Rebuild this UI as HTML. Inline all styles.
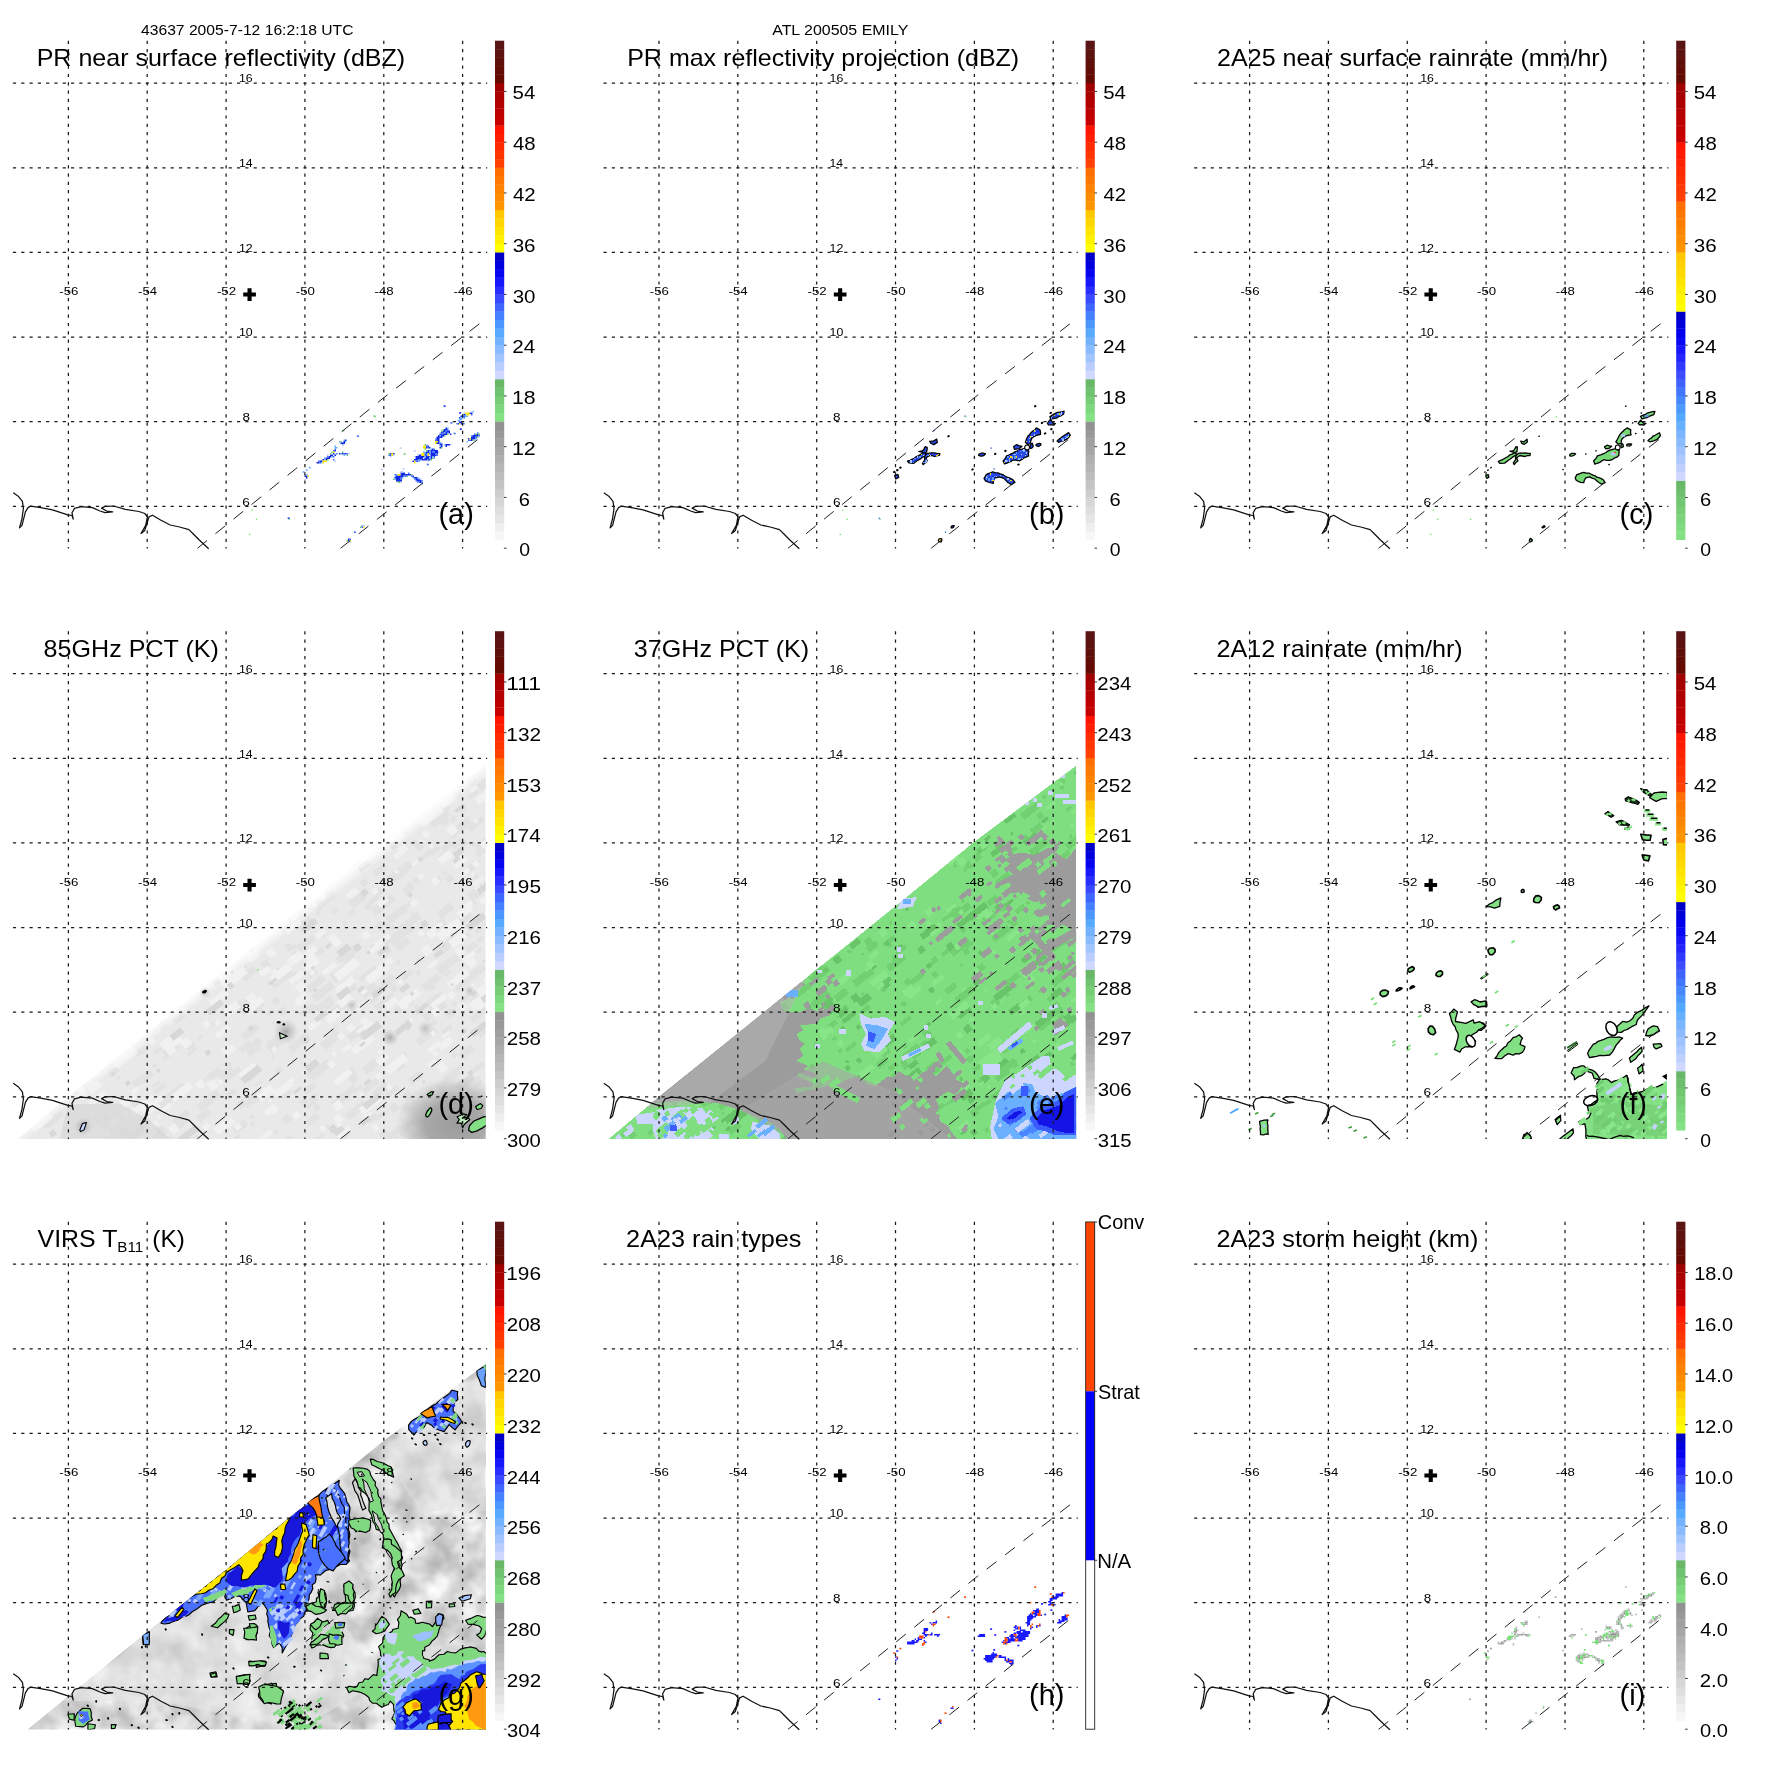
<!DOCTYPE html>
<html><head><meta charset="utf-8"><title>TRMM 43637 ATL 200505 EMILY</title>
<style>html,body{margin:0;padding:0;background:#fff}svg{display:block;will-change:transform}text{font-family:"Liberation Sans",sans-serif;fill:#000}</style></head><body>
<svg width="1771" height="1771" viewBox="0 0 1771 1771">
<rect width="1771" height="1771" fill="#fff"/>
<defs><g id="grid" stroke="#1a1a1a" stroke-width="1.25" stroke-dasharray="3.2 5.1" fill="none">
<path d="M68.4 40.7V548.6"/>
<path d="M147.2 40.7V548.6"/>
<path d="M226.1 40.7V548.6"/>
<path d="M304.9 40.7V548.6"/>
<path d="M383.8 40.7V548.6"/>
<path d="M462.6 40.7V548.6"/>
<path d="M12.9 83.1H487.2"/>
<path d="M12.9 167.8H487.2"/>
<path d="M12.9 252.4H487.2"/>
<path d="M12.9 337.1H487.2"/>
<path d="M12.9 421.7H487.2"/>
<path d="M12.9 506.4H487.2"/>
</g>
<g id="lab" font-size="11.6" fill="#111">
<text x="59.24" y="295.0" font-size="11.5" textLength="19.1" lengthAdjust="spacingAndGlyphs" >-56</text>
<text x="138.09" y="295.0" font-size="11.5" textLength="19.0" lengthAdjust="spacingAndGlyphs" >-54</text>
<text x="216.94" y="295.0" font-size="11.5" textLength="19.2" lengthAdjust="spacingAndGlyphs" >-52</text>
<text x="295.79" y="295.0" font-size="11.5" textLength="19.1" lengthAdjust="spacingAndGlyphs" >-50</text>
<text x="374.64" y="295.0" font-size="11.5" textLength="19.1" lengthAdjust="spacingAndGlyphs" >-48</text>
<text x="453.49" y="295.0" font-size="11.5" textLength="19.1" lengthAdjust="spacingAndGlyphs" >-46</text>
<text x="238.94" y="82.4" font-size="11.5" textLength="13.7" lengthAdjust="spacingAndGlyphs" >16</text>
<text x="238.94" y="167.1" font-size="11.5" textLength="13.6" lengthAdjust="spacingAndGlyphs" >14</text>
<text x="238.94" y="251.7" font-size="11.5" textLength="13.8" lengthAdjust="spacingAndGlyphs" >12</text>
<text x="238.94" y="336.4" font-size="11.5" textLength="13.7" lengthAdjust="spacingAndGlyphs" >10</text>
<text x="242.44" y="421.0" font-size="11.5" textLength="7.5" lengthAdjust="spacingAndGlyphs" >8</text>
<text x="242.33" y="505.7" font-size="11.5" textLength="7.6" lengthAdjust="spacingAndGlyphs" >6</text>
</g>
<path id="plus" d="M247.5 288.2h4.1v4.3h4.3v4.1h-4.3v4.4h-4.1v-4.4h-4.3v-4.1h4.3z" fill="#000"/>
<path id="coast" d="M13.2 492.8L18.6 496.6L22.4 501.3L23.4 508.4L22 518.6L19.5 527.9L22 525.4L23.7 518.6L25.4 511.8L28 507.6L30.5 506.2L40.7 507.6L52.5 509.8L67.8 514.9L72 515.5L73.2 519.1L72 512.7L74.5 508.4L81.3 506.7L92.3 507.6L100 511L105 512.7L112.7 511.8L106.7 511L101.6 508.1L105 506.4L113.5 506L125.4 509.3L138.9 511.5L144.8 513.5L147.4 516.9L145.7 525.4L141 533.5L144.8 530.4L147.4 522L149 516.9L152.5 515.2L161 520.3L170.2 525L179.6 527L188.9 529.6L193.1 533.8L199 539.8L208.7 548.7" fill="none" stroke="#111" stroke-width="1.25" stroke-linejoin="round"/>
<g id="swath" stroke="#222" stroke-width="1.0" stroke-dasharray="12.4 10.8" fill="none"><path d="M197.4 548.3L383.5 397.9L483 321"/><path d="M340.5 548.3L481.5 436.5"/></g>
<g id="over"><use href="#grid"/><use href="#swath"/><use href="#coast"/><use href="#lab"/><use href="#plus"/></g></defs>
<defs><clipPath id="cde"><path d="M17.9 548.4L68.7 506.0L146.6 443.3L225.9 379.0L304.9 315.5L383.9 251.1L462.5 192.2L485.7 175.0L485.7 548.4Z"/></clipPath>
<linearGradient id="gd" gradientUnits="userSpaceOnUse" x1="250" y1="358" x2="257.4" y2="367.4"><stop offset="0" stop-color="#fff"/><stop offset="1" stop-color="#fff" stop-opacity="0"/></linearGradient>
<radialGradient id="rd" gradientUnits="userSpaceOnUse" cx="455" cy="534" r="60" gradientTransform="translate(455 534) scale(1 0.8) translate(-455 -534)"><stop offset="0" stop-color="#9c9c9c"/><stop offset="0.5" stop-color="#a6a6a6" stop-opacity="0.96"/><stop offset="0.8" stop-color="#bcbcbc" stop-opacity="0.6"/><stop offset="1" stop-color="#d0d0d0" stop-opacity="0"/></radialGradient>
<radialGradient id="rs" cx="0.5" cy="0.5" r="0.5"><stop offset="0" stop-color="#9a9a9a" stop-opacity="0.9"/><stop offset="1" stop-color="#bbb" stop-opacity="0"/></radialGradient>
<clipPath id="cg"><path d="M27.6 548.6L147.9 450.2L226.6 388.5L304.5 324.2L384.0 259.4L485.8 182.7L485.8 548.6Z"/></clipPath>
<filter id="ng" x="0" y="0" width="100%" height="100%" color-interpolation-filters="sRGB"><feTurbulence type="fractalNoise" baseFrequency="0.035" numOctaves="3" seed="7"/><feColorMatrix type="matrix" values="0.5 0 0 0 0.6  0.5 0 0 0 0.6  0.5 0 0 0 0.6  0 0 0 0 1"/></filter>
<filter id="nd" x="0" y="0" width="100%" height="100%" color-interpolation-filters="sRGB"><feTurbulence type="fractalNoise" baseFrequency="0.06" numOctaves="2" seed="3"/><feColorMatrix type="matrix" values="0.22 0 0 0 0.80  0.22 0 0 0 0.80  0.22 0 0 0 0.80  0 0 0 0 1"/></filter>
<clipPath id="cf"><rect x="0" y="0" width="485.8" height="548.4"/></clipPath></defs>
<text x="141.00" y="34.5" font-size="14.8" textLength="212.5" lengthAdjust="spacingAndGlyphs" >43637 2005-7-12 16:2:18 UTC</text>
<text x="772.20" y="34.7" font-size="14.8" textLength="136.1" lengthAdjust="spacingAndGlyphs" >ATL 200505 EMILY</text>
<g transform="translate(0.0 0.0)">
<g>
<path d="M316.5 462.0h1.50v1.50h-1.50zM318.0 462.0h1.50v1.50h-1.50zM319.5 460.5h1.50v1.50h-1.50zM321.0 460.5h1.50v1.50h-1.50zM322.5 459.0h1.50v1.50h-1.50zM325.5 457.5h1.50v1.50h-1.50zM325.5 459.0h1.50v1.50h-1.50zM327.0 457.5h1.50v1.50h-1.50zM328.5 456.0h1.50v1.50h-1.50zM328.5 457.5h1.50v1.50h-1.50zM330.0 454.5h1.50v1.50h-1.50zM330.0 456.0h1.50v1.50h-1.50zM331.5 454.5h1.50v1.50h-1.50zM333.0 453.0h1.50v1.50h-1.50z" fill="#1428e8"/><path d="M318.0 460.5h1.50v1.50h-1.50zM319.5 462.0h1.50v1.50h-1.50zM327.0 456.0h1.50v1.50h-1.50z" fill="#3c6cff"/><path d="M321.0 462.0h1.50v1.50h-1.50zM324.0 457.5h1.50v1.50h-1.50zM324.0 459.0h1.50v1.50h-1.50zM331.5 456.0h1.50v1.50h-1.50zM334.5 454.5h1.50v1.50h-1.50z" fill="#6ab0ff"/><path d="M322.5 460.5h1.50v1.50h-1.50zM322.5 462.0h1.50v1.50h-1.50zM324.0 460.5h1.50v1.50h-1.50zM325.5 460.5h1.50v1.50h-1.50z" fill="#ffe800"/><path d="M327.0 454.5h1.50v1.50h-1.50z" fill="#b8ccff"/><path d="M327.0 459.0h1.50v1.50h-1.50zM330.0 453.0h1.50v1.50h-1.50z" fill="#70c870"/>
<path d="M331.5 451.5h1.50v1.50h-1.50z" fill="#70c870"/><path d="M333.0 450.0h1.50v1.50h-1.50zM334.5 448.5h1.50v1.50h-1.50z" fill="#3c6cff"/><path d="M333.0 451.5h1.50v1.50h-1.50z" fill="#ffe800"/><path d="M334.5 445.5h1.50v1.50h-1.50zM334.5 447.0h1.50v1.50h-1.50zM336.0 447.0h1.50v1.50h-1.50z" fill="#6ab0ff"/><path d="M334.5 450.0h1.50v1.50h-1.50z" fill="#1428e8"/>
<path d="M333.0 456.0h1.50v1.50h-1.50zM333.0 459.0h1.50v1.50h-1.50zM336.0 453.0h1.50v1.50h-1.50zM343.5 453.0h1.50v1.50h-1.50zM346.5 453.0h1.50v1.50h-1.50z" fill="#3c6cff"/><path d="M334.5 454.5h1.50v1.50h-1.50zM339.0 453.0h1.50v1.50h-1.50zM342.0 453.0h1.50v1.50h-1.50zM345.0 453.0h1.50v1.50h-1.50z" fill="#1428e8"/><path d="M334.5 460.5h1.50v1.50h-1.50zM348.0 453.0h1.50v1.50h-1.50z" fill="#b8ccff"/><path d="M340.5 453.0h1.50v1.50h-1.50zM343.5 454.5h1.50v1.50h-1.50z" fill="#6ab0ff"/><path d="M342.0 451.5h1.50v1.50h-1.50zM346.5 454.5h1.50v1.50h-1.50z" fill="#70c870"/>
<path d="M339.0 441.0h1.50v1.50h-1.50zM342.0 444.0h1.50v1.50h-1.50zM343.5 439.5h1.50v1.50h-1.50zM345.0 441.0h1.50v1.50h-1.50z" fill="#6ab0ff"/><path d="M340.5 441.0h1.50v1.50h-1.50z" fill="#70c870"/><path d="M340.5 442.5h1.50v1.50h-1.50zM342.0 442.5h1.50v1.50h-1.50zM343.5 441.0h1.50v1.50h-1.50zM343.5 442.5h1.50v1.50h-1.50zM345.0 439.5h1.50v1.50h-1.50z" fill="#1428e8"/>
<path d="M304.5 475.5h1.50v1.50h-1.50zM306.0 475.5h1.50v1.50h-1.50zM306.0 477.0h1.50v1.50h-1.50z" fill="#1428e8"/><path d="M304.5 478.5h1.50v1.50h-1.50z" fill="#b8ccff"/><path d="M306.0 474.0h1.50v1.50h-1.50z" fill="#6ab0ff"/><path d="M307.5 475.5h1.50v1.50h-1.50z" fill="#ffe800"/>
<path d="M412.5 460.5h1.50v1.50h-1.50zM414.0 459.0h1.50v1.50h-1.50zM415.5 456.0h1.50v1.50h-1.50zM415.5 457.5h1.50v1.50h-1.50zM415.5 459.0h1.50v1.50h-1.50zM417.0 456.0h1.50v1.50h-1.50zM417.0 457.5h1.50v1.50h-1.50zM417.0 459.0h1.50v1.50h-1.50zM418.5 454.5h1.50v1.50h-1.50zM418.5 456.0h1.50v1.50h-1.50zM418.5 457.5h1.50v1.50h-1.50zM420.0 454.5h1.50v1.50h-1.50zM420.0 456.0h1.50v1.50h-1.50zM420.0 457.5h1.50v1.50h-1.50zM421.5 456.0h1.50v1.50h-1.50zM421.5 457.5h1.50v1.50h-1.50zM421.5 459.0h1.50v1.50h-1.50zM423.0 456.0h1.50v1.50h-1.50zM423.0 459.0h1.50v1.50h-1.50zM424.5 457.5h1.50v1.50h-1.50zM424.5 459.0h1.50v1.50h-1.50zM426.0 451.5h1.50v1.50h-1.50zM426.0 456.0h1.50v1.50h-1.50zM426.0 457.5h1.50v1.50h-1.50zM426.0 459.0h1.50v1.50h-1.50zM427.5 450.0h1.50v1.50h-1.50zM427.5 451.5h1.50v1.50h-1.50zM427.5 456.0h1.50v1.50h-1.50zM427.5 457.5h1.50v1.50h-1.50zM429.0 459.0h1.50v1.50h-1.50zM430.5 450.0h1.50v1.50h-1.50zM430.5 451.5h1.50v1.50h-1.50zM430.5 453.0h1.50v1.50h-1.50zM430.5 454.5h1.50v1.50h-1.50zM430.5 456.0h1.50v1.50h-1.50zM430.5 457.5h1.50v1.50h-1.50zM432.0 448.5h1.50v1.50h-1.50zM432.0 450.0h1.50v1.50h-1.50zM432.0 453.0h1.50v1.50h-1.50zM432.0 454.5h1.50v1.50h-1.50zM433.5 450.0h1.50v1.50h-1.50zM433.5 453.0h1.50v1.50h-1.50zM433.5 454.5h1.50v1.50h-1.50zM433.5 456.0h1.50v1.50h-1.50zM435.0 450.0h1.50v1.50h-1.50zM435.0 451.5h1.50v1.50h-1.50zM435.0 454.5h1.50v1.50h-1.50zM436.5 450.0h1.50v1.50h-1.50zM436.5 451.5h1.50v1.50h-1.50zM436.5 453.0h1.50v1.50h-1.50z" fill="#1428e8"/><path d="M414.0 456.0h1.50v1.50h-1.50zM417.0 454.5h1.50v1.50h-1.50zM427.5 460.5h1.50v1.50h-1.50zM438.0 451.5h1.50v1.50h-1.50z" fill="#b8ccff"/><path d="M414.0 460.5h1.50v1.50h-1.50zM414.0 462.0h1.50v1.50h-1.50zM421.5 453.0h1.50v1.50h-1.50zM421.5 454.5h1.50v1.50h-1.50zM423.0 453.0h1.50v1.50h-1.50zM423.0 454.5h1.50v1.50h-1.50zM427.5 453.0h1.50v1.50h-1.50zM427.5 454.5h1.50v1.50h-1.50z" fill="#ffe800"/><path d="M415.5 460.5h1.50v1.50h-1.50zM417.0 460.5h1.50v1.50h-1.50zM418.5 459.0h1.50v1.50h-1.50zM420.0 459.0h1.50v1.50h-1.50zM424.5 453.0h1.50v1.50h-1.50zM424.5 454.5h1.50v1.50h-1.50zM426.0 453.0h1.50v1.50h-1.50zM426.0 454.5h1.50v1.50h-1.50zM427.5 459.0h1.50v1.50h-1.50zM429.0 450.0h1.50v1.50h-1.50zM429.0 453.0h1.50v1.50h-1.50zM429.0 456.0h1.50v1.50h-1.50zM432.0 451.5h1.50v1.50h-1.50zM433.5 448.5h1.50v1.50h-1.50zM433.5 451.5h1.50v1.50h-1.50zM435.0 453.0h1.50v1.50h-1.50zM436.5 454.5h1.50v1.50h-1.50z" fill="#3c6cff"/><path d="M418.5 460.5h1.50v1.50h-1.50zM423.0 451.5h1.50v1.50h-1.50zM424.5 451.5h1.50v1.50h-1.50zM424.5 456.0h1.50v1.50h-1.50zM429.0 451.5h1.50v1.50h-1.50zM429.0 457.5h1.50v1.50h-1.50zM430.5 448.5h1.50v1.50h-1.50zM432.0 456.0h1.50v1.50h-1.50zM433.5 457.5h1.50v1.50h-1.50z" fill="#6ab0ff"/><path d="M426.0 450.0h1.50v1.50h-1.50zM430.5 459.0h1.50v1.50h-1.50zM432.0 457.5h1.50v1.50h-1.50z" fill="#70c870"/>
<path d="M435.0 438.0h1.50v1.50h-1.50zM439.5 435.0h1.50v1.50h-1.50zM444.0 432.0h1.50v1.50h-1.50zM447.0 427.5h1.50v1.50h-1.50z" fill="#6ab0ff"/><path d="M435.0 439.5h1.50v1.50h-1.50zM441.0 433.5h1.50v1.50h-1.50zM442.5 432.0h1.50v1.50h-1.50zM445.5 430.5h1.50v1.50h-1.50zM447.0 429.0h1.50v1.50h-1.50zM447.0 432.0h1.50v1.50h-1.50z" fill="#3c6cff"/><path d="M435.0 441.0h1.50v1.50h-1.50zM435.0 442.5h1.50v1.50h-1.50zM436.5 441.0h1.50v1.50h-1.50z" fill="#ffe800"/><path d="M436.5 436.5h1.50v1.50h-1.50zM436.5 438.0h1.50v1.50h-1.50zM436.5 439.5h1.50v1.50h-1.50zM436.5 442.5h1.50v1.50h-1.50zM438.0 435.0h1.50v1.50h-1.50zM438.0 436.5h1.50v1.50h-1.50zM438.0 438.0h1.50v1.50h-1.50zM438.0 439.5h1.50v1.50h-1.50zM438.0 441.0h1.50v1.50h-1.50zM438.0 442.5h1.50v1.50h-1.50zM439.5 433.5h1.50v1.50h-1.50zM439.5 436.5h1.50v1.50h-1.50zM441.0 432.0h1.50v1.50h-1.50zM441.0 435.0h1.50v1.50h-1.50zM441.0 436.5h1.50v1.50h-1.50zM442.5 430.5h1.50v1.50h-1.50zM442.5 433.5h1.50v1.50h-1.50zM442.5 435.0h1.50v1.50h-1.50zM444.0 429.0h1.50v1.50h-1.50zM444.0 430.5h1.50v1.50h-1.50zM444.0 433.5h1.50v1.50h-1.50zM445.5 427.5h1.50v1.50h-1.50zM445.5 429.0h1.50v1.50h-1.50zM445.5 432.0h1.50v1.50h-1.50zM445.5 433.5h1.50v1.50h-1.50zM447.0 430.5h1.50v1.50h-1.50zM448.5 430.5h1.50v1.50h-1.50zM448.5 432.0h1.50v1.50h-1.50zM450.0 433.5h1.50v1.50h-1.50z" fill="#1428e8"/><path d="M439.5 432.0h1.50v1.50h-1.50z" fill="#b8ccff"/><path d="M441.0 430.5h1.50v1.50h-1.50zM442.5 429.0h1.50v1.50h-1.50zM444.0 435.0h1.50v1.50h-1.50zM447.0 433.5h1.50v1.50h-1.50z" fill="#70c870"/>
<path d="M423.0 445.5h1.50v1.50h-1.50zM423.0 447.0h1.50v1.50h-1.50zM424.5 445.5h1.50v1.50h-1.50zM424.5 447.0h1.50v1.50h-1.50z" fill="#ffe800"/><path d="M424.5 444.0h1.50v1.50h-1.50zM424.5 448.5h1.50v1.50h-1.50z" fill="#70c870"/><path d="M426.0 444.0h1.50v1.50h-1.50z" fill="#b8ccff"/><path d="M426.0 445.5h1.50v1.50h-1.50zM427.5 447.0h1.50v1.50h-1.50z" fill="#3c6cff"/><path d="M426.0 447.0h1.50v1.50h-1.50zM427.5 445.5h1.50v1.50h-1.50zM429.0 447.0h1.50v1.50h-1.50z" fill="#1428e8"/>
<path d="M459.0 417.0h1.50v1.50h-1.50zM460.5 415.5h1.50v1.50h-1.50zM463.5 414.0h1.50v1.50h-1.50zM469.5 412.5h1.50v1.50h-1.50zM471.0 412.5h1.50v1.50h-1.50z" fill="#1428e8"/><path d="M459.0 418.5h1.50v1.50h-1.50zM460.5 417.0h1.50v1.50h-1.50zM460.5 418.5h1.50v1.50h-1.50zM462.0 417.0h1.50v1.50h-1.50zM465.0 414.0h1.50v1.50h-1.50zM465.0 415.5h1.50v1.50h-1.50zM466.5 415.5h1.50v1.50h-1.50zM472.5 411.0h1.50v1.50h-1.50z" fill="#6ab0ff"/><path d="M462.0 414.0h1.50v1.50h-1.50z" fill="#70c870"/><path d="M462.0 415.5h1.50v1.50h-1.50zM463.5 415.5h1.50v1.50h-1.50zM463.5 417.0h1.50v1.50h-1.50zM471.0 414.0h1.50v1.50h-1.50z" fill="#3c6cff"/><path d="M463.5 412.5h1.50v1.50h-1.50zM471.0 411.0h1.50v1.50h-1.50z" fill="#b8ccff"/><path d="M465.0 412.5h1.50v1.50h-1.50zM466.5 412.5h1.50v1.50h-1.50zM466.5 414.0h1.50v1.50h-1.50zM468.0 412.5h1.50v1.50h-1.50zM468.0 414.0h1.50v1.50h-1.50z" fill="#ffe800"/>
<path d="M456.0 423.0h1.50v1.50h-1.50zM457.5 420.0h1.50v1.50h-1.50zM459.0 420.0h1.50v1.50h-1.50zM463.5 423.0h1.50v1.50h-1.50z" fill="#6ab0ff"/><path d="M457.5 423.0h1.50v1.50h-1.50zM459.0 421.5h1.50v1.50h-1.50zM460.5 421.5h1.50v1.50h-1.50zM460.5 423.0h1.50v1.50h-1.50zM462.0 423.0h1.50v1.50h-1.50z" fill="#1428e8"/><path d="M459.0 423.0h1.50v1.50h-1.50z" fill="#ffe800"/>
<path d="M466.5 441.0h1.50v1.50h-1.50zM471.0 435.0h1.50v1.50h-1.50zM475.5 438.0h1.50v1.50h-1.50zM477.0 432.0h1.50v1.50h-1.50z" fill="#6ab0ff"/><path d="M468.0 438.0h1.50v1.50h-1.50zM471.0 436.5h1.50v1.50h-1.50zM471.0 438.0h1.50v1.50h-1.50zM471.0 439.5h1.50v1.50h-1.50zM472.5 435.0h1.50v1.50h-1.50zM472.5 436.5h1.50v1.50h-1.50zM472.5 438.0h1.50v1.50h-1.50zM474.0 435.0h1.50v1.50h-1.50zM474.0 436.5h1.50v1.50h-1.50zM474.0 438.0h1.50v1.50h-1.50zM475.5 435.0h1.50v1.50h-1.50zM477.0 433.5h1.50v1.50h-1.50zM477.0 435.0h1.50v1.50h-1.50z" fill="#1428e8"/><path d="M468.0 439.5h1.50v1.50h-1.50zM469.5 439.5h1.50v1.50h-1.50zM474.0 433.5h1.50v1.50h-1.50zM475.5 436.5h1.50v1.50h-1.50zM478.5 435.0h1.50v1.50h-1.50z" fill="#3c6cff"/><path d="M469.5 438.0h1.50v1.50h-1.50z" fill="#ffe800"/><path d="M472.5 439.5h1.50v1.50h-1.50zM475.5 433.5h1.50v1.50h-1.50zM477.0 436.5h1.50v1.50h-1.50zM478.5 433.5h1.50v1.50h-1.50z" fill="#70c870"/><path d="M474.0 439.5h1.50v1.50h-1.50z" fill="#b8ccff"/>
<path d="M393.0 478.5h1.50v1.50h-1.50zM397.5 481.5h1.50v1.50h-1.50zM399.0 481.5h1.50v1.50h-1.50zM406.5 475.5h1.50v1.50h-1.50zM411.0 474.0h1.50v1.50h-1.50z" fill="#70c870"/><path d="M394.5 474.0h1.50v1.50h-1.50zM400.5 477.0h1.50v1.50h-1.50zM400.5 478.5h1.50v1.50h-1.50zM405.0 475.5h1.50v1.50h-1.50zM408.0 472.5h1.50v1.50h-1.50zM411.0 475.5h1.50v1.50h-1.50zM415.5 480.0h1.50v1.50h-1.50zM418.5 478.5h1.50v1.50h-1.50zM418.5 481.5h1.50v1.50h-1.50zM421.5 481.5h1.50v1.50h-1.50z" fill="#3c6cff"/><path d="M394.5 475.5h1.50v1.50h-1.50zM394.5 478.5h1.50v1.50h-1.50zM396.0 474.0h1.50v1.50h-1.50zM402.0 477.0h1.50v1.50h-1.50zM403.5 475.5h1.50v1.50h-1.50zM412.5 477.0h1.50v1.50h-1.50zM414.0 478.5h1.50v1.50h-1.50zM417.0 477.0h1.50v1.50h-1.50zM417.0 481.5h1.50v1.50h-1.50zM421.5 480.0h1.50v1.50h-1.50zM421.5 483.0h1.50v1.50h-1.50z" fill="#6ab0ff"/><path d="M394.5 477.0h1.50v1.50h-1.50zM396.0 475.5h1.50v1.50h-1.50zM396.0 477.0h1.50v1.50h-1.50zM396.0 478.5h1.50v1.50h-1.50zM396.0 480.0h1.50v1.50h-1.50zM397.5 475.5h1.50v1.50h-1.50zM397.5 477.0h1.50v1.50h-1.50zM397.5 478.5h1.50v1.50h-1.50zM397.5 480.0h1.50v1.50h-1.50zM399.0 475.5h1.50v1.50h-1.50zM399.0 477.0h1.50v1.50h-1.50zM399.0 478.5h1.50v1.50h-1.50zM399.0 480.0h1.50v1.50h-1.50zM400.5 472.5h1.50v1.50h-1.50zM400.5 474.0h1.50v1.50h-1.50zM400.5 475.5h1.50v1.50h-1.50zM400.5 480.0h1.50v1.50h-1.50zM402.0 472.5h1.50v1.50h-1.50zM402.0 474.0h1.50v1.50h-1.50zM402.0 475.5h1.50v1.50h-1.50zM403.5 472.5h1.50v1.50h-1.50zM403.5 474.0h1.50v1.50h-1.50zM405.0 474.0h1.50v1.50h-1.50zM406.5 474.0h1.50v1.50h-1.50zM408.0 474.0h1.50v1.50h-1.50zM409.5 474.0h1.50v1.50h-1.50zM412.5 475.5h1.50v1.50h-1.50zM414.0 477.0h1.50v1.50h-1.50zM415.5 477.0h1.50v1.50h-1.50zM415.5 478.5h1.50v1.50h-1.50zM417.0 478.5h1.50v1.50h-1.50zM417.0 480.0h1.50v1.50h-1.50zM418.5 480.0h1.50v1.50h-1.50zM420.0 480.0h1.50v1.50h-1.50zM420.0 481.5h1.50v1.50h-1.50z" fill="#1428e8"/><path d="M397.5 474.0h1.50v1.50h-1.50zM399.0 474.0h1.50v1.50h-1.50z" fill="#ffe800"/><path d="M400.5 471.0h1.50v1.50h-1.50zM400.5 481.5h1.50v1.50h-1.50zM402.0 471.0h1.50v1.50h-1.50zM420.0 478.5h1.50v1.50h-1.50z" fill="#b8ccff"/>
<path d="M388.5 453.0h1.50v1.50h-1.50z" fill="#70c870"/><path d="M388.5 454.5h1.50v1.50h-1.50zM390.0 454.5h1.50v1.50h-1.50z" fill="#3c6cff"/><path d="M390.0 453.0h1.50v1.50h-1.50zM393.0 453.0h1.50v1.50h-1.50z" fill="#1428e8"/><path d="M390.0 456.0h1.50v1.50h-1.50zM393.0 454.5h1.50v1.50h-1.50z" fill="#b8ccff"/><path d="M391.5 453.0h1.50v1.50h-1.50zM391.5 454.5h1.50v1.50h-1.50z" fill="#ffe800"/>
<path d="M444.0 444.0h1.50v1.50h-1.50z" fill="#6ab0ff"/><path d="M445.5 444.0h1.50v1.50h-1.50zM445.5 445.5h1.50v1.50h-1.50zM447.0 444.0h1.50v1.50h-1.50zM448.5 444.0h1.50v1.50h-1.50z" fill="#1428e8"/><path d="M450.0 444.0h1.50v1.50h-1.50z" fill="#b8ccff"/>
<path d="M439.5 442.5h1.50v1.50h-1.50z" fill="#3c6cff"/><path d="M439.5 444.0h1.50v1.50h-1.50zM439.5 447.0h1.50v1.50h-1.50zM441.0 444.0h1.50v1.50h-1.50zM441.0 445.5h1.50v1.50h-1.50z" fill="#1428e8"/><path d="M439.5 445.5h1.50v1.50h-1.50zM441.0 442.5h1.50v1.50h-1.50z" fill="#6ab0ff"/><path d="M441.0 447.0h1.50v1.50h-1.50z" fill="#70c870"/>
<path d="M346.5 540.0h1.50v1.50h-1.50z" fill="#70c870"/><path d="M348.0 538.5h1.50v1.50h-1.50zM348.0 540.0h1.50v1.50h-1.50z" fill="#1428e8"/><path d="M349.5 538.5h1.50v1.50h-1.50z" fill="#3c6cff"/><path d="M349.5 540.0h1.50v1.50h-1.50z" fill="#ffe800"/><path d="M349.5 541.5h1.50v1.50h-1.50z" fill="#b8ccff"/>
<path d="M360.0 526.5h1.50v1.50h-1.50z" fill="#70c870"/><path d="M361.5 525.0h1.50v1.50h-1.50z" fill="#6ab0ff"/><path d="M361.5 526.5h1.50v1.50h-1.50z" fill="#3c6cff"/><path d="M363.0 525.0h1.50v1.50h-1.50z" fill="#b8ccff"/><path d="M363.0 526.5h1.50v1.50h-1.50z" fill="#ffe800"/>
<rect x="356.9" y="435.4" width="2.0" height="1.6" fill="#3c6cff"/>
<rect x="403.6" y="453.2" width="2.0" height="1.6" fill="#70c870"/>
<rect x="443.6" y="405.3" width="2.0" height="1.6" fill="#1428e8"/>
<rect x="380.9" y="468.7" width="2.0" height="1.6" fill="#b8ccff"/>
<rect x="426.8" y="463.7" width="2.0" height="1.6" fill="#3c6cff"/>
<rect x="413.8" y="450.1" width="2.0" height="1.6" fill="#b8ccff"/>
<rect x="450.4" y="422.1" width="2.0" height="1.6" fill="#3c6cff"/>
<rect x="453.6" y="432.7" width="2.0" height="1.6" fill="#3c6cff"/>
<rect x="459.8" y="428.3" width="2.0" height="1.6" fill="#1428e8"/>
<rect x="438.6" y="420.9" width="2.0" height="1.6" fill="#3c6cff"/>
<rect x="459.1" y="412.2" width="2.0" height="1.6" fill="#1428e8"/>
<rect x="302.6" y="471.2" width="2.0" height="1.6" fill="#6ab0ff"/>
<rect x="305.7" y="469.3" width="2.0" height="1.6" fill="#6ab0ff"/>
<rect x="308.8" y="466.8" width="2.0" height="1.6" fill="#6ab0ff"/>
<rect x="342.4" y="429.9" width="2.0" height="1.6" fill="#70c870"/>
<rect x="402.6" y="468.1" width="2.0" height="1.6" fill="#b8ccff"/>
<rect x="399.5" y="447.3" width="2.0" height="1.6" fill="#b8ccff"/>
<rect x="353.9" y="531.4" width="2.0" height="1.6" fill="#3c6cff"/>
<rect x="373.4" y="415.3" width="2.0" height="1.6" fill="#70c870"/>
<rect x="287.7" y="517.5" width="2.0" height="1.6" fill="#1428e8"/>
</g><rect x="251.6" y="509.3" width="1.3" height="1.3" fill="#70d870"/><rect x="255.8" y="518.6" width="1.3" height="1.3" fill="#70d870"/><rect x="288.8" y="518.6" width="1.3" height="1.3" fill="#70d870"/><rect x="249.0" y="533.8" width="1.3" height="1.3" fill="#70d870"/><rect x="374.4" y="416.1" width="1.3" height="1.3" fill="#70d870"/>
<use href="#over"/>
<text x="36.68" y="66.0" font-size="24.0" textLength="368.5" lengthAdjust="spacingAndGlyphs" >PR near surface reflectivity (dBZ)</text>
<text x="438.4" y="523.6" font-size="29">(a)</text>
<rect x="495.0" y="531.28" width="9.2" height="8.76" fill="#f7f7f7"/>
<rect x="495.0" y="522.83" width="9.2" height="8.76" fill="#efefef"/>
<rect x="495.0" y="514.37" width="9.2" height="8.76" fill="#e6e6e6"/>
<rect x="495.0" y="505.91" width="9.2" height="8.76" fill="#dedede"/>
<rect x="495.0" y="497.45" width="9.2" height="8.76" fill="#d6d6d6"/>
<rect x="495.0" y="488.99" width="9.2" height="8.76" fill="#cdcdcd"/>
<rect x="495.0" y="480.53" width="9.2" height="8.76" fill="#c4c4c4"/>
<rect x="495.0" y="472.08" width="9.2" height="8.76" fill="#bcbcbc"/>
<rect x="495.0" y="463.62" width="9.2" height="8.76" fill="#b5b5b5"/>
<rect x="495.0" y="455.16" width="9.2" height="8.76" fill="#aeaeae"/>
<rect x="495.0" y="446.70" width="9.2" height="8.76" fill="#a6a6a6"/>
<rect x="495.0" y="438.24" width="9.2" height="8.76" fill="#a0a0a0"/>
<rect x="495.0" y="429.78" width="9.2" height="8.76" fill="#999999"/>
<rect x="495.0" y="421.33" width="9.2" height="8.76" fill="#929292"/>
<rect x="495.0" y="412.87" width="9.2" height="8.76" fill="#84e284"/>
<rect x="495.0" y="404.41" width="9.2" height="8.76" fill="#7dd87d"/>
<rect x="495.0" y="395.95" width="9.2" height="8.76" fill="#76cd76"/>
<rect x="495.0" y="387.49" width="9.2" height="8.76" fill="#6fc26f"/>
<rect x="495.0" y="379.03" width="9.2" height="8.76" fill="#68b868"/>
<rect x="495.0" y="370.58" width="9.2" height="8.76" fill="#d0d8ff"/>
<rect x="495.0" y="362.12" width="9.2" height="8.76" fill="#b9ceff"/>
<rect x="495.0" y="353.66" width="9.2" height="8.76" fill="#a2c4ff"/>
<rect x="495.0" y="345.20" width="9.2" height="8.76" fill="#8bbbff"/>
<rect x="495.0" y="336.74" width="9.2" height="8.76" fill="#72b2ff"/>
<rect x="495.0" y="328.28" width="9.2" height="8.76" fill="#57aaff"/>
<rect x="495.0" y="319.83" width="9.2" height="8.76" fill="#4b97ff"/>
<rect x="495.0" y="311.37" width="9.2" height="8.76" fill="#4480ff"/>
<rect x="495.0" y="302.91" width="9.2" height="8.76" fill="#3f65ff"/>
<rect x="495.0" y="294.45" width="9.2" height="8.76" fill="#3849ff"/>
<rect x="495.0" y="285.99" width="9.2" height="8.76" fill="#282eff"/>
<rect x="495.0" y="277.53" width="9.2" height="8.76" fill="#1717fb"/>
<rect x="495.0" y="269.08" width="9.2" height="8.76" fill="#0505f2"/>
<rect x="495.0" y="260.62" width="9.2" height="8.76" fill="#0000df"/>
<rect x="495.0" y="252.16" width="9.2" height="8.76" fill="#0000c8"/>
<rect x="495.0" y="243.70" width="9.2" height="8.76" fill="#ffff00"/>
<rect x="495.0" y="235.24" width="9.2" height="8.76" fill="#fff100"/>
<rect x="495.0" y="226.78" width="9.2" height="8.76" fill="#ffe400"/>
<rect x="495.0" y="218.33" width="9.2" height="8.76" fill="#ffd600"/>
<rect x="495.0" y="209.87" width="9.2" height="8.76" fill="#ffc800"/>
<rect x="495.0" y="201.41" width="9.2" height="8.76" fill="#ff9600"/>
<rect x="495.0" y="192.95" width="9.2" height="8.76" fill="#ff8c00"/>
<rect x="495.0" y="184.49" width="9.2" height="8.76" fill="#ff8200"/>
<rect x="495.0" y="176.03" width="9.2" height="8.76" fill="#ff7800"/>
<rect x="495.0" y="167.58" width="9.2" height="8.76" fill="#ff6e00"/>
<rect x="495.0" y="159.12" width="9.2" height="8.76" fill="#ff4000"/>
<rect x="495.0" y="150.66" width="9.2" height="8.76" fill="#ff3500"/>
<rect x="495.0" y="142.20" width="9.2" height="8.76" fill="#ff2a00"/>
<rect x="495.0" y="133.74" width="9.2" height="8.76" fill="#ff1f00"/>
<rect x="495.0" y="125.28" width="9.2" height="8.76" fill="#ff1400"/>
<rect x="495.0" y="116.82" width="9.2" height="8.76" fill="#c80000"/>
<rect x="495.0" y="108.37" width="9.2" height="8.76" fill="#be0000"/>
<rect x="495.0" y="99.91" width="9.2" height="8.76" fill="#b40000"/>
<rect x="495.0" y="91.45" width="9.2" height="8.76" fill="#aa0000"/>
<rect x="495.0" y="82.99" width="9.2" height="8.76" fill="#a00000"/>
<rect x="495.0" y="74.53" width="9.2" height="8.76" fill="#640a00"/>
<rect x="495.0" y="66.07" width="9.2" height="8.76" fill="#620c05"/>
<rect x="495.0" y="57.62" width="9.2" height="8.76" fill="#5f0f0a"/>
<rect x="495.0" y="49.16" width="9.2" height="8.76" fill="#5c120f"/>
<rect x="495.0" y="40.70" width="9.2" height="8.76" fill="#5a1414"/>
<path d="M503.9 548.20h2.6" stroke="#222" stroke-width="0.9"/>
<text x="519.15" y="556.2" font-size="18.6" textLength="10.8" lengthAdjust="spacingAndGlyphs" >0</text>
<path d="M503.9 497.45h2.6" stroke="#222" stroke-width="0.9"/>
<text x="518.87" y="505.5" font-size="18.6" textLength="11.2" lengthAdjust="spacingAndGlyphs" >6</text>
<path d="M503.9 446.70h2.6" stroke="#222" stroke-width="0.9"/>
<text x="511.90" y="454.7" font-size="18.6" textLength="23.8" lengthAdjust="spacingAndGlyphs" >12</text>
<path d="M503.9 395.95h2.6" stroke="#222" stroke-width="0.9"/>
<text x="511.90" y="404.0" font-size="18.6" textLength="23.7" lengthAdjust="spacingAndGlyphs" >18</text>
<path d="M503.9 345.20h2.6" stroke="#222" stroke-width="0.9"/>
<text x="512.37" y="353.2" font-size="18.6" textLength="22.9" lengthAdjust="spacingAndGlyphs" >24</text>
<path d="M503.9 294.45h2.6" stroke="#222" stroke-width="0.9"/>
<text x="512.65" y="302.5" font-size="18.6" textLength="22.8" lengthAdjust="spacingAndGlyphs" >30</text>
<path d="M503.9 243.70h2.6" stroke="#222" stroke-width="0.9"/>
<text x="512.65" y="251.7" font-size="18.6" textLength="22.9" lengthAdjust="spacingAndGlyphs" >36</text>
<path d="M503.9 192.95h2.6" stroke="#222" stroke-width="0.9"/>
<text x="512.93" y="201.0" font-size="18.6" textLength="22.7" lengthAdjust="spacingAndGlyphs" >42</text>
<path d="M503.9 142.20h2.6" stroke="#222" stroke-width="0.9"/>
<text x="512.93" y="150.2" font-size="18.6" textLength="22.6" lengthAdjust="spacingAndGlyphs" >48</text>
<path d="M503.9 91.45h2.6" stroke="#222" stroke-width="0.9"/>
<text x="512.56" y="99.4" font-size="18.6" textLength="22.7" lengthAdjust="spacingAndGlyphs" >54</text>
</g>
<g transform="translate(590.6 0.0)">
<g>
<path d="M316.8 461.1L319.5 460.4L321.4 459.4L323.6 458.2L325.2 456.9L327.0 456.2L329.4 454.9L331.7 453.1L334.2 451.9L336.1 454.9L333.7 456.3L331.4 457.7L329.4 459.2L326.9 460.4L325.3 461.6L323.0 463.4L318.5 463.0Z" fill="#2a4ce6" stroke="#000" stroke-width="1.25" stroke-linejoin="round"/>
<g shape-rendering="crispEdges"><path d="M319.8 460.2h1.30v1.30h-1.30zM319.8 461.5h1.30v1.30h-1.30zM326.3 456.3h1.30v1.30h-1.30zM332.8 455.0h1.30v1.30h-1.30z" fill="#a8c8ff"/><path d="M322.4 458.9h1.30v1.30h-1.30zM322.4 461.5h1.30v1.30h-1.30zM323.7 457.6h1.30v1.30h-1.30zM328.9 456.3h1.30v1.30h-1.30z" fill="#5a98ff"/><path d="M325.0 458.9h1.30v1.30h-1.30z" fill="#1a2ae0"/><path d="M330.2 453.7h1.30v1.30h-1.30z" fill="#ffd800"/></g>
<path d="M328.1 451.5L330.6 451.2L332.9 450.1L334.4 446.7L336.6 447.3L336.5 449.7L336.1 451.9L333.8 453.0L331.4 452.1Z" fill="#2a4ce6" stroke="#000" stroke-width="1.25" stroke-linejoin="round"/>
<path d="M335.7 453.7L338.8 453.0L341.6 452.8L344.0 452.9L346.7 453.5L349.3 453.7L348.8 455.4L346.7 455.7L344.0 456.5L341.6 455.7L339.3 455.4L337.1 456.6L335.5 457.9L336.5 461.0L334.8 462.7L332.6 464.6L331.8 463.6L333.9 460.2L334.2 456.1Z" fill="#2a4ce6" stroke="#000" stroke-width="1.25" stroke-linejoin="round"/>
<g shape-rendering="crispEdges"><path d="M332.8 461.5h1.30v1.30h-1.30zM334.1 460.2h1.30v1.30h-1.30zM336.7 455.0h1.30v1.30h-1.30z" fill="#5a98ff"/><path d="M334.1 461.5h1.30v1.30h-1.30zM335.4 460.2h1.30v1.30h-1.30zM339.3 455.0h1.30v1.30h-1.30z" fill="#a8c8ff"/><path d="M335.4 458.9h1.30v1.30h-1.30zM340.6 453.7h1.30v1.30h-1.30zM344.5 455.0h1.30v1.30h-1.30z" fill="#1a2ae0"/><path d="M338.0 453.7h1.30v1.30h-1.30zM345.8 455.0h1.30v1.30h-1.30zM347.1 453.7h1.30v1.30h-1.30z" fill="#ffd800"/></g>
<path d="M339.0 441.3L342.5 441.2L346.1 439.1L346.7 442.4L343.2 444.6L340.1 443.2Z" fill="#2a4ce6" stroke="#000" stroke-width="1.25" stroke-linejoin="round"/>
<path d="M304.1 475.7L307.3 474.4L308.1 477.4L305.1 478.9Z" fill="#2a4ce6" stroke="#000" stroke-width="1.25" stroke-linejoin="round"/>
<path d="M412.5 461.0L414.5 458.6L416.0 455.9L418.3 455.2L419.9 454.1L422.4 453.0L424.3 451.9L426.5 451.0L428.8 449.7L431.5 449.1L434.7 448.3L436.3 449.8L438.3 451.2L437.8 453.2L438.0 456.1L435.9 456.9L433.3 458.0L431.3 459.4L428.8 461.0L425.5 460.2L422.2 460.1L420.4 461.5L417.8 462.5L416.4 463.1L413.9 463.9Z" fill="#2a4ce6" stroke="#000" stroke-width="1.25" stroke-linejoin="round"/>
<g shape-rendering="crispEdges"><path d="M413.4 461.5h1.30v1.30h-1.30zM418.6 457.6h1.30v1.30h-1.30zM419.9 456.3h1.30v1.30h-1.30zM421.2 457.6h1.30v1.30h-1.30zM425.1 456.3h1.30v1.30h-1.30z" fill="#ffd800"/><path d="M414.7 460.2h1.30v1.30h-1.30zM418.6 460.2h1.30v1.30h-1.30zM423.8 453.7h1.30v1.30h-1.30zM427.7 458.9h1.30v1.30h-1.30zM429.0 457.6h1.30v1.30h-1.30zM430.3 453.7h1.30v1.30h-1.30zM431.6 449.8h1.30v1.30h-1.30zM432.9 448.5h1.30v1.30h-1.30zM432.9 449.8h1.30v1.30h-1.30zM434.2 455.0h1.30v1.30h-1.30zM435.5 452.4h1.30v1.30h-1.30z" fill="#a8c8ff"/><path d="M416.0 456.3h1.30v1.30h-1.30zM416.0 460.2h1.30v1.30h-1.30zM417.3 456.3h1.30v1.30h-1.30zM418.6 455.0h1.30v1.30h-1.30zM418.6 458.9h1.30v1.30h-1.30zM421.2 456.3h1.30v1.30h-1.30zM422.5 453.7h1.30v1.30h-1.30zM423.8 456.3h1.30v1.30h-1.30zM423.8 457.6h1.30v1.30h-1.30zM425.1 452.4h1.30v1.30h-1.30zM427.7 457.6h1.30v1.30h-1.30zM429.0 451.1h1.30v1.30h-1.30zM431.6 457.6h1.30v1.30h-1.30zM432.9 451.1h1.30v1.30h-1.30z" fill="#5a98ff"/><path d="M416.0 458.9h1.30v1.30h-1.30zM418.6 456.3h1.30v1.30h-1.30zM419.9 455.0h1.30v1.30h-1.30zM421.2 458.9h1.30v1.30h-1.30zM422.5 457.6h1.30v1.30h-1.30zM427.7 449.8h1.30v1.30h-1.30zM429.0 455.0h1.30v1.30h-1.30zM434.2 449.8h1.30v1.30h-1.30zM434.2 453.7h1.30v1.30h-1.30z" fill="#1a2ae0"/></g>
<path d="M434.8 442.3L435.5 440.1L436.2 438.3L437.3 436.3L439.3 434.2L440.6 432.4L442.6 430.7L444.5 429.7L445.8 427.9L449.3 429.7L449.9 432.0L449.9 434.4L445.9 435.4L443.1 436.7L441.2 438.3L440.1 441.2L439.5 443.6L437.1 444.5Z" fill="#2a4ce6" stroke="#000" stroke-width="1.25" stroke-linejoin="round"/>
<g shape-rendering="crispEdges"><path d="M435.5 440.7h1.30v1.30h-1.30zM439.4 435.5h1.30v1.30h-1.30zM439.4 436.8h1.30v1.30h-1.30zM443.3 430.3h1.30v1.30h-1.30z" fill="#ffd800"/><path d="M436.8 440.7h1.30v1.30h-1.30zM444.6 431.6h1.30v1.30h-1.30zM445.9 430.3h1.30v1.30h-1.30zM447.2 430.3h1.30v1.30h-1.30zM447.2 432.9h1.30v1.30h-1.30z" fill="#1a2ae0"/><path d="M438.1 438.1h1.30v1.30h-1.30zM438.1 440.7h1.30v1.30h-1.30zM440.7 435.5h1.30v1.30h-1.30zM443.3 434.2h1.30v1.30h-1.30z" fill="#a8c8ff"/><path d="M444.6 430.3h1.30v1.30h-1.30z" fill="#5a98ff"/></g>
<path d="M423.1 446.5L425.9 444.7L428.3 445.7L431.3 446.4L428.6 448.6L423.8 449.3Z" fill="#2a4ce6" stroke="#000" stroke-width="1.25" stroke-linejoin="round"/>
<path d="M459.2 416.7L461.3 415.4L463.2 414.1L465.8 412.7L468.8 412.1L471.3 411.8L473.5 411.2L473.1 414.0L470.4 415.8L468.3 416.5L465.8 418.1L462.9 418.7L460.2 419.1Z" fill="#2a4ce6" stroke="#000" stroke-width="1.25" stroke-linejoin="round"/>
<g shape-rendering="crispEdges"><path d="M460.2 417.3h1.30v1.30h-1.30zM466.7 413.4h1.30v1.30h-1.30zM469.3 413.4h1.30v1.30h-1.30zM469.3 414.7h1.30v1.30h-1.30z" fill="#5a98ff"/><path d="M461.5 416.0h1.30v1.30h-1.30zM470.6 412.1h1.30v1.30h-1.30zM470.6 413.4h1.30v1.30h-1.30z" fill="#a8c8ff"/><path d="M462.8 414.7h1.30v1.30h-1.30zM468.0 413.4h1.30v1.30h-1.30z" fill="#ffd800"/><path d="M464.1 416.0h1.30v1.30h-1.30zM465.4 414.7h1.30v1.30h-1.30zM471.9 412.1h1.30v1.30h-1.30z" fill="#1a2ae0"/></g>
<path d="M456.8 423.5L458.2 421.4L459.6 419.5L462.7 423.0L464.8 423.6L463.3 425.0L461.0 424.8L457.9 425.0Z" fill="#2a4ce6" stroke="#000" stroke-width="1.25" stroke-linejoin="round"/>
<path d="M466.5 441.0L468.1 439.5L470.3 437.8L472.2 436.2L473.9 435.2L476.2 433.7L477.9 432.6L479.7 435.1L477.8 437.8L475.7 439.4L473.1 440.8L470.4 441.2L468.1 442.4Z" fill="#2a4ce6" stroke="#000" stroke-width="1.25" stroke-linejoin="round"/>
<g shape-rendering="crispEdges"><path d="M469.3 439.4h1.30v1.30h-1.30z" fill="#1a2ae0"/><path d="M470.6 438.1h1.30v1.30h-1.30zM471.9 438.1h1.30v1.30h-1.30zM474.5 435.5h1.30v1.30h-1.30zM475.8 435.5h1.30v1.30h-1.30zM477.1 434.2h1.30v1.30h-1.30z" fill="#5a98ff"/><path d="M471.9 439.4h1.30v1.30h-1.30zM474.5 438.1h1.30v1.30h-1.30zM475.8 436.8h1.30v1.30h-1.30z" fill="#a8c8ff"/><path d="M477.1 435.5h1.30v1.30h-1.30z" fill="#ffd800"/></g>
<path d="M393.4 478.5L395.7 474.6L398.2 473.4L400.0 472.8L402.1 471.8L405.0 472.9L407.3 472.9L409.5 473.8L412.2 474.6L413.8 475.7L416.3 477.2L417.9 477.7L420.4 478.6L422.3 479.7L424.4 482.3L420.8 484.6L418.6 483.3L416.8 482.2L413.8 478.8L411.3 477.6L408.4 477.0L406.2 477.7L403.9 478.2L402.9 480.8L402.7 483.4L398.7 482.5L394.7 480.8Z" fill="#2a4ce6" stroke="#000" stroke-width="1.25" stroke-linejoin="round"/>
<g shape-rendering="crispEdges"><path d="M395.2 475.8h1.30v1.30h-1.30zM395.2 477.1h1.30v1.30h-1.30zM405.6 475.8h1.30v1.30h-1.30zM409.5 474.5h1.30v1.30h-1.30zM416.0 478.4h1.30v1.30h-1.30zM417.3 478.4h1.30v1.30h-1.30z" fill="#a8c8ff"/><path d="M395.2 478.4h1.30v1.30h-1.30zM396.5 474.5h1.30v1.30h-1.30zM396.5 477.1h1.30v1.30h-1.30zM397.8 478.4h1.30v1.30h-1.30zM397.8 479.7h1.30v1.30h-1.30zM399.1 474.5h1.30v1.30h-1.30zM400.4 479.7h1.30v1.30h-1.30zM401.7 477.1h1.30v1.30h-1.30zM401.7 478.4h1.30v1.30h-1.30zM403.0 475.8h1.30v1.30h-1.30zM412.1 475.8h1.30v1.30h-1.30zM418.6 481.0h1.30v1.30h-1.30z" fill="#5a98ff"/><path d="M396.5 479.7h1.30v1.30h-1.30zM399.1 481.0h1.30v1.30h-1.30zM401.7 475.8h1.30v1.30h-1.30zM403.0 478.4h1.30v1.30h-1.30zM405.6 473.2h1.30v1.30h-1.30z" fill="#1a2ae0"/><path d="M399.1 473.2h1.30v1.30h-1.30zM401.7 479.7h1.30v1.30h-1.30zM419.9 479.7h1.30v1.30h-1.30z" fill="#ffd800"/></g>
<path d="M394.9 453.9L393.5 455.4L391.3 456.2L389.1 455.9L388.0 455.2L388.4 454.0L391.2 453.0L393.3 453.2Z" fill="#2a4ce6" stroke="#000" stroke-width="1.25" stroke-linejoin="round"/>
<path d="M450.4 444.1L450.0 445.3L448.1 446.5L446.4 446.1L445.3 445.3L445.5 444.6L447.1 443.7L449.2 443.3Z" fill="#2a4ce6" stroke="#000" stroke-width="1.25" stroke-linejoin="round"/>
<path d="M442.7 446.1L441.7 447.8L440.4 448.5L439.4 447.5L439.7 446.0L440.4 443.8L441.5 443.1L442.0 444.1Z" fill="#2a4ce6" stroke="#000" stroke-width="1.25" stroke-linejoin="round"/>
<path d="M351.2 540.4L350.7 541.8L349.6 541.9L348.5 541.6L347.7 540.3L348.4 539.2L349.8 538.7L351.2 538.9Z" fill="#2a4ce6" stroke="#000" stroke-width="1.25" stroke-linejoin="round"/>
<path d="M363.5 525.7L363.4 526.4L362.9 527.3L361.7 528.0L360.4 527.8L360.8 526.3L361.7 525.7L363.0 525.5Z" fill="#2a4ce6" stroke="#000" stroke-width="1.25" stroke-linejoin="round"/>
<path d="M359.1 435.5L359.1 436.5L358.2 437.3L357.1 437.2L356.6 436.4L357.1 435.4L358.2 435.0Z" fill="#000" />
<path d="M405.8 453.3L405.8 454.3L404.9 455.1L403.8 455.0L403.3 454.2L403.8 453.2L404.9 452.8Z" fill="#000" />
<path d="M445.8 405.5L445.8 406.5L444.9 407.2L443.8 407.2L443.3 406.3L443.8 405.4L444.9 405.0Z" fill="#000" />
<path d="M383.1 468.8L383.1 469.8L382.2 470.6L381.1 470.5L380.6 469.7L381.1 468.7L382.2 468.3Z" fill="#000" />
<path d="M429.0 463.9L429.0 464.9L428.1 465.6L427.0 465.6L426.5 464.7L427.0 463.7L428.1 463.4Z" fill="#000" />
<path d="M416.0 450.2L416.0 451.2L415.1 452.0L414.0 451.9L413.5 451.1L414.0 450.1L415.1 449.7Z" fill="#000" />
<path d="M452.6 422.2L452.6 423.3L451.7 424.0L450.6 424.0L450.1 423.1L450.6 422.1L451.8 421.7Z" fill="#000" />
<path d="M455.7 432.8L455.7 433.8L454.8 434.6L453.7 434.5L453.2 433.7L453.7 432.7L454.9 432.3Z" fill="#000" />
<path d="M461.9 428.4L461.9 429.5L461.0 430.2L459.9 430.2L459.5 429.3L460.0 428.3L461.1 427.9Z" fill="#000" />
<path d="M440.8 421.0L440.8 422.0L439.9 422.8L438.8 422.7L438.3 421.9L438.8 420.9L439.9 420.5Z" fill="#000" />
<path d="M461.3 412.3L461.3 413.3L460.4 414.1L459.3 414.0L458.8 413.2L459.3 412.2L460.4 411.8Z" fill="#000" />
<path d="M304.8 471.3L304.8 472.3L303.9 473.1L302.8 473.0L302.3 472.2L302.8 471.2L303.9 470.8Z" fill="#000" />
<path d="M307.9 469.4L307.9 470.5L307.0 471.2L305.9 471.2L305.4 470.3L305.9 469.3L307.0 468.9Z" fill="#000" />
<path d="M311.0 467.0L311.0 468.0L310.1 468.7L309.0 468.7L308.5 467.8L309.0 466.8L310.1 466.5Z" fill="#000" />
<rect x="342.7" y="430.1" width="1.4" height="1.2" fill="#2060d0"/>
<rect x="402.9" y="468.3" width="1.4" height="1.2" fill="#2060d0"/>
<rect x="399.8" y="447.5" width="1.4" height="1.2" fill="#2060d0"/>
<rect x="354.2" y="531.6" width="1.4" height="1.2" fill="#2060d0"/>
<rect x="373.7" y="415.5" width="1.4" height="1.2" fill="#2060d0"/>
<rect x="288.0" y="517.7" width="1.4" height="1.2" fill="#2060d0"/>
<circle cx="436.5" cy="447.4" r="2.4" fill="#fff" stroke="#000" stroke-width="1.1"/>
<circle cx="349.6" cy="540.3" r="1.0" fill="#ffe000"/>
</g><rect x="251.6" y="509.3" width="1.3" height="1.3" fill="#70d870"/><rect x="255.8" y="518.6" width="1.3" height="1.3" fill="#70d870"/><rect x="288.8" y="518.6" width="1.3" height="1.3" fill="#70d870"/><rect x="249.0" y="533.8" width="1.3" height="1.3" fill="#70d870"/><rect x="374.4" y="416.1" width="1.3" height="1.3" fill="#70d870"/>
<use href="#over"/>
<text x="36.58" y="66.0" font-size="24.0" textLength="392.0" lengthAdjust="spacingAndGlyphs" >PR max reflectivity projection (dBZ)</text>
<text x="438.4" y="523.6" font-size="29">(b)</text>
<rect x="495.0" y="531.28" width="9.2" height="8.76" fill="#f7f7f7"/>
<rect x="495.0" y="522.83" width="9.2" height="8.76" fill="#efefef"/>
<rect x="495.0" y="514.37" width="9.2" height="8.76" fill="#e6e6e6"/>
<rect x="495.0" y="505.91" width="9.2" height="8.76" fill="#dedede"/>
<rect x="495.0" y="497.45" width="9.2" height="8.76" fill="#d6d6d6"/>
<rect x="495.0" y="488.99" width="9.2" height="8.76" fill="#cdcdcd"/>
<rect x="495.0" y="480.53" width="9.2" height="8.76" fill="#c4c4c4"/>
<rect x="495.0" y="472.08" width="9.2" height="8.76" fill="#bcbcbc"/>
<rect x="495.0" y="463.62" width="9.2" height="8.76" fill="#b5b5b5"/>
<rect x="495.0" y="455.16" width="9.2" height="8.76" fill="#aeaeae"/>
<rect x="495.0" y="446.70" width="9.2" height="8.76" fill="#a6a6a6"/>
<rect x="495.0" y="438.24" width="9.2" height="8.76" fill="#a0a0a0"/>
<rect x="495.0" y="429.78" width="9.2" height="8.76" fill="#999999"/>
<rect x="495.0" y="421.33" width="9.2" height="8.76" fill="#929292"/>
<rect x="495.0" y="412.87" width="9.2" height="8.76" fill="#84e284"/>
<rect x="495.0" y="404.41" width="9.2" height="8.76" fill="#7dd87d"/>
<rect x="495.0" y="395.95" width="9.2" height="8.76" fill="#76cd76"/>
<rect x="495.0" y="387.49" width="9.2" height="8.76" fill="#6fc26f"/>
<rect x="495.0" y="379.03" width="9.2" height="8.76" fill="#68b868"/>
<rect x="495.0" y="370.58" width="9.2" height="8.76" fill="#d0d8ff"/>
<rect x="495.0" y="362.12" width="9.2" height="8.76" fill="#b9ceff"/>
<rect x="495.0" y="353.66" width="9.2" height="8.76" fill="#a2c4ff"/>
<rect x="495.0" y="345.20" width="9.2" height="8.76" fill="#8bbbff"/>
<rect x="495.0" y="336.74" width="9.2" height="8.76" fill="#72b2ff"/>
<rect x="495.0" y="328.28" width="9.2" height="8.76" fill="#57aaff"/>
<rect x="495.0" y="319.83" width="9.2" height="8.76" fill="#4b97ff"/>
<rect x="495.0" y="311.37" width="9.2" height="8.76" fill="#4480ff"/>
<rect x="495.0" y="302.91" width="9.2" height="8.76" fill="#3f65ff"/>
<rect x="495.0" y="294.45" width="9.2" height="8.76" fill="#3849ff"/>
<rect x="495.0" y="285.99" width="9.2" height="8.76" fill="#282eff"/>
<rect x="495.0" y="277.53" width="9.2" height="8.76" fill="#1717fb"/>
<rect x="495.0" y="269.08" width="9.2" height="8.76" fill="#0505f2"/>
<rect x="495.0" y="260.62" width="9.2" height="8.76" fill="#0000df"/>
<rect x="495.0" y="252.16" width="9.2" height="8.76" fill="#0000c8"/>
<rect x="495.0" y="243.70" width="9.2" height="8.76" fill="#ffff00"/>
<rect x="495.0" y="235.24" width="9.2" height="8.76" fill="#fff100"/>
<rect x="495.0" y="226.78" width="9.2" height="8.76" fill="#ffe400"/>
<rect x="495.0" y="218.33" width="9.2" height="8.76" fill="#ffd600"/>
<rect x="495.0" y="209.87" width="9.2" height="8.76" fill="#ffc800"/>
<rect x="495.0" y="201.41" width="9.2" height="8.76" fill="#ff9600"/>
<rect x="495.0" y="192.95" width="9.2" height="8.76" fill="#ff8c00"/>
<rect x="495.0" y="184.49" width="9.2" height="8.76" fill="#ff8200"/>
<rect x="495.0" y="176.03" width="9.2" height="8.76" fill="#ff7800"/>
<rect x="495.0" y="167.58" width="9.2" height="8.76" fill="#ff6e00"/>
<rect x="495.0" y="159.12" width="9.2" height="8.76" fill="#ff4000"/>
<rect x="495.0" y="150.66" width="9.2" height="8.76" fill="#ff3500"/>
<rect x="495.0" y="142.20" width="9.2" height="8.76" fill="#ff2a00"/>
<rect x="495.0" y="133.74" width="9.2" height="8.76" fill="#ff1f00"/>
<rect x="495.0" y="125.28" width="9.2" height="8.76" fill="#ff1400"/>
<rect x="495.0" y="116.82" width="9.2" height="8.76" fill="#c80000"/>
<rect x="495.0" y="108.37" width="9.2" height="8.76" fill="#be0000"/>
<rect x="495.0" y="99.91" width="9.2" height="8.76" fill="#b40000"/>
<rect x="495.0" y="91.45" width="9.2" height="8.76" fill="#aa0000"/>
<rect x="495.0" y="82.99" width="9.2" height="8.76" fill="#a00000"/>
<rect x="495.0" y="74.53" width="9.2" height="8.76" fill="#640a00"/>
<rect x="495.0" y="66.07" width="9.2" height="8.76" fill="#620c05"/>
<rect x="495.0" y="57.62" width="9.2" height="8.76" fill="#5f0f0a"/>
<rect x="495.0" y="49.16" width="9.2" height="8.76" fill="#5c120f"/>
<rect x="495.0" y="40.70" width="9.2" height="8.76" fill="#5a1414"/>
<path d="M503.9 548.20h2.6" stroke="#222" stroke-width="0.9"/>
<text x="519.15" y="556.2" font-size="18.6" textLength="10.8" lengthAdjust="spacingAndGlyphs" >0</text>
<path d="M503.9 497.45h2.6" stroke="#222" stroke-width="0.9"/>
<text x="518.87" y="505.5" font-size="18.6" textLength="11.2" lengthAdjust="spacingAndGlyphs" >6</text>
<path d="M503.9 446.70h2.6" stroke="#222" stroke-width="0.9"/>
<text x="511.90" y="454.7" font-size="18.6" textLength="23.8" lengthAdjust="spacingAndGlyphs" >12</text>
<path d="M503.9 395.95h2.6" stroke="#222" stroke-width="0.9"/>
<text x="511.90" y="404.0" font-size="18.6" textLength="23.7" lengthAdjust="spacingAndGlyphs" >18</text>
<path d="M503.9 345.20h2.6" stroke="#222" stroke-width="0.9"/>
<text x="512.37" y="353.2" font-size="18.6" textLength="22.9" lengthAdjust="spacingAndGlyphs" >24</text>
<path d="M503.9 294.45h2.6" stroke="#222" stroke-width="0.9"/>
<text x="512.65" y="302.5" font-size="18.6" textLength="22.8" lengthAdjust="spacingAndGlyphs" >30</text>
<path d="M503.9 243.70h2.6" stroke="#222" stroke-width="0.9"/>
<text x="512.65" y="251.7" font-size="18.6" textLength="22.9" lengthAdjust="spacingAndGlyphs" >36</text>
<path d="M503.9 192.95h2.6" stroke="#222" stroke-width="0.9"/>
<text x="512.93" y="201.0" font-size="18.6" textLength="22.7" lengthAdjust="spacingAndGlyphs" >42</text>
<path d="M503.9 142.20h2.6" stroke="#222" stroke-width="0.9"/>
<text x="512.93" y="150.2" font-size="18.6" textLength="22.6" lengthAdjust="spacingAndGlyphs" >48</text>
<path d="M503.9 91.45h2.6" stroke="#222" stroke-width="0.9"/>
<text x="512.56" y="99.4" font-size="18.6" textLength="22.7" lengthAdjust="spacingAndGlyphs" >54</text>
</g>
<g transform="translate(1181.2 0.0)">
<g>
<path d="M317.1 461.6L319.5 460.3L321.8 459.3L324.1 458.0L326.8 456.5L328.8 454.8L331.4 453.8L334.1 452.4L335.5 454.8L333.5 455.8L331.0 457.4L329.0 459.0L326.8 460.5L325.1 461.9L323.3 463.2L318.6 463.4Z" fill="#78d878" stroke="#000" stroke-width="1.30" stroke-linejoin="round"/>
<path d="M328.7 451.2L331.1 451.1L333.0 450.0L334.8 446.6L336.3 447.1L335.9 449.3L335.9 451.7L334.0 452.7L331.1 451.8Z" fill="#78d878" stroke="#000" stroke-width="1.30" stroke-linejoin="round"/>
<path d="M336.4 453.9L338.5 453.0L341.3 453.1L344.1 453.0L346.7 453.4L349.1 453.3L348.8 455.5L346.1 455.6L343.9 456.5L341.1 456.0L338.7 455.5L335.4 457.8L336.7 460.7L334.7 462.6L333.0 464.6L332.1 462.8L334.3 459.8L334.3 456.7Z" fill="#78d878" stroke="#000" stroke-width="1.30" stroke-linejoin="round"/>
<path d="M339.6 441.0L342.6 441.9L345.8 439.2L346.2 442.0L343.2 444.3L340.5 443.3Z" fill="#78d878" stroke="#000" stroke-width="1.30" stroke-linejoin="round"/>
<path d="M304.5 476.0L306.9 474.5L307.7 477.2L305.6 478.3Z" fill="#78d878" stroke="#000" stroke-width="1.30" stroke-linejoin="round"/>
<path d="M412.5 460.8L414.8 458.4L416.2 455.9L419.4 454.9L422.5 453.7L424.7 452.5L426.6 451.1L428.5 450.2L431.7 449.3L434.4 448.5L438.0 450.9L437.8 453.1L437.6 455.6L435.6 457.2L432.9 458.2L430.9 459.7L428.5 460.4L425.4 460.4L422.5 459.7L420.3 461.1L418.6 462.4L416.5 463.2L413.5 464.1Z" fill="#78d878" stroke="#000" stroke-width="1.30" stroke-linejoin="round"/>
<path d="M434.6 441.8L436.2 439.3L437.7 436.2L438.9 434.3L440.8 432.3L443.1 430.0L445.9 427.9L449.6 429.9L449.3 432.3L449.9 434.8L445.8 435.5L443.1 436.9L441.1 438.4L440.1 440.7L440.0 443.3L437.2 444.2Z" fill="#78d878" stroke="#000" stroke-width="1.30" stroke-linejoin="round"/>
<path d="M423.3 446.9L426.0 445.2L428.5 446.1L430.4 446.2L428.1 448.2L424.6 448.9Z" fill="#78d878" stroke="#000" stroke-width="1.30" stroke-linejoin="round"/>
<path d="M459.4 416.4L461.4 415.4L463.8 414.7L465.9 413.2L468.5 412.4L471.3 411.7L473.7 411.3L472.7 414.6L470.5 415.4L468.0 416.4L465.6 417.6L463.4 418.1L460.7 419.0Z" fill="#78d878" stroke="#000" stroke-width="1.30" stroke-linejoin="round"/>
<path d="M457.0 423.4L459.4 420.1L462.6 423.2L464.8 423.3L462.9 424.8L460.5 424.7L458.3 424.8Z" fill="#78d878" stroke="#000" stroke-width="1.30" stroke-linejoin="round"/>
<path d="M466.7 440.7L468.5 439.0L470.2 438.0L471.8 436.2L473.8 435.3L476.1 434.0L478.2 432.8L479.3 435.5L477.5 437.8L475.6 439.7L473.0 440.7L470.7 441.3L468.7 441.8Z" fill="#78d878" stroke="#000" stroke-width="1.30" stroke-linejoin="round"/>
<path d="M394.0 478.1L395.5 474.7L398.0 474.0L400.3 472.9L402.7 472.3L404.7 473.2L407.7 473.2L409.5 474.0L411.8 475.2L414.0 475.8L415.4 477.1L417.5 477.5L420.1 478.6L422.0 479.7L423.9 482.6L420.7 484.2L418.4 483.0L416.7 481.7L413.5 479.0L410.9 478.2L408.4 476.9L406.4 477.4L404.2 478.2L403.0 480.7L402.6 482.7L399.2 482.3L395.2 480.5Z" fill="#78d878" stroke="#000" stroke-width="1.30" stroke-linejoin="round"/>
<path d="M394.4 453.9L393.3 455.0L391.5 455.9L388.9 456.2L388.4 455.0L389.2 454.1L390.6 453.3L393.1 453.4Z" fill="#78d878" stroke="#000" stroke-width="1.30" stroke-linejoin="round"/>
<path d="M450.4 444.1L449.6 445.5L448.0 446.1L446.4 445.9L445.5 445.7L445.7 444.4L447.4 444.0L449.4 443.8Z" fill="#78d878" stroke="#000" stroke-width="1.30" stroke-linejoin="round"/>
<path d="M442.3 445.9L441.6 447.2L440.2 447.7L439.8 447.5L439.7 445.9L440.3 444.3L441.4 443.7L441.8 444.7Z" fill="#78d878" stroke="#000" stroke-width="1.30" stroke-linejoin="round"/>
<path d="M351.2 540.2L350.7 541.1L349.4 541.9L348.2 541.2L348.2 540.4L348.5 539.1L349.6 538.4L350.4 539.2Z" fill="#78d878" stroke="#000" stroke-width="1.30" stroke-linejoin="round"/>
<path d="M363.6 526.1L363.7 526.9L362.5 527.4L361.7 527.8L360.8 527.6L361.0 527.0L362.2 526.2L362.7 525.6Z" fill="#78d878" stroke="#000" stroke-width="1.30" stroke-linejoin="round"/>
<path d="M358.8 435.7L358.7 436.4L358.1 437.0L357.3 436.9L357.0 436.4L357.4 435.7L358.2 435.4Z" fill="#000" />
<path d="M405.5 453.5L405.4 454.2L404.8 454.7L404.0 454.7L403.7 454.1L404.1 453.5L404.9 453.2Z" fill="#000" />
<path d="M445.5 405.7L445.4 406.3L444.8 406.9L444.0 406.9L443.7 406.3L444.1 405.6L444.9 405.3Z" fill="#000" />
<path d="M382.7 469.0L382.7 469.7L382.1 470.2L381.3 470.2L380.9 469.7L381.3 469.0L382.1 468.7Z" fill="#000" />
<path d="M428.7 464.0L428.7 464.7L428.0 465.3L427.2 465.3L426.9 464.7L427.3 464.0L428.1 463.7Z" fill="#000" />
<path d="M415.7 450.4L415.6 451.1L415.0 451.6L414.2 451.6L413.9 451.0L414.2 450.4L415.0 450.1Z" fill="#000" />
<path d="M452.3 422.4L452.3 423.1L451.6 423.7L450.8 423.6L450.5 423.1L450.9 422.4L451.7 422.1Z" fill="#000" />
<path d="M455.4 433.0L455.4 433.7L454.7 434.2L453.9 434.2L453.6 433.6L454.0 433.0L454.8 432.7Z" fill="#000" />
<path d="M461.6 428.6L461.6 429.3L460.9 429.9L460.2 429.9L459.8 429.3L460.2 428.6L461.0 428.3Z" fill="#000" />
<path d="M440.5 421.2L440.5 421.9L439.8 422.4L439.0 422.4L438.7 421.8L439.1 421.2L439.9 420.9Z" fill="#000" />
<path d="M461.0 412.5L461.0 413.2L460.3 413.7L459.5 413.7L459.2 413.1L459.6 412.5L460.4 412.2Z" fill="#000" />
<path d="M304.5 471.5L304.5 472.2L303.8 472.7L303.0 472.7L302.7 472.2L303.1 471.5L303.9 471.2Z" fill="#000" />
<path d="M307.6 469.6L307.6 470.3L306.9 470.9L306.1 470.9L305.8 470.3L306.2 469.6L307.0 469.3Z" fill="#000" />
<path d="M310.7 467.1L310.7 467.8L310.0 468.4L309.2 468.4L308.9 467.8L309.3 467.1L310.1 466.8Z" fill="#000" />
<circle cx="436.5" cy="447.4" r="2.4" fill="#fff" stroke="#000" stroke-width="1.1"/>
<rect x="429.6" y="452.4" width="5" height="3" fill="#b0c8ff"/><rect x="433.1" y="451.9" width="1.6" height="1.4" fill="#ff3c00"/>
<rect x="439.9" y="434.3" width="4" height="2.4" fill="#b0c8ff"/>
<rect x="463.5" y="415.1" width="4" height="1.8" fill="#5a98ff"/>
</g><rect x="251.6" y="509.3" width="1.3" height="1.3" fill="#70d870"/><rect x="255.8" y="518.6" width="1.3" height="1.3" fill="#70d870"/><rect x="288.8" y="518.6" width="1.3" height="1.3" fill="#70d870"/><rect x="249.0" y="533.8" width="1.3" height="1.3" fill="#70d870"/><rect x="374.4" y="416.1" width="1.3" height="1.3" fill="#70d870"/>
<use href="#over"/>
<text x="35.90" y="66.0" font-size="24.0" textLength="390.9" lengthAdjust="spacingAndGlyphs" >2A25 near surface rainrate (mm/hr)</text>
<text x="438.4" y="523.6" font-size="29">(c)</text>
<rect x="495.0" y="531.28" width="9.2" height="8.76" fill="#84e284"/>
<rect x="495.0" y="522.83" width="9.2" height="8.76" fill="#7fdb7f"/>
<rect x="495.0" y="514.37" width="9.2" height="8.76" fill="#7bd47b"/>
<rect x="495.0" y="505.91" width="9.2" height="8.76" fill="#76cd76"/>
<rect x="495.0" y="497.45" width="9.2" height="8.76" fill="#71c671"/>
<rect x="495.0" y="488.99" width="9.2" height="8.76" fill="#6dbf6d"/>
<rect x="495.0" y="480.53" width="9.2" height="8.76" fill="#68b868"/>
<rect x="495.0" y="472.08" width="9.2" height="8.76" fill="#d0d8ff"/>
<rect x="495.0" y="463.62" width="9.2" height="8.76" fill="#bfd0ff"/>
<rect x="495.0" y="455.16" width="9.2" height="8.76" fill="#aec9ff"/>
<rect x="495.0" y="446.70" width="9.2" height="8.76" fill="#9dc2ff"/>
<rect x="495.0" y="438.24" width="9.2" height="8.76" fill="#8dbbff"/>
<rect x="495.0" y="429.78" width="9.2" height="8.76" fill="#7bb5ff"/>
<rect x="495.0" y="421.33" width="9.2" height="8.76" fill="#67afff"/>
<rect x="495.0" y="412.87" width="9.2" height="8.76" fill="#53a9ff"/>
<rect x="495.0" y="404.41" width="9.2" height="8.76" fill="#4c99ff"/>
<rect x="495.0" y="395.95" width="9.2" height="8.76" fill="#4788ff"/>
<rect x="495.0" y="387.49" width="9.2" height="8.76" fill="#4276ff"/>
<rect x="495.0" y="379.03" width="9.2" height="8.76" fill="#3f62ff"/>
<rect x="495.0" y="370.58" width="9.2" height="8.76" fill="#3b4dff"/>
<rect x="495.0" y="362.12" width="9.2" height="8.76" fill="#2f39ff"/>
<rect x="495.0" y="353.66" width="9.2" height="8.76" fill="#2325ff"/>
<rect x="495.0" y="345.20" width="9.2" height="8.76" fill="#1616fa"/>
<rect x="495.0" y="336.74" width="9.2" height="8.76" fill="#0808f4"/>
<rect x="495.0" y="328.28" width="9.2" height="8.76" fill="#0000ea"/>
<rect x="495.0" y="319.83" width="9.2" height="8.76" fill="#0000d9"/>
<rect x="495.0" y="311.37" width="9.2" height="8.76" fill="#0000c8"/>
<rect x="495.0" y="302.91" width="9.2" height="8.76" fill="#ffff00"/>
<rect x="495.0" y="294.45" width="9.2" height="8.76" fill="#fff600"/>
<rect x="495.0" y="285.99" width="9.2" height="8.76" fill="#ffed00"/>
<rect x="495.0" y="277.53" width="9.2" height="8.76" fill="#ffe400"/>
<rect x="495.0" y="269.08" width="9.2" height="8.76" fill="#ffda00"/>
<rect x="495.0" y="260.62" width="9.2" height="8.76" fill="#ffd100"/>
<rect x="495.0" y="252.16" width="9.2" height="8.76" fill="#ffc800"/>
<rect x="495.0" y="243.70" width="9.2" height="8.76" fill="#ff9600"/>
<rect x="495.0" y="235.24" width="9.2" height="8.76" fill="#ff8e00"/>
<rect x="495.0" y="226.78" width="9.2" height="8.76" fill="#ff8600"/>
<rect x="495.0" y="218.33" width="9.2" height="8.76" fill="#ff7e00"/>
<rect x="495.0" y="209.87" width="9.2" height="8.76" fill="#ff7600"/>
<rect x="495.0" y="201.41" width="9.2" height="8.76" fill="#ff6e00"/>
<rect x="495.0" y="192.95" width="9.2" height="8.76" fill="#ff4000"/>
<rect x="495.0" y="184.49" width="9.2" height="8.76" fill="#ff3900"/>
<rect x="495.0" y="176.03" width="9.2" height="8.76" fill="#ff3100"/>
<rect x="495.0" y="167.58" width="9.2" height="8.76" fill="#ff2a00"/>
<rect x="495.0" y="159.12" width="9.2" height="8.76" fill="#ff2300"/>
<rect x="495.0" y="150.66" width="9.2" height="8.76" fill="#ff1b00"/>
<rect x="495.0" y="142.20" width="9.2" height="8.76" fill="#ff1400"/>
<rect x="495.0" y="133.74" width="9.2" height="8.76" fill="#c80000"/>
<rect x="495.0" y="125.28" width="9.2" height="8.76" fill="#c10000"/>
<rect x="495.0" y="116.82" width="9.2" height="8.76" fill="#bb0000"/>
<rect x="495.0" y="108.37" width="9.2" height="8.76" fill="#b40000"/>
<rect x="495.0" y="99.91" width="9.2" height="8.76" fill="#ad0000"/>
<rect x="495.0" y="91.45" width="9.2" height="8.76" fill="#a70000"/>
<rect x="495.0" y="82.99" width="9.2" height="8.76" fill="#a00000"/>
<rect x="495.0" y="74.53" width="9.2" height="8.76" fill="#640a00"/>
<rect x="495.0" y="66.07" width="9.2" height="8.76" fill="#620c05"/>
<rect x="495.0" y="57.62" width="9.2" height="8.76" fill="#5f0f0a"/>
<rect x="495.0" y="49.16" width="9.2" height="8.76" fill="#5c120f"/>
<rect x="495.0" y="40.70" width="9.2" height="8.76" fill="#5a1414"/>
<path d="M503.9 548.20h2.6" stroke="#222" stroke-width="0.9"/>
<text x="519.15" y="556.2" font-size="18.6" textLength="10.8" lengthAdjust="spacingAndGlyphs" >0</text>
<path d="M503.9 497.45h2.6" stroke="#222" stroke-width="0.9"/>
<text x="518.87" y="505.5" font-size="18.6" textLength="11.2" lengthAdjust="spacingAndGlyphs" >6</text>
<path d="M503.9 446.70h2.6" stroke="#222" stroke-width="0.9"/>
<text x="511.90" y="454.7" font-size="18.6" textLength="23.8" lengthAdjust="spacingAndGlyphs" >12</text>
<path d="M503.9 395.95h2.6" stroke="#222" stroke-width="0.9"/>
<text x="511.90" y="404.0" font-size="18.6" textLength="23.7" lengthAdjust="spacingAndGlyphs" >18</text>
<path d="M503.9 345.20h2.6" stroke="#222" stroke-width="0.9"/>
<text x="512.37" y="353.2" font-size="18.6" textLength="22.9" lengthAdjust="spacingAndGlyphs" >24</text>
<path d="M503.9 294.45h2.6" stroke="#222" stroke-width="0.9"/>
<text x="512.65" y="302.5" font-size="18.6" textLength="22.8" lengthAdjust="spacingAndGlyphs" >30</text>
<path d="M503.9 243.70h2.6" stroke="#222" stroke-width="0.9"/>
<text x="512.65" y="251.7" font-size="18.6" textLength="22.9" lengthAdjust="spacingAndGlyphs" >36</text>
<path d="M503.9 192.95h2.6" stroke="#222" stroke-width="0.9"/>
<text x="512.93" y="201.0" font-size="18.6" textLength="22.7" lengthAdjust="spacingAndGlyphs" >42</text>
<path d="M503.9 142.20h2.6" stroke="#222" stroke-width="0.9"/>
<text x="512.93" y="150.2" font-size="18.6" textLength="22.6" lengthAdjust="spacingAndGlyphs" >48</text>
<path d="M503.9 91.45h2.6" stroke="#222" stroke-width="0.9"/>
<text x="512.56" y="99.4" font-size="18.6" textLength="22.7" lengthAdjust="spacingAndGlyphs" >54</text>
</g>
<g transform="translate(0.0 590.5)">
<g clip-path="url(#cde)">
<path d="M17.9 548.4L68.7 506.0L146.6 443.3L225.9 379.0L304.9 315.5L383.9 251.1L462.5 192.2L485.7 175.0L485.7 548.4Z" fill="#e9e9e9" />
<path d="M240.6 384.6L253.0 374.9L257.8 381.1L245.4 390.8ZM151.6 475.9L156.6 472.0L158.6 474.5L153.6 478.4ZM308.4 508.1L314.1 503.7L318.5 509.4L312.8 513.7ZM467.0 304.0L481.0 293.1L486.4 300.1L472.4 311.0ZM369.5 410.4L375.9 405.4L378.4 408.6L372.0 413.6ZM240.3 377.2L245.8 372.9L248.0 375.6L242.5 380.0ZM481.0 333.7L486.7 329.2L489.0 332.1L483.2 336.6ZM347.7 322.8L353.5 318.3L355.8 321.2L350.0 325.7ZM328.8 421.1L344.8 408.6L349.0 413.9L333.0 426.4ZM357.0 443.8L363.3 438.9L368.2 445.2L361.9 450.1ZM395.7 538.9L416.5 522.6L422.0 529.5L401.1 545.8ZM457.1 203.3L460.0 201.0L462.3 203.9L459.4 206.2ZM299.3 450.3L302.8 447.5L305.5 451.0L302.0 453.8ZM134.6 462.7L143.6 455.6L147.2 460.1L138.1 467.2ZM432.8 531.4L438.0 527.3L442.0 532.5L436.9 536.5ZM413.2 416.0L416.2 413.7L418.6 416.7L415.6 419.1ZM447.8 390.4L453.8 385.7L458.6 391.8L452.5 396.5ZM361.7 477.8L374.6 467.7L379.7 474.2L366.8 484.3ZM368.9 356.5L373.7 352.8L377.4 357.5L372.6 361.2ZM217.4 483.9L229.5 474.5L234.2 480.5L222.1 490.0ZM453.4 350.2L457.1 347.3L460.0 351.0L456.3 353.9ZM265.7 423.3L271.7 418.6L274.1 421.6L268.1 426.3ZM157.0 433.7L163.7 428.5L169.0 435.2L162.3 440.5ZM429.5 232.1L446.4 218.9L450.8 224.5L433.9 237.7ZM107.7 482.6L116.8 475.6L120.3 480.1L111.2 487.2ZM308.0 483.9L327.1 468.9L332.1 475.3L313.0 490.2ZM400.7 385.4L410.3 377.9L414.1 382.7L404.4 390.2ZM374.3 527.2L384.4 519.3L387.0 522.7L376.9 530.6ZM381.7 465.3L386.5 461.6L388.3 464.0L383.6 467.7ZM285.8 339.3L291.0 335.2L295.1 340.4L289.9 344.5ZM453.4 395.2L465.1 386.0L469.7 391.9L458.0 401.1ZM442.0 281.8L444.7 279.7L446.9 282.4L444.1 284.5ZM465.9 311.8L472.0 307.0L476.8 313.1L470.6 317.9ZM320.6 344.6L323.4 342.4L325.7 345.2L322.8 347.5ZM457.6 385.3L461.1 382.6L463.8 386.1L460.3 388.8ZM464.8 358.1L474.5 350.5L478.3 355.4L468.6 363.0ZM395.2 371.5L398.5 368.9L401.1 372.2L397.8 374.8ZM324.5 297.0L333.6 289.8L337.2 294.4L328.0 301.5ZM451.1 412.8L454.6 410.0L457.4 413.6L453.9 416.3ZM338.7 510.3L348.6 502.5L351.2 505.8L341.3 513.6ZM430.1 229.8L440.8 221.5L445.0 226.8L434.3 235.2ZM429.4 434.2L435.2 429.6L437.5 432.6L431.7 437.2ZM302.1 499.6L312.8 491.2L317.0 496.6L306.2 505.0ZM260.3 372.8L266.3 368.1L271.0 374.1L265.0 378.8ZM346.7 445.6L363.8 432.2L368.3 437.9L351.2 451.3ZM476.3 194.3L489.4 184.1L494.5 190.7L481.4 200.9ZM383.8 333.4L388.1 330.1L391.4 334.3L387.1 337.6ZM467.1 236.7L481.3 225.7L485.0 230.4L470.8 241.4ZM192.2 547.4L196.8 543.7L200.4 548.4L195.8 552.0ZM436.9 331.8L442.7 327.3L447.2 333.1L441.4 337.6ZM387.4 348.3L408.7 331.7L414.2 338.8L392.9 355.4ZM283.1 381.8L285.6 379.9L287.5 382.3L285.0 384.2ZM249.5 532.7L252.8 530.1L255.5 533.5L252.1 536.1ZM388.5 336.6L392.8 333.3L396.2 337.6L391.9 340.9ZM412.5 289.3L416.9 285.9L420.3 290.3L415.9 293.7ZM402.4 299.0L407.9 294.6L412.2 300.2L406.7 304.5ZM186.2 462.7L195.0 455.8L197.4 458.8L188.5 465.7ZM167.3 538.3L179.8 528.6L184.7 534.8L172.2 544.6ZM172.8 455.5L177.1 452.1L180.5 456.4L176.2 459.8ZM201.0 512.9L204.4 510.3L207.0 513.7L203.6 516.3ZM469.5 409.7L478.4 402.7L481.9 407.2L473.0 414.2ZM467.5 206.3L476.9 199.0L479.3 202.1L469.9 209.5ZM389.0 397.2L394.3 393.1L398.4 398.4L393.1 402.5ZM358.0 388.2L368.8 379.7L371.6 383.3L360.8 391.8ZM43.2 532.3L54.9 523.2L59.4 529.0L47.8 538.1ZM101.4 526.0L106.3 522.2L110.1 527.0L105.2 530.8ZM372.3 281.4L382.1 273.7L385.9 278.6L376.1 286.2ZM280.6 506.4L290.2 498.9L292.7 502.1L283.1 509.6ZM284.7 355.7L289.3 352.1L292.9 356.7L288.3 360.3ZM153.5 500.3L164.0 492.1L166.7 495.6L156.3 503.7ZM151.5 495.3L158.6 489.8L160.5 492.2L153.4 497.7ZM402.3 274.7L408.7 269.7L413.8 276.1L407.3 281.2ZM401.9 316.5L411.6 308.9L414.2 312.2L404.4 319.8ZM348.1 487.6L353.9 483.0L358.5 488.8L352.6 493.4ZM383.2 350.9L395.2 341.5L398.3 345.5L386.3 354.9ZM401.5 504.3L408.2 499.1L413.5 505.8L406.8 511.0ZM469.6 253.6L473.7 250.4L476.9 254.5L472.8 257.6ZM234.0 547.1L239.0 543.1L241.0 545.6L236.0 549.6ZM429.5 260.9L438.0 254.3L441.3 258.5L432.8 265.2ZM156.0 539.7L162.7 534.5L167.9 541.2L161.2 546.4ZM196.5 514.6L216.4 499.0L221.6 505.7L201.7 521.2ZM385.6 328.1L403.6 314.1L408.3 320.1L390.2 334.2ZM475.0 262.6L483.3 256.1L486.6 260.3L478.2 266.8ZM438.1 265.8L442.3 262.5L445.6 266.7L441.4 270.0ZM444.9 523.8L457.9 513.6L462.9 520.1L450.0 530.2ZM232.6 415.2L239.6 409.7L245.1 416.7L238.1 422.2ZM392.9 287.2L405.0 277.8L408.1 281.8L396.1 291.2ZM344.6 481.9L351.7 476.3L354.5 479.9L347.4 485.5ZM430.5 499.9L444.2 489.2L447.8 493.8L434.1 504.5ZM451.2 255.4L459.6 248.8L462.9 253.0L454.5 259.6ZM338.8 403.7L354.0 391.9L357.9 396.9L342.8 408.8ZM361.6 498.4L375.9 487.2L379.7 492.0L365.4 503.2ZM337.3 506.2L353.3 493.7L357.4 499.0L341.5 511.5ZM162.4 467.0L168.8 462.0L171.3 465.2L164.9 470.2ZM417.9 268.0L429.5 259.0L432.5 262.8L420.9 271.8ZM312.3 550.2L322.1 542.5L324.7 545.8L314.9 553.4ZM437.2 453.9L441.9 450.3L445.5 454.9L440.9 458.6ZM352.4 500.6L360.6 494.2L362.8 497.0L354.6 503.4ZM439.9 217.4L446.0 212.6L450.8 218.7L444.6 223.5ZM254.4 418.3L262.6 411.9L264.7 414.6L256.5 421.0ZM313.8 362.3L322.3 355.6L325.6 359.9L317.1 366.5ZM373.7 415.7L391.8 401.6L396.5 407.6L378.4 421.8ZM115.4 487.6L118.8 484.8L121.6 488.3L118.1 491.0ZM468.4 543.7L487.9 528.4L493.0 534.9L473.5 550.2ZM131.4 491.5L136.9 487.3L141.1 492.7L135.7 497.0ZM415.1 381.7L418.7 379.0L421.5 382.5L417.9 385.3ZM287.6 456.3L305.8 442.1L310.6 448.2L292.4 462.4ZM170.3 501.7L174.2 498.7L177.3 502.6L173.4 505.6ZM266.6 451.8L282.6 439.3L286.7 444.6L270.8 457.1ZM346.3 360.1L352.8 355.0L357.8 361.5L351.3 366.5ZM458.5 217.7L463.5 213.8L467.4 218.8L462.4 222.7ZM468.2 507.2L477.5 499.9L479.9 503.0L470.6 510.3ZM153.4 461.2L161.8 454.7L164.0 457.5L155.6 464.0ZM44.6 532.5L60.6 520.0L64.7 525.3L48.8 537.8ZM458.4 491.9L464.0 487.6L466.2 490.4L460.6 494.7ZM471.5 490.4L478.0 485.3L483.2 491.8L476.6 497.0ZM440.7 257.4L450.5 249.7L454.4 254.6L444.5 262.3ZM272.9 541.0L276.0 538.6L278.4 541.7L275.3 544.1ZM125.7 546.0L143.4 532.2L148.0 538.1L130.3 551.9ZM242.8 511.9L254.6 502.7L259.2 508.6L247.4 517.7ZM240.7 384.1L244.3 381.3L247.0 384.9L243.5 387.7ZM312.9 314.4L332.2 299.3L337.2 305.8L318.0 320.8ZM444.1 287.3L449.9 282.7L454.5 288.5L448.6 293.1ZM426.7 412.4L440.6 401.5L446.1 408.5L432.2 419.3ZM365.6 399.3L374.0 392.8L377.2 397.0L368.9 403.5ZM421.8 424.8L442.4 408.7L447.8 415.6L427.1 431.7ZM285.6 547.6L289.9 544.2L293.4 548.5L289.0 551.9ZM470.9 479.3L482.3 470.4L485.2 474.2L473.9 483.1ZM239.7 420.3L254.7 408.6L258.6 413.6L243.6 425.3ZM232.3 537.6L243.7 528.7L248.2 534.4L236.7 543.4ZM185.7 456.4L192.9 450.8L195.7 454.4L188.5 460.0ZM277.6 420.3L283.7 415.5L288.4 421.6L282.4 426.3ZM253.4 502.2L258.5 498.2L262.5 503.3L257.4 507.3ZM440.3 319.8L450.4 311.9L454.3 317.0L444.2 324.9ZM249.6 525.9L252.8 523.4L255.3 526.6L252.1 529.1ZM404.8 430.4L407.5 428.2L409.7 431.0L406.9 433.1ZM255.0 419.3L259.8 415.5L263.6 420.3L258.8 424.1ZM385.8 503.3L396.8 494.7L399.7 498.4L388.7 507.0ZM159.4 513.1L164.3 509.3L166.2 511.7L161.3 515.6ZM442.8 486.9L456.1 476.5L461.3 483.1L448.0 493.5ZM271.3 409.6L276.2 405.8L280.1 410.7L275.2 414.5ZM305.9 396.5L321.9 384.1L326.0 389.4L310.1 401.9ZM369.8 478.2L373.1 475.6L375.7 478.9L372.4 481.5ZM363.2 528.0L370.5 522.3L373.3 526.0L366.1 531.6ZM298.9 407.2L302.0 404.8L304.4 407.9L301.3 410.4ZM289.9 385.3L295.9 380.6L298.2 383.6L292.2 388.3ZM393.9 355.3L405.9 345.9L410.6 351.9L398.6 361.3ZM323.3 535.9L326.6 533.3L329.2 536.6L325.9 539.2ZM196.3 448.0L201.2 444.2L203.1 446.6L198.2 450.5ZM225.7 473.6L229.9 470.4L233.2 474.6L229.0 477.8ZM448.8 241.1L467.3 226.7L472.1 232.8L453.6 247.2ZM398.2 241.0L403.3 237.0L407.3 242.2L402.2 246.2ZM271.1 432.0L273.6 430.0L275.6 432.5L273.1 434.5ZM458.9 500.3L465.6 495.1L468.2 498.4L461.5 503.6ZM448.5 482.4L459.5 473.8L462.4 477.5L451.4 486.0ZM329.9 512.6L341.1 503.9L345.4 509.5L334.3 518.2ZM434.7 359.6L454.0 344.6L459.0 351.0L439.8 366.0ZM414.4 255.8L420.0 251.4L424.5 257.1L418.8 261.5ZM288.0 327.3L299.1 318.6L303.5 324.2L292.3 332.8ZM443.6 422.6L450.0 417.5L455.1 424.0L448.6 429.1ZM373.2 399.9L379.1 395.3L383.7 401.2L377.8 405.8ZM407.4 489.1L419.4 479.8L424.0 485.8L412.1 495.1ZM388.8 516.5L395.1 511.5L400.1 517.9L393.8 522.8ZM419.9 539.8L438.7 525.1L443.6 531.3L424.8 546.0ZM341.1 368.1L350.9 360.5L354.8 365.4L344.9 373.1ZM295.9 356.3L311.9 343.8L316.0 349.2L300.1 361.6ZM42.6 535.7L45.0 533.8L46.8 536.2L44.4 538.1ZM371.1 318.4L390.9 303.0L396.0 309.6L376.3 325.0ZM357.8 516.5L366.9 509.4L369.3 512.4L360.2 519.6ZM408.4 547.3L420.2 538.1L424.8 544.0L413.0 553.2ZM415.4 449.6L433.1 435.7L437.8 441.7L420.0 455.5ZM456.5 329.0L468.8 319.5L473.5 325.6L461.3 335.1ZM364.4 315.9L368.6 312.6L372.0 316.8L367.7 320.2ZM435.8 377.7L455.2 362.5L460.2 369.0L440.8 384.2ZM397.8 336.3L416.9 321.4L421.8 327.7L402.8 342.6ZM378.5 544.1L385.6 538.6L388.3 542.2L381.3 547.7ZM235.9 513.1L242.1 508.3L246.9 514.4L240.7 519.2ZM265.8 456.2L279.0 445.9L284.1 452.5L271.0 462.8ZM345.2 523.4L363.2 509.3L367.9 515.3L349.9 529.4ZM393.6 347.3L401.7 341.0L404.8 345.0L396.7 351.4ZM473.8 255.7L489.7 243.3L493.8 248.6L477.9 261.0ZM465.7 344.9L468.9 342.3L471.5 345.6L468.2 348.1ZM245.7 461.2L257.1 452.3L261.5 458.0L250.1 466.8ZM277.6 334.3L298.8 317.7L304.3 324.8L283.1 341.3ZM171.6 530.3L186.3 518.8L190.1 523.7L175.4 535.2ZM312.6 516.2L317.5 512.4L321.3 517.3L316.4 521.1ZM96.6 547.0L100.7 543.8L103.9 547.9L99.8 551.1ZM203.1 489.1L205.6 487.2L207.6 489.7L205.1 491.6ZM438.6 229.5L445.0 224.5L450.0 230.9L443.6 235.8ZM315.8 322.4L318.5 320.3L320.6 323.0L317.9 325.0ZM310.3 481.8L326.1 469.5L330.2 474.8L314.4 487.1ZM319.9 452.6L334.1 441.5L339.6 448.6L325.5 459.7ZM159.9 516.6L165.6 512.2L170.0 517.9L164.3 522.3ZM275.0 479.4L279.8 475.6L283.6 480.4L278.7 484.2ZM296.7 334.9L309.0 325.2L313.8 331.4L301.5 341.1ZM270.6 466.3L273.3 464.1L275.5 466.9L272.8 469.0ZM376.1 397.8L388.0 388.5L392.6 394.5L380.7 403.8ZM206.6 485.3L218.0 476.4L222.5 482.1L211.0 491.1ZM348.9 278.0L361.8 267.9L365.1 272.2L352.2 282.3ZM449.4 228.0L453.8 224.6L457.2 229.0L452.8 232.4ZM476.0 440.7L482.2 435.9L487.0 442.1L480.8 446.9ZM415.7 368.8L418.4 366.7L420.5 369.4L417.8 371.4ZM404.2 296.2L410.5 291.3L415.4 297.6L409.1 302.5ZM179.0 532.2L186.9 526.0L190.0 530.0L182.1 536.1ZM337.6 367.7L348.0 359.6L352.0 364.8L341.7 372.8ZM172.4 429.3L182.1 421.6L186.0 426.5L176.2 434.2ZM474.3 340.8L480.9 335.7L483.4 339.0L476.9 344.1ZM398.5 466.1L404.3 461.6L408.8 467.3L403.0 471.8ZM476.3 349.7L482.0 345.3L484.3 348.1L478.6 352.6ZM394.0 418.8L410.5 405.9L414.8 411.4L398.3 424.3ZM314.1 417.1L330.1 404.6L334.3 410.0L318.3 422.5ZM410.9 252.4L415.7 248.7L419.4 253.5L414.6 257.2ZM309.3 314.4L318.5 307.2L322.1 311.8L312.9 319.0ZM441.2 514.5L446.3 510.5L450.3 515.6L445.2 519.6ZM468.0 516.1L471.9 513.1L475.0 517.0L471.0 520.0ZM352.3 485.9L354.7 484.0L356.5 486.4L354.1 488.3ZM429.9 389.9L432.3 388.0L434.2 390.4L431.8 392.3ZM433.0 511.0L437.6 507.4L441.3 512.0L436.6 515.6ZM134.8 461.8L138.4 458.9L141.3 462.6L137.6 465.5ZM331.3 442.5L335.9 438.8L339.6 443.5L334.9 447.2ZM384.3 545.7L398.6 534.6L402.4 539.3L388.0 550.5ZM379.5 392.5L391.7 383.0L396.4 389.1L384.3 398.6ZM118.7 542.1L125.7 536.6L131.2 543.6L124.2 549.1ZM225.6 485.5L238.5 475.5L241.8 479.8L228.9 489.8ZM305.9 483.8L315.8 476.1L319.7 481.0L309.8 488.8ZM305.9 516.0L313.4 510.2L315.3 512.7L307.8 518.5ZM238.5 457.7L248.6 449.8L252.6 454.8L242.4 462.8ZM332.4 387.5L337.4 383.6L341.3 388.6L336.3 392.5ZM366.6 311.5L378.5 302.2L381.6 306.2L369.7 315.5ZM466.1 189.4L472.6 184.4L477.6 190.8L471.2 195.9ZM311.5 405.0L330.4 390.2L335.3 396.5L316.5 411.3ZM406.8 340.8L411.9 336.8L413.9 339.4L408.8 343.4ZM240.7 444.7L256.5 432.3L260.7 437.6L244.8 450.0ZM243.4 485.1L250.4 479.7L255.8 486.6L248.8 492.0ZM421.4 395.3L437.3 382.9L441.4 388.2L425.5 400.6ZM359.6 291.3L364.9 287.2L369.0 292.4L363.7 296.5ZM330.6 321.3L336.5 316.7L338.9 319.7L332.9 324.3ZM481.5 370.4L484.6 367.9L487.0 371.1L483.9 373.5ZM161.7 508.0L182.1 492.0L187.4 498.8L167.0 514.8ZM225.3 503.8L234.0 497.1L237.4 501.4L228.7 508.1ZM348.1 311.7L361.6 301.1L366.8 307.9L353.3 318.4ZM441.1 440.6L449.9 433.8L453.3 438.2L444.6 445.0ZM470.5 386.8L473.4 384.6L475.6 387.4L472.8 389.6ZM383.7 288.7L404.3 272.7L409.6 279.5L389.0 295.6ZM400.1 516.5L406.8 511.2L412.0 517.9L405.3 523.1ZM475.9 360.4L481.2 356.2L483.2 358.9L477.9 363.0ZM425.6 435.5L433.7 429.1L435.9 431.9L427.7 438.2ZM450.5 464.2L454.5 461.1L457.7 465.1L453.6 468.3ZM473.4 286.0L476.4 283.7L478.7 286.6L475.7 288.9ZM340.6 400.9L349.1 394.4L351.3 397.2L342.8 403.8ZM242.3 411.5L248.3 406.8L253.1 412.9L247.0 417.6ZM390.5 250.2L401.5 241.6L404.3 245.3L393.3 253.9ZM459.4 409.2L470.1 400.8L472.9 404.4L462.2 412.7ZM371.2 502.1L384.5 491.7L389.7 498.4L376.4 508.8ZM374.8 300.7L380.2 296.5L384.4 301.9L379.0 306.1ZM439.9 501.5L443.0 499.1L445.3 502.1L442.3 504.5ZM130.8 512.4L137.3 507.4L142.3 513.8L135.9 518.9ZM409.9 323.3L413.1 320.8L415.6 324.0L412.4 326.6ZM464.2 386.6L482.0 372.7L486.6 378.6L468.9 392.5ZM195.3 539.1L198.9 536.3L201.7 539.9L198.1 542.7ZM440.6 229.5L445.3 225.8L447.2 228.1L442.5 231.8ZM243.6 458.1L258.7 446.4L262.6 451.4L247.5 463.1ZM81.2 529.2L87.3 524.4L92.1 530.6L86.0 535.4ZM333.4 550.6L347.3 539.7L350.9 544.3L337.0 555.2ZM350.9 443.7L354.8 440.7L357.9 444.6L354.0 447.7ZM390.9 545.1L395.6 541.4L399.3 546.1L394.6 549.8ZM426.9 395.9L432.0 391.8L436.0 397.0L430.9 401.0ZM161.5 460.2L166.4 456.4L170.2 461.3L165.3 465.1ZM334.6 368.0L343.6 360.9L347.2 365.4L338.1 372.5ZM366.3 529.3L374.9 522.6L378.2 526.9L369.7 533.5ZM424.8 412.6L437.3 402.8L440.5 407.0L428.1 416.7ZM337.5 546.5L345.8 540.0L347.9 542.8L339.7 549.2ZM469.4 427.5L484.1 416.1L487.9 421.0L473.2 432.4ZM378.0 415.1L383.0 411.2L385.0 413.7L379.9 417.7ZM286.9 359.4L295.1 353.0L297.3 355.7L289.1 362.1ZM271.9 382.0L279.3 376.2L282.1 379.9L274.8 385.7ZM394.8 477.9L402.6 471.9L405.6 475.7L397.9 481.8ZM383.7 359.6L388.4 356.0L392.0 360.6L387.3 364.2ZM152.3 544.3L155.9 541.5L158.8 545.1L155.1 548.0ZM436.8 321.7L449.3 312.0L454.1 318.2L441.7 327.9ZM476.4 537.7L483.2 532.4L488.6 539.2L481.7 544.5ZM458.7 316.8L465.6 311.4L471.0 318.3L464.1 323.7ZM304.3 530.8L315.4 522.2L319.7 527.7L308.6 536.3ZM397.9 355.0L402.9 351.1L406.8 356.1L401.8 360.0ZM359.2 401.5L373.0 390.8L378.4 397.7L364.6 408.4ZM281.2 527.6L287.4 522.8L292.2 529.0L286.0 533.8ZM449.8 245.6L453.0 243.1L455.5 246.4L452.3 248.9ZM308.1 385.1L316.1 378.9L318.1 381.5L310.2 387.8ZM443.3 383.5L449.0 379.0L451.3 381.9L445.6 386.3ZM329.2 444.6L335.7 439.6L338.2 442.8L331.8 447.8ZM211.6 433.0L214.0 431.1L215.8 433.5L213.5 435.4ZM457.9 463.4L470.7 453.4L475.6 459.8L462.9 469.8ZM456.7 218.1L461.6 214.3L465.4 219.2L460.5 223.0ZM460.7 490.3L467.4 485.1L472.7 491.8L466.0 497.0ZM322.1 412.9L328.9 407.6L334.2 414.4L327.4 419.7ZM329.5 385.2L350.2 369.1L355.6 376.0L334.9 392.1ZM456.7 251.6L463.1 246.6L468.1 253.0L461.7 258.0ZM304.9 419.4L313.6 412.6L317.0 417.0L308.3 423.8ZM395.3 247.9L398.0 245.8L400.2 248.5L397.4 250.7ZM298.7 511.1L304.1 506.8L308.4 512.3L302.9 516.5ZM304.3 530.8L309.6 526.7L313.7 531.9L308.4 536.0ZM345.6 481.2L352.0 476.2L357.0 482.6L350.6 487.6ZM195.8 526.5L207.2 517.7L211.6 523.4L200.3 532.2ZM269.8 392.4L288.3 378.0L293.2 384.1L274.6 398.6ZM291.2 363.1L296.1 359.3L299.9 364.2L295.0 368.0ZM254.2 493.9L259.9 489.4L262.2 492.3L256.4 496.8ZM280.4 385.7L290.1 378.1L292.6 381.3L282.9 388.9ZM374.7 335.0L381.1 329.9L386.2 336.4L379.7 341.4ZM298.9 422.4L311.3 412.7L314.5 416.8L302.1 426.5ZM330.0 438.7L335.6 434.3L337.8 437.1L332.2 441.5ZM138.2 487.8L149.8 478.8L154.3 484.6L142.8 493.6ZM71.2 499.4L82.4 490.7L86.8 496.2L75.6 505.0ZM360.9 385.5L374.5 374.8L378.1 379.4L364.4 390.0ZM167.7 546.1L170.7 543.7L173.2 546.7L170.1 549.2ZM372.8 317.5L375.8 315.1L378.2 318.1L375.2 320.5ZM435.0 288.5L438.9 285.4L441.9 289.3L438.0 292.3ZM313.2 504.6L315.8 502.5L317.8 505.2L315.2 507.2ZM452.9 531.0L456.4 528.2L459.2 531.8L455.7 534.5ZM342.3 332.3L345.6 329.8L348.1 333.0L344.9 335.6ZM467.0 276.0L477.6 267.7L481.7 273.0L471.2 281.3Z" fill="#e2e2e2"/>
<path d="M445.8 238.8L452.8 233.4L458.2 240.4L451.3 245.8ZM430.5 290.1L436.0 285.8L440.3 291.3L434.8 295.6ZM464.7 542.6L467.9 540.1L470.4 543.3L467.2 545.7ZM458.1 415.6L463.7 411.2L468.1 416.8L462.5 421.2ZM453.7 509.6L457.8 506.5L461.0 510.5L456.9 513.7ZM214.2 432.2L217.9 429.3L220.8 433.0L217.1 435.8ZM314.0 344.2L323.3 336.9L327.0 341.6L317.6 348.9ZM409.4 312.4L414.5 308.5L418.4 313.6L413.4 317.5ZM345.5 304.3L354.7 297.1L358.3 301.7L349.1 308.9ZM267.7 509.5L270.4 507.4L272.5 510.1L269.8 512.2ZM360.8 344.2L366.6 339.7L371.1 345.4L365.3 350.0ZM331.8 514.3L338.7 508.9L344.0 515.8L337.2 521.2ZM468.5 549.8L489.3 533.6L494.8 540.5L473.9 556.8ZM446.3 392.4L465.3 377.6L470.2 383.9L451.3 398.7ZM448.2 351.0L462.4 339.9L467.9 347.0L453.7 358.0ZM201.8 432.9L206.8 429.0L210.7 434.0L205.7 437.9ZM381.1 356.2L384.1 353.8L386.5 356.8L383.5 359.2ZM377.1 461.1L380.6 458.4L383.3 461.9L379.8 464.6ZM90.7 546.7L101.7 538.0L106.1 543.6L95.0 552.2ZM462.2 368.4L472.9 360.1L475.7 363.7L465.0 372.0ZM86.9 498.4L98.0 489.7L102.4 495.3L91.2 504.0ZM336.7 544.7L348.8 535.2L352.0 539.3L339.9 548.7ZM270.5 382.2L275.7 378.1L279.8 383.3L274.6 387.4ZM413.3 508.1L424.5 499.3L428.9 504.9L417.7 513.7ZM359.6 430.2L365.5 425.6L370.2 431.5L364.2 436.2ZM441.7 445.5L449.0 439.8L450.8 442.2L443.6 447.9ZM161.5 518.2L169.2 512.2L172.2 516.0L164.5 522.1ZM369.1 447.8L372.7 444.9L375.5 448.5L371.9 451.3ZM333.4 383.6L354.7 367.0L360.2 374.1L338.9 390.7ZM258.7 547.7L270.2 538.8L273.2 542.6L261.7 551.5ZM436.2 476.1L443.2 470.7L448.6 477.7L441.7 483.1ZM265.0 361.2L271.6 356.1L276.7 362.7L270.1 367.8ZM220.3 392.9L227.3 387.5L232.7 394.4L225.8 399.8ZM245.4 407.0L252.2 401.7L257.5 408.5L250.7 413.8ZM371.3 536.7L376.0 533.1L379.6 537.7L375.0 541.4ZM304.2 362.5L314.2 354.7L318.1 359.7L308.1 367.5ZM164.4 458.6L171.1 453.4L176.4 460.1L169.7 465.4ZM281.5 382.8L289.8 376.3L291.9 379.1L283.7 385.5ZM294.5 408.6L304.3 401.0L306.8 404.2L297.0 411.9ZM431.8 463.1L435.9 459.9L439.1 463.9L435.0 467.1ZM113.9 473.3L117.4 470.6L120.2 474.0L116.7 476.8ZM300.8 482.0L306.1 477.9L308.1 480.5L302.8 484.7ZM430.3 442.6L433.5 440.1L436.1 443.3L432.8 445.9ZM385.5 445.2L394.8 438.0L398.4 442.6L389.1 449.9ZM427.0 375.9L435.9 369.0L438.2 371.9L429.3 378.9ZM272.9 501.9L289.9 488.5L294.4 494.2L277.3 507.5ZM222.9 420.2L235.7 410.2L240.7 416.6L227.9 426.6ZM453.3 496.8L457.8 493.3L461.3 497.8L456.8 501.3ZM294.4 411.4L305.0 403.1L309.2 408.4L298.6 416.7ZM430.3 420.7L436.7 415.6L441.7 422.1L435.3 427.1ZM331.3 351.1L337.2 346.5L341.8 352.4L335.9 357.0ZM451.6 272.6L463.3 263.4L467.9 269.3L456.2 278.4ZM288.4 389.6L301.8 379.1L305.3 383.6L291.9 394.1ZM333.5 489.8L348.8 477.9L352.8 483.0L337.5 494.9ZM363.7 438.6L366.3 436.6L368.3 439.1L365.7 441.1ZM377.0 376.8L390.2 366.5L393.7 370.9L380.5 381.2ZM319.1 537.2L323.4 533.9L326.7 538.1L322.4 541.4ZM468.3 396.8L473.0 393.1L476.7 397.8L472.0 401.5ZM238.5 483.6L253.7 471.8L257.6 476.8L242.4 488.7ZM454.3 360.1L460.6 355.2L465.6 361.5L459.3 366.5ZM474.7 208.8L485.8 200.2L490.1 205.7L479.1 214.3ZM473.4 230.2L476.3 227.9L478.5 230.8L475.7 233.0ZM411.0 273.4L416.6 269.0L418.8 271.8L413.2 276.2ZM164.6 456.5L179.2 445.1L183.0 450.0L168.4 461.4ZM130.6 501.0L137.5 495.6L140.2 499.0L133.3 504.4ZM129.6 506.3L134.1 502.7L137.7 507.3L133.1 510.8ZM256.4 504.1L270.3 493.2L275.7 500.2L261.8 511.0ZM478.5 309.7L483.7 305.6L487.8 310.8L482.6 314.9ZM143.2 539.1L155.9 529.1L159.2 533.4L146.5 543.3ZM375.1 470.1L385.7 461.9L389.8 467.2L379.2 475.4ZM244.3 418.3L260.4 405.7L264.6 411.1L248.5 423.7ZM100.4 507.5L103.0 505.5L105.0 508.1L102.4 510.1ZM374.9 485.5L379.2 482.1L382.6 486.4L378.2 489.8ZM418.2 250.9L421.8 248.1L424.6 251.7L421.0 254.5ZM336.7 534.3L339.9 531.7L342.4 535.0L339.2 537.5ZM148.4 513.9L160.7 504.3L163.9 508.4L151.6 517.9ZM437.8 268.3L449.0 259.6L453.3 265.2L442.2 273.9ZM290.5 326.3L295.0 322.7L298.5 327.3L294.0 330.8ZM399.5 413.9L405.1 409.5L409.5 415.1L403.9 419.5ZM418.4 230.3L439.0 214.2L444.4 221.0L423.8 237.1ZM76.5 505.6L84.7 499.2L87.9 503.3L79.7 509.7ZM475.5 399.9L487.8 390.3L492.6 396.4L480.3 406.0ZM420.4 359.0L427.4 353.6L432.8 360.5L425.9 366.0ZM371.1 300.2L375.5 296.8L378.9 301.2L374.5 304.6ZM336.8 412.1L348.9 402.6L353.6 408.7L341.5 418.1ZM336.8 445.5L341.5 441.9L345.1 446.5L340.5 450.2ZM171.0 443.5L179.8 436.6L182.0 439.6L173.3 446.4ZM474.0 521.7L479.4 517.5L483.7 522.9L478.2 527.1ZM341.6 458.9L349.1 453.1L352.0 456.8L344.6 462.6ZM469.8 199.2L475.8 194.5L478.2 197.5L472.1 202.2ZM258.7 382.2L267.7 375.2L271.2 379.7L262.2 386.7ZM325.8 426.1L337.7 416.9L340.7 420.8L328.9 430.0ZM271.1 458.0L274.5 455.4L277.2 458.8L273.7 461.5ZM138.0 547.1L151.9 536.2L157.4 543.1L143.4 554.1ZM459.8 282.4L467.3 276.7L470.1 280.4L462.7 286.2ZM442.4 529.5L447.7 525.4L451.8 530.7L446.5 534.8ZM426.1 343.0L432.3 338.2L437.0 344.3L430.9 349.1ZM180.3 451.7L187.0 446.4L192.3 453.2L185.5 458.4ZM209.0 410.8L225.4 398.1L229.6 403.5L213.3 416.3ZM421.6 243.2L426.4 239.4L430.1 244.2L425.3 248.0ZM292.7 369.2L301.4 362.4L304.8 366.7L296.1 373.5ZM302.8 374.9L315.0 365.3L319.8 371.4L307.6 381.0ZM306.3 367.5L313.2 362.1L318.5 369.0L311.7 374.4ZM383.7 414.0L394.6 405.4L398.8 410.9L387.9 419.4ZM202.0 536.0L207.1 532.0L211.1 537.1L206.0 541.1ZM213.5 538.3L226.1 528.5L231.0 534.8L218.4 544.6ZM396.8 412.8L416.4 397.4L421.5 404.0L401.9 419.3ZM122.0 522.7L125.9 519.7L129.0 523.6L125.1 526.7ZM141.0 518.9L150.9 511.1L154.8 516.1L144.9 523.8ZM394.0 280.9L396.9 278.7L399.1 281.5L396.2 283.7ZM472.3 293.1L482.1 285.4L484.7 288.6L474.8 296.3ZM397.6 257.8L403.8 252.9L406.3 256.1L400.0 260.9ZM99.1 545.1L107.5 538.6L110.8 542.8L102.4 549.3ZM75.3 497.4L81.1 492.8L85.7 498.7L79.9 503.3ZM376.8 312.8L385.7 305.9L389.2 310.3L380.3 317.3ZM460.5 316.8L470.4 309.0L474.3 314.0L464.3 321.7ZM331.3 462.7L334.3 460.4L336.7 463.4L333.7 465.7ZM233.2 535.6L238.2 531.8L242.0 536.7L237.1 540.5ZM119.1 511.8L125.5 506.8L130.5 513.2L124.1 518.2ZM148.1 450.6L152.7 447.0L156.2 451.6L151.7 455.1ZM388.3 247.9L398.9 239.7L403.0 245.0L392.5 253.2ZM362.7 526.8L370.7 520.5L372.8 523.2L364.8 529.4ZM437.4 454.4L449.4 445.0L454.1 451.0L442.1 460.4ZM246.5 407.8L249.7 405.3L252.1 408.5L249.0 411.0ZM129.4 521.2L144.8 509.2L148.8 514.3L133.4 526.3ZM358.6 503.9L361.8 501.3L364.4 504.6L361.1 507.2ZM321.4 381.0L333.8 371.2L337.1 375.4L324.6 385.1ZM448.4 501.8L461.5 491.6L466.7 498.1L453.5 508.4ZM217.6 491.0L221.0 488.3L223.7 491.8L220.3 494.5ZM156.3 525.9L159.1 523.7L161.3 526.5L158.5 528.7ZM455.8 322.4L468.3 312.7L473.2 318.9L460.7 328.7ZM112.2 471.5L132.8 455.5L138.2 462.3L117.6 478.4ZM428.7 511.3L434.8 506.5L439.5 512.6L433.4 517.3ZM325.2 428.4L336.3 419.6L340.7 425.2L329.5 434.0ZM472.2 498.3L474.7 496.4L476.5 498.8L474.1 500.7ZM307.2 435.7L317.0 428.1L320.9 433.0L311.1 440.6ZM147.1 513.0L149.8 510.9L151.9 513.6L149.2 515.7ZM393.2 264.7L405.7 254.9L408.9 259.1L396.4 268.8ZM334.5 398.7L351.4 385.5L355.8 391.1L338.9 404.3ZM474.3 297.9L478.7 294.5L482.1 298.8L477.8 302.2ZM429.8 413.7L444.3 402.4L448.0 407.2L433.5 418.5ZM291.8 524.3L297.1 520.1L301.2 525.4L295.9 529.5ZM439.1 212.4L450.8 203.3L455.3 209.1L443.7 218.2ZM294.3 395.9L301.4 390.3L306.9 397.4L299.9 403.0ZM465.4 371.2L472.4 365.7L477.9 372.7L470.9 378.2ZM88.8 523.2L92.1 520.6L94.7 523.9L91.4 526.4ZM358.7 518.2L377.3 503.7L382.1 509.9L363.6 524.4ZM269.5 386.5L288.0 372.1L292.8 378.2L274.3 392.7ZM459.4 517.9L465.6 513.1L470.4 519.2L464.2 524.1ZM473.5 413.7L480.2 408.5L485.3 415.2L478.7 420.4ZM167.9 537.8L174.5 532.6L179.6 539.2L173.0 544.3ZM29.4 535.9L48.4 521.1L53.3 527.5L34.4 542.3ZM286.7 369.4L299.0 359.8L303.8 366.0L291.5 375.6ZM311.4 314.3L315.1 311.4L318.1 315.1L314.3 318.1ZM441.8 521.7L450.8 514.7L454.3 519.2L445.3 526.2ZM470.0 283.9L472.9 281.6L475.1 284.5L472.3 286.8ZM87.9 511.2L102.3 499.9L106.0 504.7L91.6 516.0ZM462.4 541.0L468.6 536.2L473.4 542.3L467.2 547.1ZM446.9 404.1L452.1 400.0L456.2 405.2L451.0 409.3ZM426.9 473.5L434.1 467.8L437.0 471.4L429.7 477.1ZM317.4 305.4L322.5 301.5L326.4 306.5L321.4 310.5ZM422.9 506.5L436.0 496.2L441.2 502.8L428.0 513.0ZM456.4 339.2L462.3 334.7L466.8 340.5L461.0 345.1ZM374.4 352.9L387.8 342.4L391.2 346.9L377.9 357.3ZM351.6 416.3L357.7 411.6L362.5 417.6L356.4 422.4ZM408.4 429.0L411.2 426.8L413.4 429.6L410.6 431.8ZM206.5 493.8L213.5 488.3L219.0 495.4L212.0 500.8ZM370.1 389.1L372.6 387.2L374.6 389.7L372.1 391.7ZM416.4 537.5L421.6 533.5L425.6 538.7L420.5 542.7ZM436.2 343.4L457.4 326.9L463.0 333.9L441.7 350.5ZM364.7 387.2L385.3 371.1L390.6 378.0L370.1 394.0ZM144.8 509.6L151.4 504.5L153.9 507.8L147.4 512.9ZM350.7 303.6L356.7 298.8L359.1 301.9L353.0 306.6ZM223.3 391.4L242.9 376.1L248.0 382.6L228.4 397.9ZM358.6 399.7L363.8 395.7L367.8 400.8L362.6 404.8ZM271.3 521.1L276.9 516.7L279.0 519.5L273.4 523.9ZM449.0 503.0L461.6 493.2L466.6 499.5L454.0 509.4ZM159.1 453.2L177.2 439.0L181.9 445.1L163.8 459.2ZM384.1 477.9L403.4 462.8L408.4 469.2L389.1 484.3ZM246.6 367.9L256.9 359.9L260.9 365.0L250.6 373.0ZM417.4 285.7L421.5 282.5L424.7 286.6L420.6 289.8ZM355.8 440.8L364.1 434.3L366.3 437.1L357.9 443.6ZM363.9 436.6L371.5 430.6L374.5 434.4L366.9 440.4ZM222.5 461.7L232.6 453.8L236.5 458.8L226.4 466.7ZM78.6 549.4L98.7 533.7L103.9 540.4L83.8 556.1ZM429.1 255.6L431.7 253.6L433.7 256.2L431.2 258.2ZM430.2 519.6L435.2 515.7L439.1 520.7L434.1 524.6ZM308.7 381.8L312.5 378.9L315.5 382.7L311.7 385.6ZM346.3 436.6L351.6 432.5L355.7 437.8L350.4 441.9ZM427.0 458.9L438.8 449.6L441.9 453.6L430.1 462.8ZM326.8 472.9L331.9 468.9L335.9 474.0L330.8 478.0ZM327.8 346.9L333.7 342.3L338.3 348.2L332.4 352.8ZM247.1 363.4L255.6 356.7L259.0 361.0L250.4 367.7ZM437.8 477.9L441.3 475.1L444.0 478.6L440.5 481.4ZM332.7 527.6L338.8 522.8L343.6 528.9L337.5 533.7ZM393.1 245.3L400.0 240.0L405.4 246.8L398.5 252.2ZM397.8 391.4L400.7 389.2L402.9 392.0L400.0 394.2ZM170.0 505.6L188.5 491.1L193.4 497.3L174.8 511.8ZM195.0 493.6L201.0 488.9L205.7 494.9L199.7 499.6ZM214.4 444.1L227.1 434.2L230.4 438.5L217.7 448.3ZM222.3 534.4L231.8 527.0L235.6 531.7L226.0 539.2ZM468.5 413.5L488.9 397.6L494.3 404.4L473.8 420.4ZM108.6 533.4L117.9 526.2L120.3 529.3L111.1 536.5ZM350.9 458.4L369.1 444.2L373.8 450.2L355.6 464.4ZM284.7 340.0L298.7 329.1L302.4 333.8L288.4 344.7ZM217.8 386.2L231.8 375.3L237.3 382.3L223.3 393.2ZM479.4 253.4L484.5 249.4L488.4 254.5L483.4 258.4ZM43.4 527.3L45.9 525.4L47.8 527.8L45.3 529.8ZM430.0 339.3L440.5 331.1L443.2 334.6L432.7 342.8ZM385.9 496.3L389.5 493.5L392.4 497.1L388.7 499.9ZM409.4 536.9L415.5 532.2L420.3 538.3L414.2 543.0ZM417.3 342.6L421.5 339.3L424.8 343.5L420.6 346.7ZM263.4 520.9L273.2 513.1L277.1 518.1L267.2 525.8ZM221.1 459.1L228.0 453.7L233.4 460.6L226.5 466.0ZM289.3 489.2L292.5 486.8L294.9 489.9L291.8 492.4ZM366.4 361.2L378.5 351.7L381.6 355.7L369.5 365.2ZM471.8 273.1L476.5 269.5L480.1 274.1L475.5 277.8ZM482.4 389.8L485.2 387.7L487.4 390.4L484.6 392.6ZM400.9 525.8L407.9 520.3L413.4 527.4L406.4 532.9ZM140.9 519.5L154.2 509.1L159.4 515.8L146.1 526.2Z" fill="#f1f1f1"/>
<path d="M441.3 355.6L443.6 353.8L445.4 356.1L443.1 357.9ZM409.5 402.9L412.3 400.7L414.6 403.5L411.7 405.8ZM328.1 537.6L333.7 533.3L338.0 538.8L332.5 543.2ZM214.6 413.1L218.5 410.0L221.5 413.9L217.7 417.0ZM480.3 407.5L485.2 403.6L489.1 408.5L484.1 412.4ZM421.9 491.2L424.0 489.5L425.7 491.6L423.6 493.3ZM48.4 542.3L53.3 538.6L57.1 543.4L52.2 547.2ZM467.1 482.3L470.9 479.3L473.8 483.1L470.0 486.0ZM388.6 254.6L393.5 250.7L397.3 255.7L392.4 259.5ZM420.0 332.7L425.2 328.7L429.2 333.9L424.1 337.9ZM304.4 476.8L315.4 468.2L319.8 473.7L308.7 482.3ZM469.5 442.1L484.3 430.6L488.1 435.5L473.3 447.0ZM335.9 404.2L346.9 395.6L351.2 401.1L340.2 409.7ZM324.8 356.2L330.1 352.0L332.2 354.7L326.9 358.8ZM465.6 335.0L482.4 321.8L486.8 327.4L470.0 340.6ZM229.5 380.9L232.5 378.5L234.9 381.5L231.9 383.9ZM376.8 362.3L387.1 354.2L389.8 357.7L379.5 365.7ZM177.5 547.7L194.1 534.8L198.4 540.3L181.8 553.2ZM124.7 492.4L128.4 489.6L131.2 493.2L127.6 496.0ZM360.0 444.0L377.5 430.4L382.0 436.2L364.6 449.8ZM310.8 377.0L313.1 375.2L315.0 377.6L312.6 379.4ZM155.9 479.8L158.8 477.6L161.0 480.4L158.1 482.6ZM447.8 422.8L454.0 417.9L455.7 420.0L449.4 424.9ZM211.9 390.6L216.9 386.7L220.8 391.7L215.8 395.6ZM414.5 420.5L425.6 411.8L428.5 415.5L417.4 424.2ZM360.1 301.7L365.2 297.7L369.1 302.8L364.1 306.7ZM313.8 428.4L325.2 419.5L328.1 423.3L316.8 432.1ZM301.4 338.2L314.6 327.8L318.0 332.3L304.8 342.6ZM356.7 399.6L362.9 394.7L365.4 397.8L359.1 402.7ZM293.1 501.3L300.3 495.7L302.2 498.1L295.0 503.7ZM205.7 420.0L220.4 408.5L224.2 413.4L209.5 424.9ZM366.0 361.6L368.9 359.4L371.1 362.2L368.3 364.5ZM359.7 531.3L368.1 524.7L371.4 528.9L363.0 535.5ZM169.3 445.2L180.0 436.8L184.2 442.1L173.5 450.5ZM433.0 364.4L440.7 358.4L443.7 362.3L436.0 368.3ZM308.8 330.7L312.3 328.0L315.1 331.5L311.5 334.3ZM240.4 487.7L257.8 474.1L262.3 479.9L244.9 493.5ZM452.3 270.5L458.3 265.8L460.6 268.8L454.6 273.5ZM454.6 495.8L470.9 483.0L475.2 488.5L458.9 501.3ZM431.4 535.6L438.1 530.3L439.9 532.6L433.2 537.8ZM226.9 394.6L231.3 391.2L234.7 395.6L230.3 399.1ZM336.4 361.2L347.2 352.8L351.4 358.2L340.6 366.6ZM204.7 461.6L208.5 458.7L211.4 462.5L207.6 465.4ZM454.2 219.8L462.6 213.3L464.8 216.1L456.4 222.6ZM359.0 454.5L364.0 450.6L365.9 453.1L361.0 457.0ZM268.0 392.8L275.5 387.0L277.4 389.5L270.0 395.3ZM476.4 299.3L490.2 288.6L493.8 293.1L480.0 303.9ZM452.1 263.3L461.5 255.9L465.2 260.6L455.8 268.0ZM371.0 403.6L380.4 396.3L384.0 401.0L374.6 408.3ZM312.4 399.3L315.1 397.2L317.2 399.9L314.5 402.0ZM110.8 483.3L113.4 481.2L115.4 483.8L112.8 485.8ZM181.2 545.8L186.7 541.5L191.0 547.0L185.5 551.2ZM460.2 440.4L464.1 437.4L467.1 441.3L463.2 444.3ZM67.5 515.6L70.7 513.1L73.2 516.3L70.0 518.8ZM302.8 450.2L306.7 447.1L309.8 451.1L305.9 454.1ZM204.7 462.3L207.7 459.9L210.1 462.9L207.1 465.3ZM247.4 437.5L251.4 434.4L254.4 438.3L250.5 441.4ZM450.3 394.0L452.4 392.3L454.0 394.4L451.9 396.1ZM333.1 541.5L341.5 535.0L344.8 539.1L336.4 545.7ZM470.8 403.9L475.8 400.1L477.7 402.6L472.8 406.4ZM417.7 268.4L420.8 265.9L423.3 269.1L420.1 271.6ZM399.0 398.6L407.1 392.3L410.3 396.3L402.2 402.7ZM352.7 356.3L358.1 352.2L362.3 357.5L356.9 361.7ZM405.0 436.0L408.6 433.2L411.5 436.8L407.8 439.7ZM394.1 440.7L408.3 429.5L412.0 434.3L397.8 445.4ZM407.1 304.2L410.5 301.6L413.1 304.9L409.7 307.6ZM356.7 276.8L366.8 268.9L370.8 273.9L360.6 281.8ZM362.5 514.2L377.3 502.6L381.2 507.6L366.3 519.2ZM363.5 492.2L369.1 487.9L371.2 490.7L365.7 495.0ZM249.1 359.8L253.8 356.1L255.7 358.5L251.0 362.2Z" fill="#d8d8d8"/>
<path d="M60 548L68 514L120 513L150 530L170 548Z" fill="#d4d4d4" opacity="0.6"/>
<path d="M17.9 548.4L68.7 506.0L146.6 443.3L225.9 379.0L304.9 315.5L383.9 251.1L462.5 192.2L485.7 175.0L485.7 548.4Z" fill="url(#gd)" />
<rect x="370" y="470" width="120" height="80" fill="url(#rd)"/>
<circle cx="286.0" cy="441.0" r="13.0" fill="url(#rs)" opacity="0.90"/>
<circle cx="83.0" cy="536.0" r="9.0" fill="url(#rs)" opacity="0.90"/>
<circle cx="205.0" cy="402.0" r="6.0" fill="url(#rs)" opacity="0.60"/>
<circle cx="390.0" cy="447.0" r="9.0" fill="url(#rs)" opacity="0.90"/>
<circle cx="425.0" cy="438.0" r="8.0" fill="url(#rs)" opacity="0.60"/>
<circle cx="352.0" cy="415.0" r="7.0" fill="url(#rs)" opacity="0.60"/>
<circle cx="470.0" cy="400.0" r="6.0" fill="url(#rs)" opacity="0.60"/>
<ellipse cx="204.5" cy="401.2" rx="2.6" ry="1.6" transform="rotate(-20 204.5 401.2)" fill="#000"/>
<ellipse cx="278.7" cy="431.8" rx="2" ry="1.3" fill="#000"/><ellipse cx="283.8" cy="433.9" rx="1.5" ry="1.1" fill="#000"/>
<path d="M279.5 442.3L287.1 445.7L280.4 448.3Z" fill="#c8eec8" stroke="#000" stroke-width="1.1"/>
<path d="M79.8 539.5L82.5 533L86.4 532.1L84 539.4L80.5 541Z" fill="#c8d8ff" stroke="#000" stroke-width="1.1"/>
<rect x="257" y="378.8" width="1.4" height="1.2" fill="#60d060"/>
<path d="M468.6 539.8L469.5 535.2L471.7 532.9L474.0 530.5L477.1 529.2L480.2 527.8L483.5 526.4L487.0 525.8L487.1 530.0L487.1 534.4L482.8 537.3L479.7 538.9L476.4 540.7L471.8 541.9Z" fill="#84e084" stroke="#000" stroke-width="1.30" stroke-linejoin="round"/>
<path d="M430.4 522.9L428.7 525.5L427.1 526.5L426.0 526.0L425.8 523.9L427.1 521.0L429.0 518.6L430.6 517.1L431.5 518.0L431.8 520.0Z" fill="#84e084" stroke="#000" stroke-width="1.30" stroke-linejoin="round"/>
<path d="M427.1 503.9L431.4 501.3L433.7 501.3L432.0 504.4L428.4 505.3Z" fill="#84e084" stroke="#000" stroke-width="1.20" stroke-linejoin="round"/>
<path d="M475.6 515.9L480.5 513.1L482.8 515.2L481.1 518.0L477.1 519.0Z" fill="#84e084" stroke="#000" stroke-width="1.20" stroke-linejoin="round"/>
<path d="M457.0 526.2L460.1 525.0L462.9 523.3L466.6 524.2L462.3 527.7L467.7 527.0L469.7 529.2L467.0 531.5L464.2 534.0L462.6 537.3L461.4 532.5L457.0 532.7L459.3 529.2Z" fill="#b8e8b8" stroke="#000" stroke-width="1.20" stroke-linejoin="round"/>
<path d="M482.5 505.8L482.3 506.3L481.9 506.6L481.3 506.6L480.9 506.3L480.7 505.8L480.9 505.3L481.3 504.9L481.9 504.9L482.3 505.3Z" fill="#000" />
</g>
<use href="#over"/>
<text x="43.64" y="66.0" font-size="24.0" textLength="175.2" lengthAdjust="spacingAndGlyphs" >85GHz PCT (K)</text>
<text x="438.4" y="523.6" font-size="29">(d)</text>
<rect x="495.0" y="531.28" width="9.2" height="8.76" fill="#f7f7f7"/>
<rect x="495.0" y="522.83" width="9.2" height="8.76" fill="#efefef"/>
<rect x="495.0" y="514.37" width="9.2" height="8.76" fill="#e6e6e6"/>
<rect x="495.0" y="505.91" width="9.2" height="8.76" fill="#dedede"/>
<rect x="495.0" y="497.45" width="9.2" height="8.76" fill="#d6d6d6"/>
<rect x="495.0" y="488.99" width="9.2" height="8.76" fill="#cdcdcd"/>
<rect x="495.0" y="480.53" width="9.2" height="8.76" fill="#c4c4c4"/>
<rect x="495.0" y="472.08" width="9.2" height="8.76" fill="#bcbcbc"/>
<rect x="495.0" y="463.62" width="9.2" height="8.76" fill="#b5b5b5"/>
<rect x="495.0" y="455.16" width="9.2" height="8.76" fill="#aeaeae"/>
<rect x="495.0" y="446.70" width="9.2" height="8.76" fill="#a6a6a6"/>
<rect x="495.0" y="438.24" width="9.2" height="8.76" fill="#a0a0a0"/>
<rect x="495.0" y="429.78" width="9.2" height="8.76" fill="#999999"/>
<rect x="495.0" y="421.33" width="9.2" height="8.76" fill="#929292"/>
<rect x="495.0" y="412.87" width="9.2" height="8.76" fill="#84e284"/>
<rect x="495.0" y="404.41" width="9.2" height="8.76" fill="#7dd87d"/>
<rect x="495.0" y="395.95" width="9.2" height="8.76" fill="#76cd76"/>
<rect x="495.0" y="387.49" width="9.2" height="8.76" fill="#6fc26f"/>
<rect x="495.0" y="379.03" width="9.2" height="8.76" fill="#68b868"/>
<rect x="495.0" y="370.58" width="9.2" height="8.76" fill="#d0d8ff"/>
<rect x="495.0" y="362.12" width="9.2" height="8.76" fill="#b9ceff"/>
<rect x="495.0" y="353.66" width="9.2" height="8.76" fill="#a2c4ff"/>
<rect x="495.0" y="345.20" width="9.2" height="8.76" fill="#8bbbff"/>
<rect x="495.0" y="336.74" width="9.2" height="8.76" fill="#72b2ff"/>
<rect x="495.0" y="328.28" width="9.2" height="8.76" fill="#57aaff"/>
<rect x="495.0" y="319.83" width="9.2" height="8.76" fill="#4b97ff"/>
<rect x="495.0" y="311.37" width="9.2" height="8.76" fill="#4480ff"/>
<rect x="495.0" y="302.91" width="9.2" height="8.76" fill="#3f65ff"/>
<rect x="495.0" y="294.45" width="9.2" height="8.76" fill="#3849ff"/>
<rect x="495.0" y="285.99" width="9.2" height="8.76" fill="#282eff"/>
<rect x="495.0" y="277.53" width="9.2" height="8.76" fill="#1717fb"/>
<rect x="495.0" y="269.08" width="9.2" height="8.76" fill="#0505f2"/>
<rect x="495.0" y="260.62" width="9.2" height="8.76" fill="#0000df"/>
<rect x="495.0" y="252.16" width="9.2" height="8.76" fill="#0000c8"/>
<rect x="495.0" y="243.70" width="9.2" height="8.76" fill="#ffff00"/>
<rect x="495.0" y="235.24" width="9.2" height="8.76" fill="#fff100"/>
<rect x="495.0" y="226.78" width="9.2" height="8.76" fill="#ffe400"/>
<rect x="495.0" y="218.33" width="9.2" height="8.76" fill="#ffd600"/>
<rect x="495.0" y="209.87" width="9.2" height="8.76" fill="#ffc800"/>
<rect x="495.0" y="201.41" width="9.2" height="8.76" fill="#ff9600"/>
<rect x="495.0" y="192.95" width="9.2" height="8.76" fill="#ff8c00"/>
<rect x="495.0" y="184.49" width="9.2" height="8.76" fill="#ff8200"/>
<rect x="495.0" y="176.03" width="9.2" height="8.76" fill="#ff7800"/>
<rect x="495.0" y="167.58" width="9.2" height="8.76" fill="#ff6e00"/>
<rect x="495.0" y="159.12" width="9.2" height="8.76" fill="#ff4000"/>
<rect x="495.0" y="150.66" width="9.2" height="8.76" fill="#ff3500"/>
<rect x="495.0" y="142.20" width="9.2" height="8.76" fill="#ff2a00"/>
<rect x="495.0" y="133.74" width="9.2" height="8.76" fill="#ff1f00"/>
<rect x="495.0" y="125.28" width="9.2" height="8.76" fill="#ff1400"/>
<rect x="495.0" y="116.82" width="9.2" height="8.76" fill="#c80000"/>
<rect x="495.0" y="108.37" width="9.2" height="8.76" fill="#be0000"/>
<rect x="495.0" y="99.91" width="9.2" height="8.76" fill="#b40000"/>
<rect x="495.0" y="91.45" width="9.2" height="8.76" fill="#aa0000"/>
<rect x="495.0" y="82.99" width="9.2" height="8.76" fill="#a00000"/>
<rect x="495.0" y="74.53" width="9.2" height="8.76" fill="#640a00"/>
<rect x="495.0" y="66.07" width="9.2" height="8.76" fill="#620c05"/>
<rect x="495.0" y="57.62" width="9.2" height="8.76" fill="#5f0f0a"/>
<rect x="495.0" y="49.16" width="9.2" height="8.76" fill="#5c120f"/>
<rect x="495.0" y="40.70" width="9.2" height="8.76" fill="#5a1414"/>
<path d="M503.9 548.20h2.6" stroke="#222" stroke-width="0.9"/>
<text x="507.05" y="556.2" font-size="18.6" textLength="33.8" lengthAdjust="spacingAndGlyphs" >300</text>
<path d="M503.9 497.45h2.6" stroke="#222" stroke-width="0.9"/>
<text x="506.77" y="505.5" font-size="18.6" textLength="34.3" lengthAdjust="spacingAndGlyphs" >279</text>
<path d="M503.9 446.70h2.6" stroke="#222" stroke-width="0.9"/>
<text x="506.77" y="454.7" font-size="18.6" textLength="34.2" lengthAdjust="spacingAndGlyphs" >258</text>
<path d="M503.9 395.95h2.6" stroke="#222" stroke-width="0.9"/>
<text x="506.77" y="404.0" font-size="18.6" textLength="34.3" lengthAdjust="spacingAndGlyphs" >237</text>
<path d="M503.9 345.20h2.6" stroke="#222" stroke-width="0.9"/>
<text x="506.77" y="353.2" font-size="18.6" textLength="34.2" lengthAdjust="spacingAndGlyphs" >216</text>
<path d="M503.9 294.45h2.6" stroke="#222" stroke-width="0.9"/>
<text x="506.31" y="302.5" font-size="18.6" textLength="34.7" lengthAdjust="spacingAndGlyphs" >195</text>
<path d="M503.9 243.70h2.6" stroke="#222" stroke-width="0.9"/>
<text x="506.31" y="251.7" font-size="18.6" textLength="34.4" lengthAdjust="spacingAndGlyphs" >174</text>
<path d="M503.9 192.95h2.6" stroke="#222" stroke-width="0.9"/>
<text x="506.31" y="201.0" font-size="18.6" textLength="34.7" lengthAdjust="spacingAndGlyphs" >153</text>
<path d="M503.9 142.20h2.6" stroke="#222" stroke-width="0.9"/>
<text x="506.31" y="150.2" font-size="18.6" textLength="34.8" lengthAdjust="spacingAndGlyphs" >132</text>
<path d="M503.9 91.45h2.6" stroke="#222" stroke-width="0.9"/>
<text x="506.31" y="99.4" font-size="18.6" textLength="34.8" lengthAdjust="spacingAndGlyphs" >111</text>
</g>
<g transform="translate(590.6 590.5)">
<g clip-path="url(#cde)" shape-rendering="crispEdges">
<path d="M17.9 548.4L68.7 506.0L146.6 443.3L225.9 379.0L304.9 315.5L383.9 251.1L462.5 192.2L485.7 175.0L485.7 548.4Z" fill="#7fde7f" />
<path d="M218.9 387.8L235.7 374.6L240.1 380.2L223.3 393.4ZM224.1 496.1L232.3 489.7L234.4 492.4L226.3 498.8ZM309.3 471.8L314.0 468.1L315.8 470.4L311.1 474.1ZM426.3 414.8L439.2 404.7L442.6 409.0L429.6 419.1ZM465.3 418.7L469.7 415.3L473.1 419.7L468.7 423.1ZM307.4 485.3L309.6 483.6L311.4 485.8L309.2 487.5ZM218.4 490.7L226.4 484.4L229.6 488.4L221.5 494.7ZM246.4 423.4L254.0 417.5L256.9 421.3L249.4 427.2ZM451.1 205.7L454.1 203.4L456.4 206.4L453.4 208.7ZM190.3 439.3L193.9 436.5L196.8 440.1L193.1 442.9ZM378.9 276.4L383.5 272.8L385.3 275.1L380.7 278.7ZM445.4 224.7L450.1 221.0L453.8 225.8L449.1 229.5ZM137.0 539.0L147.2 531.0L151.3 536.1L141.0 544.1ZM482.3 182.0L485.0 179.9L487.1 182.6L484.4 184.7ZM300.3 484.6L303.8 481.9L306.5 485.4L303.0 488.1ZM458.6 358.5L471.3 348.5L474.6 352.8L461.9 362.7ZM440.2 480.0L443.2 477.7L445.5 480.7L442.5 483.0ZM270.4 433.9L280.9 425.7L283.6 429.2L273.1 437.4ZM298.1 332.1L300.5 330.3L302.4 332.6L300.0 334.5ZM357.1 323.7L368.0 315.2L370.9 318.8L360.0 327.3ZM413.9 404.0L417.0 401.6L419.4 404.7L416.3 407.1ZM264.2 538.1L266.6 536.3L268.4 538.6L266.0 540.4ZM430.6 540.6L435.2 537.1L438.7 541.6L434.2 545.2ZM288.5 520.9L296.2 514.9L299.2 518.8L291.5 524.8ZM344.0 534.3L346.0 532.7L347.6 534.7L345.6 536.3ZM240.6 447.4L243.8 444.9L246.4 448.1L243.1 450.6ZM358.3 510.6L363.2 506.8L367.0 511.7L362.1 515.5ZM382.6 518.9L392.7 511.1L395.3 514.4L385.3 522.3ZM436.1 499.9L439.7 497.1L442.5 500.7L438.9 503.5ZM413.5 391.9L426.7 381.5L430.2 385.9L416.9 396.3ZM447.8 436.7L459.1 427.9L462.1 431.7L450.8 440.5ZM296.6 354.3L299.5 352.0L301.7 354.9L298.9 357.2ZM242.7 406.0L253.9 397.3L258.3 402.9L247.1 411.6ZM435.0 312.1L437.5 310.1L439.5 312.7L437.0 314.7ZM254.1 458.7L264.1 450.9L266.7 454.2L256.7 462.0ZM310.2 474.6L315.1 470.7L319.0 475.6L314.0 479.5ZM423.8 319.7L432.3 313.1L435.6 317.3L427.1 324.0ZM180.1 509.2L182.2 507.5L183.9 509.7L181.7 511.3ZM457.3 280.1L465.2 273.9L467.3 276.6L459.4 282.8ZM228.5 524.2L244.2 511.9L248.3 517.1L232.6 529.4ZM304.5 361.6L314.2 354.0L316.7 357.3L307.1 364.8ZM165.0 484.1L168.1 481.7L170.5 484.8L167.4 487.2ZM179.9 417.0L184.1 413.7L187.3 417.9L183.1 421.2ZM373.2 273.9L378.3 270.0L382.2 275.0L377.2 279.0ZM474.9 218.7L479.7 215.0L481.6 217.4L476.8 221.1ZM461.1 432.4L469.3 426.0L471.5 428.7L463.2 435.2ZM369.2 374.5L371.3 372.8L373.0 374.9L370.9 376.6ZM340.2 368.8L344.6 365.4L348.0 369.8L343.6 373.2ZM197.1 470.1L202.6 465.8L206.9 471.3L201.4 475.6ZM203.3 510.7L213.8 502.5L216.5 506.0L206.0 514.2ZM219.6 412.3L236.2 399.3L240.6 404.8L223.9 417.9ZM269.7 419.8L277.6 413.6L280.7 417.6L272.8 423.8ZM232.3 417.9L235.1 415.7L237.3 418.5L234.5 420.7ZM109.6 512.7L121.2 503.6L125.8 509.4L114.1 518.5ZM266.2 469.9L269.4 467.4L272.0 470.6L268.7 473.2ZM214.7 383.8L229.7 372.1L233.6 377.1L218.6 388.8ZM438.0 260.1L454.1 247.5L458.4 252.9L442.2 265.5ZM172.4 468.9L174.9 467.0L176.9 469.5L174.3 471.5ZM478.0 514.0L490.1 504.6L493.2 508.6L481.2 518.0ZM455.2 358.3L460.9 353.8L465.4 359.6L459.7 364.0ZM368.7 338.6L372.9 335.4L376.1 339.5L372.0 342.8ZM256.6 491.2L265.0 484.7L268.3 488.8L259.9 495.4ZM327.1 530.9L332.5 526.7L336.7 532.1L331.3 536.3ZM270.2 544.2L272.6 542.3L274.6 544.7L272.1 546.6ZM459.8 521.8L468.9 514.7L471.3 517.8L462.2 524.9ZM431.6 526.0L442.7 517.2L447.1 522.8L435.9 531.6ZM344.5 539.7L346.6 538.0L348.2 540.1L346.1 541.8ZM309.6 413.0L313.7 409.8L316.8 413.8L312.8 417.0ZM392.6 513.0L399.0 507.9L401.5 511.2L395.1 516.2ZM430.1 247.1L435.1 243.2L439.0 248.2L434.0 252.2ZM430.5 224.7L433.4 222.4L435.7 225.3L432.8 227.6ZM402.7 331.9L407.7 327.9L411.7 333.0L406.6 337.0ZM395.4 311.3L404.8 303.8L408.6 308.6L399.1 316.0ZM250.7 430.7L253.4 428.6L255.5 431.3L252.8 433.5ZM363.9 407.7L380.5 394.8L384.8 400.3L368.2 413.3ZM108.1 488.1L113.9 483.5L118.5 489.4L112.6 494.0ZM447.1 400.6L449.4 398.8L451.2 401.1L448.9 402.9ZM401.2 505.7L417.9 492.7L422.2 498.2L405.6 511.2ZM372.4 279.1L374.8 277.2L376.7 279.6L374.3 281.5ZM391.3 328.0L402.3 319.4L406.6 324.9L395.6 333.5ZM373.7 460.3L377.2 457.6L380.0 461.1L376.4 463.9ZM180.3 413.0L184.8 409.6L188.2 414.0L183.8 417.4ZM142.8 533.7L145.9 531.2L148.4 534.3L145.3 536.8ZM318.8 390.4L331.1 380.9L334.2 384.9L322.0 394.5ZM256.2 360.5L259.0 358.3L261.2 361.1L258.4 363.3ZM372.4 540.7L374.5 539.1L376.1 541.2L374.0 542.8ZM360.3 270.4L363.9 267.7L366.7 271.2L363.1 274.0ZM371.2 417.5L375.3 414.4L376.8 416.4L372.8 419.5ZM127.4 515.9L139.9 506.2L143.1 510.4L130.7 520.1ZM459.2 391.0L476.9 377.2L481.5 383.1L463.8 396.9ZM295.5 458.3L297.7 456.6L299.3 458.7L297.2 460.4ZM193.7 536.6L199.0 532.5L203.2 537.8L197.8 542.0ZM448.3 422.2L453.2 418.4L457.1 423.3L452.2 427.2ZM360.5 324.3L377.0 311.4L381.3 316.9L364.8 329.8ZM36.3 543.6L42.0 539.1L46.4 544.8L40.7 549.3ZM384.3 259.9L393.9 252.4L397.7 257.2L388.1 264.7ZM465.5 268.7L477.6 259.3L480.8 263.3L468.7 272.7ZM82.8 533.1L85.8 530.8L88.0 533.8L85.1 536.1ZM204.5 402.4L217.9 391.9L221.4 396.4L208.0 406.9ZM183.6 452.2L188.8 448.1L192.8 453.3L187.6 457.4ZM461.0 448.9L463.9 446.6L466.1 449.5L463.2 451.8ZM252.5 490.8L255.6 488.4L258.0 491.4L254.9 493.8ZM311.6 456.0L314.4 453.9L316.5 456.6L313.8 458.7ZM250.4 418.5L253.1 416.4L255.2 419.1L252.5 421.2ZM143.1 456.6L148.7 452.3L153.0 457.8L147.5 462.2ZM269.0 413.0L279.3 404.9L282.0 408.3L271.7 416.4ZM421.4 474.2L425.1 471.2L428.0 475.0L424.3 477.9ZM222.6 453.7L226.1 450.9L228.9 454.4L225.4 457.2ZM182.3 420.7L194.1 411.6L198.7 417.4L186.9 426.6ZM149.3 457.8L154.5 453.8L158.6 459.0L153.4 463.1ZM275.3 357.4L284.7 350.1L288.3 354.7L279.0 362.0ZM156.9 516.3L165.6 509.5L169.0 513.8L160.3 520.6ZM246.4 460.0L249.7 457.4L252.3 460.7L249.0 463.2ZM164.8 515.6L174.5 508.0L177.0 511.2L167.3 518.8ZM276.3 519.6L287.7 510.7L292.1 516.4L280.7 525.3ZM218.4 475.8L224.7 470.8L227.2 474.0L220.9 478.9ZM117.1 535.8L121.9 532.0L125.7 536.9L120.9 540.7ZM284.7 473.6L294.4 466.0L298.3 470.9L288.5 478.5ZM386.1 376.3L391.4 372.2L395.5 377.4L390.2 381.5ZM428.2 279.9L430.2 278.3L431.8 280.3L429.8 281.9ZM261.5 390.8L278.9 377.2L283.4 383.0L266.0 396.6ZM364.2 417.0L367.1 414.7L369.4 417.7L366.5 420.0ZM240.4 516.2L250.3 508.4L252.9 511.7L243.0 519.5ZM467.4 425.6L471.3 422.6L474.3 426.5L470.4 429.6ZM344.2 517.7L351.4 512.1L354.2 515.6L347.0 521.2ZM407.2 479.5L423.0 467.1L427.1 472.4L411.3 484.7ZM462.4 413.6L466.4 410.5L469.5 414.5L465.5 417.7ZM390.0 332.0L393.6 329.2L396.4 332.8L392.8 335.7ZM308.9 432.6L318.6 425.0L321.2 428.3L311.5 435.8ZM468.7 196.8L471.9 194.3L474.4 197.5L471.2 199.9ZM443.8 515.1L448.7 511.2L452.5 516.2L447.6 520.0ZM289.2 514.3L291.4 512.6L293.0 514.8L290.9 516.4ZM289.7 398.6L293.5 395.6L296.5 399.5L292.7 402.5ZM219.7 510.0L226.8 504.5L229.6 508.0L222.5 513.6ZM305.3 527.9L313.6 521.4L316.9 525.6L308.6 532.0ZM460.5 421.0L465.5 417.1L469.4 422.1L464.4 426.0ZM387.2 319.9L395.3 313.6L398.4 317.6L390.3 323.9ZM442.7 509.7L453.6 501.2L457.8 506.6L447.0 515.1ZM210.0 502.7L217.2 497.0L220.1 500.6L212.9 506.3ZM81.0 513.5L86.2 509.5L90.2 514.7L85.0 518.7ZM313.2 545.5L316.2 543.1L318.6 546.2L315.5 548.5ZM410.6 482.6L415.1 479.0L416.9 481.3L412.3 484.9ZM295.2 375.8L311.6 363.0L315.9 368.5L299.5 381.3ZM270.3 363.7L272.3 362.1L273.9 364.2L271.9 365.8ZM208.6 518.9L215.5 513.4L217.4 515.8L210.4 521.2ZM404.3 290.9L407.5 288.4L410.0 291.6L406.8 294.1ZM274.1 546.9L278.7 543.3L282.3 547.9L277.7 551.5ZM181.7 433.2L188.8 427.6L190.7 430.0L183.5 435.6ZM329.6 453.2L334.6 449.3L338.6 454.3L333.5 458.3ZM191.7 439.8L194.6 437.5L196.9 440.4L194.0 442.7ZM479.3 473.2L482.1 471.0L484.3 473.8L481.5 476.0ZM166.2 529.1L174.5 522.5L177.8 526.7L169.4 533.2ZM29.8 543.3L33.4 540.4L36.3 544.1L32.6 547.0ZM172.7 481.8L178.3 477.4L182.7 483.0L177.1 487.4ZM310.8 464.8L326.5 452.6L330.5 457.8L314.9 470.0ZM235.4 522.0L248.6 511.6L252.1 516.0L238.8 526.4ZM381.7 265.9L387.5 261.3L392.1 267.1L386.2 271.7ZM300.4 366.3L304.7 363.0L308.0 367.2L303.7 370.5ZM475.2 367.2L480.0 363.4L483.8 368.2L479.0 372.0ZM321.6 466.7L329.2 460.8L331.1 463.3L323.6 469.2ZM283.0 436.2L289.6 431.1L292.1 434.4L285.6 439.5ZM139.1 504.3L142.8 501.4L145.8 505.1L142.0 508.0ZM439.2 239.3L449.0 231.6L452.8 236.6L443.0 244.2ZM398.8 282.2L404.3 277.9L408.6 283.4L403.1 287.7ZM370.3 310.3L372.9 308.2L375.0 310.9L372.4 312.9ZM378.8 521.6L384.7 517.0L389.3 522.9L383.4 527.5ZM359.2 317.0L363.5 313.7L366.8 318.0L362.5 321.3ZM130.2 522.7L132.3 521.0L134.0 523.1L131.9 524.8ZM348.8 471.4L359.4 463.1L362.2 466.7L351.5 475.0ZM291.8 352.9L302.6 344.5L305.4 348.1L294.6 356.5ZM358.4 360.4L376.1 346.5L380.7 352.4L363.0 366.2ZM65.3 527.8L75.2 520.1L77.7 523.4L67.9 531.1ZM434.0 288.5L447.2 278.2L450.6 282.6L437.4 292.9ZM353.5 399.5L363.3 391.8L367.2 396.7L357.3 404.4ZM425.2 504.5L434.0 497.6L436.3 500.5L427.5 507.4ZM120.3 504.9L137.7 491.3L142.2 497.1L124.8 510.7ZM338.9 372.3L344.8 367.8L347.0 370.7L341.2 375.2ZM317.6 527.6L328.5 519.1L332.7 524.6L321.9 533.1ZM418.7 331.8L423.8 327.8L427.8 332.9L422.7 336.9ZM319.6 332.1L322.0 330.2L323.9 332.7L321.5 334.6ZM431.7 480.5L438.8 475.0L441.6 478.5L434.5 484.0ZM378.7 502.8L381.5 500.7L383.6 503.4L380.9 505.6ZM103.0 490.1L113.1 482.3L115.7 485.6L105.6 493.5ZM340.8 383.6L344.8 380.4L348.0 384.5L343.9 387.7ZM105.6 503.4L107.7 501.7L109.4 503.9L107.3 505.6ZM153.1 481.9L164.6 472.9L169.1 478.7L157.6 487.7ZM420.0 443.0L427.5 437.1L429.4 439.6L421.9 445.5ZM350.4 363.1L356.7 358.2L359.1 361.4L352.9 366.2ZM187.3 421.6L192.8 417.3L197.0 422.8L191.6 427.1ZM472.6 509.1L475.3 507.0L477.4 509.7L474.7 511.8ZM56.7 541.7L60.4 538.8L63.3 542.5L59.6 545.4ZM132.1 475.6L136.7 472.0L138.5 474.3L133.9 477.9ZM477.9 245.5L480.5 243.4L482.6 246.1L480.0 248.2ZM99.9 509.3L105.7 504.7L110.3 510.6L104.4 515.2ZM305.0 516.7L309.3 513.4L312.6 517.7L308.4 521.0ZM448.9 362.4L454.2 358.2L456.3 360.9L451.0 365.1ZM399.6 411.4L405.4 406.8L410.0 412.6L404.2 417.2ZM291.2 464.6L298.4 458.9L300.3 461.4L293.0 467.0ZM375.0 468.1L380.1 464.2L384.1 469.3L379.0 473.2ZM414.1 399.9L417.1 397.6L419.4 400.6L416.4 402.9ZM293.3 441.4L297.6 438.1L300.9 442.3L296.6 445.6ZM297.1 477.1L305.0 471.0L308.1 474.9L300.2 481.1ZM312.9 390.9L317.8 387.1L321.5 391.9L316.7 395.7ZM336.5 482.4L346.3 474.8L350.1 479.7L340.4 487.3ZM371.9 360.6L376.4 357.0L379.9 361.6L375.4 365.1ZM242.2 424.0L255.1 413.9L258.5 418.2L245.5 428.3ZM468.4 190.3L472.3 187.3L475.4 191.2L471.5 194.2ZM125.7 509.1L133.3 503.1L135.2 505.7L127.7 511.6ZM273.0 350.6L278.7 346.2L283.1 351.8L277.4 356.2ZM330.8 442.1L336.6 437.6L341.1 443.4L335.3 447.9ZM416.0 331.0L418.3 329.2L420.1 331.5L417.8 333.3ZM472.9 404.5L479.3 399.6L480.9 401.7L474.6 406.7ZM287.3 545.9L292.2 542.1L296.0 547.0L291.1 550.8ZM407.8 316.8L412.8 312.8L416.8 317.9L411.7 321.8ZM381.7 477.9L393.3 468.8L396.3 472.7L384.7 481.7ZM477.8 428.0L483.2 423.8L487.4 429.2L482.0 433.4ZM456.1 408.0L464.2 401.7L467.3 405.7L459.3 412.0ZM253.4 386.4L258.0 382.8L261.5 387.4L257.0 390.9ZM86.7 524.4L90.1 521.7L92.7 525.1L89.3 527.8ZM353.5 514.3L357.6 511.1L359.2 513.1L355.1 516.3ZM400.2 346.6L416.2 334.1L420.4 339.4L404.4 351.9ZM166.5 462.3L170.5 459.2L173.6 463.2L169.6 466.4ZM236.2 435.3L244.2 429.0L247.4 433.0L239.4 439.3ZM184.3 507.2L200.1 494.8L204.2 500.1L188.4 512.4ZM418.7 260.3L424.9 255.4L427.3 258.5L421.1 263.4ZM411.2 453.5L415.1 450.5L418.1 454.4L414.3 457.4ZM393.4 538.9L396.6 536.5L399.0 539.6L395.9 542.1ZM443.7 255.2L448.4 251.6L452.0 256.2L447.3 259.9ZM460.7 500.1L466.5 495.5L468.7 498.4L463.0 503.0ZM286.8 436.4L290.9 433.2L294.2 437.3L290.0 440.6ZM429.6 223.7L446.3 210.6L450.6 216.2L433.9 229.2ZM407.4 288.4L417.0 280.9L420.7 285.7L411.1 293.2ZM146.6 483.1L163.0 470.2L167.3 475.7L150.9 488.5ZM269.9 403.6L272.1 401.8L273.8 404.1L271.6 405.8ZM399.4 505.8L409.8 497.7L412.6 501.2L402.1 509.3ZM184.2 539.5L186.8 537.5L188.8 540.1L186.2 542.1ZM447.6 542.2L453.5 537.5L455.1 539.5L449.1 544.2ZM411.9 461.4L416.4 457.8L418.2 460.1L413.7 463.7ZM334.4 477.7L343.8 470.4L346.2 473.5L336.9 480.8ZM147.9 454.2L152.0 451.0L155.2 455.1L151.1 458.3ZM316.0 309.7L320.7 306.0L324.5 310.8L319.7 314.5ZM421.2 545.8L431.5 537.7L435.6 542.9L425.2 551.0ZM374.2 356.2L382.0 350.1L384.0 352.7L376.2 358.9ZM383.8 322.8L393.4 315.3L397.1 320.1L387.6 327.6ZM187.5 429.7L190.2 427.6L192.3 430.3L189.6 432.4ZM404.2 487.2L416.8 477.3L420.1 481.6L407.5 491.4ZM361.9 275.1L364.5 273.1L366.5 275.7L363.9 277.7ZM191.7 424.6L194.6 422.4L196.8 425.3L193.9 427.5ZM469.3 350.7L474.0 347.0L477.6 351.7L472.9 355.4ZM196.5 428.4L199.1 426.4L201.0 428.9L198.5 430.9ZM356.6 546.7L361.5 542.9L363.4 545.3L358.5 549.2ZM436.4 485.4L441.7 481.2L445.9 486.5L440.5 490.7ZM386.5 490.2L395.8 483.0L398.2 486.1L388.9 493.3ZM350.8 329.1L358.4 323.2L360.4 325.7L352.8 331.6ZM146.8 498.2L150.5 495.3L153.4 499.0L149.7 501.9ZM267.8 513.5L284.1 500.7L288.4 506.2L272.0 518.9ZM474.2 254.1L490.3 241.5L494.6 246.9L478.4 259.5ZM275.9 383.9L281.5 379.5L283.7 382.3L278.1 386.7ZM137.4 529.2L153.5 516.6L157.7 522.0L141.6 534.6ZM283.2 526.1L285.4 524.4L287.1 526.5L284.9 528.2Z" fill="#72cf72"/>
<path d="M235.8 420.0L240.4 416.4L244.0 421.0L239.4 424.6ZM189.1 549.7L200.7 540.7L203.8 544.5L192.1 553.6ZM337.2 399.1L341.4 395.9L344.7 400.0L340.5 403.3ZM472.5 311.9L475.8 309.3L478.4 312.6L475.1 315.2ZM475.1 530.1L482.4 524.5L484.2 526.9L477.0 532.5ZM467.4 375.9L472.9 371.6L477.1 377.0L471.7 381.3ZM470.8 505.2L475.0 502.0L478.2 506.1L474.1 509.4ZM293.6 352.6L297.1 349.9L299.8 353.4L296.3 356.1ZM130.1 530.0L146.2 517.4L150.4 522.8L134.3 535.4ZM253.6 477.1L257.5 474.0L260.6 477.9L256.7 481.0ZM194.2 495.6L196.3 493.9L198.0 496.0L195.9 497.7ZM197.4 463.0L199.8 461.1L201.6 463.5L199.3 465.3ZM237.3 532.6L241.1 529.6L244.1 533.4L240.3 536.4ZM232.9 379.6L235.6 377.6L237.7 380.2L235.0 382.3ZM140.4 462.4L143.8 459.8L146.3 463.1L143.0 465.7ZM387.2 361.9L390.1 359.6L392.4 362.5L389.5 364.8ZM474.6 547.4L478.6 544.3L481.7 548.3L477.7 551.4ZM445.4 505.6L454.6 498.4L458.2 503.0L449.0 510.2ZM258.4 354.5L267.2 347.6L270.7 352.0L261.8 358.9ZM328.9 344.4L343.5 332.9L347.4 337.8L332.7 349.3ZM148.4 503.1L157.6 495.9L160.0 499.0L150.8 506.2ZM334.1 434.9L339.1 431.0L341.0 433.5L336.0 437.4ZM215.7 541.9L224.1 535.4L227.3 539.6L219.0 546.1ZM365.5 333.8L378.4 323.8L381.7 328.1L368.9 338.1ZM382.5 392.6L389.1 387.4L391.7 390.7L385.1 395.9ZM314.1 318.5L316.7 316.5L318.7 319.1L316.1 321.1ZM430.3 476.6L446.8 463.7L451.1 469.2L434.6 482.1ZM265.1 469.3L268.5 466.6L271.2 470.0L267.8 472.7ZM135.7 474.2L149.7 463.3L153.4 468.0L139.3 478.9ZM264.7 436.2L268.2 433.5L271.0 437.0L267.4 439.7ZM336.2 443.8L339.4 441.3L341.9 444.5L338.7 447.0ZM365.4 422.8L376.7 414.0L381.1 419.6L369.8 428.5ZM306.3 356.9L310.7 353.4L312.4 355.6L308.0 359.0ZM229.6 504.9L231.9 503.1L233.8 505.4L231.4 507.3ZM443.5 361.6L448.3 357.9L451.9 362.6L447.2 366.3ZM248.8 438.2L252.6 435.3L255.6 439.0L251.8 442.0ZM399.2 262.7L411.5 253.1L414.7 257.2L402.4 266.8ZM376.5 509.0L381.0 505.5L384.5 509.9L380.0 513.4ZM143.3 527.5L156.3 517.3L159.7 521.6L146.7 531.8ZM394.3 469.3L398.7 465.9L402.1 470.2L397.7 473.7ZM402.5 405.6L417.7 393.8L421.7 398.8L406.5 410.7ZM209.9 423.1L219.8 415.3L222.4 418.7L212.5 426.4ZM243.7 525.4L248.8 521.3L252.9 526.5L247.7 530.6ZM133.4 537.1L137.5 534.0L140.6 538.0L136.6 541.2ZM417.3 420.2L427.1 412.6L430.9 417.5L421.2 425.1ZM469.5 518.1L479.5 510.3L483.4 515.3L473.4 523.1ZM402.8 253.3L408.2 249.0L412.4 254.5L407.0 258.7ZM393.1 248.7L398.6 244.4L400.8 247.2L395.3 251.5ZM447.1 541.0L452.1 537.0L456.0 542.1L451.0 546.0ZM335.0 374.8L338.7 371.9L341.7 375.6L337.9 378.6ZM317.2 475.1L325.1 468.9L328.2 472.9L320.3 479.1ZM229.9 414.1L240.4 405.9L243.1 409.4L232.6 417.6ZM406.6 473.5L414.9 467.0L418.1 471.1L409.9 477.6ZM368.4 488.0L370.8 486.1L372.8 488.6L370.3 490.5ZM389.8 486.9L395.5 482.5L399.9 488.1L394.3 492.5ZM300.9 534.9L306.6 530.5L311.1 536.2L305.3 540.7ZM290.8 393.7L296.0 389.6L300.0 394.8L294.8 398.8ZM312.2 488.5L327.6 476.5L331.6 481.6L316.2 493.6ZM456.7 544.8L466.6 537.1L470.5 542.0L460.6 549.8ZM368.7 505.7L379.0 497.6L383.1 502.8L372.7 510.9ZM264.1 532.0L273.9 524.3L277.8 529.2L268.0 536.9ZM173.9 546.6L181.3 540.9L183.2 543.3L175.8 549.0ZM291.8 391.5L298.7 386.1L301.5 389.5L294.5 395.0ZM182.5 517.3L199.2 504.3L203.6 509.8L186.8 522.9ZM427.8 527.4L436.6 520.5L440.1 524.9L431.2 531.8ZM413.2 230.2L423.1 222.5L425.7 225.8L415.8 233.5ZM263.7 487.9L271.8 481.6L274.9 485.6L266.8 491.9ZM386.9 260.1L389.2 258.3L390.9 260.6L388.7 262.3ZM432.2 251.3L445.1 241.2L448.4 245.5L435.6 255.5ZM246.4 423.6L255.2 416.7L258.6 421.1L249.9 428.0ZM376.5 324.6L393.8 311.1L398.3 316.8L381.0 330.4ZM403.6 316.3L407.5 313.3L410.5 317.2L406.6 320.2ZM450.4 230.4L456.1 225.9L458.3 228.8L452.6 233.2ZM450.8 371.9L454.2 369.3L456.8 372.7L453.4 375.3ZM241.7 368.5L247.5 364.0L252.0 369.7L246.3 374.2ZM440.5 372.7L453.0 362.9L456.3 367.1L443.8 376.9ZM269.3 490.9L272.8 488.2L275.4 491.7L272.0 494.4ZM259.6 406.8L265.4 402.2L270.0 408.0L264.1 412.6ZM464.9 433.2L468.3 430.6L470.9 433.9L467.6 436.5ZM271.4 509.7L274.8 507.1L277.4 510.4L274.0 513.0ZM459.7 523.8L466.5 518.5L469.1 521.9L462.3 527.2ZM279.2 375.7L283.2 372.6L286.4 376.6L282.3 379.8ZM154.8 500.2L158.0 497.7L160.5 501.0L157.3 503.5ZM443.7 263.9L447.9 260.7L451.1 264.8L447.0 268.0ZM459.5 404.0L469.3 396.4L473.1 401.3L463.3 408.9ZM479.8 467.0L487.2 461.2L490.1 464.9L482.7 470.7ZM458.1 507.1L471.8 496.4L475.4 501.0L461.6 511.7ZM435.7 495.7L440.1 492.3L443.5 496.7L439.1 500.2ZM326.2 358.7L331.3 354.7L335.3 359.8L330.2 363.9ZM251.3 429.1L262.7 420.1L265.7 423.9L254.3 432.9ZM343.6 542.2L348.9 538.0L353.0 543.3L347.7 547.5ZM472.5 433.1L484.5 423.7L487.6 427.8L475.6 437.1ZM322.1 513.8L324.7 511.8L326.8 514.4L324.1 516.5ZM354.7 355.4L360.2 351.1L364.5 356.6L359.0 360.9ZM441.8 494.8L445.6 491.8L448.6 495.6L444.8 498.6ZM83.9 539.7L87.9 536.6L90.9 540.5L87.0 543.6ZM429.9 369.1L438.6 362.4L441.9 366.7L433.3 373.4ZM270.8 516.5L274.9 513.3L278.1 517.4L274.0 520.6ZM419.4 243.0L421.6 241.3L423.3 243.5L421.1 245.3ZM445.3 488.2L449.4 485.0L452.6 489.1L448.5 492.3ZM254.8 470.9L257.0 469.2L258.7 471.4L256.5 473.2ZM172.0 533.2L174.6 531.2L176.6 533.8L174.0 535.8ZM177.3 520.2L190.1 510.2L193.5 514.4L180.6 524.4ZM286.0 455.9L302.3 443.2L306.5 448.6L290.2 461.3ZM398.5 468.4L405.3 463.1L408.0 466.5L401.1 471.9ZM442.1 548.5L446.9 544.8L448.8 547.2L444.0 550.9ZM451.3 466.5L459.0 460.4L462.0 464.3L454.3 470.3ZM444.1 432.3L460.2 419.7L464.4 425.1L448.3 437.7ZM428.9 460.4L432.4 457.6L435.1 461.1L431.6 463.9ZM332.3 454.5L342.7 446.4L346.8 451.6L336.4 459.7ZM273.1 534.1L276.0 531.8L278.2 534.7L275.3 537.0ZM421.6 293.7L428.7 288.2L431.4 291.7L424.4 297.2ZM366.9 539.5L372.5 535.1L376.8 540.7L371.2 545.1ZM379.3 541.3L383.7 537.9L387.2 542.3L382.8 545.7ZM64.7 542.0L69.3 538.3L73.0 543.0L68.3 546.6ZM413.5 314.1L421.5 307.9L423.5 310.5L415.6 316.7ZM372.0 437.8L377.7 433.3L382.2 439.0L376.5 443.5ZM266.0 410.8L276.8 402.4L281.0 407.8L270.2 416.2ZM472.6 426.7L478.4 422.1L483.0 427.9L477.1 432.5ZM233.6 415.4L240.9 409.7L243.7 413.4L236.5 419.0Z" fill="#69c369"/>
<path d="M335.5 491.8L338.2 489.7L340.3 492.4L337.6 494.5ZM325.5 499.1L330.0 495.6L333.5 500.1L329.0 503.6ZM215.9 487.3L220.3 483.9L223.7 488.3L219.3 491.7ZM479.2 487.2L483.8 483.6L485.6 485.9L481.0 489.5ZM396.5 454.7L408.0 445.8L412.4 451.5L401.0 460.4ZM430.0 381.9L441.7 372.8L446.2 378.6L434.5 387.7ZM427.3 414.8L436.4 407.6L439.9 412.2L430.8 419.3ZM390.3 477.0L407.8 463.3L412.4 469.1L394.8 482.9ZM272.4 456.1L279.9 450.3L281.9 452.8L274.4 458.6ZM145.2 506.6L149.4 503.3L152.7 507.5L148.5 510.8ZM278.2 505.5L282.9 501.8L286.6 506.6L281.9 510.3ZM459.7 320.0L464.6 316.2L468.3 321.0L463.5 324.8ZM338.9 343.2L347.8 336.2L350.1 339.2L341.2 346.2ZM355.4 270.2L365.3 262.5L369.2 267.4L359.3 275.2ZM109.8 493.4L113.3 490.7L116.0 494.1L112.5 496.8ZM434.1 439.8L442.8 433.0L445.1 435.9L436.4 442.7ZM284.9 396.7L291.7 391.4L294.3 394.8L287.6 400.1ZM381.3 381.7L386.8 377.4L391.2 382.9L385.6 387.3ZM274.1 379.3L280.4 374.3L282.1 376.4L275.7 381.4ZM400.4 415.4L404.4 412.3L407.6 416.3L403.6 419.5ZM480.3 221.3L486.6 216.3L489.1 219.5L482.8 224.4ZM274.3 437.6L285.7 428.7L290.1 434.4L278.8 443.3ZM275.1 373.4L280.3 369.3L284.4 374.5L279.2 378.6ZM441.1 450.4L444.1 448.0L446.4 451.0L443.5 453.4ZM369.8 399.5L373.8 396.4L375.3 398.4L371.4 401.5ZM79.8 497.2L82.2 495.3L84.1 497.7L81.7 499.6ZM219.4 501.6L225.2 497.0L229.8 502.9L224.0 507.5ZM468.2 193.1L470.8 191.0L472.9 193.6L470.3 195.7ZM435.1 508.4L440.6 504.1L445.0 509.6L439.4 514.0ZM56.7 523.6L61.2 520.1L63.0 522.3L58.5 525.8ZM388.7 254.3L393.5 250.5L397.3 255.3L392.5 259.1ZM254.1 521.2L265.2 512.5L268.1 516.2L257.0 524.9ZM303.3 487.9L308.8 483.6L313.1 489.1L307.6 493.4ZM297.9 528.4L307.8 520.6L311.7 525.6L301.8 533.3ZM465.8 286.0L468.1 284.2L469.9 286.5L467.6 288.3ZM450.9 237.9L455.0 234.8L456.6 236.8L452.5 240.0ZM413.4 551.7L428.9 539.6L432.9 544.8L417.5 556.9ZM86.6 541.9L95.8 534.7L99.4 539.3L90.2 546.6ZM115.8 547.1L127.3 538.1L131.8 543.9L120.3 552.8ZM203.2 549.2L218.1 537.6L222.0 542.5L207.1 554.2ZM281.2 535.3L292.6 526.4L295.6 530.2L284.2 539.1ZM350.1 485.2L352.2 483.6L353.8 485.7L351.7 487.3ZM436.3 387.8L441.1 384.0L444.9 388.8L440.1 392.6ZM316.4 334.4L322.1 329.9L326.6 335.6L320.9 340.1ZM378.5 429.0L381.7 426.5L384.1 429.7L381.0 432.1ZM317.0 449.3L324.4 443.6L327.2 447.3L319.9 453.0ZM246.0 389.9L257.0 381.3L261.3 386.8L250.3 395.4ZM315.7 404.8L327.8 395.3L331.0 399.4L318.9 408.8ZM278.6 391.7L294.0 379.6L298.0 384.8L282.6 396.8ZM281.4 462.5L292.6 453.7L297.0 459.3L285.8 468.2ZM387.6 471.8L405.2 458.1L409.8 463.9L392.2 477.7ZM262.2 544.2L267.5 540.1L271.7 545.3L266.4 549.5ZM217.9 384.5L220.0 382.9L221.5 384.9L219.5 386.5ZM357.7 423.8L374.9 410.4L379.4 416.1L362.2 429.6ZM479.4 234.4L482.1 232.3L484.2 235.0L481.5 237.1ZM427.0 420.7L431.7 417.0L435.4 421.8L430.7 425.5ZM388.5 493.2L391.1 491.2L393.1 493.8L390.5 495.8ZM397.2 465.2L402.2 461.4L406.0 466.3L401.1 470.1ZM345.0 333.9L348.6 331.0L351.4 334.6L347.8 337.5ZM131.5 479.2L145.9 468.0L149.6 472.7L135.3 484.0ZM437.8 279.1L442.6 275.4L446.3 280.1L441.6 283.9ZM479.8 409.8L486.8 404.3L488.7 406.6L481.6 412.2ZM340.6 392.3L351.4 383.8L354.3 387.5L343.4 396.0ZM397.5 341.7L401.2 338.9L404.0 342.5L400.4 345.3ZM344.7 411.7L349.8 407.8L351.8 410.3L346.7 414.3ZM85.7 513.7L89.8 510.5L91.4 512.6L87.3 515.8ZM460.9 338.1L468.2 332.3L470.1 334.8L462.8 340.5ZM267.6 483.2L280.9 472.9L284.3 477.3L271.1 487.6ZM385.3 326.0L395.9 317.8L398.6 321.3L388.1 329.5ZM461.4 456.9L467.9 451.8L469.6 454.0L463.1 459.1ZM364.5 444.2L369.4 440.4L373.3 445.3L368.4 449.1ZM248.3 511.4L252.5 508.1L254.2 510.2L249.9 513.5ZM103.9 513.7L107.5 511.0L110.3 514.5L106.7 517.3ZM367.5 321.5L371.0 318.7L373.8 322.2L370.3 325.0ZM385.5 452.3L398.1 442.5L401.4 446.7L388.8 456.5ZM333.5 321.2L339.0 316.8L343.4 322.4L337.8 326.8ZM415.4 346.9L427.1 337.7L430.2 341.6L418.5 350.8ZM287.4 341.6L293.0 337.1L297.5 342.8L291.8 347.2ZM452.0 499.6L455.8 496.7L458.8 500.5L455.0 503.4ZM143.9 473.9L147.9 470.8L151.1 474.8L147.1 478.0ZM334.5 537.1L348.3 526.3L351.9 530.9L338.1 541.6ZM196.8 435.0L199.6 432.9L201.7 435.6L199.0 437.8ZM355.1 319.4L363.4 312.9L365.6 315.7L357.3 322.2ZM332.5 546.5L335.0 544.5L337.0 547.1L334.5 549.0ZM427.0 487.9L431.3 484.6L434.6 488.8L430.3 492.1ZM392.9 325.2L400.1 319.6L402.9 323.2L395.7 328.8ZM148.2 464.4L154.2 459.7L155.8 461.7L149.8 466.4ZM227.3 440.7L232.5 436.7L236.5 441.8L231.3 445.8ZM393.6 399.5L395.5 398.0L397.1 399.9L395.1 401.5ZM221.4 433.1L224.4 430.7L226.8 433.8L223.8 436.1ZM51.2 524.7L53.5 522.9L55.3 525.2L53.0 527.0ZM363.3 356.0L367.5 352.7L370.8 356.9L366.6 360.2ZM228.2 444.1L239.7 435.2L244.1 440.9L232.7 449.9ZM272.3 536.0L279.1 530.7L280.9 533.0L274.1 538.3ZM370.5 494.7L375.9 490.5L380.1 495.9L374.7 500.1ZM458.8 232.6L463.0 229.3L466.3 233.5L462.1 236.8ZM245.8 452.5L250.4 448.9L254.0 453.5L249.4 457.1ZM311.4 401.1L320.7 393.8L324.4 398.5L315.0 405.8ZM162.4 476.0L177.1 464.6L180.9 469.4L166.2 480.9ZM334.6 332.2L338.0 329.5L340.7 333.0L337.3 335.7ZM365.1 461.9L369.7 458.3L373.3 462.9L368.7 466.5ZM154.5 444.6L158.3 441.6L161.3 445.4L157.5 448.4ZM61.1 544.0L63.3 542.3L65.0 544.5L62.8 546.2ZM141.4 474.2L154.3 464.1L157.7 468.4L144.7 478.5ZM409.8 410.4L411.9 408.8L413.4 410.8L411.4 412.4ZM366.5 270.9L372.1 266.5L376.4 272.1L370.8 276.5ZM197.7 480.3L204.1 475.3L206.6 478.5L200.2 483.5ZM319.5 497.5L322.0 495.6L323.9 498.0L321.5 500.0ZM329.4 537.6L340.8 528.7L343.8 532.5L332.4 541.4ZM277.7 366.6L286.7 359.6L289.1 362.6L280.1 369.6ZM177.0 486.2L185.8 479.3L189.2 483.7L180.4 490.6ZM454.6 217.0L463.0 210.4L465.2 213.2L456.8 219.8ZM396.0 496.0L398.4 494.2L400.2 496.6L397.9 498.4ZM275.8 499.5L287.0 490.7L289.9 494.5L278.7 503.2ZM400.6 360.6L403.6 358.2L406.0 361.2L403.0 363.6ZM172.9 497.2L176.0 494.8L178.3 497.8L175.3 500.2ZM366.1 537.5L376.0 529.7L379.8 534.7L369.9 542.4ZM436.1 499.3L446.3 491.3L449.0 494.7L438.8 502.7ZM461.3 537.7L471.1 530.0L473.7 533.3L463.9 541.0ZM285.9 509.7L291.1 505.6L295.2 510.8L290.0 514.9Z" fill="#88e588"/>
<path d="M210.1 391.3L215.2 394.2L205.9 399.3L195.7 409.4L189.0 411.1L191.5 417.9L195.7 422.2L209.3 421.3L217.8 417.9L227.9 421.3L236.4 417.9L239.8 424.7L229.6 428.1L226.2 433.2L209.3 434.9L212.7 439.9L205.9 443.3L209.3 450.1L214.4 453.5L209.3 458.6L212.7 465.4L205.9 470.4L217.8 475.5L212.7 478.9L227.9 484.0L221.2 487.4L209.3 482.3L205.9 485.7L217.8 490.8L222.9 495.9L204.2 497.5L205.9 502.6L221.2 499.2L234.7 495.9L246.6 494.2L256.7 489.1L266.9 485.7L273.7 492.5L283.8 495.9L297.4 485.7L303.0 487.0L308.0 480.6L316.5 485.7L328.4 484.0L338.5 478.9L345.3 485.7L355.5 475.5L360.6 480.6L365.6 489.1L372.4 492.5L369.0 499.2L363.9 504.3L357.2 500.9L352.1 504.3L345.3 509.4L348.7 516.2L345.3 522.9L350.4 531.4L357.2 534.8L360.6 541.6L367.3 548.6L195.7 548.6L189.0 538.2L178.8 531.4L161.9 524.6L150.0 519.6L128.0 512.8L94.1 510.2L72.1 511.9L58.0 514.0L50.0 500.0L140.0 430.0Z" fill="#9c9c9c" />
<path d="M55 518L215 388L175 470L120 512Z" fill="#b4b4b4" opacity="0.55"/>
<path d="M150 520L230 470L300 500L360 548L200 548Z" fill="#a8a8a8" opacity="0.6"/>
<path d="M417.1 264.7L432.0 262.0L444.2 264.7L456.4 257.9L468.6 256.6L464.5 262.0L475.4 268.8L485.8 257.9L485.8 341.9L480.8 339.2L472.7 333.8L465.9 331.1L461.8 327.0L456.4 324.3L448.3 327.0L442.9 323.0L451.0 318.9L456.4 314.8L452.4 309.4L444.2 312.1L436.1 308.1L440.2 305.3L432.0 301.3L422.5 302.6L415.8 299.9L422.5 297.2L418.5 291.8L410.3 295.2L404.9 293.2L422.5 283.7L418.5 279.6L422.5 275.5L413.1 268.8Z" fill="#9c9c9c" />
<path d="M437.2 343.9L460.9 371.0L466.1 366.4L442.4 339.3Z" fill="#9c9c9c" />
<path d="M454.0 363.5L487.8 344.5L483.8 337.5L450.0 356.5Z" fill="#9c9c9c" />
<path d="M355.1 453.6L372.0 473.9L376.2 470.3L359.3 450.0Z" fill="#9c9c9c" />
<path d="M344.8 463.2L349.8 472.2L354.2 469.8L349.2 460.8Z" fill="#9c9c9c" />
<path d="M458.8 309.5L485.8 309.5L485.8 334.9L458.8 334.9Z" fill="#9c9c9c" />
<path d="M432.2 382.3L443.4 373.6L446.2 377.3L435.1 386.0ZM474.3 399.0L477.6 396.4L480.2 399.7L476.9 402.3ZM455.2 351.0L459.6 347.5L461.4 349.7L456.9 353.2ZM480.0 362.6L482.5 360.6L484.5 363.1L482.0 365.1ZM475.5 382.3L485.2 374.7L487.7 377.9L478.0 385.5ZM458.9 339.2L467.8 332.2L470.1 335.2L461.2 342.2ZM464.9 376.7L469.3 373.2L472.8 377.7L468.4 381.1ZM436.4 387.9L438.9 385.9L440.9 388.4L438.4 390.4ZM449.7 372.9L458.7 365.8L461.1 368.9L452.0 375.9ZM435.5 377.9L438.8 375.3L441.4 378.6L438.1 381.2ZM430.8 347.4L434.6 344.4L437.6 348.2L433.8 351.2ZM433.2 365.5L437.3 362.3L440.6 366.4L436.4 369.7ZM444.3 345.5L451.2 340.0L453.9 343.5L447.0 349.0ZM444.6 366.4L453.9 359.1L456.3 362.2L447.0 369.5ZM447.1 338.4L454.3 332.7L456.2 335.1L449.0 340.8ZM426.9 339.2L430.6 336.3L433.4 340.0L429.8 342.8ZM458.0 355.2L462.5 351.7L466.0 356.2L461.5 359.7ZM435.9 346.9L442.0 342.2L444.3 345.2L438.3 349.9ZM446.8 373.5L449.7 371.2L452.0 374.1L449.1 376.4ZM434.5 396.8L442.3 390.6L444.4 393.2L436.5 399.4ZM447.6 379.0L451.4 376.0L454.4 379.8L450.6 382.8ZM448.8 398.8L453.3 395.3L456.8 399.8L452.3 403.3ZM476.7 366.6L479.8 364.2L482.2 367.2L479.1 369.7ZM475.7 353.4L486.4 345.1L489.1 348.6L478.5 356.9ZM470.4 386.2L477.1 381.0L479.8 384.4L473.1 389.6ZM427.5 353.7L436.1 346.9L438.4 349.8L429.7 356.6ZM440.1 360.2L444.4 356.8L447.7 361.1L443.5 364.4ZM480.4 384.4L487.1 379.2L489.7 382.5L483.0 387.8ZM429.6 380.2L442.7 370.0L446.1 374.3L433.0 384.6ZM427.9 348.3L432.0 345.1L435.3 349.2L431.1 352.5ZM473.3 376.2L482.9 368.7L485.4 371.9L475.8 379.5ZM444.7 369.4L447.6 367.2L449.8 370.0L446.9 372.3ZM446.0 344.3L453.8 338.2L456.8 342.1L449.0 348.2ZM455.3 379.7L467.9 369.8L471.2 374.0L458.6 383.9Z" fill="#9c9c9c"/>
<path d="M462.6 255.6L469.4 250.3L471.1 252.5L464.4 257.8ZM403.6 253.1L411.1 247.3L414.0 251.0L406.5 256.9ZM451.9 247.7L454.8 245.4L457.0 248.3L454.1 250.5ZM410.6 303.1L423.9 292.7L427.3 297.1L414.1 307.5ZM442.1 246.1L450.7 239.3L454.1 243.6L445.5 250.3ZM414.5 258.6L418.8 255.3L422.1 259.5L417.8 262.8ZM442.1 303.1L450.5 296.5L452.7 299.3L444.3 305.9ZM414.5 317.6L418.9 314.1L422.4 318.6L417.9 322.1ZM408.7 269.6L420.2 260.6L423.2 264.5L411.7 273.5ZM395.5 293.8L400.1 290.3L401.9 292.5L397.3 296.1ZM430.1 291.4L433.3 288.9L435.8 292.1L432.6 294.6ZM413.1 278.4L420.2 272.8L423.0 276.4L415.9 282.0ZM431.6 298.5L442.0 290.4L444.7 293.8L434.3 301.9ZM395.8 341.7L405.0 334.6L407.4 337.6L398.2 344.7ZM449.9 245.3L454.1 242.1L457.3 246.3L453.1 249.5ZM431.2 279.8L433.7 277.9L435.6 280.3L433.1 282.2ZM403.6 295.5L409.7 290.8L412.1 293.8L406.0 298.5ZM460.3 302.6L463.6 300.1L466.1 303.3L462.9 305.9ZM431.8 319.2L435.6 316.3L438.5 320.0L434.8 322.9ZM441.8 249.8L444.5 247.7L446.5 250.4L443.9 252.5ZM454.2 331.7L457.5 329.2L460.0 332.5L456.7 335.0ZM425.6 294.8L436.4 286.4L439.2 290.0L428.4 298.4ZM427.2 246.2L431.1 243.1L434.2 247.0L430.3 250.1ZM452.5 300.4L457.0 296.9L460.4 301.3L456.0 304.8ZM406.9 274.8L409.3 272.9L411.1 275.3L408.8 277.1ZM403.4 310.1L409.8 305.1L412.3 308.3L405.9 313.4ZM405.9 247.4L408.6 245.3L410.7 247.9L408.0 250.0ZM466.5 293.1L469.9 290.5L472.5 293.8L469.1 296.4ZM403.9 269.3L411.2 263.6L413.1 266.0L405.8 271.7ZM439.2 280.0L441.7 278.1L443.6 280.5L441.1 282.5ZM394.1 277.3L398.3 274.0L401.6 278.2L397.4 281.5ZM407.1 315.0L410.8 312.1L413.7 315.8L410.0 318.7ZM448.3 311.5L451.6 308.9L454.2 312.2L450.9 314.8ZM457.8 250.8L462.2 247.3L465.6 251.7L461.2 255.2ZM405.7 335.8L408.7 333.5L411.0 336.5L408.1 338.8ZM428.1 301.9L435.0 296.5L436.8 298.8L429.9 304.2ZM443.9 267.3L448.0 264.1L451.1 268.1L447.1 271.3ZM438.6 338.1L442.9 334.8L446.1 339.0L441.9 342.3ZM424.0 283.8L430.1 279.1L432.5 282.1L426.4 286.9ZM455.6 323.3L462.3 318.1L464.0 320.3L457.3 325.5ZM434.8 251.9L443.2 245.3L446.5 249.5L438.1 256.1ZM412.0 325.2L417.6 320.8L419.8 323.7L414.2 328.1ZM407.9 258.7L420.5 248.9L423.8 253.1L411.2 262.9ZM443.2 321.2L447.7 317.7L451.3 322.2L446.8 325.8ZM428.6 273.9L432.9 270.5L436.2 274.8L432.0 278.1ZM421.6 305.3L424.3 303.2L426.4 305.9L423.7 308.0Z" fill="#9c9c9c"/>
<path d="M418.6 394.4L423.0 391.0L426.3 395.3L422.0 398.7ZM327.4 331.5L333.6 326.7L336.0 329.8L329.8 334.6ZM340.1 318.8L343.4 316.3L345.9 319.6L342.7 322.1ZM387.4 391.8L394.7 386.1L396.7 388.5L389.3 394.3ZM366.6 352.4L374.5 346.2L377.6 350.2L369.7 356.3ZM403.9 321.2L408.5 317.6L410.3 319.9L405.7 323.5ZM389.5 363.4L398.5 356.3L402.1 360.8L393.0 367.9ZM380.3 387.3L389.3 380.2L392.8 384.7L383.8 391.8ZM391.5 333.1L398.7 327.4L400.6 329.8L393.4 335.5ZM344.1 347.9L348.2 344.7L351.4 348.8L347.3 351.9ZM345.6 317.5L348.5 315.2L350.8 318.2L347.9 320.5ZM383.8 309.1L390.2 304.1L392.7 307.3L386.3 312.3ZM420.8 327.7L424.4 324.9L427.2 328.5L423.6 331.3ZM361.4 330.8L370.2 324.0L372.5 326.9L363.7 333.7ZM382.7 325.6L385.2 323.7L387.1 326.1L384.6 328.0ZM398.2 382.6L401.0 380.4L403.2 383.2L400.4 385.3ZM417.9 358.8L422.4 355.3L425.8 359.8L421.4 363.2ZM367.9 305.9L379.0 297.2L381.9 300.9L370.8 309.6ZM328.9 380.5L332.8 377.5L335.7 381.4L331.9 384.4ZM403.9 397.2L414.4 389.1L417.1 392.5L406.6 400.7ZM396.4 337.6L409.9 327.1L413.4 331.6L399.9 342.2ZM376.5 303.4L379.4 301.2L381.6 304.0L378.8 306.2ZM402.9 345.6L405.8 343.3L408.1 346.2L405.2 348.5ZM338.0 352.6L340.6 350.6L342.7 353.2L340.1 355.2ZM347.1 345.1L360.1 334.9L363.5 339.3L350.5 349.4ZM403.4 365.3L406.5 362.8L409.0 366.0L405.8 368.5Z" fill="#9c9c9c"/>
<path d="M230.4 413.3L233.0 411.2L235.1 413.9L232.5 415.9ZM199.5 406.6L201.9 404.7L203.8 407.1L201.4 409.0ZM234.5 390.9L238.9 387.4L242.3 391.8L237.9 395.2ZM212.4 414.1L217.0 410.6L220.5 415.1L216.0 418.7ZM185.3 389.0L195.4 381.1L198.1 384.5L188.0 392.4ZM224.6 401.3L233.7 394.1L237.3 398.7L228.1 405.8ZM236.5 387.1L242.4 382.5L244.7 385.5L238.8 390.1ZM191.1 405.5L194.9 402.6L197.8 406.4L194.1 409.3ZM241.6 392.2L246.0 388.8L249.3 393.1L245.0 396.5ZM205.4 389.4L209.0 386.6L211.9 390.2L208.3 393.1ZM233.3 420.9L241.7 414.2L245.0 418.5L236.6 425.1ZM218.7 392.8L226.7 386.5L228.8 389.2L220.8 395.4ZM234.4 405.8L237.4 403.5L239.7 406.4L236.8 408.8ZM226.7 419.7L231.8 415.7L233.7 418.2L228.7 422.2Z" fill="#9c9c9c"/>
<path d="M326.4 541.8L330.6 538.5L333.9 542.7L329.7 546.0ZM369.9 494.7L376.5 489.5L379.1 492.8L372.5 498.0ZM300.6 513.8L303.0 511.9L304.9 514.3L302.5 516.2ZM342.4 527.6L347.7 523.4L349.8 526.1L344.4 530.3ZM360.2 486.2L369.4 479.0L371.8 482.1L362.6 489.2ZM338.2 538.4L342.4 535.2L345.7 539.4L341.5 542.6ZM345.3 497.5L348.4 495.1L350.8 498.1L347.7 500.5ZM346.7 475.3L349.8 472.8L352.3 476.0L349.1 478.5ZM337.4 479.4L341.7 476.1L345.0 480.4L340.7 483.7ZM336.6 478.4L347.3 470.0L350.1 473.6L339.4 482.0ZM361.2 507.6L373.5 498.0L376.7 502.1L364.4 511.7ZM332.4 533.6L335.8 531.0L338.4 534.3L335.0 537.0ZM296.0 504.6L308.4 494.9L311.6 499.1L299.2 508.8ZM297.0 544.0L303.4 539.0L306.0 542.2L299.5 547.3ZM373.6 535.2L376.1 533.3L378.0 535.8L375.5 537.7ZM351.2 538.4L355.2 535.3L358.3 539.2L354.3 542.4ZM370.4 538.5L374.4 535.4L377.6 539.4L373.6 542.5ZM306.4 517.0L317.4 508.4L320.3 512.1L309.3 520.7Z" fill="#9c9c9c"/>
<path d="M472.0 403.8L474.7 401.7L476.8 404.4L474.1 406.5ZM442.9 437.4L446.2 434.8L448.9 438.2L445.5 440.8ZM460.6 441.0L474.3 430.3L477.8 434.9L464.2 445.5ZM469.6 403.7L473.4 400.7L476.4 404.5L472.6 407.5ZM468.4 433.2L470.9 431.2L472.9 433.7L470.4 435.7ZM461.3 434.0L470.2 427.0L473.7 431.5L464.8 438.5ZM448.0 421.9L452.6 418.4L454.4 420.6L449.8 424.2ZM475.8 418.8L479.2 416.1L481.9 419.5L478.5 422.2Z" fill="#9c9c9c"/>
<path d="M413.7 265.9L416.4 263.7L418.6 266.5L415.8 268.6ZM451.9 270.6L462.3 262.4L465.0 265.9L454.6 274.1ZM444.2 273.7L447.9 270.9L450.7 274.5L447.1 277.3ZM433.3 274.4L439.3 269.7L441.7 272.7L435.7 277.4ZM445.8 280.3L457.5 271.1L460.6 275.0L448.8 284.2ZM448.2 302.8L452.7 299.3L456.2 303.8L451.7 307.3ZM425.7 276.8L438.3 267.0L441.6 271.2L429.0 281.0ZM470.0 314.0L478.2 307.6L480.3 310.3L472.1 316.7ZM460.6 272.7L464.3 269.8L467.3 273.5L463.5 276.4Z" fill="#7fde7f"/>
<path d="M302.8 498.1L305.7 495.9L308.0 498.8L305.1 501.1ZM331.3 531.1L336.2 527.2L338.1 529.7L333.3 533.5ZM350.6 520.9L363.9 510.5L367.4 515.0L354.1 525.4ZM322.4 484.6L326.4 481.5L329.5 485.5L325.5 488.6ZM333.1 515.1L337.2 512.0L340.3 516.0L336.3 519.2ZM356.2 544.8L358.9 542.7L360.9 545.4L358.3 547.5ZM320.3 486.8L323.8 484.1L326.5 487.6L323.0 490.3ZM324.6 513.4L333.4 506.6L336.8 510.9L328.0 517.8ZM308.4 517.1L320.2 507.9L323.3 511.8L311.5 521.1ZM308.2 535.9L312.2 532.8L315.2 536.7L311.3 539.8ZM350.1 522.8L355.6 518.5L357.7 521.2L352.2 525.5ZM299.7 527.9L308.1 521.4L311.3 525.6L302.9 532.1ZM326.9 489.0L330.2 486.4L332.8 489.8L329.5 492.4ZM329.0 529.0L331.5 527.1L333.3 529.5L330.9 531.4ZM306.1 501.0L309.6 498.2L312.4 501.8L308.9 504.5ZM324.9 496.9L327.2 495.2L329.0 497.4L326.7 499.2Z" fill="#7fde7f"/>
<path d="M222.1 471.7L230.3 465.3L233.6 469.4L225.3 475.9ZM221.1 490.0L224.5 487.3L227.2 490.8L223.8 493.5ZM238.0 493.7L246.9 486.7L250.3 491.2L241.5 498.1ZM240.7 461.9L244.0 459.4L246.6 462.6L243.3 465.2ZM214.0 444.4L217.4 441.7L220.1 445.1L216.7 447.8ZM229.4 489.9L237.0 483.9L240.0 487.7L232.4 493.7ZM238.7 464.0L242.5 461.0L245.5 464.9L241.7 467.8ZM235.7 445.1L240.1 441.7L243.4 446.0L239.1 449.4ZM240.4 426.2L246.5 421.4L248.9 424.4L242.7 429.2ZM231.7 461.9L237.6 457.2L239.9 460.2L234.0 464.8Z" fill="#7fde7f"/>
<path d="M241.6 499.7L266.6 512.7L269.4 507.3L244.4 494.3Z" fill="#7fde7f" />
<path d="M45.0 524.6L65.3 521.3L65.3 533.1L46.7 533.1Z" fill="#ccd6ff" />
<path d="M65.3 519.6L90.7 516.2L117.8 517.9L128.0 528.0L117.8 534.8L128.0 541.6L117.8 548.6L65.3 548.6L61.9 538.2Z" fill="#ccd6ff" />
<path d="M82.2 525.4L91.3 518.3L93.6 521.4L84.6 528.4ZM93.6 540.8L105.8 531.3L109.0 535.3L96.8 544.9ZM117.6 540.1L120.2 538.1L122.2 540.7L119.7 542.7ZM103.6 542.4L107.4 539.5L110.3 543.3L106.6 546.2ZM124.3 548.3L131.2 543.0L133.9 546.4L127.0 551.8ZM104.1 535.6L106.8 533.4L108.9 536.2L106.2 538.3ZM87.3 524.5L91.9 520.9L95.5 525.5L90.9 529.1ZM108.8 539.1L111.7 536.8L114.0 539.8L111.1 542.0ZM66.4 544.7L70.9 541.3L74.4 545.7L69.9 549.2ZM61.8 525.7L66.1 522.4L69.4 526.6L65.2 530.0ZM86.4 543.3L94.6 536.9L96.7 539.7L88.6 546.0ZM65.0 539.8L76.0 531.2L78.9 534.9L67.8 543.5ZM118.0 523.1L120.8 520.9L122.9 523.7L120.1 525.9ZM88.0 540.4L95.4 534.5L98.4 538.3L90.9 544.1ZM92.6 545.4L101.4 538.6L104.8 542.9L96.0 549.8ZM70.0 541.3L74.5 537.8L78.0 542.3L73.5 545.9ZM119.6 541.9L134.7 530.2L138.6 535.2L123.5 547.0ZM98.6 542.8L111.3 532.9L114.6 537.1L101.9 547.1ZM98.3 518.6L103.4 514.6L107.5 519.7L102.3 523.8ZM83.4 542.5L96.7 532.1L100.1 536.5L86.8 546.9ZM111.7 518.2L116.1 514.7L119.6 519.1L115.2 522.6ZM120.2 525.0L127.4 519.3L130.2 522.9L123.0 528.6ZM110.4 537.3L119.8 529.9L123.5 534.6L114.1 542.0ZM110.3 539.1L113.4 536.6L115.9 539.8L112.7 542.2ZM73.1 522.8L77.0 519.8L80.0 523.6L76.1 526.6ZM62.7 523.1L66.8 519.9L70.1 524.0L65.9 527.3ZM92.3 519.5L95.9 516.7L98.7 520.3L95.1 523.1ZM113.8 529.8L118.4 526.2L122.0 530.8L117.4 534.4ZM92.3 533.4L102.8 525.2L106.9 530.5L96.4 538.6ZM114.2 516.5L118.4 513.2L121.6 517.4L117.4 520.7Z" fill="#7fde7f"/>
<path d="M86.6 526.2L89.5 524.0L91.7 526.8L88.9 529.0ZM70.7 527.6L74.6 524.5L77.7 528.5L73.8 531.6ZM85.6 526.4L88.0 524.5L89.9 526.9L87.4 528.8ZM80.1 528.3L88.1 522.1L90.2 524.7L82.2 531.0ZM72.9 537.3L77.1 534.1L80.3 538.2L76.2 541.5ZM88.3 530.1L94.7 525.1L97.2 528.3L90.8 533.3ZM72.0 544.8L75.0 542.5L77.3 545.5L74.3 547.8ZM77.2 534.0L83.2 529.3L85.6 532.3L79.6 537.0Z" fill="#6ab0ff"/>
<path d="M78.9 534.8L85.6 533.8L86.6 539.9L79.9 541.0Z" fill="#3a5cff" />
<path d="M161.9 531.4L178.8 534.8L189.0 543.3L189.0 548.6L168.6 548.6L160.2 538.2Z" fill="#ccd6ff" />
<path d="M156.3 544.5L164.0 538.6L166.0 541.1L158.3 547.1ZM166.5 544.5L173.8 538.8L175.7 541.2L168.4 546.9ZM171.5 542.1L182.2 533.8L185.0 537.3L174.3 545.7ZM169.6 531.7L172.1 529.8L174.0 532.2L171.5 534.2ZM164.8 534.9L175.1 526.9L177.7 530.3L167.5 538.3Z" fill="#6ab0ff"/>
<path d="M128.0 543.3L138.1 543.3L138.1 548.6L128.0 548.6Z" fill="#ccd6ff" />
<path d="M89.8 534.7L94.0 531.4L97.3 535.6L93.1 539.0ZM85.9 527.8L88.6 525.7L90.8 528.4L88.0 530.5ZM32.7 542.8L40.4 536.8L43.4 540.6L35.7 546.6ZM140.4 531.5L146.8 526.5L149.2 529.7L142.9 534.6ZM81.9 529.2L84.8 526.9L87.1 529.8L84.2 532.0ZM36.8 522.6L41.6 518.9L43.5 521.3L38.7 525.1ZM35.4 537.0L39.9 533.5L43.4 538.0L38.9 541.5ZM79.1 522.3L82.4 519.7L85.0 523.0L81.7 525.7ZM51.5 526.9L54.3 524.7L56.4 527.5L53.6 529.7ZM24.4 546.5L28.2 543.5L31.2 547.3L27.4 550.3Z" fill="#ccd6ff"/>
<path d="M268.6 423.0L280.4 428.1L294.0 426.4L304.2 431.5L297.4 443.3L300.8 450.1L288.9 462.0L273.7 460.3L270.3 453.5L275.4 443.3L270.3 433.2Z" fill="#ccd6ff" />
<path d="M273.7 433.2L287.2 434.9L297.4 438.2L290.6 450.1L283.8 458.6L275.4 455.2L278.7 445.0Z" fill="#6ab0ff" />
<path d="M277.9 440.8L285.5 443.3L283.0 451.8L277.1 450.1Z" fill="#3a5cff" />
<path d="M248.3 438.2L255.0 438.2L255.0 443.3L248.3 443.3Z" fill="#ccd6ff" />
<path d="M224.0 453.0L229.0 453.0L229.0 457.0L224.0 457.0Z" fill="#ccd6ff" />
<path d="M226.2 379.0L231.3 379.0L231.3 382.3L226.2 382.3Z" fill="#ccd6ff" />
<path d="M255.0 379.0L260.1 379.0L260.1 385.7L255.0 385.7Z" fill="#ccd6ff" />
<path d="M387.0 410.0L392.0 410.0L392.0 414.5L387.0 414.5Z" fill="#ccd6ff" />
<path d="M333.0 434.5L337.5 434.5L337.5 439.0L333.0 439.0Z" fill="#ccd6ff" />
<path d="M335.5 443.0L340.0 443.0L340.0 447.5L335.5 447.5Z" fill="#ccd6ff" />
<path d="M306.0 356.5L310.5 356.5L310.5 361.0L306.0 361.0Z" fill="#ccd6ff" />
<path d="M307.5 363.0L312.0 363.0L312.0 367.5L307.5 367.5Z" fill="#ccd6ff" />
<path d="M451.5 422.5L456.0 422.5L456.0 427.0L451.5 427.0Z" fill="#ccd6ff" />
<path d="M468.0 183.0L474.0 183.0L474.0 187.0L468.0 187.0Z" fill="#ccd6ff" />
<path d="M457.0 200.5L462.0 200.5L462.0 204.5L457.0 204.5Z" fill="#ccd6ff" />
<path d="M464.5 203.7L478.1 203.7L478.1 207.8L464.5 207.8Z" fill="#ccd6ff" />
<path d="M472.7 209.1L485.8 209.1L485.8 213.2L472.7 213.2Z" fill="#ccd6ff" />
<path d="M434.0 210.0L438.5 210.0L438.5 214.0L434.0 214.0Z" fill="#ccd6ff" />
<path d="M442.0 207.0L446.5 207.0L446.5 211.5L442.0 211.5Z" fill="#ccd6ff" />
<path d="M446.0 212.0L451.0 212.0L451.0 216.0L446.0 216.0Z" fill="#ccd6ff" />
<path d="M392.7 473.8L409.7 473.8L409.7 484.0L392.7 484.0Z" fill="#ccd6ff" />
<path d="M195.7 399.3L207.6 399.3L207.6 406.1L195.7 406.1Z" fill="#6ab0ff" />
<path d="M306.0 318.9L312.0 308.0L326.3 306.7L322.0 316.0Z" fill="#ccd6ff" />
<path d="M312.0 308.5L320.0 308.5L320.0 313.5L312.0 313.5Z" fill="#6ab0ff" />
<path d="M409.9 462.6L442.1 435.5L438.3 430.9L406.1 458.0Z" fill="#ccd6ff" />
<path d="M419.2 460.3L432.8 451.2L430.6 447.8L417.0 456.9Z" fill="#6ab0ff" />
<path d="M421.8 457.2L427.8 453.2L426.2 450.8L420.2 454.8Z" fill="#3a5cff" />
<path d="M463.0 443.4L474.9 438.4L473.3 434.8L461.4 439.8Z" fill="#ccd6ff" />
<path d="M468.1 460.4L483.3 453.6L481.7 450.0L466.5 456.8Z" fill="#ccd6ff" />
<path d="M459.3 419.6L467.8 417.1L466.8 413.7L458.3 416.2Z" fill="#ccd6ff" />
<path d="M312.4 470.7L339.5 457.2L337.5 453.2L310.4 466.7Z" fill="#ccd6ff" />
<path d="M318.7 466.3L330.7 460.3L329.3 457.7L317.3 463.7Z" fill="#6ab0ff" />
<path d="M401.2 548.6L399.5 536.5L404.6 512.8L406.3 507.7L414.8 489.1L424.9 484.0L441.9 472.1L452.0 465.4L458.8 465.4L460.5 475.5L469.0 480.6L475.8 487.4L485.9 484.0L485.9 548.6Z" fill="#ccd6ff" />
<path d="M429.8 485.0L432.4 483.0L434.4 485.6L431.8 487.6ZM471.9 488.0L478.5 482.9L481.1 486.2L474.5 491.3ZM447.8 482.7L461.5 472.0L465.1 476.6L451.4 487.3ZM420.9 486.5L423.1 484.7L424.9 487.0L422.6 488.8ZM436.6 476.9L439.8 474.4L442.4 477.6L439.1 480.2ZM418.8 496.2L422.8 493.1L425.9 497.1L421.9 500.2ZM442.0 482.6L447.3 478.4L449.4 481.1L444.1 485.3ZM419.6 500.8L423.1 498.1L425.9 501.6L422.4 504.3ZM447.1 485.6L450.4 483.1L452.9 486.3L449.7 488.8Z" fill="#7fde7f"/>
<path d="M404.6 512.8L418.1 500.9L433.4 492.5L441.9 494.2L445.3 502.6L458.8 507.7L475.8 500.9L485.9 495.9L485.9 548.6L408.0 548.6L402.9 538.2L408.0 526.4Z" fill="#6ab0ff" />
<path d="M454.7 522.6L468.1 512.2L471.5 516.7L458.2 527.1ZM478.6 538.5L487.0 532.0L490.2 536.1L481.9 542.7ZM445.6 516.8L448.4 514.6L450.5 517.4L447.8 519.5ZM411.6 507.4L420.2 500.7L422.4 503.5L413.9 510.2ZM429.2 543.5L442.2 533.4L445.6 537.7L432.6 547.8ZM476.3 525.9L483.9 519.9L486.8 523.7L479.2 529.7ZM443.8 522.0L446.4 519.9L448.4 522.5L445.8 524.6ZM423.6 538.8L433.2 531.3L435.7 534.5L426.1 542.0ZM416.9 532.6L420.2 530.0L422.8 533.3L419.5 535.9ZM446.0 512.1L456.6 503.8L459.3 507.4L448.7 515.6ZM439.5 541.0L447.7 534.6L449.9 537.3L441.6 543.8ZM470.0 524.8L482.5 515.1L485.7 519.2L473.2 529.0ZM444.7 529.9L447.1 528.0L448.9 530.4L446.6 532.3ZM432.7 499.2L437.1 495.8L440.5 500.2L436.1 503.6ZM461.2 526.3L464.6 523.7L467.3 527.1L463.9 529.7ZM413.4 518.0L415.7 516.2L417.5 518.5L415.2 520.3ZM457.4 547.9L460.4 545.6L462.7 548.6L459.7 550.9ZM429.7 504.1L434.8 500.2L436.8 502.7L431.7 506.6ZM455.8 537.2L461.3 532.9L463.5 535.7L458.0 540.0ZM426.6 541.3L429.5 539.0L431.8 541.9L428.9 544.2ZM441.0 538.1L443.3 536.3L445.1 538.6L442.8 540.4ZM456.6 511.3L465.8 504.1L468.2 507.2L459.0 514.4ZM452.6 526.2L463.8 517.5L466.8 521.2L455.5 530.0ZM422.1 528.9L425.5 526.2L428.2 529.7L424.8 532.3Z" fill="#4a86ff"/>
<path d="M447.9 544.6L457.8 536.9L460.3 540.2L450.5 547.9ZM477.2 521.3L481.1 518.2L484.2 522.1L480.2 525.2ZM411.4 549.5L419.4 543.3L422.5 547.3L414.5 553.5ZM424.1 538.3L436.7 528.4L440.0 532.6L427.4 542.5ZM418.8 500.1L430.2 491.2L433.2 495.0L421.8 503.9ZM431.7 547.6L435.4 544.7L438.4 548.4L434.6 551.4ZM462.2 517.1L466.3 513.9L469.6 518.1L465.4 521.3ZM474.9 525.3L479.1 522.0L482.3 526.2L478.2 529.5ZM407.3 534.5L409.8 532.6L411.7 535.0L409.2 536.9ZM462.2 545.0L469.2 539.5L471.9 543.0L464.9 548.5Z" fill="#ccd6ff"/>
<path d="M441.9 528.0L452.0 517.9L467.3 512.8L475.8 504.3L485.9 499.2L485.9 545.8L469.0 544.1L455.4 538.2L446.9 536.5Z" fill="#1414e6" stroke="#3a5cff" stroke-width="5" stroke-linejoin="round"/>
<path d="M413.1 528.0L423.2 519.6L431.7 517.9L433.4 522.9L424.9 529.7L418.1 531.4Z" fill="#1414e6" stroke="#3a5cff" stroke-width="4" stroke-linejoin="round"/>
<path d="M430.5 495.9L437.0 495.9L437.0 505.0L430.5 505.0Z" fill="#3a5cff" />
<path d="M455.0 544.5L486.0 544.5L486.0 548.6L455.0 548.6Z" fill="#6ab0ff" />
</g>
<use href="#over"/>
<text x="43.26" y="66.0" font-size="24.0" textLength="175.3" lengthAdjust="spacingAndGlyphs" >37GHz PCT (K)</text>
<text x="438.4" y="523.6" font-size="29">(e)</text>
<rect x="495.0" y="531.28" width="9.2" height="8.76" fill="#f7f7f7"/>
<rect x="495.0" y="522.83" width="9.2" height="8.76" fill="#efefef"/>
<rect x="495.0" y="514.37" width="9.2" height="8.76" fill="#e6e6e6"/>
<rect x="495.0" y="505.91" width="9.2" height="8.76" fill="#dedede"/>
<rect x="495.0" y="497.45" width="9.2" height="8.76" fill="#d6d6d6"/>
<rect x="495.0" y="488.99" width="9.2" height="8.76" fill="#cdcdcd"/>
<rect x="495.0" y="480.53" width="9.2" height="8.76" fill="#c4c4c4"/>
<rect x="495.0" y="472.08" width="9.2" height="8.76" fill="#bcbcbc"/>
<rect x="495.0" y="463.62" width="9.2" height="8.76" fill="#b5b5b5"/>
<rect x="495.0" y="455.16" width="9.2" height="8.76" fill="#aeaeae"/>
<rect x="495.0" y="446.70" width="9.2" height="8.76" fill="#a6a6a6"/>
<rect x="495.0" y="438.24" width="9.2" height="8.76" fill="#a0a0a0"/>
<rect x="495.0" y="429.78" width="9.2" height="8.76" fill="#999999"/>
<rect x="495.0" y="421.33" width="9.2" height="8.76" fill="#929292"/>
<rect x="495.0" y="412.87" width="9.2" height="8.76" fill="#84e284"/>
<rect x="495.0" y="404.41" width="9.2" height="8.76" fill="#7dd87d"/>
<rect x="495.0" y="395.95" width="9.2" height="8.76" fill="#76cd76"/>
<rect x="495.0" y="387.49" width="9.2" height="8.76" fill="#6fc26f"/>
<rect x="495.0" y="379.03" width="9.2" height="8.76" fill="#68b868"/>
<rect x="495.0" y="370.58" width="9.2" height="8.76" fill="#d0d8ff"/>
<rect x="495.0" y="362.12" width="9.2" height="8.76" fill="#b9ceff"/>
<rect x="495.0" y="353.66" width="9.2" height="8.76" fill="#a2c4ff"/>
<rect x="495.0" y="345.20" width="9.2" height="8.76" fill="#8bbbff"/>
<rect x="495.0" y="336.74" width="9.2" height="8.76" fill="#72b2ff"/>
<rect x="495.0" y="328.28" width="9.2" height="8.76" fill="#57aaff"/>
<rect x="495.0" y="319.83" width="9.2" height="8.76" fill="#4b97ff"/>
<rect x="495.0" y="311.37" width="9.2" height="8.76" fill="#4480ff"/>
<rect x="495.0" y="302.91" width="9.2" height="8.76" fill="#3f65ff"/>
<rect x="495.0" y="294.45" width="9.2" height="8.76" fill="#3849ff"/>
<rect x="495.0" y="285.99" width="9.2" height="8.76" fill="#282eff"/>
<rect x="495.0" y="277.53" width="9.2" height="8.76" fill="#1717fb"/>
<rect x="495.0" y="269.08" width="9.2" height="8.76" fill="#0505f2"/>
<rect x="495.0" y="260.62" width="9.2" height="8.76" fill="#0000df"/>
<rect x="495.0" y="252.16" width="9.2" height="8.76" fill="#0000c8"/>
<rect x="495.0" y="243.70" width="9.2" height="8.76" fill="#ffff00"/>
<rect x="495.0" y="235.24" width="9.2" height="8.76" fill="#fff100"/>
<rect x="495.0" y="226.78" width="9.2" height="8.76" fill="#ffe400"/>
<rect x="495.0" y="218.33" width="9.2" height="8.76" fill="#ffd600"/>
<rect x="495.0" y="209.87" width="9.2" height="8.76" fill="#ffc800"/>
<rect x="495.0" y="201.41" width="9.2" height="8.76" fill="#ff9600"/>
<rect x="495.0" y="192.95" width="9.2" height="8.76" fill="#ff8c00"/>
<rect x="495.0" y="184.49" width="9.2" height="8.76" fill="#ff8200"/>
<rect x="495.0" y="176.03" width="9.2" height="8.76" fill="#ff7800"/>
<rect x="495.0" y="167.58" width="9.2" height="8.76" fill="#ff6e00"/>
<rect x="495.0" y="159.12" width="9.2" height="8.76" fill="#ff4000"/>
<rect x="495.0" y="150.66" width="9.2" height="8.76" fill="#ff3500"/>
<rect x="495.0" y="142.20" width="9.2" height="8.76" fill="#ff2a00"/>
<rect x="495.0" y="133.74" width="9.2" height="8.76" fill="#ff1f00"/>
<rect x="495.0" y="125.28" width="9.2" height="8.76" fill="#ff1400"/>
<rect x="495.0" y="116.82" width="9.2" height="8.76" fill="#c80000"/>
<rect x="495.0" y="108.37" width="9.2" height="8.76" fill="#be0000"/>
<rect x="495.0" y="99.91" width="9.2" height="8.76" fill="#b40000"/>
<rect x="495.0" y="91.45" width="9.2" height="8.76" fill="#aa0000"/>
<rect x="495.0" y="82.99" width="9.2" height="8.76" fill="#a00000"/>
<rect x="495.0" y="74.53" width="9.2" height="8.76" fill="#640a00"/>
<rect x="495.0" y="66.07" width="9.2" height="8.76" fill="#620c05"/>
<rect x="495.0" y="57.62" width="9.2" height="8.76" fill="#5f0f0a"/>
<rect x="495.0" y="49.16" width="9.2" height="8.76" fill="#5c120f"/>
<rect x="495.0" y="40.70" width="9.2" height="8.76" fill="#5a1414"/>
<path d="M503.9 548.20h2.6" stroke="#222" stroke-width="0.9"/>
<text x="507.05" y="556.2" font-size="18.6" textLength="33.9" lengthAdjust="spacingAndGlyphs" >315</text>
<path d="M503.9 497.45h2.6" stroke="#222" stroke-width="0.9"/>
<text x="507.05" y="505.5" font-size="18.6" textLength="33.9" lengthAdjust="spacingAndGlyphs" >306</text>
<path d="M503.9 446.70h2.6" stroke="#222" stroke-width="0.9"/>
<text x="506.77" y="454.7" font-size="18.6" textLength="34.3" lengthAdjust="spacingAndGlyphs" >297</text>
<path d="M503.9 395.95h2.6" stroke="#222" stroke-width="0.9"/>
<text x="506.77" y="404.0" font-size="18.6" textLength="34.2" lengthAdjust="spacingAndGlyphs" >288</text>
<path d="M503.9 345.20h2.6" stroke="#222" stroke-width="0.9"/>
<text x="506.77" y="353.2" font-size="18.6" textLength="34.3" lengthAdjust="spacingAndGlyphs" >279</text>
<path d="M503.9 294.45h2.6" stroke="#222" stroke-width="0.9"/>
<text x="506.77" y="302.5" font-size="18.6" textLength="34.1" lengthAdjust="spacingAndGlyphs" >270</text>
<path d="M503.9 243.70h2.6" stroke="#222" stroke-width="0.9"/>
<text x="506.77" y="251.7" font-size="18.6" textLength="34.3" lengthAdjust="spacingAndGlyphs" >261</text>
<path d="M503.9 192.95h2.6" stroke="#222" stroke-width="0.9"/>
<text x="506.77" y="201.0" font-size="18.6" textLength="34.3" lengthAdjust="spacingAndGlyphs" >252</text>
<path d="M503.9 142.20h2.6" stroke="#222" stroke-width="0.9"/>
<text x="506.77" y="150.2" font-size="18.6" textLength="34.2" lengthAdjust="spacingAndGlyphs" >243</text>
<path d="M503.9 91.45h2.6" stroke="#222" stroke-width="0.9"/>
<text x="506.77" y="99.4" font-size="18.6" textLength="33.9" lengthAdjust="spacingAndGlyphs" >234</text>
</g>
<g transform="translate(1181.2 590.5)">
<g clip-path="url(#cf)">
<path d="M405.6 549.8L404.6 546.1L404.7 542.3L404.7 539.3L403.7 533.4L399.0 534.0L397.6 531.4L400.9 529.3L404.3 529.2L407.7 527.0L409.7 522.8L407.2 520.4L406.1 515.2L410.1 513.8L413.0 511.6L416.1 509.6L415.9 505.5L415.5 500.9L416.4 498.1L415.7 493.1L418.2 489.2L412.8 487.9L412.1 485.4L411.1 482.7L404.7 480.3L403.0 483.1L400.9 484.8L396.8 486.4L393.3 489.2L393.0 485.8L389.9 482.4L392.3 477.2L395.5 477.2L400.0 475.3L402.4 475.3L405.5 478.0L411.0 479.6L413.7 481.2L416.4 484.2L419.1 488.9L421.1 488.9L424.7 488.4L427.3 489.4L430.3 492.1L432.8 490.6L435.9 489.8L438.4 489.0L441.9 487.2L445.3 484.8L446.9 487.8L446.9 491.7L447.9 494.2L448.2 497.1L449.5 500.9L449.8 503.8L453.4 503.2L457.4 501.8L461.6 501.0L465.3 498.8L468.8 497.0L472.0 497.3L474.4 496.9L477.4 495.6L481.1 493.8L484.4 493.0L488.0 492.0L487.6 495.8L487.1 498.3L487.7 501.9L487.9 503.6L487.1 507.6L486.9 510.9L488.1 513.4L488.0 516.3L487.9 519.8L487.4 522.6L487.9 525.9L487.6 528.3L486.7 532.5L487.3 535.2L487.0 537.4L487.0 540.7L487.5 544.2L487.3 546.6L486.7 550.7L484.8 549.8L481.5 549.8L478.2 550.3L475.8 550.1L472.3 549.6L469.1 549.7L465.7 550.8L463.6 550.5L459.8 550.8L457.3 550.3L453.6 549.8L450.1 550.3L448.0 549.6L444.8 550.8L441.7 550.4L438.6 550.0L435.7 549.7L432.4 550.8L429.6 550.8L425.8 550.2L423.5 549.9L420.6 550.9L416.8 550.1L414.6 550.6L411.3 549.6L407.8 550.1Z" fill="#84e084" stroke="#000" stroke-width="1.30" stroke-linejoin="round"/>
<path d="M411.7 516.3L415.5 515.7L419.3 515.1L423.0 514.4L426.8 513.8L430.6 513.2L434.3 512.5L438.1 511.9L441.8 511.3L445.6 510.7L449.3 511.2L452.9 511.7L456.5 512.2L460.2 512.7L463.8 513.2L467.5 513.7L471.1 514.3L474.8 514.8L478.4 515.3L482.1 515.8L485.7 516.3L485.7 520.0L485.7 523.7L485.7 527.3L485.7 531.0L485.7 534.7L485.7 538.3L485.7 542.0L485.7 545.7L482.2 545.6L478.7 545.5L475.1 545.3L471.6 545.2L468.1 545.1L464.6 545.0L461.0 544.9L457.5 544.8L454.0 544.7L450.5 544.6L447.0 544.5L443.4 544.4L439.9 544.3L436.4 544.2L432.9 544.1L429.3 544.0L425.8 543.8L422.3 543.7L418.8 543.6L415.3 543.5L411.7 543.4L411.7 539.5L411.7 535.7L411.7 531.8L411.7 527.9L411.7 524.1L411.7 520.2Z" fill="#78d278" />
<path d="M423.9 537.2L431.9 530.4L434.1 533.1L426.1 539.8ZM450.9 546.2L453.8 543.7L456.2 546.6L453.3 549.1ZM481.3 493.1L484.9 490.1L487.9 493.6L484.3 496.6ZM464.9 550.7L471.0 545.5L473.6 548.6L467.4 553.8ZM439.2 501.1L447.1 494.5L449.3 497.1L441.5 503.7ZM480.6 541.8L486.2 537.0L487.8 538.9L482.1 543.6ZM416.0 547.4L418.0 545.6L419.7 547.7L417.7 549.4ZM473.0 522.3L476.6 519.2L478.1 521.0L474.5 524.1ZM427.5 499.3L437.9 490.5L440.8 494.0L430.4 502.7ZM461.7 526.1L465.0 523.3L467.8 526.7L464.5 529.5ZM415.2 508.1L419.0 504.9L420.6 506.8L416.8 510.0ZM441.0 497.3L447.9 491.5L450.8 494.9L443.9 500.7ZM449.7 543.8L455.8 538.7L457.5 540.7L451.4 545.8ZM480.2 505.2L486.8 499.7L488.6 501.9L482.1 507.4ZM413.5 496.1L419.7 490.9L422.2 494.0L416.1 499.1ZM427.2 499.9L430.3 497.3L432.9 500.4L429.8 502.9ZM423.2 498.7L425.2 497.0L426.9 499.1L424.9 500.8ZM450.0 549.1L452.4 547.0L454.5 549.5L452.0 551.5ZM425.2 540.1L433.5 533.1L435.9 535.9L427.5 542.9ZM436.3 534.0L441.3 529.8L443.4 532.3L438.4 536.5ZM477.5 512.5L480.9 509.7L483.7 513.1L480.3 515.9ZM433.4 508.9L444.0 500.0L447.0 503.5L436.4 512.4ZM444.6 535.1L447.8 532.4L450.5 535.7L447.3 538.4ZM446.2 510.3L451.3 506.1L453.4 508.6L448.3 512.9ZM396.6 531.8L402.9 526.5L405.6 529.7L399.3 534.9ZM460.3 529.4L464.9 525.5L466.9 527.8L462.2 531.7ZM471.4 498.4L474.4 495.9L476.9 498.9L473.9 501.4ZM434.3 510.7L437.0 508.5L439.3 511.2L436.6 513.4ZM418.4 490.1L420.3 488.5L421.9 490.4L420.0 492.0ZM414.1 523.1L420.6 517.7L422.4 519.9L415.9 525.3ZM477.0 525.0L480.5 522.0L482.0 523.8L478.5 526.8ZM465.7 537.0L468.7 534.5L471.2 537.5L468.2 540.0ZM416.1 513.2L421.7 508.5L424.1 511.3L418.5 516.0ZM443.9 520.2L446.0 518.5L447.7 520.6L445.7 522.3ZM417.1 545.9L423.6 540.5L426.4 543.7L419.8 549.2ZM440.7 520.7L446.0 516.2L447.5 518.0L442.2 522.4ZM453.2 527.0L463.6 518.3L466.5 521.8L456.1 530.5ZM433.7 491.9L440.6 486.1L443.5 489.6L436.6 495.3ZM439.5 516.0L442.5 513.5L445.0 516.5L442.0 519.0ZM432.3 547.2L434.6 545.3L436.6 547.6L434.3 549.5ZM422.1 541.1L427.5 536.6L429.7 539.3L424.3 543.8ZM418.2 541.2L422.4 537.7L424.2 539.8L420.0 543.3ZM451.9 512.3L455.3 509.4L458.2 512.8L454.8 515.7ZM451.5 510.3L457.4 505.3L459.1 507.3L453.1 512.3ZM465.2 530.5L467.7 528.4L469.8 530.9L467.3 533.0ZM454.2 549.7L456.0 548.2L457.4 550.0L455.7 551.4ZM447.3 518.0L450.5 515.3L453.1 518.5L450.0 521.1ZM476.5 526.6L485.3 519.2L487.8 522.1L479.0 529.5ZM427.9 529.7L431.1 527.0L433.8 530.3L430.6 533.0ZM434.8 509.8L437.2 507.8L439.2 510.2L436.8 512.2ZM456.5 520.5L462.2 515.6L463.8 517.6L458.1 522.4ZM459.0 542.5L462.4 539.6L465.2 543.0L461.9 545.8ZM455.3 507.7L457.7 505.7L459.7 508.1L457.3 510.1ZM417.3 523.6L419.7 521.6L421.7 524.0L419.3 526.0ZM447.6 523.0L449.7 521.3L451.3 523.4L449.3 525.0ZM444.1 536.7L448.1 533.4L449.8 535.4L445.8 538.7ZM425.9 526.2L432.2 521.0L434.8 524.1L428.6 529.4ZM474.9 502.5L476.9 500.7L478.7 502.8L476.6 504.5ZM435.4 538.0L440.0 534.2L441.9 536.4L437.3 540.3ZM447.4 545.9L450.2 543.6L452.5 546.4L449.8 548.7Z" fill="#8ae68a"/>
<path d="M478.7 517.7L487.0 510.7L489.4 513.5L481.0 520.5ZM479.2 535.9L481.7 533.9L483.8 536.3L481.3 538.4ZM437.0 533.1L439.4 531.1L441.4 533.5L439.0 535.5ZM451.7 515.9L454.6 513.5L457.1 516.4L454.2 518.9ZM419.3 534.7L429.3 526.3L432.1 529.6L422.1 538.0ZM412.1 530.5L422.0 522.2L424.8 525.5L414.9 533.8ZM399.4 481.5L406.3 475.7L408.2 478.0L401.3 483.8ZM414.0 494.9L420.9 489.2L422.8 491.5L416.0 497.2ZM469.6 506.7L475.4 501.9L477.0 503.8L471.2 508.6ZM404.2 479.4L406.3 477.6L408.1 479.7L406.0 481.6ZM405.0 522.6L411.0 517.6L412.7 519.6L406.7 524.6ZM449.1 512.2L456.4 506.1L458.4 508.5L451.2 514.6ZM415.0 500.4L421.1 495.3L423.7 498.3L417.5 503.5ZM424.5 511.9L430.5 506.8L433.0 509.8L427.0 514.9ZM425.3 510.1L427.3 508.4L429.0 510.4L427.0 512.1ZM431.0 529.4L433.8 527.0L436.1 529.8L433.4 532.1ZM473.1 546.9L475.0 545.2L476.7 547.2L474.7 548.8ZM452.6 528.0L457.0 524.3L458.9 526.5L454.5 530.2ZM477.2 540.2L483.7 534.7L485.5 536.9L479.0 542.3ZM454.8 524.4L457.3 522.3L459.4 524.8L456.9 526.9ZM428.1 540.0L433.6 535.4L435.9 538.1L430.4 542.8ZM440.1 549.9L445.4 545.4L446.8 547.2L441.5 551.6ZM436.0 511.1L441.8 506.2L444.2 509.1L438.4 514.0ZM418.3 509.3L421.8 506.3L424.7 509.8L421.2 512.8ZM448.5 525.3L450.9 523.3L452.9 525.7L450.5 527.8ZM421.8 509.3L425.3 506.4L428.2 509.9L424.7 512.8ZM440.8 544.1L450.8 535.7L453.6 539.1L443.6 547.4ZM454.8 526.9L464.2 519.0L466.8 522.1L457.4 530.0ZM446.9 507.7L456.6 499.6L459.3 502.8L449.6 510.9ZM436.7 544.4L443.3 538.9L445.1 541.1L438.6 546.6ZM461.8 502.5L467.8 497.5L470.3 500.5L464.3 505.5ZM471.6 533.8L478.8 527.9L480.7 530.2L473.6 536.2ZM480.3 528.7L483.6 526.0L486.4 529.3L483.0 532.1ZM469.2 530.1L471.4 528.1L473.3 530.4L471.1 532.3ZM454.8 522.7L457.2 520.6L459.3 523.0L456.8 525.1ZM428.9 507.1L433.0 503.6L434.8 505.7L430.6 509.2ZM480.4 512.7L483.8 509.8L486.7 513.3L483.3 516.2ZM437.5 523.6L441.2 520.4L442.8 522.3L439.0 525.4ZM460.0 502.8L470.2 494.2L473.0 497.6L462.8 506.2ZM426.2 501.0L433.9 494.5L436.1 497.1L428.3 503.6Z" fill="#72cc72"/>
<path d="M405.4 544.9L408.0 545.8L411.2 545.6L415.6 546.4L418.8 547.0L423.0 547.9L428.0 549.1L432.2 547.2L436.6 545.6L439.1 545.0L442.0 545.9L445.7 545.3L448.9 545.9L452.7 547.4" fill="none" stroke="#000" stroke-width="1.3"/>
<path d="M445.6 484.7L450.1 504.5" fill="none" stroke="#000" stroke-width="1.3"/>
<ellipse cx="430.4" cy="438.2" rx="5.1" ry="7.3" transform="rotate(-30 430.4 438.2)" fill="none" stroke="#000" stroke-width="1.5"/>
<ellipse cx="409.5" cy="510.1" rx="7.3" ry="4.7" transform="rotate(-20 409.5 510.1)" fill="none" stroke="#000" stroke-width="1.5"/>
<path d="M435.7 435.9L438.3 433.8L441.7 430.8L445.4 431.6L448.4 430.5L451.6 427.8L453.1 424.4L456.4 421.8L460.8 419.6L464.5 417.0L467.7 415.3L464.9 419.4L462.8 422.4L460.1 425.6L457.4 428.2L455.8 430.7L455.1 434.0L450.5 436.2L446.2 438.9L442.8 440.0L440.1 441.9L436.3 441.6Z" fill="#84e084" stroke="#000" stroke-width="1.30" stroke-linejoin="round"/>
<path d="M406.4 462.9L407.7 460.0L409.7 457.2L412.0 453.9L414.8 452.6L416.9 450.8L419.7 449.9L422.7 448.8L426.4 447.2L430.1 446.4L434.6 446.9L438.2 446.5L441.4 447.7L438.9 449.8L437.3 452.0L434.8 454.9L432.6 459.2L431.3 461.4L428.5 464.5L423.0 465.2L418.7 464.8L415.4 465.8L411.5 466.5L408.4 467.2Z" fill="#84e084" stroke="#000" stroke-width="1.30" stroke-linejoin="round"/>
<path d="M313.7 467.8L315.8 465.3L317.7 461.9L320.1 459.4L322.8 456.9L325.2 455.5L326.7 452.3L329.3 450.4L332.1 446.9L334.8 446.3L338.1 444.3L341.3 447.7L339.9 450.1L338.9 454.0L343.8 456.1L343.0 459.0L341.2 461.9L338.0 463.4L334.6 463.1L332.0 464.7L327.1 463.1L323.3 465.5L320.6 468.1L316.6 468.0Z" fill="#84e084" stroke="#000" stroke-width="1.30" stroke-linejoin="round"/>
<path d="M464.5 445.0L465.5 441.4L466.8 438.6L469.8 436.4L472.3 435.3L476.3 436.1L478.4 440.5L475.3 442.2L472.7 444.0L467.4 445.5Z" fill="#84e084" stroke="#000" stroke-width="1.30" stroke-linejoin="round"/>
<path d="M472.0 453.6L475.8 453.4L479.5 453.2L480.8 455.9L477.9 457.2L475.0 458.4L472.8 456.7Z" fill="#84e084" stroke="#000" stroke-width="1.30" stroke-linejoin="round"/>
<path d="M448.2 467.6L450.6 465.5L453.2 463.2L456.0 461.0L457.7 458.9L460.3 456.8L461.0 460.9L458.7 463.2L456.6 465.4L454.8 467.9L452.2 470.0L449.5 471.8Z" fill="#84e084" stroke="#000" stroke-width="1.30" stroke-linejoin="round"/>
<path d="M456.4 477.8L458.7 476.1L460.9 473.8L461.6 477.5L461.8 480.5L457.9 483.4Z" fill="#84e084" stroke="#000" stroke-width="1.30" stroke-linejoin="round"/>
<path d="M373.9 528.9L376.7 526.8L379.4 524.7L378.6 529.8L375.8 533.4Z" fill="#84e084" stroke="#000" stroke-width="1.30" stroke-linejoin="round"/>
<path d="M377.8 549.2L381.4 546.0L384.8 543.6L388.2 541.0L391.8 538.4L392.3 542.1L390.5 544.7L387.7 547.0L385.7 549.0L381.7 549.3Z" fill="#84e084" stroke="#000" stroke-width="1.30" stroke-linejoin="round"/>
<path d="M341.4 549.2L342.7 543.8L348.5 543.7L350.3 549.0L347.4 548.8L344.3 549.3Z" fill="#84e084" stroke="#000" stroke-width="1.30" stroke-linejoin="round"/>
<path d="M386.3 459.8L388.7 458.1L391.2 456.2L393.5 454.4L395.9 452.5L396.5 454.0L393.4 456.3L390.3 458.8L387.1 461.1Z" fill="#84e084" stroke="#000" stroke-width="1.00" stroke-linejoin="round"/>
<path d="M299.4 387.5L303.0 385.3L306.5 382.9L307.0 384.0L303.5 386.4L300.0 388.7Z" fill="#84e084" stroke="#000" stroke-width="1.00" stroke-linejoin="round"/>
<path d="M296.8 412.1L301.0 411.5L305.3 410.9L305.8 415.6L302.7 416.0L299.4 416.2L296.4 416.6Z" fill="#84e084" stroke="#000" stroke-width="1.30" stroke-linejoin="round"/>
<path d="M296.4 433.1L301.9 432.4L304.9 435.4L302.7 437.8L299.9 439.9L296.4 439.4L296.3 436.3Z" fill="#84e084" stroke="#000" stroke-width="1.30" stroke-linejoin="round"/>
<path d="M480.8 485.8L485.7 483.3L485.7 489.4Z" fill="#000" />
<path d="M426.4 505.0L441.1 494.8L438.8 491.5L424.1 501.7Z" fill="#c4d2ff" />
<path d="M472.4 510.4L475.8 507.3L474.1 505.5L470.7 508.6Z" fill="#c4d2ff" />
<path d="M481.7 509.5L484.6 504.9L481.2 502.8L478.4 507.3Z" fill="#c4d2ff" />
<path d="M476.6 518.5L480.0 516.7L479.0 515.0L475.6 516.8Z" fill="#c4d2ff" />
<path d="M473.9 539.6L476.5 534.8L473.0 532.9L470.4 537.7Z" fill="#c4d2ff" />
<path d="M479.4 533.2L482.8 531.4L481.8 529.7L478.5 531.5Z" fill="#c4d2ff" />
<path d="M423.8 460.9L431.1 457.5L429.6 454.3L422.3 457.7Z" fill="#c4d2ff" />
<path d="M268.2 423.1L270.3 421.3L272.5 418.6L276.3 421.5L274.5 427.7L274.3 431.0L281.0 432.2L284.6 432.8L288.3 431.1L292.1 429.4L292.9 432.7L298.6 431.2L301.9 433.4L304.4 435.2L300.6 437.9L297.6 439.3L295.4 441.8L292.1 443.6L289.5 445.5L291.3 447.8L294.4 450.7L292.7 454.3L291.3 456.3L287.6 456.1L284.3 456.3L280.4 458.5L278.7 461.6L273.1 458.9L274.6 455.3L275.7 451.3L276.6 447.7L277.1 445.2L276.6 442.4L274.9 439.5L273.8 436.0L271.8 433.6L270.4 430.6L269.3 425.9Z" fill="#84e084" stroke="#000" stroke-width="1.30" stroke-linejoin="round"/>
<ellipse cx="289.5" cy="450.6" rx="3.9" ry="6.2" transform="rotate(-30 289.5 450.6)" fill="#fff" stroke="#000" stroke-width="1.5"/>
<path d="M289.9 411.4L293.2 409.2L295.7 409.9L298.9 411.5L304.6 410.3L304.7 415.4L300.8 415.8L297.6 416.6L292.7 414.2Z" fill="#84e084" stroke="#000" stroke-width="1.30" stroke-linejoin="round"/>
<path d="M305.1 316.2L308.2 313.5L311.6 312.1L315.3 309.3L319.7 307.4L318.8 312.0L318.6 315.9L313.4 317.6L309.5 316.4Z" fill="#84e084" stroke="#000" stroke-width="1.30" stroke-linejoin="round"/>
<path d="M360.2 307.0L360.1 309.3L357.7 312.2L354.2 312.0L352.4 311.0L352.6 308.2L354.5 305.4L357.6 305.1Z" fill="#84e084" stroke="#000" stroke-width="1.60" stroke-linejoin="round"/>
<path d="M378.1 315.9L378.3 317.6L375.8 318.5L374.3 319.5L372.6 318.0L372.3 316.3L374.8 314.8L376.4 314.4Z" fill="#84e084" stroke="#000" stroke-width="1.60" stroke-linejoin="round"/>
<path d="M313.9 358.9L313.9 361.5L311.4 364.2L308.7 364.1L307.2 361.9L306.7 359.5L308.5 357.7L312.1 357.3Z" fill="#84e084" stroke="#000" stroke-width="1.60" stroke-linejoin="round"/>
<path d="M233.1 377.7L232.8 378.8L230.7 380.8L228.1 381.7L226.7 380.7L226.8 378.6L228.8 377.2L231.4 376.1Z" fill="#84e084" stroke="#000" stroke-width="1.60" stroke-linejoin="round"/>
<path d="M261.3 381.5L261.3 383.9L259.1 385.9L256.6 386.0L254.7 384.6L255.1 382.6L257.0 381.0L259.3 380.3Z" fill="#84e084" stroke="#000" stroke-width="1.60" stroke-linejoin="round"/>
<path d="M207.2 401.0L206.7 403.7L204.7 405.4L201.5 406.1L198.9 404.2L199.1 401.6L201.3 399.9L204.5 399.6Z" fill="#84e084" stroke="#000" stroke-width="1.60" stroke-linejoin="round"/>
<path d="M253.4 438.4L254.5 441.9L252.4 444.2L249.2 443.5L247.2 441.4L246.9 438.3L248.9 435.6L251.3 435.7Z" fill="#84e084" stroke="#000" stroke-width="1.60" stroke-linejoin="round"/>
<path d="M220.9 397.8L219.9 398.8L218.0 399.8L215.7 400.4L214.9 400.4L215.3 399.3L217.4 397.5L219.0 397.2Z" fill="#84e084" stroke="#000" stroke-width="1.60" stroke-linejoin="round"/>
<path d="M233.4 396.2L232.8 396.6L231.2 397.2L229.0 398.4L228.8 397.8L229.2 397.3L230.0 396.0L232.0 395.3Z" fill="#84e084" stroke="#000" stroke-width="1.60" stroke-linejoin="round"/>
<path d="M342.7 299.6L342.9 301.0L342.5 301.8L341.2 302.0L340.1 301.6L340.2 300.0L341.0 299.0L342.1 299.0Z" fill="#84e084" stroke="#000" stroke-width="1.60" stroke-linejoin="round"/>
<path d="M330.7 352.9L333.8 350.9L333.0 349.5L329.8 351.6Z" fill="#6fdc6f" />
<path d="M301.9 387.3L305.0 385.3L304.2 384.0L301.0 386.0Z" fill="#6fdc6f" />
<path d="M190.1 409.9L193.2 407.9L192.4 406.6L189.2 408.6Z" fill="#6fdc6f" />
<path d="M192.9 415.0L196.1 413.0L195.2 411.6L192.0 413.7Z" fill="#6fdc6f" />
<path d="M314.3 403.2L317.5 401.1L316.6 399.8L313.4 401.8Z" fill="#6fdc6f" />
<path d="M237.5 427.4L240.7 425.4L239.8 424.1L236.6 426.1Z" fill="#6fdc6f" />
<path d="M211.5 452.8L214.7 450.8L213.8 449.5L210.7 451.5Z" fill="#6fdc6f" />
<path d="M211.5 456.2L214.7 454.2L213.8 452.9L210.7 454.9Z" fill="#6fdc6f" />
<path d="M226.8 457.4L229.9 455.3L229.1 454.0L225.9 456.0Z" fill="#6fdc6f" />
<path d="M226.2 460.7L229.4 458.7L228.5 457.4L225.3 459.4Z" fill="#6fdc6f" />
<path d="M325.0 436.5L328.2 434.4L327.3 433.1L324.2 435.1Z" fill="#6fdc6f" />
<path d="M334.1 437.6L337.2 435.6L336.4 434.2L333.2 436.3Z" fill="#6fdc6f" />
<path d="M309.2 453.4L312.4 451.4L311.5 450.0L308.4 452.1Z" fill="#6fdc6f" />
<path d="M253.9 465.3L257.0 463.2L256.2 461.9L253.0 463.9Z" fill="#6fdc6f" />
<path d="M468.5 207.2L470.7 204.5L472.8 202.5L476.7 201.9L480.9 201.5L486.0 201.8L486.2 204.6L486.7 208.1L483.1 208.1L480.4 208.4L475.0 210.8L473.1 209.9Z" fill="#84e084" stroke="#000" stroke-width="1.30" stroke-linejoin="round"/>
<path d="M459.4 198.1L462.5 199.0L465.4 199.0L466.5 200.2L468.4 202.6L470.6 204.1L469.2 206.0L465.7 203.7L462.4 202.0Z" fill="#1a3a1a" stroke="#000" stroke-width="1.20" stroke-linejoin="round"/>
<path d="M463.7 201.2L465.3 199.9L466.6 201.5L465.0 202.8ZM464.6 203.6L468.4 200.6L469.4 201.9L465.6 204.9ZM459.8 199.8L461.2 198.7L462.4 200.2L460.9 201.3Z" fill="#84e084"/>
<path d="M443.9 208.2L447.0 206.2L449.7 207.2L452.2 208.3L455.6 210.0L458.3 212.0L456.7 214.0L453.9 213.0L450.3 212.1L447.0 211.0L444.5 210.5Z" fill="#1a3a1a" stroke="#000" stroke-width="1.20" stroke-linejoin="round"/>
<path d="M449.9 209.0L451.6 207.7L452.8 209.3L451.2 210.6ZM445.7 210.1L447.7 208.6L449.2 210.5L447.3 212.1ZM451.2 209.1L453.2 207.5L454.7 209.5L452.7 211.1Z" fill="#84e084"/>
<path d="M423.7 223.3L426.8 221.1L429.9 223.1L432.6 225.3L429.9 226.8L427.0 225.0Z" fill="#1a3a1a" stroke="#000" stroke-width="1.20" stroke-linejoin="round"/>
<path d="M426.9 223.1L428.5 221.8L429.8 223.4L428.2 224.7ZM424.3 223.8L426.3 222.3L427.8 224.3L425.9 225.8ZM427.5 223.1L429.5 221.6L431.0 223.5L429.0 225.1Z" fill="#84e084"/>
<path d="M434.8 231.3L438.1 230.2L440.9 229.9L443.4 231.3L445.9 233.1L448.3 234.1L447.4 235.6L444.9 234.7L442.0 234.7L438.6 234.5L436.7 232.8Z" fill="#1a3a1a" stroke="#000" stroke-width="1.20" stroke-linejoin="round"/>
<path d="M440.4 232.0L442.0 230.7L443.3 232.4L441.7 233.6ZM436.6 232.7L438.6 231.2L440.1 233.1L438.2 234.7ZM441.5 232.0L443.5 230.5L445.0 232.5L443.0 234.0Z" fill="#84e084"/>
<path d="M443.6 237.5L448.4 237.2L448.3 238.4L443.8 239.0Z" fill="#1a3a1a" stroke="#000" stroke-width="1.20" stroke-linejoin="round"/>
<path d="M444.8 238.8L450.1 234.7L451.4 236.4L446.2 240.5ZM442.7 237.7L444.6 236.3L446.0 238.1L444.2 239.6ZM443.1 237.8L445.1 236.3L446.6 238.2L444.6 239.8Z" fill="#84e084"/>
<path d="M462.6 222.1L469.1 222.3L469.2 219.1L462.7 218.9Z" fill="#8ee68e" />
<path d="M464.2 220.2L468.1 220.2L468.1 218.7L464.2 218.7Z" fill="#000" />
<path d="M465.0 226.2L473.0 226.4L473.1 223.3L465.1 223.1Z" fill="#8ee68e" />
<path d="M466.5 224.4L472.1 224.4L472.1 222.9L466.5 222.9Z" fill="#000" />
<path d="M468.2 230.2L477.0 230.4L477.1 227.2L468.2 227.0Z" fill="#8ee68e" />
<path d="M469.7 228.4L476.0 228.4L476.0 226.9L469.7 226.9Z" fill="#000" />
<path d="M473.7 234.9L480.1 235.1L480.2 231.9L473.8 231.7Z" fill="#8ee68e" />
<path d="M475.2 233.0L479.2 233.0L479.2 231.5L475.2 231.5Z" fill="#000" />
<path d="M480.8 240.2L486.5 240.4L486.6 237.2L480.9 237.0Z" fill="#8ee68e" />
<path d="M482.4 238.4L485.5 238.4L485.5 236.9L482.4 236.9Z" fill="#000" />
<path d="M459.6 243.7L464.7 244.4L469.9 244.7L468.9 249.8L465.2 249.7L461.3 249.3Z" fill="#84e084" stroke="#000" stroke-width="1.60" stroke-linejoin="round"/>
<path d="M481.6 249.0L486.5 247.6L486.6 250.9L486.5 254.4L482.2 254.1Z" fill="#84e084" stroke="#000" stroke-width="1.60" stroke-linejoin="round"/>
<path d="M460.9 264.4L464.9 264.7L468.7 265.4L467.2 270.4L462.6 269.5Z" fill="#84e084" stroke="#000" stroke-width="1.60" stroke-linejoin="round"/>
<path d="M49.3 523.5L57.6 518.9L56.8 517.3L48.4 522.0Z" fill="#4aa8ff" />
<path d="M78.4 530.9L82.9 529.6L86.7 529.5L86.1 532.4L86.7 534.9L86.6 537.8L86.7 540.8L87.0 543.8L84.7 543.5L82.5 544.3L79.3 544.1L79.3 541.7L78.9 538.5L79.2 536.0L78.7 533.9Z" fill="#84e084" stroke="#000" stroke-width="1.30" stroke-linejoin="round"/>
<path d="M84.2 535.4L84.0 536.4L83.3 537.0L82.5 537.0L81.8 536.4L81.6 535.4L81.8 534.5L82.5 533.9L83.3 533.9L84.0 534.5Z" fill="#b0c8ff" />
<path d="M74.2 524.2L77.5 522.8L76.9 521.3L73.6 522.7Z" fill="#3a9a3a" />
<path d="M89.2 526.8L92.5 525.5L91.9 524.0L88.6 525.4Z" fill="#3a9a3a" />
<path d="M67.5 539.9L70.8 538.5L70.3 537.0L66.9 538.4Z" fill="#3a9a3a" />
<path d="M167.6 538.2L171.0 536.9L170.4 535.4L167.0 536.7Z" fill="#3a9a3a" />
<path d="M172.6 541.5L176.0 540.2L175.4 538.7L172.0 540.0Z" fill="#3a9a3a" />
<path d="M182.6 548.2L186.0 546.9L185.4 545.4L182.0 546.7Z" fill="#3a9a3a" />
<path d="M90.9 524.8L94.2 523.5L93.6 522.0L90.3 523.4Z" fill="#3a9a3a" />
<path d="M341.9 546.8L345.8 541.9L350.0 546.7L348.5 550.0L342.5 550.1Z" fill="#84e084" stroke="#000" stroke-width="1.20" stroke-linejoin="round"/>
<path d="M374.5 529.9L379.2 525.4L379.7 530.2L376.0 534.1Z" fill="#84e084" stroke="#000" stroke-width="1.20" stroke-linejoin="round"/>
<path d="M386.4 458.2L396.4 452.2L395.4 450.5L385.4 456.5Z" fill="#2a6a2a" />
</g>
<use href="#over"/>
<text x="35.30" y="66.0" font-size="24.0" textLength="246.2" lengthAdjust="spacingAndGlyphs" >2A12 rainrate (mm/hr)</text>
<text x="438.4" y="523.6" font-size="29">(f)</text>
<rect x="495.0" y="531.28" width="9.2" height="8.76" fill="#84e284"/>
<rect x="495.0" y="522.83" width="9.2" height="8.76" fill="#7fdb7f"/>
<rect x="495.0" y="514.37" width="9.2" height="8.76" fill="#7bd47b"/>
<rect x="495.0" y="505.91" width="9.2" height="8.76" fill="#76cd76"/>
<rect x="495.0" y="497.45" width="9.2" height="8.76" fill="#71c671"/>
<rect x="495.0" y="488.99" width="9.2" height="8.76" fill="#6dbf6d"/>
<rect x="495.0" y="480.53" width="9.2" height="8.76" fill="#68b868"/>
<rect x="495.0" y="472.08" width="9.2" height="8.76" fill="#d0d8ff"/>
<rect x="495.0" y="463.62" width="9.2" height="8.76" fill="#bfd0ff"/>
<rect x="495.0" y="455.16" width="9.2" height="8.76" fill="#aec9ff"/>
<rect x="495.0" y="446.70" width="9.2" height="8.76" fill="#9dc2ff"/>
<rect x="495.0" y="438.24" width="9.2" height="8.76" fill="#8dbbff"/>
<rect x="495.0" y="429.78" width="9.2" height="8.76" fill="#7bb5ff"/>
<rect x="495.0" y="421.33" width="9.2" height="8.76" fill="#67afff"/>
<rect x="495.0" y="412.87" width="9.2" height="8.76" fill="#53a9ff"/>
<rect x="495.0" y="404.41" width="9.2" height="8.76" fill="#4c99ff"/>
<rect x="495.0" y="395.95" width="9.2" height="8.76" fill="#4788ff"/>
<rect x="495.0" y="387.49" width="9.2" height="8.76" fill="#4276ff"/>
<rect x="495.0" y="379.03" width="9.2" height="8.76" fill="#3f62ff"/>
<rect x="495.0" y="370.58" width="9.2" height="8.76" fill="#3b4dff"/>
<rect x="495.0" y="362.12" width="9.2" height="8.76" fill="#2f39ff"/>
<rect x="495.0" y="353.66" width="9.2" height="8.76" fill="#2325ff"/>
<rect x="495.0" y="345.20" width="9.2" height="8.76" fill="#1616fa"/>
<rect x="495.0" y="336.74" width="9.2" height="8.76" fill="#0808f4"/>
<rect x="495.0" y="328.28" width="9.2" height="8.76" fill="#0000ea"/>
<rect x="495.0" y="319.83" width="9.2" height="8.76" fill="#0000d9"/>
<rect x="495.0" y="311.37" width="9.2" height="8.76" fill="#0000c8"/>
<rect x="495.0" y="302.91" width="9.2" height="8.76" fill="#ffff00"/>
<rect x="495.0" y="294.45" width="9.2" height="8.76" fill="#fff600"/>
<rect x="495.0" y="285.99" width="9.2" height="8.76" fill="#ffed00"/>
<rect x="495.0" y="277.53" width="9.2" height="8.76" fill="#ffe400"/>
<rect x="495.0" y="269.08" width="9.2" height="8.76" fill="#ffda00"/>
<rect x="495.0" y="260.62" width="9.2" height="8.76" fill="#ffd100"/>
<rect x="495.0" y="252.16" width="9.2" height="8.76" fill="#ffc800"/>
<rect x="495.0" y="243.70" width="9.2" height="8.76" fill="#ff9600"/>
<rect x="495.0" y="235.24" width="9.2" height="8.76" fill="#ff8e00"/>
<rect x="495.0" y="226.78" width="9.2" height="8.76" fill="#ff8600"/>
<rect x="495.0" y="218.33" width="9.2" height="8.76" fill="#ff7e00"/>
<rect x="495.0" y="209.87" width="9.2" height="8.76" fill="#ff7600"/>
<rect x="495.0" y="201.41" width="9.2" height="8.76" fill="#ff6e00"/>
<rect x="495.0" y="192.95" width="9.2" height="8.76" fill="#ff4000"/>
<rect x="495.0" y="184.49" width="9.2" height="8.76" fill="#ff3900"/>
<rect x="495.0" y="176.03" width="9.2" height="8.76" fill="#ff3100"/>
<rect x="495.0" y="167.58" width="9.2" height="8.76" fill="#ff2a00"/>
<rect x="495.0" y="159.12" width="9.2" height="8.76" fill="#ff2300"/>
<rect x="495.0" y="150.66" width="9.2" height="8.76" fill="#ff1b00"/>
<rect x="495.0" y="142.20" width="9.2" height="8.76" fill="#ff1400"/>
<rect x="495.0" y="133.74" width="9.2" height="8.76" fill="#c80000"/>
<rect x="495.0" y="125.28" width="9.2" height="8.76" fill="#c10000"/>
<rect x="495.0" y="116.82" width="9.2" height="8.76" fill="#bb0000"/>
<rect x="495.0" y="108.37" width="9.2" height="8.76" fill="#b40000"/>
<rect x="495.0" y="99.91" width="9.2" height="8.76" fill="#ad0000"/>
<rect x="495.0" y="91.45" width="9.2" height="8.76" fill="#a70000"/>
<rect x="495.0" y="82.99" width="9.2" height="8.76" fill="#a00000"/>
<rect x="495.0" y="74.53" width="9.2" height="8.76" fill="#640a00"/>
<rect x="495.0" y="66.07" width="9.2" height="8.76" fill="#620c05"/>
<rect x="495.0" y="57.62" width="9.2" height="8.76" fill="#5f0f0a"/>
<rect x="495.0" y="49.16" width="9.2" height="8.76" fill="#5c120f"/>
<rect x="495.0" y="40.70" width="9.2" height="8.76" fill="#5a1414"/>
<path d="M503.9 548.20h2.6" stroke="#222" stroke-width="0.9"/>
<text x="519.15" y="556.2" font-size="18.6" textLength="10.8" lengthAdjust="spacingAndGlyphs" >0</text>
<path d="M503.9 497.45h2.6" stroke="#222" stroke-width="0.9"/>
<text x="518.87" y="505.5" font-size="18.6" textLength="11.2" lengthAdjust="spacingAndGlyphs" >6</text>
<path d="M503.9 446.70h2.6" stroke="#222" stroke-width="0.9"/>
<text x="511.90" y="454.7" font-size="18.6" textLength="23.8" lengthAdjust="spacingAndGlyphs" >12</text>
<path d="M503.9 395.95h2.6" stroke="#222" stroke-width="0.9"/>
<text x="511.90" y="404.0" font-size="18.6" textLength="23.7" lengthAdjust="spacingAndGlyphs" >18</text>
<path d="M503.9 345.20h2.6" stroke="#222" stroke-width="0.9"/>
<text x="512.37" y="353.2" font-size="18.6" textLength="22.9" lengthAdjust="spacingAndGlyphs" >24</text>
<path d="M503.9 294.45h2.6" stroke="#222" stroke-width="0.9"/>
<text x="512.65" y="302.5" font-size="18.6" textLength="22.8" lengthAdjust="spacingAndGlyphs" >30</text>
<path d="M503.9 243.70h2.6" stroke="#222" stroke-width="0.9"/>
<text x="512.65" y="251.7" font-size="18.6" textLength="22.9" lengthAdjust="spacingAndGlyphs" >36</text>
<path d="M503.9 192.95h2.6" stroke="#222" stroke-width="0.9"/>
<text x="512.93" y="201.0" font-size="18.6" textLength="22.7" lengthAdjust="spacingAndGlyphs" >42</text>
<path d="M503.9 142.20h2.6" stroke="#222" stroke-width="0.9"/>
<text x="512.93" y="150.2" font-size="18.6" textLength="22.6" lengthAdjust="spacingAndGlyphs" >48</text>
<path d="M503.9 91.45h2.6" stroke="#222" stroke-width="0.9"/>
<text x="512.56" y="99.4" font-size="18.6" textLength="22.7" lengthAdjust="spacingAndGlyphs" >54</text>
</g>
<g transform="translate(0.0 1181.0)">
<g clip-path="url(#cg)">
<rect x="20" y="175" width="470" height="378" filter="url(#ng)"/>
<path d="M60 520L230 390L330 420L380 500L300 548L160 520Z" fill="#e6e6e6" opacity="0.55"/>
<path d="M380 270L485 190L485 330L420 330Z" fill="#e2e2e2" opacity="0.5"/>
<path d="M161.0 442.1L162.3 439.7L167.3 435.2L170.3 434.5L171.8 432.5L175.2 428.8L178.9 426.9L182.2 423.4L184.5 420.7L187.1 419.1L189.3 416.5L193.8 413.9L195.7 411.3L199.2 409.2L200.6 408.6L203.9 405.9L207.1 403.5L209.4 400.5L211.5 398.4L214.5 396.5L218.8 394.0L219.7 391.9L222.4 391.0L227.1 388.6L229.9 385.9L231.4 383.3L234.7 380.7L237.1 378.9L240.2 377.8L242.9 373.8L245.5 373.0L248.1 369.2L249.8 368.1L254.1 365.8L256.8 363.7L259.8 360.7L262.6 359.7L263.6 356.3L266.8 355.4L270.3 351.4L273.3 349.8L276.4 347.5L277.3 345.4L280.9 343.4L283.8 340.4L286.0 338.0L290.4 336.9L291.6 333.9L295.3 331.3L297.1 330.7L300.8 328.6L304.5 325.5L307.2 324.4L310.2 321.6L312.9 318.2L314.4 317.3L318.2 315.2L321.2 311.3L324.4 309.1L328.6 306.6L332.2 304.8L334.7 302.5L339.3 299.3L338.6 303.9L340.5 307.4L342.3 309.6L344.5 312.3L345.8 316.1L346.9 321.1L348.4 323.0L350.0 326.8L349.7 329.8L349.1 334.1L349.9 337.6L350.8 340.9L348.6 344.9L348.6 348.5L349.6 351.8L349.8 354.6L348.9 358.5L348.5 361.9L348.3 367.3L350.0 370.4L349.4 372.5L348.3 377.9L349.5 379.9L346.0 383.5L340.1 383.5L338.3 384.7L332.8 386.6L330.2 388.4L325.8 389.5L322.4 392.2L320.7 393.9L315.5 393.8L316.1 397.8L315.2 401.6L312.2 403.8L312.8 407.5L311.0 411.7L309.2 413.9L309.2 417.1L307.8 421.4L306.2 424.0L306.8 428.9L304.5 431.7L303.8 435.1L299.5 438.2L297.7 441.2L294.8 444.1L291.5 447.5L292.3 451.4L290.9 455.8L288.8 458.3L288.1 461.6L285.0 466.8L282.2 471.9L282.2 466.6L279.4 461.9L276.4 463.9L273.6 466.6L272.1 463.5L271.5 457.9L269.2 454.7L270.5 450.0L269.0 446.2L267.8 439.9L268.1 437.1L266.7 433.1L267.5 429.2L264.3 424.0L261.5 421.0L258.3 425.4L254.8 429.6L247.8 431.0L247.1 426.9L246.2 421.8L242.9 418.8L240.4 415.4L235.6 414.9L231.2 417.4L226.6 419.2L224.7 415.8L225.7 411.9L222.2 413.0L217.9 416.1L214.1 420.2L212.2 421.3L207.4 422.2L201.9 424.1L197.6 427.5L195.1 428.9L191.9 431.0L189.5 433.4L185.5 435.4L182.3 436.0L178.1 439.1L175.5 439.7L171.5 441.2L169.1 442.4L164.3 443.0Z" fill="#4a70ff" stroke="#000" stroke-width="1.15" stroke-linejoin="round"/>
<path d="M300.4 420.3L303.5 414.9L306.2 416.5L303.1 421.8ZM265.8 381.8L267.4 379.0L270.3 380.6L268.6 383.5ZM282.0 382.9L283.9 379.5L287.3 381.5L285.4 384.8ZM301.8 424.7L305.0 419.2L307.8 420.8L304.6 426.3ZM265.0 365.9L267.5 361.5L269.0 362.3L266.4 366.7ZM292.1 372.2L294.4 368.1L298.5 370.4L296.1 374.5ZM294.2 343.2L295.8 340.4L297.2 341.2L295.6 344.0ZM334.9 351.6L335.7 350.1L337.2 351.0L336.4 352.5ZM251.1 401.7L252.8 398.8L255.8 400.5L254.1 403.4ZM331.9 330.6L332.8 329.0L334.4 329.9L333.5 331.5ZM343.0 328.1L345.1 324.5L348.8 326.6L346.6 330.2ZM276.9 437.1L279.1 433.3L283.0 435.5L280.7 439.4ZM300.8 341.2L303.2 337.1L307.3 339.5L304.9 343.6ZM257.7 406.2L262.7 397.5L265.6 399.2L260.5 407.9ZM308.5 353.3L312.6 346.2L316.1 348.3L312.0 355.4ZM255.2 397.4L257.4 393.5L259.3 394.7L257.1 398.5ZM256.3 397.7L262.1 387.7L265.5 389.6L259.7 399.7ZM305.8 332.1L310.0 324.9L313.6 326.9L309.4 334.2ZM318.4 354.7L324.1 344.8L327.4 346.7L321.7 356.6ZM257.7 362.8L260.3 358.3L262.5 359.6L260.0 364.1ZM275.1 398.7L276.3 396.7L278.3 397.9L277.2 399.9ZM307.8 343.0L310.9 337.7L313.5 339.3L310.4 344.5ZM285.7 426.3L287.0 424.1L289.3 425.4L288.0 427.6ZM249.0 377.5L252.7 371.2L255.8 373.0L252.2 379.3ZM270.8 430.5L272.6 427.4L275.7 429.2L273.9 432.3ZM333.8 379.3L335.6 376.0L337.2 377.0L335.4 380.2ZM227.2 408.5L232.4 399.5L235.4 401.2L230.2 410.2ZM275.9 426.2L276.9 424.4L278.7 425.5L277.7 427.3ZM273.3 361.9L275.3 358.6L278.6 360.5L276.7 363.8ZM279.2 445.7L281.2 442.3L284.6 444.3L282.6 447.7ZM251.8 388.9L254.0 385.1L257.8 387.3L255.6 391.1ZM303.1 398.2L305.4 394.2L309.3 396.5L307.0 400.4ZM268.5 405.6L275.0 394.2L278.8 396.4L272.3 407.8ZM303.8 384.2L305.3 381.7L307.8 383.1L306.4 385.6ZM272.3 431.0L277.2 422.5L280.0 424.2L275.1 432.6ZM325.4 342.3L326.2 340.9L327.6 341.7L326.8 343.1ZM244.2 414.9L246.7 410.5L248.9 411.8L246.4 416.1ZM305.7 336.7L307.0 334.5L309.2 335.7L307.9 337.9ZM192.7 420.8L194.6 417.5L198.0 419.4L196.0 422.7ZM277.9 461.4L279.7 458.4L282.6 460.1L280.9 463.1ZM187.2 420.1L188.7 417.6L191.2 419.0L189.7 421.5ZM252.9 381.0L253.8 379.3L255.5 380.3L254.6 382.0ZM209.9 410.3L211.4 407.6L214.1 409.1L212.6 411.8ZM342.7 316.3L343.8 314.5L345.6 315.5L344.5 317.3ZM325.5 360.5L331.7 349.8L335.3 351.8L329.1 362.5ZM277.9 350.8L285.1 338.5L289.2 340.8L282.0 353.2ZM286.8 449.2L289.1 445.3L293.0 447.5L290.7 451.5ZM331.8 368.8L333.5 365.7L335.0 366.6L333.3 369.6ZM296.5 349.0L300.3 342.4L302.5 343.7L298.7 350.3ZM210.8 409.7L213.0 405.8L216.9 408.0L214.7 411.9ZM250.3 395.5L255.9 385.9L259.1 387.8L253.5 397.4ZM293.2 350.7L295.5 346.7L299.4 349.0L297.1 353.0ZM233.9 394.9L240.1 384.1L243.7 386.1L237.5 396.9ZM284.7 432.5L289.9 423.4L293.0 425.2L287.7 434.3ZM308.7 357.9L312.9 350.7L315.2 352.1L311.1 359.3ZM248.2 390.6L249.2 388.8L251.1 389.8L250.0 391.7ZM239.6 398.4L240.6 396.6L242.3 397.6L241.3 399.3ZM275.3 385.0L282.4 372.6L286.6 375.0L279.4 387.4ZM322.8 386.7L326.0 381.2L327.8 382.3L324.7 387.8ZM324.2 382.7L325.6 380.4L328.0 381.7L326.6 384.1ZM168.9 436.6L169.7 435.1L171.2 436.0L170.4 437.5ZM338.7 359.9L341.4 355.2L343.8 356.5L341.1 361.2ZM277.8 426.1L280.0 422.2L283.9 424.5L281.6 428.3ZM289.4 349.5L291.5 345.8L295.2 347.9L293.1 351.6ZM273.7 415.2L275.1 412.8L277.5 414.2L276.1 416.6ZM307.1 396.0L308.9 392.9L312.0 394.7L310.2 397.8ZM321.9 366.0L324.7 361.3L327.0 362.7L324.3 367.4ZM295.3 348.8L296.1 347.4L297.6 348.2L296.7 349.7ZM293.1 434.8L296.7 428.6L299.8 430.4L296.2 436.5ZM214.3 409.2L215.7 406.8L218.2 408.2L216.8 410.7ZM261.7 382.8L264.8 377.4L267.5 379.0L264.4 384.3ZM314.9 359.2L316.3 356.7L318.8 358.2L317.3 360.6ZM259.7 371.8L260.8 370.0L262.6 371.0L261.5 372.9ZM262.5 409.8L264.1 407.0L267.0 408.6L265.3 411.5ZM260.7 398.6L262.5 395.5L264.1 396.4L262.3 399.4ZM168.7 434.0L173.4 425.9L177.4 428.2L172.7 436.3ZM265.0 375.8L265.9 374.3L267.3 375.2L266.5 376.7ZM182.6 436.0L183.7 434.1L185.6 435.2L184.5 437.1ZM241.1 407.3L243.3 403.5L247.1 405.7L244.9 409.5ZM281.5 404.4L284.0 400.0L286.2 401.3L283.6 405.7ZM290.2 407.2L293.9 400.8L296.0 402.0L292.3 408.4ZM242.3 391.1L244.7 387.0L248.8 389.4L246.4 393.5ZM294.1 348.0L297.7 341.6L300.9 343.5L297.2 349.8ZM279.9 410.0L282.5 405.5L284.0 406.3L281.4 410.9ZM334.6 316.3L337.9 310.5L339.8 311.6L336.5 317.4ZM327.6 337.7L329.6 334.1L333.2 336.2L331.1 339.7ZM227.4 416.3L229.0 413.6L231.7 415.2L230.2 417.9ZM284.8 353.7L287.2 349.6L291.3 352.0L288.9 356.1ZM258.5 371.8L259.5 370.2L261.1 371.1L260.2 372.8ZM317.3 346.8L321.8 339.1L324.4 340.6L319.9 348.3Z" fill="#b8ccff"/>
<path d="M303.4 410.5L304.9 408.0L307.4 409.4L306.0 412.0ZM277.5 429.4L279.3 426.3L282.5 428.1L280.6 431.3ZM323.0 357.7L326.0 352.5L327.7 353.5L324.7 358.7ZM280.4 393.2L286.4 382.8L289.9 384.8L283.9 395.2ZM332.7 321.4L333.7 319.6L335.5 320.6L334.5 322.4ZM289.2 412.1L290.7 409.5L293.3 411.0L291.8 413.6ZM216.9 412.2L219.1 408.4L221.0 409.5L218.8 413.4ZM301.5 408.9L307.7 398.2L311.3 400.2L305.1 411.0ZM257.5 398.2L258.9 395.8L261.2 397.2L259.9 399.5ZM326.6 320.0L328.9 316.2L330.8 317.3L328.6 321.2ZM341.2 367.2L343.6 363.1L347.7 365.5L345.3 369.6ZM252.0 422.2L254.4 418.0L258.5 420.4L256.1 424.6ZM263.0 416.5L267.6 408.5L270.3 410.0L265.7 418.1ZM224.2 411.4L225.8 408.8L228.4 410.3L226.9 413.0ZM282.0 464.5L283.6 461.7L286.4 463.3L284.8 466.1ZM227.6 389.7L229.5 386.5L232.7 388.4L230.8 391.6ZM301.1 385.9L303.2 382.3L306.8 384.4L304.7 387.9ZM336.3 331.7L339.8 325.6L341.8 326.8L338.3 332.8ZM278.1 390.9L284.7 379.5L288.5 381.7L281.9 393.1ZM326.8 369.6L331.1 362.1L334.9 364.3L330.5 371.8ZM297.7 396.3L299.3 393.5L302.1 395.1L300.5 397.9ZM278.9 351.7L280.4 348.9L283.2 350.5L281.6 353.3ZM268.9 396.7L273.0 389.6L276.6 391.6L272.4 398.7ZM312.2 353.5L315.4 348.0L317.2 349.1L314.0 354.5ZM288.3 358.0L293.5 349.0L296.5 350.8L291.3 359.8ZM228.2 416.9L230.2 413.4L231.9 414.4L229.9 417.9ZM195.8 417.7L202.4 406.3L206.1 408.5L199.6 419.8ZM276.9 448.2L278.8 444.9L282.2 446.8L280.3 450.1ZM260.9 359.3L262.9 355.9L266.3 357.9L264.4 361.3ZM256.8 424.4L260.3 418.2L263.4 420.0L259.9 426.1ZM269.7 435.5L273.8 428.4L276.2 429.7L272.1 436.9ZM271.0 392.6L272.1 390.6L274.0 391.8L272.9 393.7ZM270.3 382.9L271.1 381.5L272.5 382.3L271.7 383.7ZM300.9 355.3L303.6 350.7L306.0 352.0L303.3 356.7ZM241.1 389.7L242.7 386.9L245.5 388.5L243.9 391.3ZM272.2 451.2L278.9 439.7L282.7 441.9L276.1 453.4ZM261.0 407.9L264.7 401.5L268.0 403.3L264.2 409.8ZM286.9 346.2L288.6 343.3L290.1 344.1L288.4 347.1ZM240.5 381.6L241.5 379.8L243.4 380.8L242.3 382.6ZM323.9 322.4L326.0 318.8L329.5 320.9L327.5 324.4ZM314.5 360.5L316.8 356.5L320.7 358.8L318.4 362.8ZM208.8 416.4L213.5 408.3L217.5 410.6L212.8 418.7ZM321.5 360.5L323.2 357.6L326.1 359.2L324.4 362.1ZM238.0 412.3L240.5 408.1L241.9 408.9L239.4 413.1ZM303.2 328.2L308.0 319.8L310.8 321.4L306.0 329.8ZM230.3 397.3L234.9 389.2L239.0 391.5L234.3 399.6ZM266.0 415.9L271.8 405.8L275.1 407.7L269.3 417.8ZM299.4 432.5L300.2 431.0L301.8 431.9L300.9 433.4ZM247.8 407.3L250.7 402.2L252.4 403.2L249.5 408.3ZM231.8 399.8L233.2 397.4L235.5 398.8L234.2 401.2ZM300.4 428.2L306.0 418.5L309.2 420.3L303.6 430.0ZM330.2 362.2L335.7 352.8L338.8 354.6L333.4 364.0ZM300.0 413.2L304.1 406.1L306.4 407.5L302.4 414.5ZM303.5 370.3L305.6 366.6L307.5 367.6L305.3 371.4ZM308.2 347.0L312.9 338.9L315.6 340.5L310.9 348.6ZM317.0 391.4L322.7 381.5L326.0 383.4L320.3 393.3ZM325.8 316.2L327.8 312.7L331.2 314.7L329.2 318.2ZM283.5 405.5L288.5 396.8L291.4 398.5L286.4 407.1ZM251.3 388.5L253.0 385.5L255.9 387.2L254.2 390.2ZM242.7 420.3L244.6 417.1L247.8 419.0L245.9 422.2Z" fill="#7aa8ff"/>
<path d="M305.7 402.1L307.7 398.7L311.1 400.7L309.2 404.1ZM296.0 432.7L297.3 430.5L299.5 431.8L298.2 434.0ZM175.9 428.9L180.1 421.6L183.8 423.7L179.6 431.0ZM269.8 376.1L271.3 373.6L273.9 375.1L272.4 377.6ZM315.7 367.7L320.7 359.2L323.6 360.8L318.6 369.4ZM253.9 366.7L258.9 357.9L261.9 359.6L256.8 368.4ZM337.3 339.5L339.2 336.2L342.4 338.1L340.5 341.3ZM307.0 384.1L308.9 380.8L312.1 382.7L310.3 385.9ZM279.4 382.5L281.3 379.1L284.7 381.1L282.8 384.5ZM292.6 421.5L297.5 413.1L300.3 414.7L295.4 423.2ZM285.6 426.9L287.3 424.0L290.3 425.7L288.5 428.6ZM325.4 379.4L326.4 377.7L328.1 378.7L327.1 380.4ZM164.2 440.3L166.9 435.5L168.5 436.5L165.8 441.2ZM237.1 392.3L237.9 390.9L239.2 391.7L238.4 393.0ZM295.0 427.2L299.2 419.9L302.9 422.0L298.6 429.3ZM173.8 439.1L174.9 437.2L176.8 438.3L175.7 440.2ZM279.8 343.0L281.9 339.2L285.7 341.4L283.5 345.2ZM298.7 409.1L301.7 403.9L304.3 405.4L301.3 410.6ZM230.6 386.3L233.3 381.6L234.9 382.5L232.2 387.2ZM236.3 402.7L242.6 391.9L246.1 394.0L239.9 404.8ZM318.3 347.5L322.1 341.0L324.2 342.3L320.5 348.8ZM268.5 361.5L270.6 358.0L274.1 360.0L272.1 363.6ZM330.7 328.3L332.8 324.8L336.3 326.8L334.3 330.4ZM331.9 351.6L333.0 349.6L335.0 350.7L333.8 352.7ZM294.1 423.8L295.5 421.3L298.0 422.7L296.6 425.2ZM253.6 383.7L257.1 377.7L259.0 378.9L255.6 384.8ZM331.5 323.3L333.7 319.6L335.5 320.7L333.4 324.4ZM346.8 337.9L347.7 336.4L349.1 337.3L348.3 338.7ZM329.6 316.4L330.4 315.0L331.9 315.8L331.0 317.3ZM268.5 403.8L271.4 398.9L273.8 400.3L271.0 405.2ZM273.1 421.4L276.5 415.6L278.4 416.7L275.0 422.6ZM327.6 355.4L334.2 344.1L337.9 346.2L331.4 357.5ZM296.8 381.0L299.0 377.1L302.8 379.3L300.6 383.2ZM290.2 432.1L291.5 429.8L293.8 431.1L292.5 433.4ZM266.4 355.9L272.5 345.3L276.1 347.3L270.0 357.9ZM269.1 448.0L270.6 445.4L273.2 446.9L271.7 449.5ZM279.1 417.2L281.0 413.9L284.4 415.8L282.4 419.1ZM298.5 360.1L301.0 355.7L303.2 357.0L300.6 361.4ZM202.7 411.1L204.2 408.6L206.7 410.1L205.3 412.6ZM330.1 318.4L335.9 308.4L339.2 310.3L333.5 320.3Z" fill="#1818dc"/>
<path d="M202.4 416.7L207.6 415.4L210.7 413.4L214.1 413.1L218.5 410.5L221.6 409.8L225.5 407.7L226.3 411.0L223.9 414.4L221.3 415.4L217.9 417.6L213.6 419.4L209.6 420.1L205.8 421.5Z" fill="#80d880" />
<path d="M231.1 412.0L235.6 410.3L238.1 408.9L241.1 408.0L244.7 408.0L248.1 405.9L253.1 405.8L255.6 403.6L260.8 402.4L264.0 401.6L265.8 404.0L262.5 406.5L258.7 407.2L255.7 409.5L252.7 409.6L249.0 411.4L246.0 413.3L241.8 414.2L239.0 414.0L234.9 416.4Z" fill="#80d880" />
<path d="M268.6 428.3L272.4 426.1L275.7 425.7L278.0 428.4L280.7 431.7L282.1 435.7L285.3 434.7L289.9 433.0L292.7 431.1L295.5 433.9L299.8 435.4L296.6 439.5L295.7 443.7L292.9 447.0L287.4 443.1L282.6 444.4L278.9 443.5L272.3 442.7L271.8 437.7L270.5 433.0Z" fill="#80d880" />
<path d="M269.6 445.2L274.5 443.2L274.8 447.1L275.8 450.6L276.4 454.8L276.6 459.4L276.3 462.6L274.2 467.4L272.2 463.3L270.9 458.5L269.8 454.4L270.3 450.6Z" fill="#80d880" />
<path d="M228.1 392.3L232.0 390.3L234.5 388.0L237.8 384.6L243.3 388.9L242.6 394.4L240.7 399.2L244.2 398.8L249.4 396.8L252.6 392.9L255.9 388.9L257.8 385.3L260.6 382.1L261.4 376.8L263.3 373.6L264.2 371.7L266.8 366.5L266.3 364.3L270.4 362.0L272.1 358.9L274.0 355.5L279.8 353.1L281.3 351.3L282.1 348.3L284.0 345.7L287.1 341.6L288.6 339.6L290.9 335.5L294.3 334.3L296.0 331.5L299.2 328.8L303.6 326.4L308.0 323.5L313.0 323.9L317.2 327.3L317.3 333.7L313.3 335.2L308.7 338.3L306.9 340.3L303.0 344.4L301.4 347.5L300.7 351.0L299.4 354.8L296.9 356.7L294.1 360.2L291.9 364.9L290.8 369.2L290.9 373.0L288.3 377.0L287.9 380.8L285.3 383.6L281.6 387.5L282.2 391.1L282.7 395.8L282.6 399.2L278.9 402.5L275.8 406.2L272.6 406.2L268.6 404.3L264.7 403.7L260.5 404.0L255.5 403.9L251.0 404.6L244.6 406.4L241.5 406.2L237.0 404.9L231.7 404.9L226.0 400.5L226.7 396.2Z" fill="#1818dc" />
<path d="M279.0 437.1L283.8 436.6L288.8 436.1L292.1 434.7L291.7 438.8L291.7 443.2L290.0 446.4L288.8 450.6L287.9 453.8L285.2 458.1L283.5 461.9L281.6 459.2L280.9 455.7L280.8 452.3L279.7 449.2L278.4 444.4L279.3 440.8Z" fill="#1818dc" />
<path d="M163.1 440.9L167.4 437.8L170.3 436.5L173.9 435.7L176.1 433.6L179.6 431.4L182.7 429.9L185.9 429.1L188.8 431.1L184.6 434.7L181.7 436.2L177.9 438.4L173.5 440.1L168.6 439.8Z" fill="#1818dc" />
<path d="M185.4 419.2L188.9 417.3L191.6 414.9L194.9 413.6L196.4 410.3L200.1 409.6L201.9 406.0L205.8 405.2L207.6 401.6L210.8 400.9L212.7 397.6L216.5 396.1L219.3 393.7L220.8 392.1L224.5 389.7L226.4 386.5L230.3 385.4L231.4 381.7L234.2 380.5L237.1 377.4L240.3 376.6L243.0 372.8L245.1 371.0L248.2 368.7L250.4 366.7L253.4 364.2L255.9 362.7L259.8 360.1L261.3 358.0L264.0 355.3L267.1 354.5L269.4 351.5L272.1 349.1L276.5 347.7L278.3 344.5L280.7 342.8L283.7 340.1L285.7 338.8L290.1 336.9L289.3 338.4L286.0 344.6L285.2 346.9L284.7 351.9L282.9 355.6L281.7 360.1L282.3 363.5L282.4 366.8L281.2 371.8L278.4 376.5L274.6 374.8L274.7 370.1L275.9 366.1L276.4 360.8L277.1 357.0L273.2 355.0L272.0 358.4L268.9 361.8L266.4 363.1L266.2 368.1L265.3 371.1L263.3 373.8L262.9 377.9L259.3 382.2L258.1 386.3L255.1 389.3L252.1 392.9L248.2 397.8L245.4 398.6L241.4 399.0L241.4 394.7L243.0 389.7L241.2 386.4L238.8 383.6L233.8 387.1L230.2 388.9L226.8 391.2L224.9 395.1L221.6 397.2L219.7 402.1L215.9 404.6L212.9 407.8L208.8 409.2L205.6 411.8L201.4 412.7L195.7 413.2L191.8 415.4L189.3 416.9Z" fill="#ffe400" stroke="#000" stroke-width="1.15" stroke-linejoin="round"/>
<path d="M247.5 370.3L249.2 367.6L253.2 366.3L256.6 363.5L259.0 360.9L263.8 364.1L260.7 365.8L259.3 369.6L257.0 372.0L253.8 373.7L250.9 372.5Z" fill="#ff9a10" />
<path d="M285.6 399.8L286.3 394.8L287.0 392.1L287.5 387.7L288.8 383.6L291.1 380.5L292.8 375.8L293.6 373.0L294.8 368.3L296.5 365.8L298.3 362.2L299.7 358.1L301.1 353.7L302.7 350.0L301.8 345.8L301.5 341.8L306.0 343.6L307.7 348.6L309.2 354.2L307.0 357.4L306.1 359.8L304.3 363.6L303.1 368.4L303.1 373.5L300.7 376.8L300.4 381.3L298.0 385.1L297.1 390.3L294.7 392.8L291.8 396.9L289.2 398.7Z" fill="#ffe400" stroke="#000" stroke-width="1.15" stroke-linejoin="round"/>
<path d="M291.4 380.4L292.9 377.0L294.2 373.6L295.6 370.9L296.6 367.9L298.2 363.9L301.0 358.4L302.6 363.9L300.9 367.7L300.9 371.0L299.8 374.8L298.5 377.7L297.6 381.6L294.6 383.7Z" fill="#ff9a10" />
<path d="M307.3 321.6L310.3 319.3L314.9 316.6L318.8 314.4L319.2 318.3L320.0 322.2L321.0 326.4L321.4 329.6L322.3 334.8L324.4 340.9L319.6 344.0L318.1 340.7L316.9 337.3L316.5 334.0L315.0 330.1L312.5 326.4L310.4 324.6Z" fill="#ff7a10" stroke="#000" stroke-width="1.15" stroke-linejoin="round"/>
<path d="M316.7 335.8L323.3 337.0L324.4 343.7L318.0 344.2Z" fill="#ffe400" stroke="#000" stroke-width="1.15" stroke-linejoin="round"/>
<path d="M313.0 353.6L316.7 354.8L316.4 361.4L316.0 367.7L312.4 366.4L312.6 360.4Z" fill="#ffe400" stroke="#000" stroke-width="1.15" stroke-linejoin="round"/>
<path d="M247.4 421.7L249.9 417.4L252.3 412.6L254.9 407.9L257.0 409.7L253.8 416.8L250.9 423.1Z" fill="#ffe400" stroke="#000" stroke-width="1.15" stroke-linejoin="round"/>
<path d="M280.4 403.1L284.8 403.0L285.7 408.3L281.1 408.7Z" fill="#ffe400" stroke="#000" stroke-width="1.15" stroke-linejoin="round"/>
<path d="M175.0 434.9L178.5 430.6L182.0 426.3L183.9 428.3L181.1 432.2L177.6 436.4Z" fill="#ffe400" stroke="#000" stroke-width="1.15" stroke-linejoin="round"/>
<path d="M299.8 331.9L302.9 331.9L303.4 336.3L299.4 335.8Z" fill="#ffe400" stroke="#000" stroke-width="1.15" stroke-linejoin="round"/>
<path d="M325.6 309.3L328.3 307.2L330.9 305.0L333.5 303.3L333.7 306.9L335.5 309.8L338.3 313.5L339.6 316.2L340.5 319.4L342.0 322.7L344.3 326.3L344.4 330.7L344.8 335.3L345.9 338.9L345.7 341.6L346.2 346.7L348.0 349.2L348.5 353.9L348.4 358.0L349.2 361.4L348.5 366.0L348.7 369.2L348.0 373.7L348.1 377.6L347.8 380.4L344.9 378.5L342.1 375.8L341.6 372.7L340.8 368.3L340.1 364.7L340.0 361.4L339.7 357.2L339.9 354.7L338.5 350.2L338.0 346.9L337.5 343.0L334.6 338.7L333.8 336.0L334.2 331.8L332.0 327.7L330.8 324.0L329.4 320.5L327.8 318.0L327.1 314.0Z" fill="#4a70ff" stroke="#000" stroke-width="1.15" stroke-linejoin="round"/>
<path d="M332.1 310.5L333.5 307.6L336.3 308.9L335.0 311.8ZM344.0 344.6L345.1 342.1L347.6 343.3L346.4 345.7ZM332.8 333.0L334.5 329.4L338.1 331.0L336.4 334.7ZM344.4 369.3L345.9 366.0L349.2 367.5L347.7 370.8ZM340.5 364.8L342.8 359.8L345.3 361.0L343.0 366.0ZM340.1 357.2L341.8 353.6L343.6 354.4L341.9 358.0ZM325.1 312.7L330.1 302.0L333.7 303.7L328.7 314.3ZM339.5 353.1L342.0 347.8L344.6 349.1L342.1 354.3ZM336.3 316.6L337.4 314.2L339.9 315.3L338.7 317.8ZM340.9 335.7L342.6 332.2L346.1 333.8L344.5 337.3ZM335.7 327.2L336.8 324.8L339.2 325.9L338.1 328.3ZM338.4 344.0L339.9 341.0L342.9 342.4L341.5 345.4ZM330.7 307.0L332.9 302.2L335.3 303.3L333.0 308.1ZM339.2 340.7L341.7 335.3L344.4 336.6L341.9 341.9ZM337.7 344.9L339.2 341.8L342.3 343.3L340.9 346.4ZM334.5 314.8L337.2 308.9L339.2 309.8L336.4 315.7ZM339.3 345.8L340.2 343.9L342.2 344.8L341.3 346.7ZM336.7 335.9L338.3 332.4L341.8 334.0L340.2 337.5Z" fill="#b8ccff"/>
<path d="M318.2 360.8L321.9 358.7L325.9 356.1L329.2 353.1L332.3 356.4L334.5 360.7L336.0 364.6L338.1 367.3L341.2 370.8L342.9 373.2L345.4 377.2L341.5 380.8L339.0 383.0L336.1 386.0L333.1 389.9L328.1 387.7L325.1 384.6L322.4 381.2L320.4 377.7L319.5 375.0L318.4 369.7L318.7 366.1Z" fill="#4a70ff" stroke="#000" stroke-width="1.15" stroke-linejoin="round"/>
<path d="M325.8 316.8L331.7 312.6L332.1 317.5L333.9 320.1L335.5 324.8L336.1 328.5L337.3 332.1L339.2 334.4L340.7 338.0L337.7 343.0L337.4 346.3L335.7 344.1L333.6 340.1L331.4 336.6L329.9 333.1L328.4 329.1L327.5 325.4L326.9 320.5Z" fill="#dcdcdc" stroke="#000" stroke-width="1.15" stroke-linejoin="round"/>
<path d="M353.1 287.1L355.8 286.8L358.3 286.9L363.7 287.2L367.6 288.4L369.6 290.1L370.7 294.0L373.6 299.0L375.5 301.2L375.1 304.5L378.1 309.0L377.6 311.0L378.6 315.4L380.8 317.9L380.9 321.2L381.7 325.2L382.6 329.5L384.8 333.2L386.4 337.1L387.1 341.1L388.9 342.8L389.2 347.4L391.1 350.8L393.8 355.8L395.4 358.7L397.4 362.1L399.2 365.7L401.8 370.2L400.7 373.1L402.6 376.5L401.0 380.8L402.3 384.0L401.4 386.3L401.4 391.0L403.8 395.2L395.4 392.4L394.0 387.8L395.3 385.5L392.7 380.6L393.0 378.6L390.7 374.8L388.3 373.0L386.4 368.5L383.8 366.5L383.1 361.6L383.5 358.6L383.2 353.6L379.9 349.4L376.2 348.4L375.3 344.3L373.0 340.8L372.3 337.7L371.5 334.0L368.9 329.4L369.1 323.9L369.2 320.4L367.9 315.9L365.6 312.7L362.1 310.0L360.4 307.0L357.8 305.9L357.3 301.0L355.1 297.1L353.9 295.2L353.7 292.1Z" fill="#80d880" stroke="#000" stroke-width="1.15" stroke-linejoin="round"/>
<path d="M348.7 339.3L353.1 338.3L359.6 337.2L363.0 337.1L367.4 338.0L370.7 339.4L370.4 345.6L369.5 349.6L365.5 351.5L360.1 350.1L356.0 350.8L354.2 348.2L351.3 346.9L348.8 342.1Z" fill="#80d880" stroke="#000" stroke-width="1.15" stroke-linejoin="round"/>
<path d="M393.5 394.2L397.6 395.8L401.3 395.5L400.1 399.9L400.7 404.4L399.4 408.3L396.2 412.6L394.5 416.1L391.5 411.3L392.9 407.0L391.8 403.5L393.6 398.5Z" fill="#80d880" stroke="#000" stroke-width="1.15" stroke-linejoin="round"/>
<path d="M370.3 278.1L373.3 278.4L377.2 280.5L380.5 281.2L383.5 282.2L387.8 284.5L391.2 286.0L392.0 289.0L392.7 292.2L393.7 296.2L391.0 295.0L387.7 293.4L383.6 289.6L379.6 287.8L375.5 285.4L371.7 283.7Z" fill="#80d880" stroke="#000" stroke-width="1.15" stroke-linejoin="round"/>
<path d="M355.2 297.8L357.6 302.6L358.4 306.4L361.1 310.4L360.6 314.0L362.0 317.1L362.9 320.1L364.3 323.7L365.9 327.3L362.6 329.1L361.0 324.7L360.0 321.0L358.7 316.8L357.7 313.8L354.8 309.7L353.7 305.5L352.4 301.6Z" fill="#d0d0d0" stroke="#000" stroke-width="1.15" stroke-linejoin="round"/>
<path d="M362.1 297.9L364.9 300.0L367.0 301.4L368.4 304.7L370.0 307.9L371.0 310.9L371.4 313.5L372.2 316.9L373.5 319.7L370.1 321.1L369.4 318.1L367.8 315.4L365.9 311.6L364.2 307.7L364.0 304.2L363.5 301.1Z" fill="#d2d2d2" stroke="#000" stroke-width="1.00" stroke-linejoin="round"/>
<path d="M372.2 329.8L375.4 332.3L377.6 333.9L377.9 336.7L379.1 339.1L380.7 341.7L381.9 344.8L382.4 347.4L384.1 350.8L381.0 351.9L379.7 349.5L378.0 346.0L376.7 343.8L374.6 340.6L374.4 337.4L373.3 333.7Z" fill="#d2d2d2" stroke="#000" stroke-width="1.00" stroke-linejoin="round"/>
<path d="M384.3 360.8L389.3 362.3L390.9 364.9L391.6 368.5L392.8 371.6L394.4 374.9L395.7 378.0L393.1 379.9L390.3 376.5L388.4 373.6L386.7 371.4L385.6 367.7L384.8 363.8Z" fill="#d2d2d2" stroke="#000" stroke-width="1.00" stroke-linejoin="round"/>
<path d="M357.1 291.2L362.0 290.7L364.5 295.0L359.7 295.7Z" fill="#d2d2d2" stroke="#000" stroke-width="1.00" stroke-linejoin="round"/>
<path d="M393.8 380.9L399.9 382.3L399.6 387.3L400.7 391.2L396.5 390.7L395.4 386.7L394.7 384.1Z" fill="#d2d2d2" stroke="#000" stroke-width="1.00" stroke-linejoin="round"/>
<path d="M322.8 369.5L323.0 368.6L324.0 367.7L324.8 367.6L324.7 368.5L323.7 369.4Z" fill="#000" />
<path d="M325.7 369.3L325.1 369.9L324.2 369.6L324.2 368.9L325.1 368.6Z" fill="#80d880" />
<path d="M343.5 495.6L343.2 494.9L343.6 493.9L344.3 493.6L344.6 494.3L344.2 495.3Z" fill="#000" />
<path d="M412.0 298.8L411.2 298.9L410.3 298.1L410.3 297.2L411.1 297.2L412.0 298.0Z" fill="#000" />
<path d="M362.5 295.3L361.6 294.9L361.0 293.6L361.3 292.6L362.3 293.0L362.9 294.4Z" fill="#000" />
<path d="M363.8 294.7L363.2 295.3L362.3 295.1L362.3 294.3L363.2 294.0Z" fill="#80d880" />
<path d="M407.6 341.3L406.9 341.8L406.2 341.4L406.1 340.6L406.8 340.1L407.5 340.5Z" fill="#000" />
<path d="M408.7 341.6L408.1 342.3L407.2 342.0L407.2 341.2L408.1 341.0Z" fill="#80d880" />
<path d="M392.7 340.8L392.2 340.2L392.6 339.6L393.3 339.6L393.8 340.2L393.4 340.8Z" fill="#000" />
<path d="M394.9 340.9L394.3 341.5L393.3 341.3L393.3 340.5L394.3 340.2Z" fill="#80d880" />
<path d="M373.1 312.1L372.5 312.4L371.9 312.0L372.0 311.3L372.6 311.0L373.2 311.4Z" fill="#000" />
<path d="M374.4 312.4L373.8 313.0L372.9 312.8L372.9 312.0L373.8 311.8Z" fill="#80d880" />
<path d="M393.3 289.2L392.5 289.2L391.8 288.3L391.9 287.4L392.7 287.5L393.4 288.4Z" fill="#000" />
<path d="M394.5 289.0L393.9 289.6L392.9 289.4L392.9 288.6L393.9 288.3Z" fill="#80d880" />
<path d="M375.7 391.8L375.8 391.0L376.4 390.7L377.0 391.1L377.0 391.9L376.4 392.2Z" fill="#000" />
<path d="M378.2 392.1L377.6 392.8L376.7 392.5L376.7 391.7L377.6 391.5Z" fill="#80d880" />
<path d="M323.5 317.6L322.6 318.0L321.3 317.6L320.8 316.8L321.7 316.3L323.0 316.7Z" fill="#000" />
<path d="M324.0 317.8L323.4 318.5L322.5 318.2L322.5 317.5L323.4 317.2Z" fill="#80d880" />
<path d="M416.6 371.4L415.7 371.4L415.2 370.6L415.6 369.8L416.5 369.7L417.0 370.6Z" fill="#000" />
<path d="M357.3 350.3L356.7 350.8L356.0 350.5L356.0 349.7L356.6 349.2L357.3 349.5Z" fill="#000" />
<path d="M358.5 350.7L357.9 351.3L357.0 351.1L357.0 350.3L357.9 350.0Z" fill="#80d880" />
<path d="M353.8 358.5L354.0 357.5L355.3 356.7L356.3 356.9L356.0 357.9L354.8 358.7Z" fill="#000" />
<path d="M356.9 358.4L356.3 359.0L355.4 358.8L355.4 358.0L356.3 357.7Z" fill="#80d880" />
<path d="M401.1 442.0L400.6 442.6L399.8 442.4L399.6 441.6L400.1 441.1L400.9 441.2Z" fill="#000" />
<path d="M402.2 442.5L401.6 443.1L400.7 442.9L400.7 442.1L401.6 441.9Z" fill="#80d880" />
<path d="M385.6 461.2L384.6 461.3L384.0 460.4L384.3 459.5L385.2 459.5L385.8 460.3Z" fill="#000" />
<path d="M388.8 409.7L388.6 408.8L389.2 407.7L390.2 407.5L390.5 408.4L389.8 409.5Z" fill="#000" />
<path d="M391.4 409.3L390.8 409.9L389.8 409.7L389.8 408.9L390.8 408.6Z" fill="#80d880" />
<path d="M358.9 341.2L358.1 341.2L357.6 340.5L357.7 339.8L358.4 339.8L359.0 340.5Z" fill="#000" />
<path d="M360.2 341.2L359.6 341.8L358.6 341.6L358.6 340.8L359.6 340.5Z" fill="#80d880" />
<path d="M324.8 343.0L324.1 342.8L323.6 341.9L323.8 341.2L324.6 341.4L325.1 342.3Z" fill="#000" />
<path d="M324.9 414.3L324.2 414.8L323.6 414.5L323.6 413.6L324.2 413.1L324.9 413.4Z" fill="#000" />
<path d="M316.7 425.0L316.0 424.4L315.9 423.2L316.5 422.5L317.2 423.1L317.3 424.3Z" fill="#000" />
<path d="M318.5 424.4L317.9 425.1L316.9 424.8L316.9 424.0L317.9 423.8Z" fill="#80d880" />
<path d="M329.6 401.1L328.9 401.7L327.5 401.6L326.9 400.9L327.6 400.2L329.0 400.3Z" fill="#000" />
<path d="M411.3 378.5L410.8 377.9L411.1 377.1L411.8 376.9L412.3 377.4L412.1 378.3Z" fill="#000" />
<path d="M322.0 490.5L321.0 490.5L320.1 489.6L320.2 488.6L321.2 488.6L322.1 489.5Z" fill="#000" />
<path d="M391.1 427.6L390.3 427.7L389.6 426.9L389.6 426.1L390.4 426.1L391.2 426.9Z" fill="#000" />
<path d="M403.1 354.2L402.4 353.7L402.5 353.0L403.4 352.7L404.1 353.2L403.9 353.9Z" fill="#000" />
<path d="M329.4 421.0L328.4 420.8L328.3 419.9L329.0 419.3L329.9 419.6L330.1 420.4Z" fill="#000" />
<path d="M318.0 409.7L317.6 408.9L318.1 408.2L319.0 408.3L319.4 409.1L318.9 409.8Z" fill="#000" />
<path d="M391.6 288.0L391.0 287.9L390.6 287.2L390.9 286.6L391.5 286.7L391.9 287.4Z" fill="#000" />
<path d="M393.1 288.0L392.5 288.6L391.6 288.4L391.6 287.6L392.5 287.3Z" fill="#80d880" />
<path d="M392.1 302.2L391.3 302.3L390.9 301.6L391.3 300.9L392.1 300.8L392.5 301.5Z" fill="#000" />
<path d="M349.7 288.8L349.5 288.1L349.8 286.9L350.4 286.4L350.7 287.1L350.3 288.3Z" fill="#000" />
<path d="M351.9 288.3L351.4 288.9L350.4 288.7L350.4 287.9L351.4 287.6Z" fill="#80d880" />
<path d="M379.6 359.6L379.2 358.5L379.9 357.2L380.9 356.9L381.3 357.9L380.7 359.2Z" fill="#000" />
<path d="M408.2 438.6L407.5 439.2L406.6 438.8L406.5 437.9L407.2 437.4L408.1 437.7Z" fill="#000" />
<path d="M409.2 438.9L408.6 439.6L407.7 439.3L407.7 438.5L408.6 438.3Z" fill="#80d880" />
<path d="M317.9 371.8L317.9 370.8L318.8 370.4L319.6 370.9L319.6 371.9L318.7 372.3Z" fill="#000" />
<path d="M320.6 372.0L320.0 372.7L319.1 372.4L319.1 371.6L320.0 371.4Z" fill="#80d880" />
<path d="M344.8 484.3L345.2 483.5L346.3 483.2L347.0 483.7L346.6 484.5L345.5 484.8Z" fill="#000" />
<path d="M347.8 484.7L347.2 485.3L346.2 485.1L346.2 484.3L347.2 484.0Z" fill="#80d880" />
<path d="M332.0 427.8L331.4 427.3L331.3 426.1L331.8 425.5L332.4 426.0L332.5 427.2Z" fill="#000" />
<path d="M411.8 338.4L411.5 337.7L411.7 336.6L412.3 336.1L412.7 336.8L412.5 337.9Z" fill="#000" />
<path d="M415.4 494.7L414.9 495.5L414.2 495.4L413.8 494.6L414.3 493.8L415.1 493.8Z" fill="#000" />
<path d="M416.5 495.3L415.9 495.9L414.9 495.7L414.9 494.9L415.9 494.7Z" fill="#80d880" />
<path d="M309.0 332.9L308.2 333.6L306.8 333.3L306.3 332.3L307.2 331.6L308.5 331.9Z" fill="#000" />
<path d="M309.6 333.3L309.0 333.9L308.0 333.7L308.0 332.9L309.0 332.7Z" fill="#80d880" />
<path d="M327.7 401.0L327.1 401.3L326.5 400.9L326.5 400.3L327.0 400.0L327.6 400.4Z" fill="#000" />
<path d="M328.9 401.3L328.3 402.0L327.4 401.7L327.4 400.9L328.3 400.7Z" fill="#80d880" />
<path d="M372.9 471.6L372.3 472.1L371.5 471.9L371.3 471.1L371.9 470.7L372.7 470.9Z" fill="#000" />
<path d="M374.0 472.1L373.4 472.7L372.4 472.5L372.4 471.7L373.4 471.4Z" fill="#80d880" />
<path d="M376.8 444.4L376.0 444.3L374.9 443.4L374.7 442.5L375.6 442.6L376.6 443.6Z" fill="#000" />
<path d="M363.5 403.8L362.8 403.8L362.5 403.2L362.9 402.6L363.5 402.7L363.8 403.3Z" fill="#000" />
<path d="M342.2 336.3L342.4 335.4L343.3 335.0L344.1 335.5L343.9 336.4L342.9 336.8Z" fill="#000" />
<path d="M407.6 329.7L406.8 330.1L405.5 329.6L405.2 328.7L406.1 328.3L407.3 328.8Z" fill="#000" />
<path d="M343.7 404.6L350.6 401.6L352.6 404.7L352.9 408.2L355.0 411.9L355.3 416.6L354.0 419.9L354.4 425.1L352.9 429.5L349.3 430.0L343.7 431.5L339.5 430.0L336.2 429.4L332.6 429.4L334.8 423.4L338.8 422.3L341.9 421.7L345.6 420.7L345.5 416.4L344.7 411.3L344.9 408.5Z" fill="#80d880" stroke="#000" stroke-width="1.15" stroke-linejoin="round"/>
<path d="M317.9 411.0L324.0 409.7L325.7 412.9L326.2 416.4L326.6 420.7L325.3 426.4L321.4 427.7L317.0 430.8L311.2 429.6L306.6 430.1L305.8 422.3L310.6 423.2L316.4 420.8L316.4 417.5L319.0 415.3Z" fill="#80d880" stroke="#000" stroke-width="1.15" stroke-linejoin="round"/>
<path d="M310.4 444.0L311.4 443.8L313.2 442.7L315.6 439.3L320.4 439.7L322.8 441.0L327.8 439.4L328.9 442.2L333.9 443.3L335.3 441.8L339.7 441.4L344.1 441.6L341.7 445.4L342.8 448.1L342.1 450.9L343.8 454.8L342.8 456.3L342.6 459.5L340.1 461.2L336.7 463.4L334.4 466.1L331.0 466.6L327.7 465.9L323.0 463.9L320.1 463.7L316.3 464.4L314.4 466.2L311.8 466.9L310.3 463.4L311.3 461.7L311.9 459.5L311.9 456.7L312.8 451.8L310.1 448.7Z" fill="#80d880" stroke="#000" stroke-width="1.15" stroke-linejoin="round"/>
<path d="M318.9 461.3L327.4 454.7L329.6 457.5L321.2 464.2ZM322.2 458.5L325.8 455.6L328.7 459.3L325.0 462.1ZM310.9 459.6L313.2 457.8L314.9 460.1L312.7 461.8ZM326.5 459.2L329.7 456.7L332.2 459.9L329.0 462.4ZM322.3 448.8L328.8 443.7L331.4 447.0L324.8 452.1ZM317.9 444.8L319.7 443.4L321.1 445.2L319.3 446.6ZM317.5 453.2L323.9 448.3L326.3 451.4L320.0 456.4ZM335.7 463.1L337.6 461.6L339.1 463.5L337.2 465.1ZM328.8 443.6L334.3 439.2L336.5 442.0L331.0 446.3ZM339.5 448.6L342.1 446.6L344.2 449.2L341.6 451.2ZM326.1 459.1L328.4 457.3L330.2 459.6L327.9 461.4ZM323.5 460.5L326.9 457.8L329.5 461.2L326.1 463.9ZM322.0 446.6L326.8 442.9L328.6 445.3L323.9 449.0ZM338.1 460.3L342.9 456.5L344.8 458.9L340.0 462.6Z" fill="#d4d4d4"/>
<path d="M342.5 442.9L342.4 444.1L341.1 444.5L339.0 445.4L338.4 445.3L337.5 443.3L337.9 443.0L339.8 441.5L341.2 441.8L341.5 443.1Z" fill="#4a70ff" />
<path d="M337.8 456.6L337.2 457.5L335.6 458.8L333.8 457.6L332.3 457.6L332.9 456.4L332.0 454.8L333.5 454.1L335.5 455.1L337.1 455.7Z" fill="#4a70ff" />
<path d="M319.4 444.2L317.5 444.2L316.7 445.6L315.6 445.4L314.8 444.8L314.5 443.0L314.6 443.4L315.8 441.4L317.7 442.8L317.9 442.6Z" fill="#b8ccff" />
<path d="M211.2 445.3L215.3 442.3L218.5 438.0L221.4 435.7L224.8 432.1L229.0 433.4L227.6 437.4L224.5 440.6L221.1 443.5L217.5 446.8Z" fill="#80d880" stroke="#000" stroke-width="1.15" stroke-linejoin="round"/>
<path d="M245.7 447.5L249.2 445.1L251.3 444.2L257.5 449.0L256.4 453.5L254.5 457.2L250.2 458.5L246.3 458.6L244.3 454.0Z" fill="#80d880" stroke="#000" stroke-width="1.15" stroke-linejoin="round"/>
<path d="M229.4 448.6L234.1 448.5L233.1 454.4L229.4 452.5Z" fill="#80d880" stroke="#000" stroke-width="1.15" stroke-linejoin="round"/>
<path d="M249.6 480.1L254.3 480.8L253.3 484.8L249.4 484.7Z" fill="#80d880" stroke="#000" stroke-width="1.15" stroke-linejoin="round"/>
<path d="M256.1 481.5L261.5 480.0L265.8 480.7L264.9 485.1L260.9 485.2L256.4 486.5Z" fill="#80d880" stroke="#000" stroke-width="1.15" stroke-linejoin="round"/>
<path d="M209.9 492.1L215.9 490.8L217.2 495.9L210.8 495.9Z" fill="#80d880" stroke="#000" stroke-width="1.15" stroke-linejoin="round"/>
<path d="M237.2 495.9L240.2 494.5L244.6 493.7L248.0 494.0L250.4 499.9L247.5 503.7L243.0 502.7L238.9 502.4L238.0 499.1Z" fill="#80d880" stroke="#000" stroke-width="1.15" stroke-linejoin="round"/>
<path d="M320.0 472.1L324.6 472.2L327.8 473.1L328.5 477.6L323.9 477.5L320.0 477.6Z" fill="#80d880" stroke="#000" stroke-width="1.15" stroke-linejoin="round"/>
<path d="M264.5 502.8L267.3 503.4L272.2 502.7L276.3 502.4L276.7 509.4L273.9 509.5L269.8 509.7L266.9 508.8L263.0 508.4Z" fill="#80d880" stroke="#000" stroke-width="1.15" stroke-linejoin="round"/>
<path d="M232.3 425.3L234.7 425.1L239.0 423.4L240.3 428.9L237.4 430.6L233.8 431.8Z" fill="#80d880" stroke="#000" stroke-width="1.15" stroke-linejoin="round"/>
<path d="M248.2 434.9L255.2 434.0L256.1 437.9L249.4 439.3Z" fill="#80d880" stroke="#000" stroke-width="1.15" stroke-linejoin="round"/>
<path d="M142.8 451.3L149.1 450.7L149.1 454.1L148.9 458.6L149.1 462.0L143.2 463.7L142.7 458.6L143.0 454.8Z" fill="#8ab4ff" stroke="#000" stroke-width="1.15" stroke-linejoin="round"/>
<path d="M408.6 244.0L411.0 240.8L414.0 238.4L418.3 236.2L420.6 234.6L424.3 231.7L425.6 230.0L428.4 227.6L432.8 224.4L436.0 223.0L438.6 220.4L442.1 217.8L445.4 215.5L450.1 211.9L451.5 209.1L457.7 210.5L457.3 213.4L457.9 218.5L454.6 221.0L453.1 226.0L453.2 230.5L455.4 231.9L458.1 235.2L460.9 239.0L461.6 241.1L458.1 244.8L455.1 248.8L452.5 246.9L449.2 243.6L446.1 247.8L444.1 250.6L439.6 249.3L434.7 247.3L432.0 244.6L426.6 241.6L423.9 246.5L420.3 248.6L416.5 250.9L413.8 254.0L408.7 248.4Z" fill="#4a70ff" stroke="#000" stroke-width="1.15" stroke-linejoin="round"/>
<path d="M435.0 238.7L436.6 236.9L438.4 238.4L436.9 240.2ZM419.8 241.3L424.1 236.2L426.6 238.3L422.4 243.4ZM410.1 245.1L411.9 243.0L414.0 244.8L412.2 246.9ZM448.7 219.2L450.6 216.9L452.8 218.8L451.0 221.1ZM443.8 242.6L450.9 234.2L453.7 236.6L446.6 245.0ZM450.7 241.4L452.2 239.6L454.0 241.1L452.5 242.9ZM438.5 229.4L443.4 223.5L446.4 226.0L441.4 231.9ZM434.0 231.3L438.5 225.9L441.2 228.2L436.7 233.5ZM419.9 238.7L421.9 236.4L424.3 238.3L422.3 240.7ZM439.3 244.1L445.4 236.8L447.8 238.9L441.7 246.1ZM446.1 237.7L448.4 234.9L451.1 237.2L448.8 240.0ZM429.5 230.3L431.1 228.3L433.1 229.9L431.4 231.9ZM440.7 218.8L442.5 216.7L444.5 218.4L442.8 220.5ZM445.8 221.6L450.9 215.4L454.0 218.0L448.8 224.2ZM438.1 221.7L440.9 218.4L442.6 219.8L439.8 223.1ZM416.8 248.6L419.7 245.1L421.5 246.5L418.5 250.0ZM455.0 238.5L456.3 237.0L457.8 238.3L456.5 239.8ZM414.5 241.2L419.1 235.7L421.0 237.2L416.3 242.7ZM416.7 250.7L420.8 245.9L423.2 248.0L419.1 252.8ZM433.3 248.0L436.4 244.4L438.2 245.9L435.1 249.6ZM440.9 225.6L443.3 222.7L446.2 225.1L443.8 228.1ZM450.4 220.8L452.9 217.8L456.0 220.3L453.4 223.4Z" fill="#b8ccff"/>
<path d="M432.9 239.6L435.4 236.7L438.2 239.1L435.8 242.0ZM430.6 227.2L432.9 224.4L435.7 226.8L433.4 229.6ZM451.3 225.0L453.2 222.7L455.5 224.6L453.6 227.0ZM441.7 226.6L446.3 221.2L449.0 223.5L444.4 228.9ZM433.2 243.3L435.0 241.2L437.1 243.0L435.3 245.1ZM424.7 231.6L428.9 226.6L431.4 228.7L427.2 233.7ZM444.2 229.2L446.6 226.3L449.5 228.7L447.1 231.7ZM419.2 244.3L422.5 240.4L424.4 242.0L421.1 245.9ZM424.4 233.3L426.0 231.5L427.8 233.1L426.3 234.9ZM440.8 225.7L443.1 222.9L445.9 225.3L443.6 228.0ZM440.9 240.4L442.9 238.0L445.3 240.0L443.3 242.4ZM425.7 235.1L432.1 227.5L434.6 229.6L428.3 237.2Z" fill="#1818dc"/>
<path d="M421.4 245.2L424.0 242.0L425.6 243.3L422.9 246.5ZM450.2 239.7L455.8 233.0L458.1 234.9L452.4 241.6ZM451.4 236.2L455.8 230.9L457.5 232.4L453.2 237.6ZM416.5 238.8L420.9 233.6L422.6 235.1L418.3 240.2ZM419.8 246.9L421.7 244.6L424.0 246.5L422.1 248.8ZM454.2 241.8L456.3 239.2L458.8 241.4L456.7 243.9ZM449.9 219.6L452.5 216.5L455.5 219.1L453.0 222.1ZM441.8 246.1L443.8 243.6L446.3 245.7L444.2 248.1Z" fill="#80d880"/>
<path d="M420.6 232.2L423.9 230.0L428.1 228.1L431.9 225.1L433.4 229.8L435.5 235.3L431.3 235.7L427.4 236.9L423.6 234.6Z" fill="#ff9a10" stroke="#000" stroke-width="1.15" stroke-linejoin="round"/>
<path d="M441.9 223.4L446.9 223.2L451.2 224.2L447.6 229.3L444.9 225.8Z" fill="#ff9a10" stroke="#000" stroke-width="1.15" stroke-linejoin="round"/>
<path d="M440.5 236.0L444.0 236.5L447.8 236.3L452.0 238.6L455.6 241.0L454.6 242.5L450.5 241.2L446.4 239.3L440.4 238.0Z" fill="#ffe400" stroke="#000" stroke-width="1.15" stroke-linejoin="round"/>
<path d="M476.8 189.6L481.0 187.3L486.0 184.5L485.7 188.6L486.0 191.6L485.3 194.6L484.9 198.0L485.5 202.3L485.6 206.4L481.4 204.8L479.2 198.4L477.2 194.2Z" fill="#6aa0ff" stroke="#000" stroke-width="1.15" stroke-linejoin="round"/>
<path d="M482.7 184.6L485.2 183.4L485.9 186.2L486.1 190.2Z" fill="#80d880" />
<path d="M469.5 263.9L468.4 265.2L467.0 266.2L466.1 265.4L465.4 263.7L465.9 261.7L467.4 259.9L468.8 259.5L470.1 259.8L470.1 261.6Z" fill="#b8d0ff" stroke="#000" stroke-width="1.15" stroke-linejoin="round"/>
<path d="M427.0 261.4L427.1 263.0L426.6 264.0L425.2 264.4L423.9 263.6L423.1 262.2L423.1 261.1L424.1 259.9L424.9 259.4L426.3 259.9Z" fill="#b8d0ff" stroke="#000" stroke-width="1.15" stroke-linejoin="round"/>
<path d="M413.3 258.2L412.8 258.5L412.0 258.4L411.3 257.9L410.9 257.2L411.0 256.6L411.5 256.3L412.3 256.4L413.0 256.9L413.4 257.6Z" fill="#000" />
<path d="M416.9 264.2L416.3 264.5L415.5 264.3L414.8 263.8L414.4 263.1L414.5 262.5L415.1 262.2L415.9 262.4L416.6 262.9L417.0 263.6Z" fill="#000" />
<path d="M425.2 254.7L424.6 255.0L423.8 254.9L423.1 254.4L422.7 253.7L422.8 253.0L423.4 252.7L424.2 252.9L424.9 253.4L425.3 254.1Z" fill="#000" />
<path d="M436.4 254.7L435.9 255.0L435.1 254.9L434.4 254.4L434.0 253.7L434.1 253.0L434.6 252.7L435.4 252.9L436.1 253.4L436.5 254.1Z" fill="#000" />
<path d="M438.8 259.4L438.3 259.7L437.5 259.6L436.8 259.1L436.4 258.4L436.5 257.8L437.0 257.5L437.8 257.6L438.5 258.1L438.9 258.8Z" fill="#000" />
<path d="M441.5 263.9L441.0 264.2L440.2 264.1L439.5 263.6L439.1 262.9L439.2 262.3L439.7 262.0L440.5 262.1L441.2 262.6L441.6 263.3Z" fill="#000" />
<path d="M466.7 242.8L466.1 243.1L465.3 243.0L464.6 242.5L464.2 241.8L464.3 241.2L464.9 240.9L465.7 241.0L466.4 241.5L466.8 242.2Z" fill="#000" />
<path d="M473.8 244.2L473.2 244.5L472.5 244.4L471.7 243.9L471.4 243.2L471.5 242.6L472.0 242.3L472.8 242.4L473.5 242.9L473.9 243.6Z" fill="#000" />
<path d="M378.6 465.6L382.7 461.9L383.0 456.6L385.2 453.9L389.5 452.1L392.3 450.2L392.7 448.5L398.2 447.2L398.9 441.5L397.4 438.6L400.5 434.5L401.0 429.8L406.5 432.9L408.9 436.8L410.7 435.9L415.0 438.3L415.6 442.2L418.4 442.4L422.3 441.3L427.6 442.6L429.6 443.0L432.4 445.7L435.6 441.1L437.3 438.4L437.9 432.8L442.8 433.5L444.0 437.3L441.9 439.6L441.4 442.7L439.1 448.4L438.4 451.3L437.2 455.1L434.2 458.3L432.0 460.1L429.3 464.0L424.8 466.2L424.7 469.7L422.6 469.5L422.4 474.5L424.0 477.5L429.2 478.8L429.3 480.3L434.5 478.1L437.1 475.4L439.1 473.7L443.9 473.2L447.3 470.5L451.0 471.5L455.7 471.9L459.0 469.4L460.2 468.4L465.9 466.6L467.3 466.7L470.2 465.9L476.2 467.4L478.7 470.1L481.6 470.9L483.8 470.5L487.6 473.5L487.0 476.3L486.4 478.7L486.6 481.6L485.7 484.2L488.0 485.9L486.5 491.8L487.9 492.8L487.5 497.8L488.0 501.3L486.5 503.9L487.6 506.4L485.6 507.8L487.9 511.5L486.4 515.2L488.3 518.4L486.9 521.9L487.8 524.8L488.3 526.9L485.8 529.9L487.8 534.7L486.9 537.5L487.6 541.6L486.5 544.2L485.8 545.1L487.8 548.7L483.0 548.0L482.3 550.6L478.6 550.4L475.4 550.3L472.0 549.0L467.3 551.1L466.2 549.6L461.2 550.9L459.8 548.5L455.9 550.5L452.4 548.9L448.9 549.5L447.6 550.6L444.1 549.4L442.8 548.0L438.8 550.2L435.2 548.0L432.9 548.3L427.8 550.0L427.3 549.6L423.7 550.5L419.3 549.3L416.5 549.7L412.5 548.2L411.8 548.2L407.5 550.3L404.6 550.3L402.9 549.2L397.0 549.4L394.3 550.0L396.4 546.2L396.1 544.0L394.3 540.2L391.8 537.9L394.9 531.5L393.9 529.6L393.6 523.6L390.3 520.2L388.1 523.8L385.7 524.3L381.8 526.3L378.3 523.7L376.4 522.2L372.5 522.2L369.6 519.4L368.9 516.5L365.4 513.8L360.9 511.5L358.6 510.9L352.5 509.8L349.0 511.7L346.8 507.2L349.0 505.3L354.0 506.1L357.4 505.1L358.9 501.8L362.7 501.0L364.8 497.8L368.3 498.4L370.2 496.6L373.2 493.6L376.9 494.5L377.2 490.6L378.0 485.6L378.3 483.5L378.0 478.5L382.5 477.0L380.6 474.1L380.3 469.9Z" fill="#80d880" stroke="#000" stroke-width="1.15" stroke-linejoin="round"/>
<path d="M382.7 473.3L389.5 472.8L391.8 475.2L396.6 473.9L397.7 470.5L403.3 470.3L407.2 472.8L408.9 475.2L414.7 475.3L416.4 479.1L420.5 480.6L424.1 485.8L428.2 486.0L431.0 488.2L438.8 487.3L441.7 487.3L448.0 485.2L451.5 484.3L455.8 483.5L459.5 484.4L461.3 480.8L465.1 479.5L470.3 478.9L476.0 477.8L480.0 475.8L483.7 476.0L488.2 477.6L486.2 480.8L488.5 484.1L486.1 488.0L486.9 491.9L485.8 495.3L485.9 497.9L488.5 502.2L488.3 504.1L486.6 507.9L485.7 513.0L487.9 516.9L485.8 520.1L487.5 523.2L486.5 526.4L486.6 532.0L486.1 535.6L485.7 537.1L488.1 543.1L486.3 545.7L488.1 550.5L483.2 550.5L481.3 550.3L475.7 549.4L473.6 549.7L468.9 550.9L465.7 550.0L463.9 548.7L457.8 548.3L456.7 550.5L451.2 548.8L449.6 548.2L446.2 550.1L442.3 549.6L437.4 548.5L432.9 549.4L431.8 550.8L428.5 549.3L424.7 549.4L420.1 548.4L417.8 550.2L412.9 550.3L409.2 550.3L406.7 549.3L401.7 549.5L399.8 549.4L396.2 549.9L394.9 544.5L397.3 541.3L396.3 537.1L393.2 535.4L395.9 530.3L394.3 525.6L395.7 522.6L394.5 519.0L395.1 515.0L390.5 514.2L386.8 511.0L381.3 510.0L383.0 503.9L380.8 500.6L381.8 494.8L383.5 491.7L380.4 485.5L379.1 483.1L380.1 478.5L382.3 474.2Z" fill="#c8d4ff" />
<path d="M400.6 474.1L409.0 467.6L412.3 471.7L403.9 478.3ZM383.4 500.2L385.7 498.5L387.4 500.7L385.2 502.4ZM391.6 482.0L398.2 476.8L399.9 479.0L393.3 484.2ZM415.9 474.7L419.9 471.7L422.9 475.6L419.0 478.7ZM402.0 500.4L409.0 495.0L411.7 498.5L404.7 503.9ZM419.5 497.1L423.1 494.3L425.9 497.9L422.3 500.7ZM388.0 509.3L398.5 501.0L401.3 504.5L390.7 512.8ZM387.8 488.2L394.9 482.6L396.7 485.0L389.6 490.5ZM376.5 496.5L384.5 490.3L386.6 492.9L378.6 499.1ZM390.4 509.4L393.2 507.2L395.4 510.0L392.6 512.2ZM392.5 495.9L395.0 493.9L397.0 496.4L394.5 498.4ZM412.3 493.7L424.3 484.4L427.4 488.4L415.4 497.7ZM390.6 503.2L393.9 500.6L396.5 503.9L393.2 506.5ZM412.7 474.4L416.6 471.3L419.7 475.2L415.8 478.3ZM401.3 503.7L403.9 501.7L405.8 504.3L403.3 506.2ZM389.2 497.5L396.0 492.1L398.7 495.5L391.9 500.9ZM382.2 482.6L384.4 480.9L386.1 483.1L383.9 484.8ZM396.1 500.0L400.3 496.8L403.5 501.0L399.4 504.2ZM410.9 493.4L413.5 491.4L415.5 493.9L412.9 496.0ZM399.4 483.0L407.4 476.8L410.5 480.8L402.5 487.0Z" fill="#80d880"/>
<path d="M411.8 455.2L416.0 453.3L419.1 452.6L424.3 450.4L429.1 450.7L433.9 449.3L432.2 453.4L431.9 455.6L427.3 457.9L423.2 459.4L418.9 460.6L415.5 457.8Z" fill="#9cc0ff" />
<path d="M385.1 450.1L389.2 452.0L393.5 452.1L397.3 452.2L397.0 456.1L395.9 460.3L394.7 463.8L390.5 462.4L387.4 461.3L386.5 457.9L385.3 455.2Z" fill="#c8d4ff" />
<path d="M413.1 500.2L415.5 497.6L418.5 497.7L423.0 495.6L426.8 494.3L430.5 491.2L434.7 491.5L436.6 490.5L441.9 489.9L445.5 491.1L446.9 487.5L450.3 488.7L453.7 487.2L459.0 484.6L461.5 484.0L464.2 482.9L468.5 481.9L472.6 481.7L477.2 479.9L479.6 480.0L482.2 481.0L486.7 479.4L486.0 481.4L488.0 487.5L488.1 490.8L485.8 492.0L485.7 495.7L486.3 500.2L487.3 504.5L488.1 505.9L485.8 511.9L487.2 515.3L487.3 517.4L486.1 520.2L485.8 524.2L487.7 529.5L486.8 532.7L485.8 536.7L485.8 538.2L488.0 541.3L487.6 546.6L488.5 550.5L483.5 549.5L481.6 548.9L477.1 548.1L471.8 548.5L470.9 550.1L467.0 550.5L461.7 550.8L459.5 548.2L456.8 548.8L451.7 550.8L447.3 550.7L446.0 549.7L440.1 549.9L437.7 550.2L435.4 549.9L430.1 549.1L425.9 548.1L423.1 548.8L418.8 551.0L416.6 548.7L413.1 549.3L410.5 549.0L406.6 550.4L402.6 550.7L397.8 550.3L395.0 551.0L394.8 545.5L397.5 541.3L394.8 536.9L394.6 531.9L397.1 525.5L396.8 522.3L400.8 518.5L401.2 514.7L403.3 511.6L406.4 510.1L407.3 505.1L408.6 502.4Z" fill="#5c92ff" />
<path d="M396.1 523.1L399.8 519.3L403.3 517.6L406.0 515.0L409.0 514.9L412.6 511.0L416.5 509.6L418.3 509.5L422.0 506.6L425.1 506.9L430.2 504.0L433.4 503.1L435.5 500.9L438.0 496.5L440.9 494.1L444.6 493.4L451.5 493.2L456.1 496.6L459.6 498.3L461.2 494.8L464.7 493.9L466.2 490.9L469.0 489.6L473.0 488.2L477.6 485.1L480.6 483.2L488.4 482.9L487.0 485.6L486.2 491.4L487.8 495.4L483.5 494.3L480.5 494.0L475.9 491.3L473.0 494.6L466.7 498.4L464.1 499.8L460.3 505.3L458.2 505.9L457.5 510.4L452.8 512.6L450.7 514.4L446.5 515.8L442.7 517.9L441.2 521.5L438.5 523.7L437.2 528.1L442.5 531.1L444.4 529.9L447.1 531.3L449.2 536.0L451.5 539.5L449.3 543.7L445.5 546.1L444.6 550.4L440.0 550.3L438.5 550.1L433.6 548.4L430.2 550.7L427.6 549.2L423.2 549.2L420.8 550.0L416.2 550.2L413.1 548.4L409.6 549.8L407.2 550.7L401.8 549.2L399.7 551.0L394.6 549.3L396.6 545.5L395.7 543.0L395.7 539.5L397.2 534.8L395.4 529.2L395.5 525.8Z" fill="#2a3cf0" />
<path d="M417.4 512.7L420.2 509.8L422.6 508.5L425.6 509.0L428.7 508.2L432.9 505.8L437.3 504.6L439.6 504.0L444.7 500.6L448.9 502.0L452.3 502.9L451.0 505.8L448.9 510.2L447.1 512.4L443.4 515.8L440.9 518.2L438.6 520.9L438.8 522.9L435.5 526.0L432.7 530.2L430.5 532.7L429.5 535.3L429.4 538.8L426.5 542.8L423.8 543.8L417.9 545.9L417.1 546.3L411.0 547.3L407.7 549.2L404.0 548.1L403.9 544.4L402.8 540.8L400.6 539.3L398.4 534.6L402.2 533.8L402.6 529.5L407.0 525.1L407.6 524.7L409.5 521.0L412.7 516.4L413.3 513.3Z" fill="#1818dc" />
<path d="M405.8 542.2L415.3 534.7L417.8 537.9L408.3 545.4ZM428.4 540.0L431.5 537.6L433.8 540.7L430.8 543.0ZM394.3 527.0L402.8 520.3L405.0 523.2L396.5 529.8ZM418.8 546.5L427.3 539.9L429.5 542.7L421.0 549.3ZM401.0 532.5L403.0 530.8L404.7 532.9L402.6 534.5ZM428.4 530.1L435.7 524.5L438.5 528.1L431.2 533.8ZM431.3 546.0L433.3 544.5L434.8 546.4L432.9 547.9ZM405.2 522.4L411.3 517.6L413.6 520.6L407.6 525.4ZM419.2 521.5L421.1 520.1L422.5 521.9L420.7 523.3ZM405.5 548.1L408.6 545.7L411.1 548.8L408.0 551.2ZM417.1 530.4L420.1 528.1L422.5 531.1L419.5 533.4ZM423.0 543.8L426.2 541.4L428.7 544.5L425.5 547.0ZM407.1 536.6L412.2 532.6L414.2 535.2L409.1 539.2ZM411.9 548.4L420.9 541.4L423.2 544.4L414.2 551.4ZM398.9 537.6L401.8 535.3L404.1 538.2L401.2 540.5ZM396.4 530.7L401.1 527.0L402.9 529.4L398.3 533.0ZM417.8 550.8L426.7 543.8L429.0 546.8L420.1 553.7ZM419.3 545.9L428.4 538.8L430.8 541.8L421.7 548.9Z" fill="#5c92ff"/>
<path d="M438.4 528.5L440.3 523.9L440.8 522.3L445.1 518.4L448.8 516.7L449.7 513.4L454.3 512.3L457.2 509.4L459.6 506.1L461.0 502.0L463.5 500.3L468.4 496.2L470.4 493.9L476.5 490.8L479.6 491.6L483.4 493.2L487.0 493.3L487.0 495.8L486.5 500.1L486.8 502.6L487.2 508.4L487.9 510.3L487.2 514.1L487.2 517.6L487.6 522.4L487.0 524.0L487.9 528.7L487.1 531.5L486.6 535.4L488.0 539.0L487.6 541.3L487.0 546.5L486.1 548.5L484.1 549.9L479.8 548.9L476.6 550.4L472.2 549.8L468.4 548.8L465.6 549.5L460.7 549.4L457.7 548.4L452.8 550.6L450.4 549.2L445.2 550.4L449.0 544.5L452.7 540.3L449.7 537.4L446.5 534.1L445.4 531.0L441.1 530.5Z" fill="#ffe400" stroke="#000" stroke-width="1.15" stroke-linejoin="round"/>
<path d="M464.3 525.0L466.2 522.3L467.3 518.0L467.3 515.2L470.4 511.1L472.1 508.0L477.4 504.3L481.4 503.9L486.4 501.0L487.0 505.0L486.4 509.5L487.6 512.9L488.1 516.2L487.1 520.0L486.8 522.7L486.9 526.5L487.0 531.6L487.0 534.7L488.0 537.5L486.8 541.5L487.1 545.6L487.0 550.1L483.8 548.8L479.5 546.2L475.8 544.5L472.4 540.6L469.5 538.6L468.4 534.9L467.4 530.7Z" fill="#ff9a10" />
<path d="M475.6 494.8L482.0 493.5L482.6 496.4L484.2 500.0L482.2 503.1L479.3 506.9L477.3 502.9L476.4 498.3Z" fill="#1818dc" stroke="#000" stroke-width="1.15" stroke-linejoin="round"/>
<path d="M438.2 534.7L441.2 533.9L445.8 533.1L451.1 532.7L451.1 536.8L451.3 541.4L447.5 541.5L443.5 541.8L438.4 542.3L437.8 538.4Z" fill="#1818dc" stroke="#000" stroke-width="1.15" stroke-linejoin="round"/>
<path d="M433.4 541.1L437.2 542.5L440.6 542.9L444.3 541.7L447.6 542.5L449.5 545.7L450.8 549.1L447.3 549.6L442.8 549.6L439.5 549.5L436.2 549.7L432.0 549.7L432.8 546.4Z" fill="#1818dc" stroke="#000" stroke-width="1.15" stroke-linejoin="round"/>
<path d="M403.1 526.0L406.2 522.1L410.1 520.1L413.2 518.6L415.9 517.9L421.2 522.1L420.9 524.6L421.4 528.5L418.0 529.4L414.1 529.7L409.4 535.0L405.5 532.5L405.1 528.8Z" fill="#ffe400" stroke="#000" stroke-width="1.15" stroke-linejoin="round"/>
<path d="M419.9 524.4L418.5 526.8L417.1 526.9L414.8 528.2L412.6 526.9L412.3 524.8L412.1 521.8L413.7 521.7L416.9 521.0L418.3 522.2Z" fill="#ff9a10" />
<path d="M428.4 543.1L433.3 542.0L438.1 540.9L438.4 545.9L438.1 550.1L435.1 549.3L430.6 550.1L427.1 550.1L427.1 546.0Z" fill="#ffe400" stroke="#000" stroke-width="1.15" stroke-linejoin="round"/>
<path d="M383.7 358.3L387.7 357.9L391.2 358.9L391.5 363.3L395.1 365.4L397.7 367.7L401.2 370.8L401.6 376.9L400.6 379.0L397.4 380.9L399.2 386.5L401.7 389.1L404.3 394.6L398.7 398.7L396.4 403.6L395.8 407.1L395.6 411.4L392.1 413.7L390.4 416.2L388.9 413.0L391.7 408.9L392.0 405.4L392.3 401.4L391.7 398.1L391.1 394.9L393.2 389.8L394.8 387.9L392.5 384.3L391.6 379.0L392.2 376.8L390.7 372.7L387.1 369.0L382.3 366.8L382.9 363.6Z" fill="#80d880" stroke="#000" stroke-width="1.15" stroke-linejoin="round"/>
<path d="M343.9 403.1L349.1 399.9L353.1 403.7L352.5 406.9L354.1 410.5L353.3 414.1L354.3 418.2L351.9 423.0L348.8 418.7L348.0 414.6L344.3 412.9L343.9 410.4L343.9 406.4Z" fill="#80d880" stroke="#000" stroke-width="1.15" stroke-linejoin="round"/>
<path d="M320.7 407.7L324.5 409.5L324.7 413.2L325.5 417.3L326.7 420.7L324.3 423.8L324.2 428.7L321.0 424.3L319.9 420.9L319.4 417.1L319.7 412.1Z" fill="#80d880" stroke="#000" stroke-width="1.15" stroke-linejoin="round"/>
<path d="M334.6 427.6L338.4 425.0L339.9 423.1L344.1 422.1L348.7 422.1L353.6 421.9L352.2 427.1L349.2 429.4L346.1 432.9L341.0 432.5L337.9 434.5Z" fill="#80d880" stroke="#000" stroke-width="1.15" stroke-linejoin="round"/>
<path d="M305.7 425.8L311.1 422.1L315.8 425.3L320.6 425.9L326.5 429.0L324.0 431.2L320.3 432.6L315.8 433.4L310.4 430.1L308.2 429.7Z" fill="#80d880" stroke="#000" stroke-width="1.15" stroke-linejoin="round"/>
<path d="M372.4 450.2L375.1 447.9L375.3 444.8L377.9 441.8L379.4 438.9L382.0 435.4L385.9 438.1L389.4 443.4L386.8 446.8L384.8 449.9L380.5 451.7L376.2 452.7Z" fill="#80d880" stroke="#000" stroke-width="1.15" stroke-linejoin="round"/>
<path d="M412.8 429.2L418.3 427.9L420.9 432.4L414.3 433.2Z" fill="#80d880" stroke="#000" stroke-width="1.15" stroke-linejoin="round"/>
<path d="M465.6 439.3L469.4 437.9L471.6 437.1L477.0 434.5L479.2 434.8L483.0 436.1L487.1 436.5L487.8 441.1L487.2 444.8L486.1 450.5L484.9 454.7L481.5 458.2L476.6 453.9L480.0 451.9L481.6 447.7L479.1 445.0L473.5 443.4L470.7 443.4L468.1 443.2Z" fill="#80d880" stroke="#000" stroke-width="1.15" stroke-linejoin="round"/>
<path d="M426.3 420.4L431.9 420.1L431.5 426.6L426.4 427.0Z" fill="#80d880" stroke="#000" stroke-width="1.15" stroke-linejoin="round"/>
<path d="M449.3 422.9L454.4 422.7L454.7 425.5L449.2 426.0Z" fill="#80d880" stroke="#000" stroke-width="1.15" stroke-linejoin="round"/>
<path d="M258.4 513.6L260.3 509.5L265.4 506.5L267.7 504.9L271.4 502.1L273.4 504.8L275.7 507.4L280.2 507.8L283.6 510.8L280.3 514.6L275.2 516.7L273.0 517.9L271.2 523.1L266.5 520.9L263.3 521.4L258.7 515.8Z" fill="#80d880" stroke="#000" stroke-width="1.15" stroke-linejoin="round"/>
<path d="M249.3 442.7L254.2 442.5L257.0 444.4L256.3 447.8L257.2 451.5L255.8 455.0L255.7 458.2L250.3 456.2L249.3 453.4L250.4 448.9L250.3 446.4Z" fill="#80d880" stroke="#000" stroke-width="1.15" stroke-linejoin="round"/>
<path d="M256.0 481.0L261.0 480.4L265.1 480.0L265.4 484.6L260.7 485.3L255.8 484.8Z" fill="#80d880" stroke="#000" stroke-width="1.15" stroke-linejoin="round"/>
<path d="M310.5 443.3L314.2 441.3L317.5 437.2L322.3 440.6L319.7 445.9L315.8 448.7L313.4 447.0Z" fill="#80d880" stroke="#000" stroke-width="1.15" stroke-linejoin="round"/>
<path d="M334.8 441.5L340.1 442.0L344.7 441.6L343.9 446.5L340.3 446.7L335.8 447.2Z" fill="#80d880" stroke="#000" stroke-width="1.15" stroke-linejoin="round"/>
<path d="M309.9 464.0L311.4 461.5L314.4 459.2L318.2 456.1L320.7 453.2L324.6 453.9L329.3 455.3L325.5 457.4L322.8 458.4L320.7 460.6L317.5 463.0L312.7 463.6Z" fill="#80d880" stroke="#000" stroke-width="1.15" stroke-linejoin="round"/>
<path d="M329.2 452.8L332.7 454.1L338.2 453.9L342.0 454.7L341.8 459.4L342.1 463.3L337.5 464.3L333.9 462.7L330.1 462.7L328.5 459.1Z" fill="#80d880" stroke="#000" stroke-width="1.15" stroke-linejoin="round"/>
<path d="M459.0 417.0L464.7 414.6L471.4 413.7L470.3 417.8L462.0 420.2Z" fill="#a8c8ff" stroke="#000" stroke-width="1.15" stroke-linejoin="round"/>
<path d="M435.7 435.6L439.4 432.8L443.0 434.6L442.3 439.5L441.7 444.0L436.6 444.6L435.7 440.3Z" fill="#88aaff" stroke="#000" stroke-width="1.15" stroke-linejoin="round"/>
<path d="M384.1 445.3L382.4 447.7L380.9 447.5L378.9 447.3L379.2 445.7L378.4 442.4L381.5 440.5L382.8 438.9L385.0 439.3L385.7 443.0Z" fill="#c0d0ff" />
<path d="M339.0 456.5L338.3 458.2L336.5 458.9L335.3 458.1L334.2 458.3L333.4 456.7L334.6 455.8L335.5 454.4L337.3 455.0L339.2 455.2Z" fill="#4a70ff" />
<path d="M342.2 443.2L342.7 444.1L341.7 444.9L338.8 445.2L337.8 443.9L337.4 443.6L337.8 443.3L339.2 442.4L340.9 441.4L342.3 443.0Z" fill="#4a70ff" />
<path d="M293.3 541.3L296.7 538.7L298.0 540.4L294.6 543.0ZM290.5 538.2L298.8 531.7L301.0 534.5L292.7 541.0ZM295.5 536.4L298.6 534.0L301.0 537.1L297.9 539.5ZM289.8 539.2L292.3 537.2L294.3 539.7L291.8 541.7ZM293.5 545.2L295.4 543.7L296.9 545.6L295.0 547.0ZM289.0 549.2L296.9 543.0L298.9 545.6L291.0 551.8ZM287.0 523.4L294.0 518.0L295.8 520.3L288.9 525.8ZM285.5 542.8L287.4 541.3L288.9 543.2L287.0 544.7ZM284.7 527.4L294.0 520.2L296.5 523.3L287.1 530.6ZM292.3 544.9L299.0 539.6L301.7 543.0L295.0 548.2ZM297.8 532.9L302.7 529.0L304.7 531.5L299.7 535.3ZM288.0 529.6L290.5 527.7L292.5 530.1L290.0 532.1ZM292.0 539.0L294.7 536.8L296.8 539.6L294.1 541.7ZM286.7 534.7L293.5 529.4L296.1 532.8L289.4 538.0ZM295.6 536.8L301.1 532.5L303.3 535.2L297.8 539.5ZM295.0 528.4L300.3 524.3L302.4 526.9L297.1 531.1ZM294.6 523.2L296.3 521.9L297.6 523.6L295.9 525.0ZM299.4 538.4L301.9 536.4L303.9 539.0L301.4 541.0ZM289.8 534.1L293.8 530.9L295.4 532.9L291.3 536.1ZM294.1 532.0L297.3 529.6L299.7 532.7L296.6 535.2ZM290.3 527.8L294.9 524.2L296.7 526.5L292.1 530.1ZM293.8 542.6L296.0 540.8L297.7 543.1L295.5 544.8Z" fill="#80d880"/>
<path d="M290.8 547.4L292.8 545.9L294.3 547.9L292.3 549.4ZM287.7 524.2L292.2 520.7L293.9 523.0L289.4 526.5ZM298.9 547.6L300.6 546.2L302.0 548.0L300.2 549.4ZM297.3 532.3L300.5 529.8L301.7 531.4L298.5 533.9ZM298.0 524.3L299.7 522.9L301.0 524.6L299.3 526.0ZM286.9 530.4L292.4 526.1L293.9 527.9L288.4 532.2ZM289.0 535.3L290.9 533.8L292.4 535.7L290.5 537.1ZM288.3 521.0L290.3 519.5L291.8 521.4L289.8 523.0ZM300.8 544.5L302.7 543.1L304.1 544.9L302.3 546.3ZM300.2 543.1L304.5 539.7L305.6 541.2L301.3 544.5ZM300.2 537.0L302.9 534.9L304.0 536.2L301.3 538.4ZM287.1 545.2L290.8 542.3L292.3 544.2L288.5 547.1ZM295.4 523.6L296.5 522.7L297.4 523.9L296.3 524.8ZM287.4 542.4L289.2 541.0L290.6 542.8L288.8 544.3ZM293.2 534.6L298.3 530.6L299.6 532.3L294.5 536.3ZM284.7 543.5L286.7 541.9L288.2 543.9L286.3 545.5ZM284.7 531.8L288.5 528.7L290.0 530.7L286.2 533.7ZM284.9 547.1L287.4 545.1L288.4 546.4L285.9 548.3ZM298.5 542.0L300.0 540.9L301.1 542.3L299.7 543.4ZM299.0 533.8L300.8 532.4L302.2 534.2L300.4 535.5ZM290.9 547.1L293.4 545.2L294.4 546.4L291.9 548.4ZM287.5 544.0L288.8 542.9L289.9 544.3L288.5 545.4Z" fill="#000"/>
<path d="M271.5 426.3L274.9 426.9L280.3 428.6L283.1 429.5L286.6 430.5L291.2 428.7L295.3 429.5L299.5 428.9L304.1 428.8L301.7 432.3L300.3 435.4L300.0 439.9L296.5 442.8L294.9 446.2L293.9 449.1L293.0 452.8L291.0 455.2L287.8 459.4L287.1 463.7L286.2 465.5L282.3 462.6L279.4 458.9L275.7 453.4L274.8 450.4L272.6 445.0L271.4 441.4L270.2 437.7L270.0 434.5L272.3 430.5Z" fill="#4a70ff" />
<path d="M274.0 436.6L279.2 432.6L280.6 434.3L275.4 438.4ZM272.9 444.9L279.6 439.6L282.2 443.0L275.5 448.2ZM291.1 435.5L296.6 431.2L298.7 433.9L293.2 438.2ZM277.1 454.1L282.6 449.8L284.7 452.5L279.2 456.8ZM273.4 436.8L276.7 434.2L279.2 437.5L276.0 440.1ZM290.1 441.4L292.2 439.7L293.9 441.8L291.8 443.5ZM278.9 450.7L280.7 449.3L282.2 451.1L280.3 452.5ZM279.3 434.7L282.5 432.2L285.1 435.4L281.8 437.9ZM290.1 446.2L293.3 443.6L295.9 446.9L292.6 449.5ZM285.2 438.0L292.0 432.7L293.8 435.0L287.0 440.3ZM271.0 431.2L273.8 429.0L276.0 431.8L273.2 434.0ZM282.3 462.5L291.0 455.6L293.3 458.5L284.5 465.4ZM274.3 433.0L280.3 428.3L281.8 430.3L275.9 435.0ZM269.6 431.5L275.9 426.6L278.4 429.8L272.1 434.7ZM281.4 443.8L283.3 442.3L284.7 444.1L282.9 445.6ZM277.7 432.6L284.7 427.1L287.4 430.6L280.4 436.1ZM279.4 438.2L284.2 434.5L286.0 436.9L281.3 440.6ZM291.6 449.2L293.5 447.7L295.0 449.6L293.1 451.2ZM298.4 429.6L301.5 427.2L303.8 430.2L300.8 432.6ZM287.9 435.3L294.2 430.4L295.8 432.5L289.6 437.4ZM275.1 433.6L283.3 427.1L285.5 429.9L277.3 436.3ZM295.1 429.6L297.4 427.7L299.3 430.1L296.9 431.9ZM294.3 429.5L297.7 426.8L300.4 430.2L297.0 432.9ZM276.1 433.5L282.6 428.4L284.3 430.6L277.8 435.7Z" fill="#b8ccff"/>
<path d="M277.3 440.5L280.2 439.7L284.2 441.5L287.3 441.4L290.0 440.9L289.3 445.8L289.0 451.5L286.7 455.4L284.2 457.8L281.7 455.1L279.4 449.8L277.7 446.7L277.5 444.4Z" fill="#1818dc" />
<path d="M279.8 430.1L280.2 430.1L279.4 431.3L278.1 431.4L276.8 431.0L275.7 428.9L277.0 428.0L277.6 428.8L278.7 427.6L279.9 428.1Z" fill="#1818dc" />
<path d="M301.5 431.0L301.4 432.3L300.1 433.3L299.0 433.0L298.3 432.2L296.5 432.0L298.4 431.1L299.2 429.3L299.6 429.5L300.8 430.0Z" fill="#1818dc" />
<path d="M77.5 531.8L82.7 527.2L90.0 527.6L91.3 531.5L91.1 535.2L92.4 539.0L88.1 541.2L86.0 543.9L83.4 545.9L75.6 545.2L74.7 538.0L75.7 535.0Z" fill="#80d880" stroke="#000" stroke-width="1.15" stroke-linejoin="round"/>
<path d="M78.5 530.0L83.9 530.6L88.4 530.5L88.3 533.6L89.8 538.5L86.2 540.7L83.2 542.8L78.7 539.6L78.7 535.4Z" fill="#4a70ff" />
<path d="M83.7 536.0L83.7 536.6L81.3 538.2L79.9 538.3L79.4 536.4L78.1 535.2L78.5 535.0L79.7 533.3L81.3 532.9L82.5 533.6Z" fill="#b8ccff" />
<path d="M82.5 534.5L82.3 535.1L81.7 535.5L81.0 535.5L80.4 535.1L80.1 534.5L80.4 533.9L81.0 533.5L81.7 533.5L82.3 533.9Z" fill="#ffe400" stroke="#000" stroke-width="0.8"/>
<path d="M67.9 533.3L74.3 532.8L74.1 539.2L69.4 538.1Z" fill="#80d880" stroke="#000" stroke-width="1.15" stroke-linejoin="round"/>
<path d="M87.9 542.8L95.4 543.8L94.5 547.8L87.9 548.8Z" fill="#80d880" stroke="#000" stroke-width="1.15" stroke-linejoin="round"/>
<path d="M111.3 543.6L116.1 543.5L114.8 547.5L111.4 547.6Z" fill="#80d880" stroke="#000" stroke-width="1.15" stroke-linejoin="round"/>
<path d="M243.7 447.2L247.3 447.2L252.9 446.5L257.8 445.6L257.4 450.5L255.9 454.8L256.5 459.2L253.0 458.6L248.6 458.8L243.9 457.2L244.5 454.4L244.7 450.8Z" fill="#80d880" stroke="#000" stroke-width="1.15" stroke-linejoin="round"/>
<path d="M258.7 506.1L263.2 503.8L266.9 503.5L269.9 504.1L275.0 505.0L277.7 505.8L280.1 507.6L283.5 509.9L282.5 513.9L281.2 517.9L280.6 523.0L276.3 522.9L272.6 522.0L268.3 521.6L264.2 522.7L262.6 519.0L259.9 515.3L259.6 510.2Z" fill="#80d880" stroke="#000" stroke-width="1.15" stroke-linejoin="round"/>
<path d="M236.2 495.4L240.5 494.9L245.9 493.9L250.1 493.4L249.5 497.7L249.6 502.6L246.1 503.1L242.0 502.6L237.3 502.8Z" fill="#80d880" stroke="#000" stroke-width="1.15" stroke-linejoin="round"/>
<path d="M248.7 480.4L252.6 480.6L257.1 480.0L260.6 479.9L266.4 481.1L265.6 484.0L261.3 484.8L257.7 483.4L254.0 484.7L249.2 484.7Z" fill="#80d880" stroke="#000" stroke-width="1.15" stroke-linejoin="round"/>
<path d="M210.6 493.3L215.8 491.8L216.1 495.4L211.5 496.2Z" fill="#80d880" stroke="#000" stroke-width="1.15" stroke-linejoin="round"/>
<path d="M142.7 453.7L146.2 452.2L149.5 451.1L149.2 455.5L149.3 459.6L149.1 463.7L143.6 463.2L143.2 459.1Z" fill="#7ab0ff" stroke="#000" stroke-width="1.15" stroke-linejoin="round"/>
<path d="M166.4 449.6L165.8 449.7L165.1 449.3L164.7 448.6L164.6 447.9L164.9 447.3L165.6 447.2L166.3 447.6L166.7 448.3L166.8 449.0Z" fill="#000" />
<path d="M202.6 454.8L202.0 454.8L201.4 454.3L201.1 453.5L201.1 452.8L201.6 452.3L202.2 452.3L202.8 452.8L203.2 453.5L203.1 454.3Z" fill="#000" />
<path d="M142.4 467.5L141.8 467.5L141.2 466.9L140.9 466.2L141.1 465.4L141.5 465.0L142.2 465.0L142.8 465.5L143.0 466.3L142.9 467.1Z" fill="#000" />
<path d="M145.8 466.7L145.2 466.5L144.8 465.9L144.7 465.1L145.0 464.4L145.6 464.0L146.2 464.3L146.6 464.9L146.7 465.7L146.4 466.4Z" fill="#000" />
<path d="M120.5 529.3L119.8 529.3L119.2 528.8L118.9 528.1L119.0 527.3L119.4 526.8L120.1 526.8L120.7 527.3L121.0 528.1L120.9 528.8Z" fill="#000" />
<path d="M108.3 538.7L107.6 538.6L107.2 537.9L107.1 537.1L107.4 536.4L107.9 536.0L108.6 536.2L109.0 536.9L109.1 537.7L108.8 538.4Z" fill="#000" />
<path d="M100.1 539.1L99.8 539.7L99.1 540.1L98.3 540.0L97.7 539.6L97.4 539.0L97.7 538.4L98.4 538.1L99.2 538.1L99.9 538.5Z" fill="#000" />
<path d="M88.8 525.6L88.2 525.9L87.4 525.7L86.8 525.1L86.5 524.4L86.8 523.8L87.3 523.5L88.1 523.7L88.7 524.2L89.0 525.0Z" fill="#000" />
<path d="M96.4 521.8L95.7 521.6L95.3 521.0L95.2 520.1L95.5 519.4L96.1 519.1L96.7 519.3L97.2 520.0L97.2 520.8L96.9 521.5Z" fill="#000" />
<path d="M173.2 534.3L172.5 534.4L171.9 534.0L171.4 533.3L171.4 532.5L171.8 532.0L172.4 531.9L173.1 532.3L173.5 533.0L173.5 533.8Z" fill="#000" />
<path d="M179.5 533.7L178.8 533.5L178.4 532.9L178.2 532.0L178.5 531.3L179.0 531.0L179.7 531.1L180.1 531.7L180.3 532.6L180.0 533.3Z" fill="#000" />
<path d="M167.9 539.3L167.5 539.9L166.8 540.1L166.0 540.0L165.4 539.5L165.2 538.8L165.6 538.3L166.3 538.1L167.1 538.2L167.7 538.7Z" fill="#000" />
<path d="M173.5 546.8L172.9 547.0L172.1 546.9L171.5 546.3L171.3 545.6L171.5 545.0L172.1 544.7L172.8 544.9L173.4 545.4L173.7 546.2Z" fill="#000" />
<path d="M133.1 544.7L132.6 545.1L131.8 545.2L131.1 544.9L130.6 544.3L130.6 543.7L131.0 543.2L131.8 543.1L132.6 543.4L133.0 544.0Z" fill="#000" />
<path d="M139.5 547.7L138.9 547.9L138.1 547.7L137.6 547.0L137.4 546.3L137.7 545.7L138.3 545.5L139.0 545.8L139.6 546.4L139.8 547.1Z" fill="#000" />
<path d="M234.3 488.5L233.7 488.7L233.0 488.3L232.4 487.7L232.3 486.9L232.6 486.4L233.2 486.2L233.9 486.5L234.5 487.1L234.6 487.9Z" fill="#000" />
<path d="M295.8 485.8L295.5 486.3L294.8 486.7L294.0 486.7L293.3 486.3L293.1 485.7L293.4 485.1L294.0 484.8L294.9 484.8L295.5 485.2Z" fill="#000" />
<path d="M305.9 478.6L305.4 479.0L304.7 479.2L303.9 478.9L303.4 478.3L303.3 477.6L303.8 477.2L304.5 477.1L305.3 477.3L305.8 477.9Z" fill="#000" />
<path d="M269.4 477.0L268.9 477.4L268.1 477.5L267.4 477.1L266.9 476.5L267.0 475.8L267.4 475.4L268.2 475.4L269.0 475.7L269.4 476.3Z" fill="#000" />
<path d="M294.0 530.1L300.1 525.4L301.7 527.4L295.6 532.1ZM314.1 530.2L316.0 528.6L317.6 530.6L315.6 532.1ZM314.6 538.4L316.6 536.8L318.2 538.8L316.2 540.4ZM306.1 524.5L309.0 522.2L311.3 525.2L308.4 527.5ZM304.7 546.2L310.4 541.8L312.6 544.6L306.9 549.0ZM277.3 533.1L286.6 525.8L289.0 528.9L279.7 536.2ZM316.9 536.8L319.7 534.7L321.9 537.5L319.1 539.7ZM306.5 537.1L308.1 535.8L309.3 537.4L307.8 538.6ZM295.5 548.5L304.5 541.4L306.9 544.4L297.8 551.5ZM302.6 527.6L308.0 523.3L309.4 525.1L304.0 529.3ZM317.0 545.4L320.2 542.9L322.7 546.1L319.5 548.6ZM302.2 537.9L307.8 533.6L310.0 536.4L304.4 540.7ZM276.6 540.7L282.0 536.5L284.0 539.2L278.7 543.3ZM305.7 528.5L308.5 526.3L310.7 529.1L307.9 531.3ZM305.7 546.0L313.8 539.7L315.9 542.4L307.8 548.7ZM280.7 530.1L284.8 526.9L286.4 529.0L282.3 532.2ZM317.2 536.6L319.9 534.5L322.0 537.2L319.3 539.3ZM314.0 541.8L315.8 540.4L317.2 542.2L315.4 543.6ZM296.7 547.0L301.9 543.0L303.8 545.6L298.7 549.6ZM272.4 532.7L278.9 527.7L280.6 529.8L274.1 534.9ZM301.9 547.4L311.0 540.3L313.4 543.3L304.3 550.4ZM315.9 520.1L321.5 515.7L323.0 517.6L317.4 521.9ZM293.1 550.3L301.4 543.8L303.5 546.5L295.2 553.0ZM289.8 524.8L294.4 521.1L296.3 523.5L291.6 527.1ZM279.6 540.6L282.8 538.1L285.3 541.3L282.1 543.8ZM297.5 531.6L301.7 528.3L303.4 530.4L299.1 533.7Z" fill="#80d880"/>
<path d="M289.7 538.3L291.6 536.8L293.1 538.7L291.2 540.2ZM309.3 542.9L310.8 541.7L311.9 543.2L310.4 544.4ZM303.8 537.5L305.5 536.2L306.8 537.9L305.1 539.2ZM289.3 538.7L295.1 534.2L296.6 536.1L290.8 540.6ZM315.1 525.3L316.7 524.1L318.0 525.7L316.4 526.9ZM280.3 527.4L281.3 526.6L282.2 527.7L281.1 528.5ZM291.3 526.2L294.4 523.7L295.3 524.8L292.1 527.2ZM280.4 535.5L282.5 533.9L283.3 534.9L281.2 536.6ZM298.0 536.1L301.1 533.6L302.4 535.2L299.2 537.6ZM296.7 534.1L298.6 532.6L300.1 534.5L298.2 536.0ZM317.6 525.7L320.7 523.3L321.9 524.9L318.8 527.3ZM318.2 522.7L319.4 521.7L320.3 522.9L319.1 523.9ZM285.2 540.8L288.8 537.9L290.2 539.8L286.6 542.6ZM309.5 528.0L311.2 526.7L312.5 528.4L310.8 529.8ZM283.7 526.6L285.3 525.3L286.6 526.9L285.0 528.1ZM290.2 534.4L293.2 532.1L294.4 533.6L291.4 535.9ZM301.4 524.3L302.6 523.4L303.5 524.6L302.3 525.5ZM276.8 541.4L281.5 537.8L282.7 539.3L278.0 543.0ZM305.5 524.2L310.8 520.1L312.2 521.8L306.9 525.9ZM285.4 546.9L286.7 545.9L287.7 547.2L286.5 548.2ZM278.9 539.1L280.8 537.6L282.3 539.5L280.4 541.0ZM312.4 547.0L316.0 544.2L317.4 546.0L313.8 548.8ZM307.5 538.8L310.3 536.6L311.4 538.0L308.6 540.2ZM310.2 541.1L312.2 539.5L313.8 541.5L311.8 543.1ZM295.7 542.7L297.3 541.5L298.5 543.0L296.9 544.2ZM302.0 537.5L305.4 534.8L306.7 536.5L303.3 539.2Z" fill="#000"/>
</g>
<use href="#over"/>
<text x="37.50" y="66.0" font-size="24.0" textLength="79.9" lengthAdjust="spacingAndGlyphs" >VIRS T</text>
<text x="117.38" y="71.3" font-size="14.0" textLength="25.8" lengthAdjust="spacingAndGlyphs" >B11</text>
<text x="152.36" y="66.0" font-size="24.0" textLength="32.4" lengthAdjust="spacingAndGlyphs" >(K)</text>
<text x="438.4" y="523.6" font-size="29">(g)</text>
<rect x="495.0" y="531.28" width="9.2" height="8.76" fill="#f7f7f7"/>
<rect x="495.0" y="522.83" width="9.2" height="8.76" fill="#efefef"/>
<rect x="495.0" y="514.37" width="9.2" height="8.76" fill="#e6e6e6"/>
<rect x="495.0" y="505.91" width="9.2" height="8.76" fill="#dedede"/>
<rect x="495.0" y="497.45" width="9.2" height="8.76" fill="#d6d6d6"/>
<rect x="495.0" y="488.99" width="9.2" height="8.76" fill="#cdcdcd"/>
<rect x="495.0" y="480.53" width="9.2" height="8.76" fill="#c4c4c4"/>
<rect x="495.0" y="472.08" width="9.2" height="8.76" fill="#bcbcbc"/>
<rect x="495.0" y="463.62" width="9.2" height="8.76" fill="#b5b5b5"/>
<rect x="495.0" y="455.16" width="9.2" height="8.76" fill="#aeaeae"/>
<rect x="495.0" y="446.70" width="9.2" height="8.76" fill="#a6a6a6"/>
<rect x="495.0" y="438.24" width="9.2" height="8.76" fill="#a0a0a0"/>
<rect x="495.0" y="429.78" width="9.2" height="8.76" fill="#999999"/>
<rect x="495.0" y="421.33" width="9.2" height="8.76" fill="#929292"/>
<rect x="495.0" y="412.87" width="9.2" height="8.76" fill="#84e284"/>
<rect x="495.0" y="404.41" width="9.2" height="8.76" fill="#7dd87d"/>
<rect x="495.0" y="395.95" width="9.2" height="8.76" fill="#76cd76"/>
<rect x="495.0" y="387.49" width="9.2" height="8.76" fill="#6fc26f"/>
<rect x="495.0" y="379.03" width="9.2" height="8.76" fill="#68b868"/>
<rect x="495.0" y="370.58" width="9.2" height="8.76" fill="#d0d8ff"/>
<rect x="495.0" y="362.12" width="9.2" height="8.76" fill="#b9ceff"/>
<rect x="495.0" y="353.66" width="9.2" height="8.76" fill="#a2c4ff"/>
<rect x="495.0" y="345.20" width="9.2" height="8.76" fill="#8bbbff"/>
<rect x="495.0" y="336.74" width="9.2" height="8.76" fill="#72b2ff"/>
<rect x="495.0" y="328.28" width="9.2" height="8.76" fill="#57aaff"/>
<rect x="495.0" y="319.83" width="9.2" height="8.76" fill="#4b97ff"/>
<rect x="495.0" y="311.37" width="9.2" height="8.76" fill="#4480ff"/>
<rect x="495.0" y="302.91" width="9.2" height="8.76" fill="#3f65ff"/>
<rect x="495.0" y="294.45" width="9.2" height="8.76" fill="#3849ff"/>
<rect x="495.0" y="285.99" width="9.2" height="8.76" fill="#282eff"/>
<rect x="495.0" y="277.53" width="9.2" height="8.76" fill="#1717fb"/>
<rect x="495.0" y="269.08" width="9.2" height="8.76" fill="#0505f2"/>
<rect x="495.0" y="260.62" width="9.2" height="8.76" fill="#0000df"/>
<rect x="495.0" y="252.16" width="9.2" height="8.76" fill="#0000c8"/>
<rect x="495.0" y="243.70" width="9.2" height="8.76" fill="#ffff00"/>
<rect x="495.0" y="235.24" width="9.2" height="8.76" fill="#fff100"/>
<rect x="495.0" y="226.78" width="9.2" height="8.76" fill="#ffe400"/>
<rect x="495.0" y="218.33" width="9.2" height="8.76" fill="#ffd600"/>
<rect x="495.0" y="209.87" width="9.2" height="8.76" fill="#ffc800"/>
<rect x="495.0" y="201.41" width="9.2" height="8.76" fill="#ff9600"/>
<rect x="495.0" y="192.95" width="9.2" height="8.76" fill="#ff8c00"/>
<rect x="495.0" y="184.49" width="9.2" height="8.76" fill="#ff8200"/>
<rect x="495.0" y="176.03" width="9.2" height="8.76" fill="#ff7800"/>
<rect x="495.0" y="167.58" width="9.2" height="8.76" fill="#ff6e00"/>
<rect x="495.0" y="159.12" width="9.2" height="8.76" fill="#ff4000"/>
<rect x="495.0" y="150.66" width="9.2" height="8.76" fill="#ff3500"/>
<rect x="495.0" y="142.20" width="9.2" height="8.76" fill="#ff2a00"/>
<rect x="495.0" y="133.74" width="9.2" height="8.76" fill="#ff1f00"/>
<rect x="495.0" y="125.28" width="9.2" height="8.76" fill="#ff1400"/>
<rect x="495.0" y="116.82" width="9.2" height="8.76" fill="#c80000"/>
<rect x="495.0" y="108.37" width="9.2" height="8.76" fill="#be0000"/>
<rect x="495.0" y="99.91" width="9.2" height="8.76" fill="#b40000"/>
<rect x="495.0" y="91.45" width="9.2" height="8.76" fill="#aa0000"/>
<rect x="495.0" y="82.99" width="9.2" height="8.76" fill="#a00000"/>
<rect x="495.0" y="74.53" width="9.2" height="8.76" fill="#640a00"/>
<rect x="495.0" y="66.07" width="9.2" height="8.76" fill="#620c05"/>
<rect x="495.0" y="57.62" width="9.2" height="8.76" fill="#5f0f0a"/>
<rect x="495.0" y="49.16" width="9.2" height="8.76" fill="#5c120f"/>
<rect x="495.0" y="40.70" width="9.2" height="8.76" fill="#5a1414"/>
<path d="M503.9 548.20h2.6" stroke="#222" stroke-width="0.9"/>
<text x="507.05" y="556.2" font-size="18.6" textLength="33.6" lengthAdjust="spacingAndGlyphs" >304</text>
<path d="M503.9 497.45h2.6" stroke="#222" stroke-width="0.9"/>
<text x="506.77" y="505.5" font-size="18.6" textLength="34.3" lengthAdjust="spacingAndGlyphs" >292</text>
<path d="M503.9 446.70h2.6" stroke="#222" stroke-width="0.9"/>
<text x="506.77" y="454.7" font-size="18.6" textLength="34.1" lengthAdjust="spacingAndGlyphs" >280</text>
<path d="M503.9 395.95h2.6" stroke="#222" stroke-width="0.9"/>
<text x="506.77" y="404.0" font-size="18.6" textLength="34.2" lengthAdjust="spacingAndGlyphs" >268</text>
<path d="M503.9 345.20h2.6" stroke="#222" stroke-width="0.9"/>
<text x="506.77" y="353.2" font-size="18.6" textLength="34.2" lengthAdjust="spacingAndGlyphs" >256</text>
<path d="M503.9 294.45h2.6" stroke="#222" stroke-width="0.9"/>
<text x="506.77" y="302.5" font-size="18.6" textLength="33.9" lengthAdjust="spacingAndGlyphs" >244</text>
<path d="M503.9 243.70h2.6" stroke="#222" stroke-width="0.9"/>
<text x="506.77" y="251.7" font-size="18.6" textLength="34.3" lengthAdjust="spacingAndGlyphs" >232</text>
<path d="M503.9 192.95h2.6" stroke="#222" stroke-width="0.9"/>
<text x="506.77" y="201.0" font-size="18.6" textLength="34.1" lengthAdjust="spacingAndGlyphs" >220</text>
<path d="M503.9 142.20h2.6" stroke="#222" stroke-width="0.9"/>
<text x="506.77" y="150.2" font-size="18.6" textLength="34.2" lengthAdjust="spacingAndGlyphs" >208</text>
<path d="M503.9 91.45h2.6" stroke="#222" stroke-width="0.9"/>
<text x="506.31" y="99.4" font-size="18.6" textLength="34.7" lengthAdjust="spacingAndGlyphs" >196</text>
</g>
<g transform="translate(590.6 1181.0)">
<g>
<path d="M316.5 460.5h1.50v1.50h-1.50zM316.5 462.0h1.50v1.50h-1.50zM318.0 460.5h1.50v1.50h-1.50zM318.0 462.0h1.50v1.50h-1.50zM319.5 460.5h1.50v1.50h-1.50zM319.5 462.0h1.50v1.50h-1.50zM321.0 459.0h1.50v1.50h-1.50zM321.0 460.5h1.50v1.50h-1.50zM321.0 462.0h1.50v1.50h-1.50zM322.5 459.0h1.50v1.50h-1.50zM322.5 460.5h1.50v1.50h-1.50zM322.5 462.0h1.50v1.50h-1.50zM324.0 457.5h1.50v1.50h-1.50zM324.0 460.5h1.50v1.50h-1.50zM325.5 459.0h1.50v1.50h-1.50zM325.5 460.5h1.50v1.50h-1.50zM327.0 456.0h1.50v1.50h-1.50zM327.0 457.5h1.50v1.50h-1.50zM327.0 459.0h1.50v1.50h-1.50zM328.5 457.5h1.50v1.50h-1.50zM330.0 457.5h1.50v1.50h-1.50zM333.0 451.5h1.50v1.50h-1.50zM333.0 453.0h1.50v1.50h-1.50zM334.5 453.0h1.50v1.50h-1.50z" fill="#1a1aff"/><path d="M328.5 454.5h1.50v1.50h-1.50zM328.5 456.0h1.50v1.50h-1.50zM330.0 454.5h1.50v1.50h-1.50zM330.0 456.0h1.50v1.50h-1.50zM331.5 454.5h1.50v1.50h-1.50zM331.5 456.0h1.50v1.50h-1.50z" fill="#ff4500"/>
<path d="M331.5 451.5h1.50v1.50h-1.50zM333.0 447.0h1.50v1.50h-1.50zM333.0 448.5h1.50v1.50h-1.50zM333.0 450.0h1.50v1.50h-1.50zM333.0 451.5h1.50v1.50h-1.50zM334.5 447.0h1.50v1.50h-1.50zM334.5 448.5h1.50v1.50h-1.50zM336.0 447.0h1.50v1.50h-1.50zM336.0 448.5h1.50v1.50h-1.50z" fill="#1a1aff"/><path d="M334.5 450.0h1.50v1.50h-1.50z" fill="#ff4500"/>
<path d="M331.5 462.0h1.50v1.50h-1.50zM331.5 463.5h1.50v1.50h-1.50zM333.0 460.5h1.50v1.50h-1.50zM333.0 462.0h1.50v1.50h-1.50zM337.5 453.0h1.50v1.50h-1.50z" fill="#ff4500"/><path d="M333.0 456.0h1.50v1.50h-1.50zM333.0 459.0h1.50v1.50h-1.50zM334.5 453.0h1.50v1.50h-1.50zM334.5 454.5h1.50v1.50h-1.50zM334.5 460.5h1.50v1.50h-1.50zM336.0 453.0h1.50v1.50h-1.50zM339.0 453.0h1.50v1.50h-1.50zM340.5 451.5h1.50v1.50h-1.50zM340.5 453.0h1.50v1.50h-1.50zM343.5 453.0h1.50v1.50h-1.50zM345.0 453.0h1.50v1.50h-1.50zM346.5 453.0h1.50v1.50h-1.50zM346.5 454.5h1.50v1.50h-1.50zM348.0 453.0h1.50v1.50h-1.50z" fill="#1a1aff"/>
<path d="M339.0 441.0h1.50v1.50h-1.50zM340.5 442.5h1.50v1.50h-1.50zM342.0 441.0h1.50v1.50h-1.50zM343.5 441.0h1.50v1.50h-1.50zM345.0 439.5h1.50v1.50h-1.50zM345.0 441.0h1.50v1.50h-1.50z" fill="#1a1aff"/><path d="M342.0 442.5h1.50v1.50h-1.50zM342.0 444.0h1.50v1.50h-1.50zM343.5 442.5h1.50v1.50h-1.50z" fill="#ff4500"/>
<path d="M304.5 475.5h1.50v1.50h-1.50zM304.5 478.5h1.50v1.50h-1.50zM306.0 477.0h1.50v1.50h-1.50z" fill="#1a1aff"/><path d="M306.0 475.5h1.50v1.50h-1.50z" fill="#ff4500"/>
<path d="M411.0 460.5h1.50v1.50h-1.50zM412.5 459.0h1.50v1.50h-1.50zM414.0 462.0h1.50v1.50h-1.50zM415.5 456.0h1.50v1.50h-1.50zM415.5 460.5h1.50v1.50h-1.50zM417.0 456.0h1.50v1.50h-1.50zM417.0 457.5h1.50v1.50h-1.50zM417.0 459.0h1.50v1.50h-1.50zM417.0 460.5h1.50v1.50h-1.50zM418.5 454.5h1.50v1.50h-1.50zM418.5 457.5h1.50v1.50h-1.50zM418.5 459.0h1.50v1.50h-1.50zM418.5 460.5h1.50v1.50h-1.50zM420.0 453.0h1.50v1.50h-1.50zM420.0 454.5h1.50v1.50h-1.50zM420.0 456.0h1.50v1.50h-1.50zM420.0 457.5h1.50v1.50h-1.50zM420.0 459.0h1.50v1.50h-1.50zM421.5 453.0h1.50v1.50h-1.50zM421.5 454.5h1.50v1.50h-1.50zM421.5 456.0h1.50v1.50h-1.50zM421.5 457.5h1.50v1.50h-1.50zM421.5 459.0h1.50v1.50h-1.50zM423.0 451.5h1.50v1.50h-1.50zM423.0 454.5h1.50v1.50h-1.50zM423.0 457.5h1.50v1.50h-1.50zM423.0 459.0h1.50v1.50h-1.50zM424.5 451.5h1.50v1.50h-1.50zM424.5 456.0h1.50v1.50h-1.50zM426.0 450.0h1.50v1.50h-1.50zM426.0 451.5h1.50v1.50h-1.50zM426.0 454.5h1.50v1.50h-1.50zM426.0 456.0h1.50v1.50h-1.50zM427.5 450.0h1.50v1.50h-1.50zM427.5 451.5h1.50v1.50h-1.50zM427.5 453.0h1.50v1.50h-1.50zM427.5 454.5h1.50v1.50h-1.50zM427.5 456.0h1.50v1.50h-1.50zM427.5 457.5h1.50v1.50h-1.50zM427.5 459.0h1.50v1.50h-1.50zM429.0 448.5h1.50v1.50h-1.50zM429.0 450.0h1.50v1.50h-1.50zM429.0 451.5h1.50v1.50h-1.50zM429.0 453.0h1.50v1.50h-1.50zM429.0 454.5h1.50v1.50h-1.50zM429.0 456.0h1.50v1.50h-1.50zM429.0 457.5h1.50v1.50h-1.50zM429.0 459.0h1.50v1.50h-1.50zM430.5 448.5h1.50v1.50h-1.50zM430.5 451.5h1.50v1.50h-1.50zM430.5 453.0h1.50v1.50h-1.50zM430.5 454.5h1.50v1.50h-1.50zM430.5 456.0h1.50v1.50h-1.50zM430.5 457.5h1.50v1.50h-1.50zM430.5 459.0h1.50v1.50h-1.50zM432.0 448.5h1.50v1.50h-1.50zM432.0 450.0h1.50v1.50h-1.50zM432.0 451.5h1.50v1.50h-1.50zM432.0 453.0h1.50v1.50h-1.50zM432.0 454.5h1.50v1.50h-1.50zM432.0 456.0h1.50v1.50h-1.50zM432.0 457.5h1.50v1.50h-1.50zM433.5 448.5h1.50v1.50h-1.50zM433.5 450.0h1.50v1.50h-1.50zM433.5 451.5h1.50v1.50h-1.50zM433.5 453.0h1.50v1.50h-1.50zM433.5 454.5h1.50v1.50h-1.50zM433.5 456.0h1.50v1.50h-1.50zM433.5 457.5h1.50v1.50h-1.50zM435.0 450.0h1.50v1.50h-1.50zM435.0 451.5h1.50v1.50h-1.50zM435.0 453.0h1.50v1.50h-1.50zM435.0 454.5h1.50v1.50h-1.50zM436.5 450.0h1.50v1.50h-1.50zM436.5 451.5h1.50v1.50h-1.50zM436.5 453.0h1.50v1.50h-1.50zM436.5 454.5h1.50v1.50h-1.50zM438.0 450.0h1.50v1.50h-1.50zM438.0 451.5h1.50v1.50h-1.50z" fill="#1a1aff"/><path d="M412.5 460.5h1.50v1.50h-1.50zM412.5 462.0h1.50v1.50h-1.50zM414.0 456.0h1.50v1.50h-1.50zM414.0 457.5h1.50v1.50h-1.50zM414.0 459.0h1.50v1.50h-1.50zM414.0 460.5h1.50v1.50h-1.50zM415.5 457.5h1.50v1.50h-1.50zM415.5 459.0h1.50v1.50h-1.50zM415.5 462.0h1.50v1.50h-1.50zM423.0 453.0h1.50v1.50h-1.50zM424.5 453.0h1.50v1.50h-1.50zM424.5 454.5h1.50v1.50h-1.50zM424.5 457.5h1.50v1.50h-1.50zM424.5 459.0h1.50v1.50h-1.50zM426.0 457.5h1.50v1.50h-1.50zM426.0 459.0h1.50v1.50h-1.50z" fill="#ff4500"/>
<path d="M435.0 441.0h1.50v1.50h-1.50zM436.5 435.0h1.50v1.50h-1.50zM436.5 436.5h1.50v1.50h-1.50zM436.5 438.0h1.50v1.50h-1.50zM436.5 439.5h1.50v1.50h-1.50zM436.5 441.0h1.50v1.50h-1.50zM436.5 442.5h1.50v1.50h-1.50zM436.5 444.0h1.50v1.50h-1.50zM438.0 433.5h1.50v1.50h-1.50zM438.0 435.0h1.50v1.50h-1.50zM438.0 436.5h1.50v1.50h-1.50zM438.0 438.0h1.50v1.50h-1.50zM438.0 439.5h1.50v1.50h-1.50zM438.0 441.0h1.50v1.50h-1.50zM438.0 442.5h1.50v1.50h-1.50zM439.5 432.0h1.50v1.50h-1.50zM439.5 433.5h1.50v1.50h-1.50zM439.5 435.0h1.50v1.50h-1.50zM439.5 436.5h1.50v1.50h-1.50zM439.5 438.0h1.50v1.50h-1.50zM441.0 433.5h1.50v1.50h-1.50zM441.0 435.0h1.50v1.50h-1.50zM441.0 436.5h1.50v1.50h-1.50zM442.5 429.0h1.50v1.50h-1.50zM442.5 432.0h1.50v1.50h-1.50zM442.5 435.0h1.50v1.50h-1.50zM444.0 429.0h1.50v1.50h-1.50zM444.0 430.5h1.50v1.50h-1.50zM444.0 432.0h1.50v1.50h-1.50zM444.0 433.5h1.50v1.50h-1.50zM444.0 435.0h1.50v1.50h-1.50zM445.5 427.5h1.50v1.50h-1.50zM445.5 429.0h1.50v1.50h-1.50zM445.5 430.5h1.50v1.50h-1.50zM445.5 432.0h1.50v1.50h-1.50zM445.5 433.5h1.50v1.50h-1.50zM447.0 427.5h1.50v1.50h-1.50zM447.0 429.0h1.50v1.50h-1.50zM447.0 430.5h1.50v1.50h-1.50zM450.0 433.5h1.50v1.50h-1.50z" fill="#1a1aff"/><path d="M441.0 430.5h1.50v1.50h-1.50zM441.0 432.0h1.50v1.50h-1.50zM442.5 430.5h1.50v1.50h-1.50zM447.0 432.0h1.50v1.50h-1.50zM447.0 433.5h1.50v1.50h-1.50zM448.5 429.0h1.50v1.50h-1.50zM448.5 430.5h1.50v1.50h-1.50zM448.5 432.0h1.50v1.50h-1.50zM448.5 433.5h1.50v1.50h-1.50z" fill="#ff4500"/>
<path d="M423.0 445.5h1.50v1.50h-1.50zM423.0 448.5h1.50v1.50h-1.50zM424.5 444.0h1.50v1.50h-1.50zM424.5 445.5h1.50v1.50h-1.50zM424.5 447.0h1.50v1.50h-1.50zM426.0 445.5h1.50v1.50h-1.50zM426.0 447.0h1.50v1.50h-1.50zM429.0 445.5h1.50v1.50h-1.50zM429.0 447.0h1.50v1.50h-1.50z" fill="#1a1aff"/><path d="M427.5 445.5h1.50v1.50h-1.50zM427.5 447.0h1.50v1.50h-1.50z" fill="#ff4500"/>
<path d="M459.0 417.0h1.50v1.50h-1.50zM459.0 418.5h1.50v1.50h-1.50zM460.5 417.0h1.50v1.50h-1.50zM460.5 418.5h1.50v1.50h-1.50zM462.0 414.0h1.50v1.50h-1.50zM462.0 415.5h1.50v1.50h-1.50zM462.0 417.0h1.50v1.50h-1.50zM463.5 415.5h1.50v1.50h-1.50zM463.5 417.0h1.50v1.50h-1.50zM465.0 412.5h1.50v1.50h-1.50zM465.0 414.0h1.50v1.50h-1.50zM465.0 415.5h1.50v1.50h-1.50zM465.0 417.0h1.50v1.50h-1.50zM466.5 412.5h1.50v1.50h-1.50zM466.5 414.0h1.50v1.50h-1.50zM466.5 415.5h1.50v1.50h-1.50zM468.0 412.5h1.50v1.50h-1.50zM468.0 414.0h1.50v1.50h-1.50zM469.5 412.5h1.50v1.50h-1.50zM469.5 414.0h1.50v1.50h-1.50zM471.0 411.0h1.50v1.50h-1.50zM471.0 412.5h1.50v1.50h-1.50zM471.0 414.0h1.50v1.50h-1.50z" fill="#1a1aff"/><path d="M460.5 415.5h1.50v1.50h-1.50zM472.5 411.0h1.50v1.50h-1.50z" fill="#ff4500"/>
<path d="M457.5 420.0h1.50v1.50h-1.50zM457.5 423.0h1.50v1.50h-1.50zM459.0 420.0h1.50v1.50h-1.50zM459.0 421.5h1.50v1.50h-1.50zM459.0 423.0h1.50v1.50h-1.50zM460.5 421.5h1.50v1.50h-1.50zM463.5 423.0h1.50v1.50h-1.50z" fill="#1a1aff"/><path d="M460.5 423.0h1.50v1.50h-1.50zM462.0 423.0h1.50v1.50h-1.50z" fill="#ff4500"/>
<path d="M466.5 441.0h1.50v1.50h-1.50zM468.0 438.0h1.50v1.50h-1.50zM468.0 439.5h1.50v1.50h-1.50zM468.0 441.0h1.50v1.50h-1.50zM469.5 439.5h1.50v1.50h-1.50zM469.5 441.0h1.50v1.50h-1.50zM471.0 435.0h1.50v1.50h-1.50zM471.0 436.5h1.50v1.50h-1.50zM471.0 438.0h1.50v1.50h-1.50zM471.0 439.5h1.50v1.50h-1.50zM472.5 435.0h1.50v1.50h-1.50zM472.5 436.5h1.50v1.50h-1.50zM472.5 438.0h1.50v1.50h-1.50zM472.5 439.5h1.50v1.50h-1.50zM474.0 433.5h1.50v1.50h-1.50zM474.0 435.0h1.50v1.50h-1.50zM474.0 436.5h1.50v1.50h-1.50zM474.0 438.0h1.50v1.50h-1.50zM475.5 436.5h1.50v1.50h-1.50zM475.5 438.0h1.50v1.50h-1.50z" fill="#1a1aff"/><path d="M475.5 433.5h1.50v1.50h-1.50zM475.5 435.0h1.50v1.50h-1.50zM477.0 433.5h1.50v1.50h-1.50z" fill="#ff4500"/>
<path d="M393.0 477.0h1.50v1.50h-1.50zM394.5 474.0h1.50v1.50h-1.50zM394.5 475.5h1.50v1.50h-1.50zM394.5 477.0h1.50v1.50h-1.50zM394.5 478.5h1.50v1.50h-1.50zM396.0 474.0h1.50v1.50h-1.50zM396.0 475.5h1.50v1.50h-1.50zM396.0 477.0h1.50v1.50h-1.50zM396.0 478.5h1.50v1.50h-1.50zM396.0 480.0h1.50v1.50h-1.50zM397.5 474.0h1.50v1.50h-1.50zM397.5 475.5h1.50v1.50h-1.50zM397.5 477.0h1.50v1.50h-1.50zM397.5 478.5h1.50v1.50h-1.50zM397.5 480.0h1.50v1.50h-1.50zM399.0 474.0h1.50v1.50h-1.50zM399.0 475.5h1.50v1.50h-1.50zM399.0 477.0h1.50v1.50h-1.50zM399.0 478.5h1.50v1.50h-1.50zM399.0 480.0h1.50v1.50h-1.50zM400.5 472.5h1.50v1.50h-1.50zM400.5 474.0h1.50v1.50h-1.50zM400.5 475.5h1.50v1.50h-1.50zM400.5 477.0h1.50v1.50h-1.50zM400.5 478.5h1.50v1.50h-1.50zM400.5 480.0h1.50v1.50h-1.50zM402.0 471.0h1.50v1.50h-1.50zM402.0 472.5h1.50v1.50h-1.50zM402.0 474.0h1.50v1.50h-1.50zM402.0 475.5h1.50v1.50h-1.50zM402.0 477.0h1.50v1.50h-1.50zM403.5 472.5h1.50v1.50h-1.50zM403.5 474.0h1.50v1.50h-1.50zM403.5 475.5h1.50v1.50h-1.50zM405.0 472.5h1.50v1.50h-1.50zM405.0 474.0h1.50v1.50h-1.50zM408.0 474.0h1.50v1.50h-1.50zM408.0 475.5h1.50v1.50h-1.50zM409.5 474.0h1.50v1.50h-1.50zM409.5 475.5h1.50v1.50h-1.50zM411.0 475.5h1.50v1.50h-1.50zM412.5 475.5h1.50v1.50h-1.50zM414.0 475.5h1.50v1.50h-1.50zM414.0 477.0h1.50v1.50h-1.50zM414.0 478.5h1.50v1.50h-1.50zM415.5 480.0h1.50v1.50h-1.50zM417.0 477.0h1.50v1.50h-1.50zM417.0 478.5h1.50v1.50h-1.50zM417.0 480.0h1.50v1.50h-1.50zM418.5 478.5h1.50v1.50h-1.50zM418.5 481.5h1.50v1.50h-1.50zM420.0 478.5h1.50v1.50h-1.50zM420.0 481.5h1.50v1.50h-1.50zM420.0 483.0h1.50v1.50h-1.50zM421.5 478.5h1.50v1.50h-1.50zM421.5 480.0h1.50v1.50h-1.50zM421.5 481.5h1.50v1.50h-1.50z" fill="#1a1aff"/><path d="M405.0 475.5h1.50v1.50h-1.50zM406.5 474.0h1.50v1.50h-1.50zM415.5 478.5h1.50v1.50h-1.50zM418.5 480.0h1.50v1.50h-1.50zM420.0 480.0h1.50v1.50h-1.50z" fill="#ff4500"/>
<path d="M387.0 454.5h1.50v1.50h-1.50zM388.5 453.0h1.50v1.50h-1.50zM388.5 454.5h1.50v1.50h-1.50zM390.0 453.0h1.50v1.50h-1.50zM390.0 454.5h1.50v1.50h-1.50zM391.5 453.0h1.50v1.50h-1.50zM391.5 454.5h1.50v1.50h-1.50zM393.0 453.0h1.50v1.50h-1.50zM393.0 454.5h1.50v1.50h-1.50z" fill="#1a1aff"/>
<path d="M445.5 444.0h1.50v1.50h-1.50zM445.5 445.5h1.50v1.50h-1.50zM448.5 444.0h1.50v1.50h-1.50z" fill="#1a1aff"/><path d="M447.0 444.0h1.50v1.50h-1.50zM448.5 442.5h1.50v1.50h-1.50z" fill="#ff4500"/>
<path d="M439.5 444.0h1.50v1.50h-1.50zM439.5 445.5h1.50v1.50h-1.50zM441.0 442.5h1.50v1.50h-1.50z" fill="#ff4500"/><path d="M439.5 447.0h1.50v1.50h-1.50zM441.0 445.5h1.50v1.50h-1.50z" fill="#1a1aff"/>
<path d="M348.0 538.5h1.50v1.50h-1.50zM348.0 540.0h1.50v1.50h-1.50zM349.5 541.5h1.50v1.50h-1.50z" fill="#1a1aff"/><path d="M349.5 538.5h1.50v1.50h-1.50zM349.5 540.0h1.50v1.50h-1.50z" fill="#ff4500"/>
<path d="M360.0 526.5h1.50v1.50h-1.50zM361.5 526.5h1.50v1.50h-1.50z" fill="#1a1aff"/><path d="M361.5 525.0h1.50v1.50h-1.50z" fill="#ff4500"/>
<rect x="356.9" y="435.4" width="2.0" height="1.6" fill="#ff4500"/>
<rect x="403.6" y="453.2" width="2.0" height="1.6" fill="#1a1aff"/>
<rect x="443.6" y="405.3" width="2.0" height="1.6" fill="#ff4500"/>
<rect x="380.9" y="468.7" width="2.0" height="1.6" fill="#1a1aff"/>
<rect x="426.8" y="463.7" width="2.0" height="1.6" fill="#1a1aff"/>
<rect x="413.8" y="450.1" width="2.0" height="1.6" fill="#1a1aff"/>
<rect x="450.4" y="422.1" width="2.0" height="1.6" fill="#1a1aff"/>
<rect x="453.6" y="432.7" width="2.0" height="1.6" fill="#1a1aff"/>
<rect x="459.8" y="428.3" width="2.0" height="1.6" fill="#1a1aff"/>
<rect x="438.6" y="420.9" width="2.0" height="1.6" fill="#ff4500"/>
<rect x="459.1" y="412.2" width="2.0" height="1.6" fill="#ff4500"/>
<rect x="302.6" y="471.2" width="2.0" height="1.6" fill="#ff4500"/>
<rect x="305.7" y="469.3" width="2.0" height="1.6" fill="#1a1aff"/>
<rect x="308.8" y="466.8" width="2.0" height="1.6" fill="#ff4500"/>
<rect x="342.4" y="429.9" width="2.0" height="1.6" fill="#ff4500"/>
<rect x="402.6" y="468.1" width="2.0" height="1.6" fill="#1a1aff"/>
<rect x="399.5" y="447.3" width="2.0" height="1.6" fill="#1a1aff"/>
<rect x="353.9" y="531.4" width="2.0" height="1.6" fill="#ff4500"/>
<rect x="373.4" y="415.3" width="2.0" height="1.6" fill="#ff4500"/>
<rect x="287.7" y="517.5" width="2.0" height="1.6" fill="#1a1aff"/>
</g>
<use href="#over"/>
<text x="35.50" y="66.0" font-size="24.0" textLength="175.4" lengthAdjust="spacingAndGlyphs" >2A23 rain types</text>
<text x="438.4" y="523.6" font-size="29">(h)</text>
<rect x="495" y="40.9" width="9.2" height="169.4" fill="#ff4500"/><rect x="495" y="210.3" width="9.2" height="169" fill="#0000ff"/>
<rect x="495.1" y="41.0" width="9.0" height="507.2" fill="none" stroke="#222" stroke-width="0.9"/>
<path d="M504 41.0h2.6" stroke="#222" stroke-width="0.9"/>
<text x="507.21" y="48.4" font-size="19.8" textLength="46.4" lengthAdjust="spacingAndGlyphs" >Conv</text>
<path d="M504 210.2h2.6" stroke="#222" stroke-width="0.9"/>
<text x="507.31" y="217.6" font-size="19.8" textLength="41.9" lengthAdjust="spacingAndGlyphs" >Strat</text>
<path d="M504 379.3h2.6" stroke="#222" stroke-width="0.9"/>
<text x="506.62" y="386.7" font-size="19.8" textLength="34.0" lengthAdjust="spacingAndGlyphs" >N/A</text>
</g>
<g transform="translate(1181.2 1181.0)">
<g>
<path d="M316.5 460.5h1.50v1.50h-1.50zM316.5 462.0h1.50v1.50h-1.50zM333.0 451.5h1.50v1.50h-1.50zM334.5 454.5h1.50v1.50h-1.50z" fill="#b4b4b4"/><path d="M318.0 462.0h1.50v1.50h-1.50zM319.5 460.5h1.50v1.50h-1.50zM319.5 462.0h1.50v1.50h-1.50zM321.0 460.5h1.50v1.50h-1.50zM321.0 462.0h1.50v1.50h-1.50zM322.5 459.0h1.50v1.50h-1.50zM324.0 459.0h1.50v1.50h-1.50zM325.5 457.5h1.50v1.50h-1.50zM330.0 456.0h1.50v1.50h-1.50z" fill="#a4a4a4"/><path d="M322.5 460.5h1.50v1.50h-1.50z" fill="#b8b8b8"/><path d="M325.5 456.0h1.50v1.50h-1.50zM327.0 454.5h1.50v1.50h-1.50zM327.0 456.0h1.50v1.50h-1.50zM327.0 457.5h1.50v1.50h-1.50zM328.5 454.5h1.50v1.50h-1.50zM328.5 456.0h1.50v1.50h-1.50zM328.5 457.5h1.50v1.50h-1.50zM330.0 454.5h1.50v1.50h-1.50zM331.5 454.5h1.50v1.50h-1.50z" fill="#78e078"/><path d="M327.0 459.0h1.50v1.50h-1.50zM330.0 457.5h1.50v1.50h-1.50z" fill="#d0d0d0"/><path d="M333.0 453.0h1.50v1.50h-1.50z" fill="#909090"/>
<path d="M330.0 451.5h1.50v1.50h-1.50zM333.0 447.0h1.50v1.50h-1.50zM333.0 448.5h1.50v1.50h-1.50z" fill="#78e078"/><path d="M331.5 450.0h1.50v1.50h-1.50z" fill="#d0d0d0"/><path d="M333.0 450.0h1.50v1.50h-1.50zM334.5 448.5h1.50v1.50h-1.50z" fill="#909090"/><path d="M333.0 451.5h1.50v1.50h-1.50zM334.5 447.0h1.50v1.50h-1.50z" fill="#b8b8b8"/><path d="M334.5 445.5h1.50v1.50h-1.50z" fill="#b4b4b4"/><path d="M334.5 450.0h1.50v1.50h-1.50z" fill="#a4a4a4"/><path d="M334.5 451.5h1.50v1.50h-1.50zM336.0 448.5h1.50v1.50h-1.50z" fill="#c4c4c4"/>
<path d="M331.5 462.0h1.50v1.50h-1.50zM333.0 456.0h1.50v1.50h-1.50zM336.0 454.5h1.50v1.50h-1.50zM345.0 454.5h1.50v1.50h-1.50z" fill="#b4b4b4"/><path d="M331.5 463.5h1.50v1.50h-1.50zM333.0 457.5h1.50v1.50h-1.50zM340.5 451.5h1.50v1.50h-1.50zM342.0 451.5h1.50v1.50h-1.50z" fill="#d0d0d0"/><path d="M334.5 454.5h1.50v1.50h-1.50zM346.5 454.5h1.50v1.50h-1.50zM348.0 453.0h1.50v1.50h-1.50z" fill="#78e078"/><path d="M336.0 453.0h1.50v1.50h-1.50zM343.5 453.0h1.50v1.50h-1.50zM345.0 453.0h1.50v1.50h-1.50z" fill="#909090"/><path d="M337.5 453.0h1.50v1.50h-1.50zM339.0 453.0h1.50v1.50h-1.50zM340.5 453.0h1.50v1.50h-1.50z" fill="#a4a4a4"/><path d="M342.0 453.0h1.50v1.50h-1.50zM346.5 453.0h1.50v1.50h-1.50z" fill="#b8b8b8"/>
<path d="M339.0 441.0h1.50v1.50h-1.50zM342.0 444.0h1.50v1.50h-1.50zM345.0 442.5h1.50v1.50h-1.50z" fill="#b4b4b4"/><path d="M340.5 441.0h1.50v1.50h-1.50zM340.5 442.5h1.50v1.50h-1.50zM342.0 442.5h1.50v1.50h-1.50z" fill="#78e078"/><path d="M342.0 441.0h1.50v1.50h-1.50z" fill="#d0d0d0"/><path d="M343.5 439.5h1.50v1.50h-1.50z" fill="#c4c4c4"/><path d="M343.5 441.0h1.50v1.50h-1.50zM343.5 442.5h1.50v1.50h-1.50zM345.0 441.0h1.50v1.50h-1.50z" fill="#a4a4a4"/><path d="M345.0 439.5h1.50v1.50h-1.50z" fill="#b8b8b8"/>
<path d="M304.5 475.5h1.50v1.50h-1.50zM306.0 475.5h1.50v1.50h-1.50zM306.0 477.0h1.50v1.50h-1.50z" fill="#78e078"/><path d="M304.5 478.5h1.50v1.50h-1.50z" fill="#b4b4b4"/><path d="M307.5 475.5h1.50v1.50h-1.50z" fill="#d0d0d0"/>
<path d="M411.0 460.5h1.50v1.50h-1.50zM412.5 460.5h1.50v1.50h-1.50zM414.0 459.0h1.50v1.50h-1.50zM414.0 460.5h1.50v1.50h-1.50zM415.5 459.0h1.50v1.50h-1.50zM415.5 460.5h1.50v1.50h-1.50zM415.5 462.0h1.50v1.50h-1.50zM421.5 453.0h1.50v1.50h-1.50zM421.5 454.5h1.50v1.50h-1.50zM421.5 456.0h1.50v1.50h-1.50zM421.5 457.5h1.50v1.50h-1.50zM423.0 453.0h1.50v1.50h-1.50zM423.0 454.5h1.50v1.50h-1.50zM424.5 451.5h1.50v1.50h-1.50zM424.5 453.0h1.50v1.50h-1.50zM426.0 451.5h1.50v1.50h-1.50zM426.0 453.0h1.50v1.50h-1.50zM427.5 454.5h1.50v1.50h-1.50zM427.5 456.0h1.50v1.50h-1.50zM429.0 450.0h1.50v1.50h-1.50zM429.0 454.5h1.50v1.50h-1.50zM430.5 448.5h1.50v1.50h-1.50zM430.5 450.0h1.50v1.50h-1.50zM430.5 454.5h1.50v1.50h-1.50zM430.5 456.0h1.50v1.50h-1.50zM432.0 450.0h1.50v1.50h-1.50zM433.5 456.0h1.50v1.50h-1.50zM435.0 453.0h1.50v1.50h-1.50zM435.0 454.5h1.50v1.50h-1.50z" fill="#78e078"/><path d="M414.0 456.0h1.50v1.50h-1.50zM418.5 460.5h1.50v1.50h-1.50zM430.5 459.0h1.50v1.50h-1.50z" fill="#b4b4b4"/><path d="M414.0 457.5h1.50v1.50h-1.50zM417.0 456.0h1.50v1.50h-1.50zM417.0 460.5h1.50v1.50h-1.50zM418.5 457.5h1.50v1.50h-1.50zM420.0 456.0h1.50v1.50h-1.50zM423.0 459.0h1.50v1.50h-1.50zM424.5 456.0h1.50v1.50h-1.50zM429.0 453.0h1.50v1.50h-1.50zM429.0 457.5h1.50v1.50h-1.50zM430.5 453.0h1.50v1.50h-1.50zM432.0 451.5h1.50v1.50h-1.50zM432.0 453.0h1.50v1.50h-1.50zM432.0 456.0h1.50v1.50h-1.50zM433.5 453.0h1.50v1.50h-1.50zM436.5 453.0h1.50v1.50h-1.50z" fill="#909090"/><path d="M414.0 462.0h1.50v1.50h-1.50zM417.0 457.5h1.50v1.50h-1.50zM417.0 459.0h1.50v1.50h-1.50zM418.5 456.0h1.50v1.50h-1.50zM420.0 454.5h1.50v1.50h-1.50zM420.0 459.0h1.50v1.50h-1.50zM424.5 454.5h1.50v1.50h-1.50zM424.5 459.0h1.50v1.50h-1.50zM426.0 454.5h1.50v1.50h-1.50zM426.0 456.0h1.50v1.50h-1.50zM426.0 457.5h1.50v1.50h-1.50zM427.5 459.0h1.50v1.50h-1.50zM429.0 456.0h1.50v1.50h-1.50zM429.0 459.0h1.50v1.50h-1.50zM430.5 451.5h1.50v1.50h-1.50zM433.5 448.5h1.50v1.50h-1.50zM436.5 450.0h1.50v1.50h-1.50zM436.5 451.5h1.50v1.50h-1.50z" fill="#b8b8b8"/><path d="M415.5 456.0h1.50v1.50h-1.50zM415.5 457.5h1.50v1.50h-1.50zM418.5 454.5h1.50v1.50h-1.50zM418.5 459.0h1.50v1.50h-1.50zM421.5 459.0h1.50v1.50h-1.50zM426.0 459.0h1.50v1.50h-1.50zM427.5 450.0h1.50v1.50h-1.50zM427.5 453.0h1.50v1.50h-1.50zM429.0 451.5h1.50v1.50h-1.50zM430.5 457.5h1.50v1.50h-1.50zM432.0 454.5h1.50v1.50h-1.50zM433.5 451.5h1.50v1.50h-1.50zM433.5 454.5h1.50v1.50h-1.50zM435.0 450.0h1.50v1.50h-1.50zM435.0 451.5h1.50v1.50h-1.50zM436.5 454.5h1.50v1.50h-1.50z" fill="#a4a4a4"/><path d="M417.0 454.5h1.50v1.50h-1.50zM423.0 451.5h1.50v1.50h-1.50zM433.5 457.5h1.50v1.50h-1.50z" fill="#d0d0d0"/><path d="M435.0 448.5h1.50v1.50h-1.50z" fill="#c4c4c4"/>
<path d="M435.0 439.5h1.50v1.50h-1.50zM438.0 436.5h1.50v1.50h-1.50zM438.0 441.0h1.50v1.50h-1.50zM438.0 442.5h1.50v1.50h-1.50zM442.5 435.0h1.50v1.50h-1.50zM444.0 429.0h1.50v1.50h-1.50zM444.0 430.5h1.50v1.50h-1.50zM444.0 432.0h1.50v1.50h-1.50zM444.0 433.5h1.50v1.50h-1.50zM445.5 429.0h1.50v1.50h-1.50zM445.5 430.5h1.50v1.50h-1.50zM445.5 432.0h1.50v1.50h-1.50zM445.5 433.5h1.50v1.50h-1.50zM447.0 432.0h1.50v1.50h-1.50z" fill="#78e078"/><path d="M435.0 441.0h1.50v1.50h-1.50zM436.5 439.5h1.50v1.50h-1.50zM438.0 435.0h1.50v1.50h-1.50zM438.0 439.5h1.50v1.50h-1.50zM441.0 432.0h1.50v1.50h-1.50zM447.0 429.0h1.50v1.50h-1.50zM448.5 430.5h1.50v1.50h-1.50z" fill="#b8b8b8"/><path d="M435.0 442.5h1.50v1.50h-1.50zM438.0 433.5h1.50v1.50h-1.50zM442.5 429.0h1.50v1.50h-1.50zM447.0 427.5h1.50v1.50h-1.50zM450.0 433.5h1.50v1.50h-1.50z" fill="#b4b4b4"/><path d="M436.5 435.0h1.50v1.50h-1.50zM439.5 432.0h1.50v1.50h-1.50zM445.5 427.5h1.50v1.50h-1.50z" fill="#d0d0d0"/><path d="M436.5 436.5h1.50v1.50h-1.50zM436.5 441.0h1.50v1.50h-1.50zM436.5 442.5h1.50v1.50h-1.50zM438.0 438.0h1.50v1.50h-1.50zM439.5 433.5h1.50v1.50h-1.50zM439.5 435.0h1.50v1.50h-1.50zM439.5 436.5h1.50v1.50h-1.50zM441.0 433.5h1.50v1.50h-1.50zM441.0 435.0h1.50v1.50h-1.50zM442.5 430.5h1.50v1.50h-1.50z" fill="#a4a4a4"/><path d="M436.5 438.0h1.50v1.50h-1.50zM442.5 432.0h1.50v1.50h-1.50zM448.5 432.0h1.50v1.50h-1.50z" fill="#909090"/><path d="M441.0 430.5h1.50v1.50h-1.50z" fill="#c4c4c4"/>
<path d="M423.0 448.5h1.50v1.50h-1.50z" fill="#c4c4c4"/><path d="M424.5 444.0h1.50v1.50h-1.50z" fill="#d0d0d0"/><path d="M424.5 445.5h1.50v1.50h-1.50zM426.0 445.5h1.50v1.50h-1.50z" fill="#a4a4a4"/><path d="M424.5 447.0h1.50v1.50h-1.50zM426.0 447.0h1.50v1.50h-1.50zM427.5 447.0h1.50v1.50h-1.50z" fill="#78e078"/><path d="M427.5 445.5h1.50v1.50h-1.50z" fill="#909090"/><path d="M429.0 445.5h1.50v1.50h-1.50zM429.0 447.0h1.50v1.50h-1.50z" fill="#b4b4b4"/>
<path d="M459.0 417.0h1.50v1.50h-1.50zM463.5 417.0h1.50v1.50h-1.50zM468.0 414.0h1.50v1.50h-1.50zM469.5 412.5h1.50v1.50h-1.50zM471.0 412.5h1.50v1.50h-1.50z" fill="#a4a4a4"/><path d="M460.5 417.0h1.50v1.50h-1.50zM462.0 417.0h1.50v1.50h-1.50zM466.5 415.5h1.50v1.50h-1.50z" fill="#b8b8b8"/><path d="M460.5 418.5h1.50v1.50h-1.50z" fill="#d0d0d0"/><path d="M462.0 415.5h1.50v1.50h-1.50zM463.5 414.0h1.50v1.50h-1.50zM465.0 414.0h1.50v1.50h-1.50zM466.5 412.5h1.50v1.50h-1.50zM468.0 412.5h1.50v1.50h-1.50zM472.5 411.0h1.50v1.50h-1.50z" fill="#78e078"/><path d="M465.0 415.5h1.50v1.50h-1.50zM466.5 414.0h1.50v1.50h-1.50zM469.5 414.0h1.50v1.50h-1.50z" fill="#909090"/><path d="M465.0 417.0h1.50v1.50h-1.50zM471.0 411.0h1.50v1.50h-1.50z" fill="#b4b4b4"/>
<path d="M457.5 420.0h1.50v1.50h-1.50z" fill="#c4c4c4"/><path d="M457.5 423.0h1.50v1.50h-1.50z" fill="#78e078"/><path d="M459.0 420.0h1.50v1.50h-1.50z" fill="#b4b4b4"/><path d="M459.0 421.5h1.50v1.50h-1.50zM462.0 423.0h1.50v1.50h-1.50z" fill="#b8b8b8"/><path d="M459.0 423.0h1.50v1.50h-1.50z" fill="#a4a4a4"/><path d="M460.5 421.5h1.50v1.50h-1.50zM460.5 423.0h1.50v1.50h-1.50z" fill="#909090"/><path d="M463.5 423.0h1.50v1.50h-1.50z" fill="#d0d0d0"/>
<path d="M466.5 441.0h1.50v1.50h-1.50zM474.0 439.5h1.50v1.50h-1.50zM477.0 436.5h1.50v1.50h-1.50z" fill="#d0d0d0"/><path d="M468.0 439.5h1.50v1.50h-1.50zM469.5 439.5h1.50v1.50h-1.50zM471.0 439.5h1.50v1.50h-1.50zM475.5 436.5h1.50v1.50h-1.50z" fill="#b8b8b8"/><path d="M468.0 441.0h1.50v1.50h-1.50zM469.5 441.0h1.50v1.50h-1.50zM478.5 433.5h1.50v1.50h-1.50z" fill="#b4b4b4"/><path d="M469.5 438.0h1.50v1.50h-1.50zM474.0 435.0h1.50v1.50h-1.50zM474.0 436.5h1.50v1.50h-1.50zM474.0 438.0h1.50v1.50h-1.50zM475.5 435.0h1.50v1.50h-1.50zM477.0 433.5h1.50v1.50h-1.50z" fill="#a4a4a4"/><path d="M471.0 435.0h1.50v1.50h-1.50zM471.0 436.5h1.50v1.50h-1.50zM472.5 436.5h1.50v1.50h-1.50zM478.5 435.0h1.50v1.50h-1.50z" fill="#78e078"/><path d="M472.5 438.0h1.50v1.50h-1.50z" fill="#909090"/><path d="M472.5 439.5h1.50v1.50h-1.50z" fill="#c4c4c4"/>
<path d="M394.5 475.5h1.50v1.50h-1.50zM394.5 477.0h1.50v1.50h-1.50zM396.0 477.0h1.50v1.50h-1.50zM397.5 478.5h1.50v1.50h-1.50zM397.5 480.0h1.50v1.50h-1.50zM399.0 474.0h1.50v1.50h-1.50zM399.0 475.5h1.50v1.50h-1.50zM399.0 477.0h1.50v1.50h-1.50zM399.0 480.0h1.50v1.50h-1.50zM399.0 481.5h1.50v1.50h-1.50zM400.5 474.0h1.50v1.50h-1.50zM400.5 475.5h1.50v1.50h-1.50zM400.5 477.0h1.50v1.50h-1.50zM400.5 481.5h1.50v1.50h-1.50zM402.0 472.5h1.50v1.50h-1.50zM403.5 472.5h1.50v1.50h-1.50zM403.5 474.0h1.50v1.50h-1.50zM408.0 474.0h1.50v1.50h-1.50zM409.5 474.0h1.50v1.50h-1.50zM411.0 475.5h1.50v1.50h-1.50zM414.0 477.0h1.50v1.50h-1.50zM418.5 478.5h1.50v1.50h-1.50zM420.0 478.5h1.50v1.50h-1.50zM420.0 480.0h1.50v1.50h-1.50zM420.0 481.5h1.50v1.50h-1.50zM421.5 480.0h1.50v1.50h-1.50z" fill="#78e078"/><path d="M394.5 478.5h1.50v1.50h-1.50zM396.0 478.5h1.50v1.50h-1.50zM400.5 472.5h1.50v1.50h-1.50zM400.5 478.5h1.50v1.50h-1.50zM421.5 481.5h1.50v1.50h-1.50z" fill="#b8b8b8"/><path d="M396.0 474.0h1.50v1.50h-1.50zM396.0 475.5h1.50v1.50h-1.50zM396.0 480.0h1.50v1.50h-1.50zM397.5 474.0h1.50v1.50h-1.50zM402.0 475.5h1.50v1.50h-1.50zM403.5 475.5h1.50v1.50h-1.50zM405.0 472.5h1.50v1.50h-1.50zM405.0 475.5h1.50v1.50h-1.50zM415.5 477.0h1.50v1.50h-1.50zM415.5 478.5h1.50v1.50h-1.50z" fill="#a4a4a4"/><path d="M397.5 472.5h1.50v1.50h-1.50zM402.0 471.0h1.50v1.50h-1.50zM402.0 477.0h1.50v1.50h-1.50zM411.0 474.0h1.50v1.50h-1.50zM414.0 475.5h1.50v1.50h-1.50zM414.0 478.5h1.50v1.50h-1.50zM421.5 478.5h1.50v1.50h-1.50z" fill="#c4c4c4"/><path d="M397.5 475.5h1.50v1.50h-1.50zM397.5 477.0h1.50v1.50h-1.50zM402.0 474.0h1.50v1.50h-1.50zM406.5 474.0h1.50v1.50h-1.50zM412.5 475.5h1.50v1.50h-1.50zM417.0 478.5h1.50v1.50h-1.50zM417.0 480.0h1.50v1.50h-1.50z" fill="#909090"/><path d="M399.0 472.5h1.50v1.50h-1.50zM406.5 472.5h1.50v1.50h-1.50zM417.0 481.5h1.50v1.50h-1.50zM420.0 483.0h1.50v1.50h-1.50z" fill="#d0d0d0"/><path d="M406.5 475.5h1.50v1.50h-1.50zM417.0 477.0h1.50v1.50h-1.50zM421.5 483.0h1.50v1.50h-1.50z" fill="#b4b4b4"/>
<path d="M387.0 454.5h1.50v1.50h-1.50zM388.5 453.0h1.50v1.50h-1.50z" fill="#d0d0d0"/><path d="M388.5 454.5h1.50v1.50h-1.50zM390.0 453.0h1.50v1.50h-1.50zM393.0 453.0h1.50v1.50h-1.50z" fill="#909090"/><path d="M390.0 456.0h1.50v1.50h-1.50z" fill="#78e078"/><path d="M391.5 453.0h1.50v1.50h-1.50z" fill="#a4a4a4"/><path d="M391.5 454.5h1.50v1.50h-1.50z" fill="#b8b8b8"/>
<path d="M445.5 444.0h1.50v1.50h-1.50z" fill="#a4a4a4"/><path d="M447.0 444.0h1.50v1.50h-1.50zM448.5 442.5h1.50v1.50h-1.50zM448.5 444.0h1.50v1.50h-1.50z" fill="#78e078"/><path d="M448.5 445.5h1.50v1.50h-1.50zM450.0 444.0h1.50v1.50h-1.50z" fill="#b4b4b4"/>
<path d="M439.5 442.5h1.50v1.50h-1.50z" fill="#b4b4b4"/><path d="M439.5 444.0h1.50v1.50h-1.50z" fill="#909090"/><path d="M439.5 445.5h1.50v1.50h-1.50zM439.5 447.0h1.50v1.50h-1.50z" fill="#b8b8b8"/><path d="M441.0 445.5h1.50v1.50h-1.50z" fill="#a4a4a4"/><path d="M441.0 447.0h1.50v1.50h-1.50z" fill="#c4c4c4"/>
<path d="M346.5 540.0h1.50v1.50h-1.50zM351.0 540.0h1.50v1.50h-1.50z" fill="#b4b4b4"/><path d="M348.0 538.5h1.50v1.50h-1.50zM349.5 540.0h1.50v1.50h-1.50z" fill="#a4a4a4"/><path d="M348.0 540.0h1.50v1.50h-1.50z" fill="#909090"/><path d="M348.0 541.5h1.50v1.50h-1.50z" fill="#78e078"/><path d="M349.5 538.5h1.50v1.50h-1.50z" fill="#b8b8b8"/>
<path d="M361.5 525.0h1.50v1.50h-1.50z" fill="#78e078"/><path d="M361.5 526.5h1.50v1.50h-1.50z" fill="#b8b8b8"/>
<rect x="356.9" y="435.4" width="2.0" height="1.6" fill="#c0c0c0"/>
<rect x="403.6" y="453.2" width="2.0" height="1.6" fill="#78e078"/>
<rect x="443.6" y="405.3" width="2.0" height="1.6" fill="#c0c0c0"/>
<rect x="380.9" y="468.7" width="2.0" height="1.6" fill="#c0c0c0"/>
<rect x="426.8" y="463.7" width="2.0" height="1.6" fill="#78e078"/>
<rect x="413.8" y="450.1" width="2.0" height="1.6" fill="#a8a8a8"/>
<rect x="450.4" y="422.1" width="2.0" height="1.6" fill="#78e078"/>
<rect x="453.6" y="432.7" width="2.0" height="1.6" fill="#c0c0c0"/>
<rect x="459.8" y="428.3" width="2.0" height="1.6" fill="#c0c0c0"/>
<rect x="438.6" y="420.9" width="2.0" height="1.6" fill="#78e078"/>
<rect x="459.1" y="412.2" width="2.0" height="1.6" fill="#a8a8a8"/>
<rect x="302.6" y="471.2" width="2.0" height="1.6" fill="#78e078"/>
<rect x="305.7" y="469.3" width="2.0" height="1.6" fill="#a8a8a8"/>
<rect x="308.8" y="466.8" width="2.0" height="1.6" fill="#a8a8a8"/>
<rect x="342.4" y="429.9" width="2.0" height="1.6" fill="#c0c0c0"/>
<rect x="402.6" y="468.1" width="2.0" height="1.6" fill="#78e078"/>
<rect x="399.5" y="447.3" width="2.0" height="1.6" fill="#c0c0c0"/>
<rect x="353.9" y="531.4" width="2.0" height="1.6" fill="#c0c0c0"/>
<rect x="373.4" y="415.3" width="2.0" height="1.6" fill="#a8a8a8"/>
<rect x="287.7" y="517.5" width="2.0" height="1.6" fill="#a8a8a8"/>
</g>
<use href="#over"/>
<text x="35.30" y="66.0" font-size="24.0" textLength="261.9" lengthAdjust="spacingAndGlyphs" >2A23 storm height (km)</text>
<text x="438.4" y="523.6" font-size="29">(i)</text>
<rect x="495.0" y="531.28" width="9.2" height="8.76" fill="#f7f7f7"/>
<rect x="495.0" y="522.83" width="9.2" height="8.76" fill="#efefef"/>
<rect x="495.0" y="514.37" width="9.2" height="8.76" fill="#e6e6e6"/>
<rect x="495.0" y="505.91" width="9.2" height="8.76" fill="#dedede"/>
<rect x="495.0" y="497.45" width="9.2" height="8.76" fill="#d6d6d6"/>
<rect x="495.0" y="488.99" width="9.2" height="8.76" fill="#cdcdcd"/>
<rect x="495.0" y="480.53" width="9.2" height="8.76" fill="#c4c4c4"/>
<rect x="495.0" y="472.08" width="9.2" height="8.76" fill="#bcbcbc"/>
<rect x="495.0" y="463.62" width="9.2" height="8.76" fill="#b5b5b5"/>
<rect x="495.0" y="455.16" width="9.2" height="8.76" fill="#aeaeae"/>
<rect x="495.0" y="446.70" width="9.2" height="8.76" fill="#a6a6a6"/>
<rect x="495.0" y="438.24" width="9.2" height="8.76" fill="#a0a0a0"/>
<rect x="495.0" y="429.78" width="9.2" height="8.76" fill="#999999"/>
<rect x="495.0" y="421.33" width="9.2" height="8.76" fill="#929292"/>
<rect x="495.0" y="412.87" width="9.2" height="8.76" fill="#84e284"/>
<rect x="495.0" y="404.41" width="9.2" height="8.76" fill="#7dd87d"/>
<rect x="495.0" y="395.95" width="9.2" height="8.76" fill="#76cd76"/>
<rect x="495.0" y="387.49" width="9.2" height="8.76" fill="#6fc26f"/>
<rect x="495.0" y="379.03" width="9.2" height="8.76" fill="#68b868"/>
<rect x="495.0" y="370.58" width="9.2" height="8.76" fill="#d0d8ff"/>
<rect x="495.0" y="362.12" width="9.2" height="8.76" fill="#b9ceff"/>
<rect x="495.0" y="353.66" width="9.2" height="8.76" fill="#a2c4ff"/>
<rect x="495.0" y="345.20" width="9.2" height="8.76" fill="#8bbbff"/>
<rect x="495.0" y="336.74" width="9.2" height="8.76" fill="#72b2ff"/>
<rect x="495.0" y="328.28" width="9.2" height="8.76" fill="#57aaff"/>
<rect x="495.0" y="319.83" width="9.2" height="8.76" fill="#4b97ff"/>
<rect x="495.0" y="311.37" width="9.2" height="8.76" fill="#4480ff"/>
<rect x="495.0" y="302.91" width="9.2" height="8.76" fill="#3f65ff"/>
<rect x="495.0" y="294.45" width="9.2" height="8.76" fill="#3849ff"/>
<rect x="495.0" y="285.99" width="9.2" height="8.76" fill="#282eff"/>
<rect x="495.0" y="277.53" width="9.2" height="8.76" fill="#1717fb"/>
<rect x="495.0" y="269.08" width="9.2" height="8.76" fill="#0505f2"/>
<rect x="495.0" y="260.62" width="9.2" height="8.76" fill="#0000df"/>
<rect x="495.0" y="252.16" width="9.2" height="8.76" fill="#0000c8"/>
<rect x="495.0" y="243.70" width="9.2" height="8.76" fill="#ffff00"/>
<rect x="495.0" y="235.24" width="9.2" height="8.76" fill="#fff100"/>
<rect x="495.0" y="226.78" width="9.2" height="8.76" fill="#ffe400"/>
<rect x="495.0" y="218.33" width="9.2" height="8.76" fill="#ffd600"/>
<rect x="495.0" y="209.87" width="9.2" height="8.76" fill="#ffc800"/>
<rect x="495.0" y="201.41" width="9.2" height="8.76" fill="#ff9600"/>
<rect x="495.0" y="192.95" width="9.2" height="8.76" fill="#ff8c00"/>
<rect x="495.0" y="184.49" width="9.2" height="8.76" fill="#ff8200"/>
<rect x="495.0" y="176.03" width="9.2" height="8.76" fill="#ff7800"/>
<rect x="495.0" y="167.58" width="9.2" height="8.76" fill="#ff6e00"/>
<rect x="495.0" y="159.12" width="9.2" height="8.76" fill="#ff4000"/>
<rect x="495.0" y="150.66" width="9.2" height="8.76" fill="#ff3500"/>
<rect x="495.0" y="142.20" width="9.2" height="8.76" fill="#ff2a00"/>
<rect x="495.0" y="133.74" width="9.2" height="8.76" fill="#ff1f00"/>
<rect x="495.0" y="125.28" width="9.2" height="8.76" fill="#ff1400"/>
<rect x="495.0" y="116.82" width="9.2" height="8.76" fill="#c80000"/>
<rect x="495.0" y="108.37" width="9.2" height="8.76" fill="#be0000"/>
<rect x="495.0" y="99.91" width="9.2" height="8.76" fill="#b40000"/>
<rect x="495.0" y="91.45" width="9.2" height="8.76" fill="#aa0000"/>
<rect x="495.0" y="82.99" width="9.2" height="8.76" fill="#a00000"/>
<rect x="495.0" y="74.53" width="9.2" height="8.76" fill="#640a00"/>
<rect x="495.0" y="66.07" width="9.2" height="8.76" fill="#620c05"/>
<rect x="495.0" y="57.62" width="9.2" height="8.76" fill="#5f0f0a"/>
<rect x="495.0" y="49.16" width="9.2" height="8.76" fill="#5c120f"/>
<rect x="495.0" y="40.70" width="9.2" height="8.76" fill="#5a1414"/>
<path d="M503.9 548.20h2.6" stroke="#222" stroke-width="0.9"/>
<text x="518.75" y="556.2" font-size="18.6" textLength="28.0" lengthAdjust="spacingAndGlyphs" >0.0</text>
<path d="M503.9 497.45h2.6" stroke="#222" stroke-width="0.9"/>
<text x="518.47" y="505.5" font-size="18.6" textLength="28.3" lengthAdjust="spacingAndGlyphs" >2.0</text>
<path d="M503.9 446.70h2.6" stroke="#222" stroke-width="0.9"/>
<text x="519.03" y="454.7" font-size="18.6" textLength="27.7" lengthAdjust="spacingAndGlyphs" >4.0</text>
<path d="M503.9 395.95h2.6" stroke="#222" stroke-width="0.9"/>
<text x="518.47" y="404.0" font-size="18.6" textLength="28.3" lengthAdjust="spacingAndGlyphs" >6.0</text>
<path d="M503.9 345.20h2.6" stroke="#222" stroke-width="0.9"/>
<text x="518.66" y="353.2" font-size="18.6" textLength="28.1" lengthAdjust="spacingAndGlyphs" >8.0</text>
<path d="M503.9 294.45h2.6" stroke="#222" stroke-width="0.9"/>
<text x="513.00" y="302.5" font-size="18.6" textLength="38.8" lengthAdjust="spacingAndGlyphs" >10.0</text>
<path d="M503.9 243.70h2.6" stroke="#222" stroke-width="0.9"/>
<text x="513.00" y="251.7" font-size="18.6" textLength="38.8" lengthAdjust="spacingAndGlyphs" >12.0</text>
<path d="M503.9 192.95h2.6" stroke="#222" stroke-width="0.9"/>
<text x="513.00" y="201.0" font-size="18.6" textLength="38.8" lengthAdjust="spacingAndGlyphs" >14.0</text>
<path d="M503.9 142.20h2.6" stroke="#222" stroke-width="0.9"/>
<text x="513.00" y="150.2" font-size="18.6" textLength="38.8" lengthAdjust="spacingAndGlyphs" >16.0</text>
<path d="M503.9 91.45h2.6" stroke="#222" stroke-width="0.9"/>
<text x="513.00" y="99.4" font-size="18.6" textLength="38.8" lengthAdjust="spacingAndGlyphs" >18.0</text>
</g>
</svg></body></html>
